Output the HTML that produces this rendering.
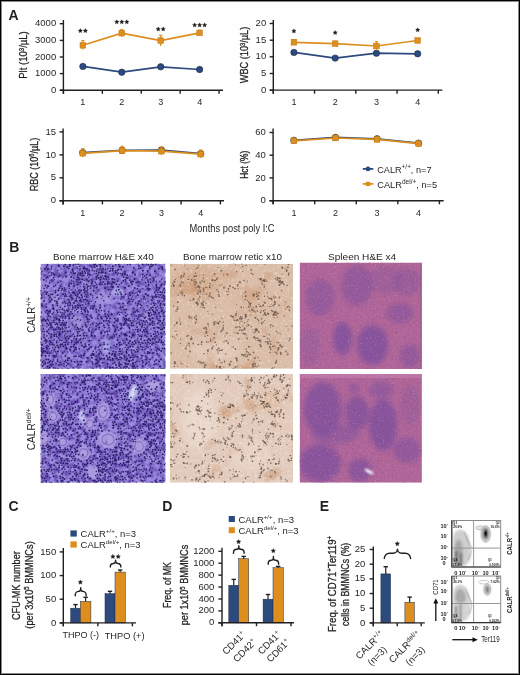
<!DOCTYPE html>
<html><head><meta charset="utf-8"><title>Figure</title>
<style>
html,body{margin:0;padding:0;background:#fff;}
body{width:520px;height:675px;overflow:hidden;position:relative;}
svg{position:absolute;left:0;top:0;display:block;will-change:transform;}
text{font-family:"Liberation Sans", sans-serif;fill:#231f20;}
.h{stroke:#231f20;stroke-width:0.3px;}
</style></head>
<body>
<svg width="520" height="675" viewBox="0 0 520 675">
<rect x="0" y="0" width="520" height="675" fill="#fff"/>
<text x="8.4" y="19.6" font-size="14" font-weight="bold" >A</text>
<line x1="63.4" y1="20.0" x2="63.4" y2="93.8" stroke="#231f20" stroke-width="1.4"/>
<line x1="59.8" y1="90.2" x2="223.0" y2="90.2" stroke="#231f20" stroke-width="1.4"/>
<line x1="59.8" y1="23.7" x2="63.4" y2="23.7" stroke="#231f20" stroke-width="1.4"/>
<line x1="59.8" y1="40.4" x2="63.4" y2="40.4" stroke="#231f20" stroke-width="1.4"/>
<line x1="59.8" y1="57.0" x2="63.4" y2="57.0" stroke="#231f20" stroke-width="1.4"/>
<line x1="59.8" y1="73.6" x2="63.4" y2="73.6" stroke="#231f20" stroke-width="1.4"/>
<line x1="59.8" y1="90.2" x2="63.4" y2="90.2" stroke="#231f20" stroke-width="1.4"/>
<line x1="63.4" y1="90.2" x2="63.4" y2="93.8" stroke="#231f20" stroke-width="1.4"/>
<line x1="102.32499999999999" y1="90.2" x2="102.32499999999999" y2="93.8" stroke="#231f20" stroke-width="1.4"/>
<line x1="141.25" y1="90.2" x2="141.25" y2="93.8" stroke="#231f20" stroke-width="1.4"/>
<line x1="180.17499999999998" y1="90.2" x2="180.17499999999998" y2="93.8" stroke="#231f20" stroke-width="1.4"/>
<line x1="219.1" y1="90.2" x2="219.1" y2="93.8" stroke="#231f20" stroke-width="1.4"/>
<text x="56.2" y="26.3" font-size="9.5" text-anchor="end" >4000</text>
<text x="56.2" y="43.0" font-size="9.5" text-anchor="end" >3000</text>
<text x="56.2" y="59.6" font-size="9.5" text-anchor="end" >2000</text>
<text x="56.2" y="76.2" font-size="9.5" text-anchor="end" >1000</text>
<text x="56.2" y="92.8" font-size="9.5" text-anchor="end" >0</text>
<text x="82.86" y="105.0" font-size="9" text-anchor="middle" >1</text>
<text x="121.79" y="105.0" font-size="9" text-anchor="middle" >2</text>
<text x="160.71" y="105.0" font-size="9" text-anchor="middle" >3</text>
<text x="199.64" y="105.0" font-size="9" text-anchor="middle" >4</text>
<text transform="translate(27.3,55.0) rotate(-90)" font-size="11.2" class="h" text-anchor="middle" textLength="47.5" lengthAdjust="spacingAndGlyphs" >Plt (10<tspan dy="-3.2" font-size="7">3</tspan><tspan dy="3.2">/µL)</tspan></text>
<line x1="273.3" y1="20.0" x2="273.3" y2="93.69999999999999" stroke="#231f20" stroke-width="1.4"/>
<line x1="269.7" y1="90.1" x2="442.3" y2="90.1" stroke="#231f20" stroke-width="1.4"/>
<line x1="269.7" y1="23.5" x2="273.3" y2="23.5" stroke="#231f20" stroke-width="1.4"/>
<line x1="269.7" y1="40.2" x2="273.3" y2="40.2" stroke="#231f20" stroke-width="1.4"/>
<line x1="269.7" y1="56.8" x2="273.3" y2="56.8" stroke="#231f20" stroke-width="1.4"/>
<line x1="269.7" y1="73.5" x2="273.3" y2="73.5" stroke="#231f20" stroke-width="1.4"/>
<line x1="269.7" y1="90.1" x2="273.3" y2="90.1" stroke="#231f20" stroke-width="1.4"/>
<line x1="273.3" y1="90.1" x2="273.3" y2="93.69999999999999" stroke="#231f20" stroke-width="1.4"/>
<line x1="314.55" y1="90.1" x2="314.55" y2="93.69999999999999" stroke="#231f20" stroke-width="1.4"/>
<line x1="355.8" y1="90.1" x2="355.8" y2="93.69999999999999" stroke="#231f20" stroke-width="1.4"/>
<line x1="397.05" y1="90.1" x2="397.05" y2="93.69999999999999" stroke="#231f20" stroke-width="1.4"/>
<line x1="438.3" y1="90.1" x2="438.3" y2="93.69999999999999" stroke="#231f20" stroke-width="1.4"/>
<text x="266.2" y="26.1" font-size="9.5" text-anchor="end" >20</text>
<text x="266.2" y="42.8" font-size="9.5" text-anchor="end" >15</text>
<text x="266.2" y="59.4" font-size="9.5" text-anchor="end" >10</text>
<text x="266.2" y="76.1" font-size="9.5" text-anchor="end" >5</text>
<text x="266.2" y="92.7" font-size="9.5" text-anchor="end" >0</text>
<text x="293.93" y="104.8" font-size="9" text-anchor="middle" >1</text>
<text x="335.18" y="104.8" font-size="9" text-anchor="middle" >2</text>
<text x="376.43" y="104.8" font-size="9" text-anchor="middle" >3</text>
<text x="417.68" y="104.8" font-size="9" text-anchor="middle" >4</text>
<text transform="translate(247.8,55.0) rotate(-90)" font-size="11.2" class="h" text-anchor="middle" textLength="56.6" lengthAdjust="spacingAndGlyphs" >WBC (10<tspan dy="-3.2" font-size="7">3</tspan><tspan dy="3.2">/µL)</tspan></text>
<line x1="63.1" y1="128.6" x2="63.1" y2="204.4" stroke="#231f20" stroke-width="1.4"/>
<line x1="59.5" y1="200.8" x2="224.0" y2="200.8" stroke="#231f20" stroke-width="1.4"/>
<line x1="59.5" y1="131.9" x2="63.1" y2="131.9" stroke="#231f20" stroke-width="1.4"/>
<line x1="59.5" y1="154.9" x2="63.1" y2="154.9" stroke="#231f20" stroke-width="1.4"/>
<line x1="59.5" y1="177.8" x2="63.1" y2="177.8" stroke="#231f20" stroke-width="1.4"/>
<line x1="59.5" y1="200.8" x2="63.1" y2="200.8" stroke="#231f20" stroke-width="1.4"/>
<line x1="63.1" y1="200.8" x2="63.1" y2="204.4" stroke="#231f20" stroke-width="1.4"/>
<line x1="102.42500000000001" y1="200.8" x2="102.42500000000001" y2="204.4" stroke="#231f20" stroke-width="1.4"/>
<line x1="141.75" y1="200.8" x2="141.75" y2="204.4" stroke="#231f20" stroke-width="1.4"/>
<line x1="181.07500000000002" y1="200.8" x2="181.07500000000002" y2="204.4" stroke="#231f20" stroke-width="1.4"/>
<line x1="220.4" y1="200.8" x2="220.4" y2="204.4" stroke="#231f20" stroke-width="1.4"/>
<text x="56.0" y="134.5" font-size="9.5" text-anchor="end" >15</text>
<text x="56.0" y="157.5" font-size="9.5" text-anchor="end" >10</text>
<text x="56.0" y="180.4" font-size="9.5" text-anchor="end" >5</text>
<text x="56.0" y="203.4" font-size="9.5" text-anchor="end" >0</text>
<text x="82.76" y="216.0" font-size="9" text-anchor="middle" >1</text>
<text x="122.09" y="216.0" font-size="9" text-anchor="middle" >2</text>
<text x="161.41" y="216.0" font-size="9" text-anchor="middle" >3</text>
<text x="200.74" y="216.0" font-size="9" text-anchor="middle" >4</text>
<text transform="translate(37.6,164.5) rotate(-90)" font-size="11.2" class="h" text-anchor="middle" textLength="53.5" lengthAdjust="spacingAndGlyphs" >RBC (10<tspan dy="-3.2" font-size="7">6</tspan><tspan dy="3.2">/µL)</tspan></text>
<line x1="273.1" y1="128.6" x2="273.1" y2="204.29999999999998" stroke="#231f20" stroke-width="1.4"/>
<line x1="269.5" y1="200.7" x2="443.7" y2="200.7" stroke="#231f20" stroke-width="1.4"/>
<line x1="269.5" y1="132.5" x2="273.1" y2="132.5" stroke="#231f20" stroke-width="1.4"/>
<line x1="269.5" y1="155.2" x2="273.1" y2="155.2" stroke="#231f20" stroke-width="1.4"/>
<line x1="269.5" y1="177.9" x2="273.1" y2="177.9" stroke="#231f20" stroke-width="1.4"/>
<line x1="269.5" y1="200.7" x2="273.1" y2="200.7" stroke="#231f20" stroke-width="1.4"/>
<line x1="273.1" y1="200.7" x2="273.1" y2="204.29999999999998" stroke="#231f20" stroke-width="1.4"/>
<line x1="314.675" y1="200.7" x2="314.675" y2="204.29999999999998" stroke="#231f20" stroke-width="1.4"/>
<line x1="356.25" y1="200.7" x2="356.25" y2="204.29999999999998" stroke="#231f20" stroke-width="1.4"/>
<line x1="397.825" y1="200.7" x2="397.825" y2="204.29999999999998" stroke="#231f20" stroke-width="1.4"/>
<line x1="439.4" y1="200.7" x2="439.4" y2="204.29999999999998" stroke="#231f20" stroke-width="1.4"/>
<text x="265.8" y="135.1" font-size="9.5" text-anchor="end" >60</text>
<text x="265.8" y="157.8" font-size="9.5" text-anchor="end" >40</text>
<text x="265.8" y="180.5" font-size="9.5" text-anchor="end" >20</text>
<text x="265.8" y="203.3" font-size="9.5" text-anchor="end" >0</text>
<text x="293.89" y="216.0" font-size="9" text-anchor="middle" >1</text>
<text x="335.46" y="216.0" font-size="9" text-anchor="middle" >2</text>
<text x="377.04" y="216.0" font-size="9" text-anchor="middle" >3</text>
<text x="418.61" y="216.0" font-size="9" text-anchor="middle" >4</text>
<text transform="translate(248.0,164.7) rotate(-90)" font-size="11.2" class="h" text-anchor="middle" textLength="28" lengthAdjust="spacingAndGlyphs" >Hct (%)</text>
<polyline points="82.86,66.4 121.79,72.2 160.71,66.8 199.64,69.5" fill="none" stroke="#2c4a7d" stroke-width="1.7"/>
<circle cx="82.86" cy="66.4" r="3.2" fill="#2c4a7d" stroke="#1c2c52" stroke-width="0.6"/>
<circle cx="121.79" cy="72.2" r="3.2" fill="#2c4a7d" stroke="#1c2c52" stroke-width="0.6"/>
<circle cx="160.71" cy="66.8" r="3.2" fill="#2c4a7d" stroke="#1c2c52" stroke-width="0.6"/>
<circle cx="199.64" cy="69.5" r="3.2" fill="#2c4a7d" stroke="#1c2c52" stroke-width="0.6"/>
<polyline points="82.86,45.3 121.79,33.2 160.71,40.6 199.64,32.9" fill="none" stroke="#dc8f1f" stroke-width="1.7"/>
<line x1="82.86" y1="40.6" x2="82.86" y2="49.5" stroke="#dc8f1f" stroke-width="1.2"/>
<line x1="81.26" y1="40.6" x2="84.46" y2="40.6" stroke="#dc8f1f" stroke-width="1.2"/>
<line x1="121.79" y1="29.6" x2="121.79" y2="36.8" stroke="#dc8f1f" stroke-width="1.2"/>
<line x1="120.19" y1="29.6" x2="123.39" y2="29.6" stroke="#dc8f1f" stroke-width="1.2"/>
<line x1="160.71" y1="35.2" x2="160.71" y2="46" stroke="#dc8f1f" stroke-width="1.2"/>
<line x1="159.11" y1="35.2" x2="162.31" y2="35.2" stroke="#dc8f1f" stroke-width="1.2"/>
<line x1="199.64" y1="30.2" x2="199.64" y2="35.6" stroke="#dc8f1f" stroke-width="1.2"/>
<line x1="198.04" y1="30.2" x2="201.24" y2="30.2" stroke="#dc8f1f" stroke-width="1.2"/>
<rect x="80.01" y="42.45" width="5.7" height="5.7" fill="#dc8f1f" stroke="#c27a14" stroke-width="0.5"/>
<rect x="118.94" y="30.35" width="5.7" height="5.7" fill="#dc8f1f" stroke="#c27a14" stroke-width="0.5"/>
<rect x="157.86" y="37.75" width="5.7" height="5.7" fill="#dc8f1f" stroke="#c27a14" stroke-width="0.5"/>
<rect x="196.79" y="30.05" width="5.7" height="5.7" fill="#dc8f1f" stroke="#c27a14" stroke-width="0.5"/>
<polygon points="80.36,28.55 81.02,29.89 82.50,30.10 81.43,31.15 81.69,32.62 80.36,31.93 79.04,32.62 79.29,31.15 78.22,30.10 79.70,29.89" fill="#231f20" stroke="#231f20" stroke-width="0.35" stroke-linejoin="round"/>
<polygon points="85.36,28.55 86.02,29.89 87.50,30.10 86.43,31.15 86.69,32.62 85.36,31.93 84.04,32.62 84.29,31.15 83.22,30.10 84.70,29.89" fill="#231f20" stroke="#231f20" stroke-width="0.35" stroke-linejoin="round"/>
<polygon points="116.79,19.75 117.45,21.09 118.93,21.30 117.86,22.35 118.11,23.82 116.79,23.12 115.46,23.82 115.72,22.35 114.65,21.30 116.13,21.09" fill="#231f20" stroke="#231f20" stroke-width="0.35" stroke-linejoin="round"/>
<polygon points="121.79,19.75 122.45,21.09 123.93,21.30 122.86,22.35 123.11,23.82 121.79,23.12 120.46,23.82 120.72,22.35 119.65,21.30 121.13,21.09" fill="#231f20" stroke="#231f20" stroke-width="0.35" stroke-linejoin="round"/>
<polygon points="126.79,19.75 127.45,21.09 128.93,21.30 127.86,22.35 128.11,23.82 126.79,23.12 125.46,23.82 125.72,22.35 124.65,21.30 126.13,21.09" fill="#231f20" stroke="#231f20" stroke-width="0.35" stroke-linejoin="round"/>
<polygon points="158.21,26.85 158.87,28.19 160.35,28.40 159.28,29.45 159.54,30.92 158.21,30.23 156.89,30.92 157.14,29.45 156.07,28.40 157.55,28.19" fill="#231f20" stroke="#231f20" stroke-width="0.35" stroke-linejoin="round"/>
<polygon points="163.21,26.85 163.87,28.19 165.35,28.40 164.28,29.45 164.54,30.92 163.21,30.23 161.89,30.92 162.14,29.45 161.07,28.40 162.55,28.19" fill="#231f20" stroke="#231f20" stroke-width="0.35" stroke-linejoin="round"/>
<polygon points="194.64,22.85 195.30,24.19 196.78,24.40 195.71,25.45 195.96,26.92 194.64,26.23 193.31,26.92 193.57,25.45 192.50,24.40 193.98,24.19" fill="#231f20" stroke="#231f20" stroke-width="0.35" stroke-linejoin="round"/>
<polygon points="199.64,22.85 200.30,24.19 201.78,24.40 200.71,25.45 200.96,26.92 199.64,26.23 198.31,26.92 198.57,25.45 197.50,24.40 198.98,24.19" fill="#231f20" stroke="#231f20" stroke-width="0.35" stroke-linejoin="round"/>
<polygon points="204.64,22.85 205.30,24.19 206.78,24.40 205.71,25.45 205.96,26.92 204.64,26.23 203.31,26.92 203.57,25.45 202.50,24.40 203.98,24.19" fill="#231f20" stroke="#231f20" stroke-width="0.35" stroke-linejoin="round"/>
<polyline points="293.93,52.4 335.18,58.1 376.43,53.2 417.68,53.8" fill="none" stroke="#2c4a7d" stroke-width="1.7"/>
<circle cx="293.93" cy="52.4" r="3.2" fill="#2c4a7d" stroke="#1c2c52" stroke-width="0.6"/>
<circle cx="335.18" cy="58.1" r="3.2" fill="#2c4a7d" stroke="#1c2c52" stroke-width="0.6"/>
<circle cx="376.43" cy="53.2" r="3.2" fill="#2c4a7d" stroke="#1c2c52" stroke-width="0.6"/>
<circle cx="417.68" cy="53.8" r="3.2" fill="#2c4a7d" stroke="#1c2c52" stroke-width="0.6"/>
<polyline points="293.93,42.3 335.18,43.7 376.43,46.0 417.68,40.5" fill="none" stroke="#dc8f1f" stroke-width="1.7"/>
<line x1="293.93" y1="39.6" x2="293.93" y2="45" stroke="#dc8f1f" stroke-width="1.2"/>
<line x1="292.32" y1="39.6" x2="295.53" y2="39.6" stroke="#dc8f1f" stroke-width="1.2"/>
<line x1="335.18" y1="41.2" x2="335.18" y2="46.2" stroke="#dc8f1f" stroke-width="1.2"/>
<line x1="333.57" y1="41.2" x2="336.78" y2="41.2" stroke="#dc8f1f" stroke-width="1.2"/>
<line x1="376.43" y1="41.6" x2="376.43" y2="50.3" stroke="#dc8f1f" stroke-width="1.2"/>
<line x1="374.82" y1="41.6" x2="378.03" y2="41.6" stroke="#dc8f1f" stroke-width="1.2"/>
<line x1="417.68" y1="38.6" x2="417.68" y2="42.4" stroke="#dc8f1f" stroke-width="1.2"/>
<line x1="416.07" y1="38.6" x2="419.28" y2="38.6" stroke="#dc8f1f" stroke-width="1.2"/>
<rect x="291.07" y="39.45" width="5.7" height="5.7" fill="#dc8f1f" stroke="#c27a14" stroke-width="0.5"/>
<rect x="332.32" y="40.85" width="5.7" height="5.7" fill="#dc8f1f" stroke="#c27a14" stroke-width="0.5"/>
<rect x="373.57" y="43.15" width="5.7" height="5.7" fill="#dc8f1f" stroke="#c27a14" stroke-width="0.5"/>
<rect x="414.82" y="37.65" width="5.7" height="5.7" fill="#dc8f1f" stroke="#c27a14" stroke-width="0.5"/>
<polygon points="293.93,28.85 294.59,30.19 296.06,30.40 294.99,31.45 295.25,32.92 293.93,32.23 292.60,32.92 292.86,31.45 291.79,30.40 293.26,30.19" fill="#231f20" stroke="#231f20" stroke-width="0.35" stroke-linejoin="round"/>
<polygon points="335.18,30.45 335.84,31.79 337.31,32.00 336.24,33.05 336.50,34.52 335.18,33.83 333.85,34.52 334.11,33.05 333.04,32.00 334.51,31.79" fill="#231f20" stroke="#231f20" stroke-width="0.35" stroke-linejoin="round"/>
<polygon points="417.68,27.75 418.34,29.09 419.81,29.30 418.74,30.35 419.00,31.82 417.68,31.12 416.35,31.82 416.61,30.35 415.54,29.30 417.01,29.09" fill="#231f20" stroke="#231f20" stroke-width="0.35" stroke-linejoin="round"/>
<polyline points="82.76,152.6 122.09,150.4 161.41,150.0 200.74,153.6" fill="none" stroke="#2c4a7d" stroke-width="1.7"/>
<circle cx="82.76" cy="152.6" r="3.2" fill="#2c4a7d" stroke="#1c2c52" stroke-width="0.6"/>
<circle cx="122.09" cy="150.4" r="3.2" fill="#2c4a7d" stroke="#1c2c52" stroke-width="0.6"/>
<circle cx="161.41" cy="150.0" r="3.2" fill="#2c4a7d" stroke="#1c2c52" stroke-width="0.6"/>
<circle cx="200.74" cy="153.6" r="3.2" fill="#2c4a7d" stroke="#1c2c52" stroke-width="0.6"/>
<polyline points="82.76,153.3 122.09,150.6 161.41,151.2 200.74,154.2" fill="none" stroke="#dc8f1f" stroke-width="1.7"/>
<line x1="82.76" y1="148.6" x2="82.76" y2="157" stroke="#dc8f1f" stroke-width="1.2"/>
<line x1="81.16" y1="148.6" x2="84.36" y2="148.6" stroke="#dc8f1f" stroke-width="1.2"/>
<line x1="122.09" y1="146.3" x2="122.09" y2="154" stroke="#dc8f1f" stroke-width="1.2"/>
<line x1="120.49" y1="146.3" x2="123.69" y2="146.3" stroke="#dc8f1f" stroke-width="1.2"/>
<line x1="161.41" y1="147" x2="161.41" y2="155" stroke="#dc8f1f" stroke-width="1.2"/>
<line x1="159.81" y1="147" x2="163.01" y2="147" stroke="#dc8f1f" stroke-width="1.2"/>
<line x1="200.74" y1="150" x2="200.74" y2="157.5" stroke="#dc8f1f" stroke-width="1.2"/>
<line x1="199.14" y1="150" x2="202.34" y2="150" stroke="#dc8f1f" stroke-width="1.2"/>
<rect x="79.91" y="150.45" width="5.7" height="5.7" fill="#dc8f1f" stroke="#c27a14" stroke-width="0.5"/>
<rect x="119.24" y="147.75" width="5.7" height="5.7" fill="#dc8f1f" stroke="#c27a14" stroke-width="0.5"/>
<rect x="158.56" y="148.35" width="5.7" height="5.7" fill="#dc8f1f" stroke="#c27a14" stroke-width="0.5"/>
<rect x="197.89" y="151.35" width="5.7" height="5.7" fill="#dc8f1f" stroke="#c27a14" stroke-width="0.5"/>
<polyline points="293.89,140.3 335.46,137.4 377.04,138.8 418.61,143.1" fill="none" stroke="#2c4a7d" stroke-width="1.7"/>
<circle cx="293.89" cy="140.3" r="3.2" fill="#2c4a7d" stroke="#1c2c52" stroke-width="0.6"/>
<circle cx="335.46" cy="137.4" r="3.2" fill="#2c4a7d" stroke="#1c2c52" stroke-width="0.6"/>
<circle cx="377.04" cy="138.8" r="3.2" fill="#2c4a7d" stroke="#1c2c52" stroke-width="0.6"/>
<circle cx="418.61" cy="143.1" r="3.2" fill="#2c4a7d" stroke="#1c2c52" stroke-width="0.6"/>
<polyline points="293.89,140.9 335.46,138.0 377.04,139.4 418.61,143.7" fill="none" stroke="#dc8f1f" stroke-width="1.7"/>
<line x1="293.89" y1="138" x2="293.89" y2="144" stroke="#dc8f1f" stroke-width="1.2"/>
<line x1="292.29" y1="138" x2="295.49" y2="138" stroke="#dc8f1f" stroke-width="1.2"/>
<line x1="335.46" y1="135.5" x2="335.46" y2="140.5" stroke="#dc8f1f" stroke-width="1.2"/>
<line x1="333.86" y1="135.5" x2="337.06" y2="135.5" stroke="#dc8f1f" stroke-width="1.2"/>
<line x1="377.04" y1="137" x2="377.04" y2="142" stroke="#dc8f1f" stroke-width="1.2"/>
<line x1="375.44" y1="137" x2="378.64" y2="137" stroke="#dc8f1f" stroke-width="1.2"/>
<line x1="418.61" y1="141" x2="418.61" y2="146.5" stroke="#dc8f1f" stroke-width="1.2"/>
<line x1="417.01" y1="141" x2="420.21" y2="141" stroke="#dc8f1f" stroke-width="1.2"/>
<rect x="291.04" y="138.05" width="5.7" height="5.7" fill="#dc8f1f" stroke="#c27a14" stroke-width="0.5"/>
<rect x="332.61" y="135.15" width="5.7" height="5.7" fill="#dc8f1f" stroke="#c27a14" stroke-width="0.5"/>
<rect x="374.19" y="136.55" width="5.7" height="5.7" fill="#dc8f1f" stroke="#c27a14" stroke-width="0.5"/>
<rect x="415.76" y="140.85" width="5.7" height="5.7" fill="#dc8f1f" stroke="#c27a14" stroke-width="0.5"/>
<line x1="362.8" y1="168.9" x2="373.3" y2="168.9" stroke="#2c4a7d" stroke-width="1.8"/>
<circle cx="368" cy="168.9" r="2.4" fill="#2c4a7d"/>
<line x1="362.8" y1="183.9" x2="373.3" y2="183.9" stroke="#dc8f1f" stroke-width="1.8"/>
<rect x="365.8" y="181.7" width="4.4" height="4.4" fill="#dc8f1f"/>
<text x="377.2" y="172.6" font-size="9" textLength="54.3" lengthAdjust="spacingAndGlyphs" >CALR<tspan dy="-3.3" font-size="6.3">+/+</tspan><tspan dy="3.3">, n=7</tspan></text>
<text x="377.2" y="187.6" font-size="9" textLength="60.0" lengthAdjust="spacingAndGlyphs" >CALR<tspan dy="-3.3" font-size="6.3">del/+</tspan><tspan dy="3.3">, n=5</tspan></text>
<text x="189.6" y="232.2" font-size="10.3" textLength="85.0" lengthAdjust="spacingAndGlyphs" >Months post poly I:C</text>
<text x="9.3" y="252.4" font-size="14" font-weight="bold" >B</text>
<text x="53.0" y="259.8" font-size="9.6" textLength="100.7" lengthAdjust="spacingAndGlyphs" >Bone marrow H&amp;E x40</text>
<text x="183.0" y="259.8" font-size="9.6" textLength="99.0" lengthAdjust="spacingAndGlyphs" >Bone marrow retic x10</text>
<text x="328.0" y="259.8" font-size="9.6" textLength="68.2" lengthAdjust="spacingAndGlyphs" >Spleen H&amp;E x4</text>
<text transform="translate(34.6,315.0) rotate(-90)" font-size="10" text-anchor="middle" textLength="35.5" lengthAdjust="spacingAndGlyphs" >CALR<tspan dy="-3.6" font-size="6.8">+/+</tspan><tspan dy="3.6"></tspan></text>
<text transform="translate(34.6,429.2) rotate(-90)" font-size="10" text-anchor="middle" textLength="42.0" lengthAdjust="spacingAndGlyphs" >CALR<tspan dy="-3.6" font-size="6.8">del/+</tspan><tspan dy="3.6"></tspan></text>
<defs>
<clipPath id="che1"><rect x="40.5" y="263.8" width="125" height="105"/></clipPath>
<clipPath id="che2"><rect x="40.5" y="374.0" width="125" height="108.7"/></clipPath>
<clipPath id="crt1"><rect x="170.0" y="263.8" width="123" height="105"/></clipPath>
<clipPath id="crt2"><rect x="170.0" y="374.0" width="123" height="108.7"/></clipPath>
<clipPath id="csp1"><rect x="299.6" y="262.5" width="122.3" height="106.6"/></clipPath>
<clipPath id="csp2"><rect x="299.6" y="374.0" width="122.3" height="108.7"/></clipPath>
<filter id="fmot1" x="0" y="0" width="100%" height="100%" color-interpolation-filters="sRGB"><feTurbulence type="fractalNoise" baseFrequency="0.22" numOctaves="1" seed="3"/><feColorMatrix type="matrix" values="0 0 0 0 0.4 0 0 0 0 0.3 0 0 0 0 0.7 -3 0 0 0 1.75"/></filter>
<filter id="fmot2" x="0" y="0" width="100%" height="100%" color-interpolation-filters="sRGB"><feTurbulence type="fractalNoise" baseFrequency="0.22" numOctaves="1" seed="5"/><feColorMatrix type="matrix" values="0 0 0 0 0.4 0 0 0 0 0.3 0 0 0 0 0.7 -3 0 0 0 1.75"/></filter>
<filter id="frm1" x="0" y="0" width="100%" height="100%" color-interpolation-filters="sRGB"><feTurbulence type="fractalNoise" baseFrequency="0.4" numOctaves="1" seed="19"/><feColorMatrix type="matrix" values="0 0 0 0 0.95 0 0 0 0 0.89 0 0 0 0 0.85 -2.5 0 0 0 1.12"/></filter>
<filter id="frm2" x="0" y="0" width="100%" height="100%" color-interpolation-filters="sRGB"><feTurbulence type="fractalNoise" baseFrequency="0.4" numOctaves="1" seed="23"/><feColorMatrix type="matrix" values="0 0 0 0 0.95 0 0 0 0 0.89 0 0 0 0 0.85 -2.5 0 0 0 1.16"/></filter>
<filter id="frd1" x="0" y="0" width="100%" height="100%" color-interpolation-filters="sRGB"><feTurbulence type="fractalNoise" baseFrequency="0.05" numOctaves="2" seed="31"/><feColorMatrix type="matrix" values="0 0 0 0 0.8 0 0 0 0 0.62 0 0 0 0 0.5 -3.5 0 0 0 1.5"/></filter>
<filter id="frd2" x="0" y="0" width="100%" height="100%" color-interpolation-filters="sRGB"><feTurbulence type="fractalNoise" baseFrequency="0.05" numOctaves="2" seed="37"/><feColorMatrix type="matrix" values="0 0 0 0 0.8 0 0 0 0 0.62 0 0 0 0 0.5 -3.5 0 0 0 1.35"/></filter>
<filter id="fsp" x="0" y="0" width="100%" height="100%" color-interpolation-filters="sRGB"><feTurbulence type="fractalNoise" baseFrequency="0.6" numOctaves="1" seed="29"/><feColorMatrix type="matrix" values="0 0 0 0 0.86 0 0 0 0 0.56 0 0 0 0 0.72 -3 0 0 0 1.25"/></filter>
<filter id="fspd" x="0" y="0" width="100%" height="100%" color-interpolation-filters="sRGB"><feTurbulence type="fractalNoise" baseFrequency="0.5" numOctaves="1" seed="41"/><feColorMatrix type="matrix" values="0 0 0 0 0.52 0 0 0 0 0.32 0 0 0 0 0.55 -3 0 0 0 1.25"/></filter>
<filter id="blur25" x="-30%" y="-30%" width="160%" height="160%"><feGaussianBlur stdDeviation="2.5"/></filter><filter id="blur1" x="-30%" y="-30%" width="160%" height="160%"><feGaussianBlur stdDeviation="0.8"/></filter>
<filter id="blur4" x="-30%" y="-30%" width="160%" height="160%"><feGaussianBlur stdDeviation="4"/></filter>
<filter id="blur2" x="-20%" y="-20%" width="140%" height="140%"><feGaussianBlur stdDeviation="1.5"/></filter>
<filter id="blur05" x="-20%" y="-20%" width="140%" height="140%"><feGaussianBlur stdDeviation="0.45"/></filter>
</defs>
<g clip-path="url(#che1)">
<rect x="40.5" y="263.8" width="125" height="105" fill="#9a8ade"/>
<rect x="40.5" y="263.8" width="125" height="105" filter="url(#fmot1)"/>
<g filter="url(#blur2)"><ellipse cx="105" cy="298" rx="9" ry="5" fill="#a99ae0" fill-opacity="0.8"/><ellipse cx="118" cy="292" rx="6" ry="4" fill="#b4b6ee" fill-opacity="0.8"/><ellipse cx="77" cy="321" rx="8" ry="6" fill="#a493da" fill-opacity="0.7"/><ellipse cx="57" cy="300" rx="4" ry="14" fill="#a8a4e6" fill-opacity="0.6" transform="rotate(-10 57 300)"/><ellipse cx="106" cy="345" rx="4" ry="9" fill="#b0b0ee" fill-opacity="0.7"/><ellipse cx="146" cy="318" rx="5" ry="5" fill="#a493da" fill-opacity="0.7"/><ellipse cx="134" cy="345" rx="4" ry="8" fill="#a69be2" fill-opacity="0.5"/></g>
<g fill="#56389c" fill-opacity="0.45" filter="url(#blur05)"><circle cx="120.4" cy="266.4" r="0.7"/><circle cx="132.6" cy="334.9" r="0.6"/><circle cx="93.2" cy="266.9" r="0.9"/><circle cx="108.6" cy="286.9" r="1.0"/><circle cx="41.3" cy="348.4" r="0.8"/><circle cx="59.9" cy="364.3" r="0.6"/><circle cx="52.6" cy="352.8" r="1.0"/><circle cx="117.8" cy="354.3" r="1.0"/><circle cx="46.2" cy="287.7" r="0.6"/><circle cx="69.6" cy="274.4" r="0.9"/><circle cx="86.1" cy="302.7" r="0.7"/><circle cx="157.6" cy="331.8" r="0.7"/><circle cx="131.6" cy="281.0" r="1.1"/><circle cx="145.9" cy="345.3" r="0.6"/><circle cx="79.9" cy="291.9" r="1.1"/><circle cx="150.0" cy="296.8" r="0.8"/><circle cx="154.8" cy="312.0" r="0.7"/><circle cx="110.7" cy="291.4" r="1.0"/><circle cx="104.2" cy="273.3" r="0.7"/><circle cx="118.9" cy="347.0" r="0.6"/><circle cx="88.2" cy="368.4" r="1.1"/><circle cx="125.7" cy="320.2" r="0.9"/><circle cx="54.4" cy="309.5" r="1.1"/><circle cx="150.0" cy="291.5" r="0.7"/><circle cx="154.6" cy="355.2" r="0.9"/><circle cx="107.9" cy="345.6" r="0.6"/><circle cx="150.3" cy="351.1" r="0.6"/><circle cx="150.3" cy="363.2" r="0.8"/><circle cx="49.2" cy="343.7" r="0.7"/><circle cx="99.9" cy="321.5" r="1.0"/><circle cx="93.4" cy="286.0" r="1.0"/><circle cx="121.7" cy="309.8" r="0.7"/><circle cx="68.6" cy="299.3" r="0.7"/><circle cx="141.4" cy="283.8" r="0.8"/><circle cx="124.7" cy="367.1" r="0.8"/><circle cx="82.9" cy="354.3" r="0.7"/><circle cx="96.6" cy="308.1" r="0.7"/><circle cx="155.9" cy="310.3" r="0.9"/><circle cx="61.3" cy="314.8" r="0.8"/><circle cx="73.7" cy="346.1" r="0.8"/><circle cx="130.3" cy="280.1" r="1.1"/><circle cx="47.6" cy="325.1" r="1.0"/><circle cx="60.2" cy="364.7" r="0.7"/><circle cx="114.9" cy="334.7" r="0.7"/><circle cx="151.8" cy="289.7" r="0.9"/><circle cx="92.9" cy="325.1" r="1.1"/><circle cx="66.0" cy="339.0" r="0.8"/><circle cx="124.5" cy="295.3" r="1.0"/><circle cx="165.0" cy="271.5" r="0.7"/><circle cx="86.7" cy="280.4" r="1.0"/><circle cx="117.0" cy="367.5" r="0.6"/><circle cx="157.9" cy="277.9" r="0.7"/><circle cx="109.7" cy="292.4" r="1.0"/><circle cx="65.9" cy="330.4" r="0.8"/><circle cx="153.7" cy="352.6" r="0.8"/><circle cx="109.5" cy="308.7" r="0.6"/><circle cx="150.9" cy="358.7" r="1.0"/><circle cx="113.3" cy="279.3" r="0.8"/><circle cx="152.9" cy="285.9" r="0.7"/><circle cx="138.0" cy="356.6" r="0.9"/><circle cx="43.6" cy="341.1" r="1.1"/><circle cx="140.8" cy="354.5" r="0.7"/><circle cx="68.9" cy="266.3" r="0.8"/><circle cx="148.5" cy="365.3" r="0.9"/><circle cx="90.5" cy="366.8" r="1.1"/><circle cx="54.9" cy="365.7" r="1.1"/><circle cx="73.7" cy="275.2" r="1.0"/><circle cx="88.6" cy="324.3" r="1.0"/><circle cx="40.7" cy="361.0" r="1.0"/><circle cx="133.2" cy="334.2" r="0.6"/><circle cx="123.5" cy="298.5" r="1.0"/><circle cx="130.5" cy="295.3" r="0.8"/><circle cx="90.8" cy="294.8" r="0.8"/><circle cx="40.6" cy="293.9" r="0.9"/><circle cx="122.3" cy="312.6" r="0.7"/><circle cx="61.7" cy="272.7" r="0.9"/><circle cx="124.6" cy="287.4" r="0.6"/><circle cx="71.1" cy="313.7" r="0.6"/><circle cx="92.3" cy="329.9" r="0.9"/><circle cx="102.3" cy="289.4" r="0.6"/><circle cx="134.4" cy="344.7" r="0.8"/><circle cx="62.5" cy="364.4" r="0.6"/><circle cx="71.6" cy="352.9" r="1.0"/><circle cx="123.9" cy="367.5" r="1.1"/><circle cx="151.9" cy="328.1" r="0.9"/><circle cx="144.3" cy="321.3" r="1.0"/><circle cx="99.8" cy="291.0" r="0.9"/><circle cx="136.2" cy="318.5" r="0.7"/><circle cx="50.2" cy="293.8" r="0.8"/><circle cx="108.0" cy="278.3" r="0.9"/><circle cx="128.8" cy="270.5" r="0.9"/><circle cx="92.5" cy="285.5" r="1.1"/><circle cx="136.2" cy="303.7" r="0.8"/><circle cx="134.7" cy="353.4" r="0.8"/><circle cx="133.9" cy="321.1" r="0.7"/><circle cx="67.9" cy="309.6" r="0.8"/><circle cx="125.4" cy="306.3" r="0.8"/><circle cx="56.5" cy="329.1" r="0.8"/><circle cx="111.0" cy="266.6" r="0.7"/><circle cx="98.2" cy="269.1" r="0.7"/><circle cx="81.4" cy="343.7" r="1.0"/><circle cx="144.5" cy="290.3" r="0.6"/><circle cx="107.9" cy="368.8" r="0.9"/><circle cx="138.2" cy="332.2" r="1.1"/><circle cx="65.4" cy="265.9" r="0.7"/><circle cx="124.2" cy="323.0" r="0.9"/><circle cx="161.1" cy="275.2" r="0.8"/><circle cx="125.2" cy="364.4" r="1.0"/><circle cx="50.0" cy="336.3" r="0.7"/><circle cx="137.1" cy="353.1" r="0.7"/><circle cx="163.5" cy="346.0" r="0.8"/><circle cx="86.8" cy="316.9" r="1.0"/><circle cx="119.9" cy="350.8" r="0.8"/><circle cx="132.2" cy="365.2" r="1.0"/><circle cx="107.8" cy="314.6" r="1.0"/><circle cx="51.3" cy="356.4" r="0.8"/><circle cx="116.8" cy="303.6" r="1.0"/><circle cx="51.2" cy="339.4" r="1.0"/><circle cx="126.8" cy="331.6" r="1.0"/><circle cx="81.8" cy="337.6" r="0.7"/><circle cx="55.6" cy="284.0" r="0.9"/><circle cx="135.8" cy="283.2" r="0.8"/><circle cx="131.1" cy="366.3" r="0.7"/><circle cx="53.1" cy="284.2" r="0.7"/><circle cx="42.3" cy="319.9" r="1.1"/><circle cx="109.7" cy="337.0" r="1.0"/><circle cx="101.9" cy="355.4" r="0.8"/><circle cx="95.6" cy="283.2" r="1.1"/><circle cx="100.2" cy="350.1" r="0.6"/><circle cx="119.2" cy="269.4" r="0.9"/><circle cx="78.5" cy="368.2" r="1.0"/><circle cx="116.3" cy="346.8" r="0.9"/><circle cx="164.3" cy="295.9" r="0.9"/><circle cx="133.0" cy="363.3" r="0.7"/><circle cx="123.1" cy="280.3" r="0.6"/><circle cx="40.8" cy="311.1" r="0.7"/><circle cx="69.4" cy="338.0" r="0.8"/><circle cx="126.4" cy="360.8" r="0.9"/><circle cx="123.1" cy="361.8" r="0.9"/><circle cx="121.5" cy="359.2" r="0.6"/><circle cx="61.2" cy="296.1" r="0.9"/><circle cx="76.6" cy="276.9" r="0.9"/><circle cx="158.3" cy="316.3" r="0.6"/><circle cx="45.5" cy="309.2" r="0.7"/><circle cx="124.5" cy="292.1" r="1.0"/><circle cx="63.2" cy="325.3" r="0.8"/><circle cx="51.9" cy="300.3" r="0.9"/><circle cx="147.7" cy="298.4" r="0.7"/><circle cx="158.6" cy="349.2" r="0.8"/><circle cx="79.8" cy="297.7" r="0.8"/><circle cx="104.8" cy="367.6" r="0.9"/><circle cx="92.2" cy="283.5" r="1.0"/><circle cx="118.7" cy="343.6" r="0.9"/><circle cx="156.5" cy="309.8" r="0.7"/><circle cx="162.1" cy="327.7" r="0.7"/><circle cx="109.4" cy="321.8" r="1.1"/><circle cx="154.6" cy="312.3" r="1.0"/><circle cx="102.8" cy="339.0" r="0.7"/><circle cx="144.8" cy="366.7" r="0.9"/><circle cx="88.4" cy="360.6" r="1.0"/><circle cx="92.4" cy="361.9" r="1.0"/><circle cx="75.9" cy="295.1" r="1.1"/><circle cx="101.7" cy="279.4" r="0.8"/><circle cx="109.5" cy="320.9" r="0.8"/><circle cx="64.1" cy="337.0" r="0.7"/><circle cx="128.7" cy="349.0" r="0.9"/><circle cx="143.1" cy="366.8" r="0.6"/><circle cx="149.8" cy="310.0" r="0.8"/><circle cx="88.0" cy="297.0" r="1.0"/><circle cx="149.5" cy="267.6" r="0.9"/><circle cx="94.7" cy="274.1" r="1.0"/><circle cx="46.2" cy="347.4" r="0.8"/><circle cx="58.7" cy="319.6" r="1.0"/><circle cx="58.4" cy="312.2" r="0.7"/><circle cx="41.7" cy="348.3" r="0.9"/><circle cx="60.2" cy="310.2" r="0.9"/><circle cx="120.4" cy="308.4" r="1.0"/><circle cx="65.4" cy="304.2" r="0.7"/><circle cx="102.6" cy="358.7" r="1.0"/><circle cx="122.9" cy="351.8" r="1.1"/><circle cx="121.3" cy="296.2" r="0.9"/><circle cx="132.0" cy="273.3" r="1.0"/><circle cx="62.5" cy="277.7" r="1.1"/><circle cx="106.9" cy="359.7" r="0.7"/><circle cx="143.6" cy="314.4" r="1.0"/><circle cx="42.2" cy="320.1" r="0.9"/><circle cx="158.0" cy="275.2" r="0.6"/><circle cx="151.0" cy="322.7" r="0.7"/><circle cx="48.4" cy="350.3" r="0.8"/><circle cx="91.5" cy="278.5" r="0.8"/><circle cx="102.1" cy="274.0" r="0.7"/><circle cx="158.7" cy="307.8" r="0.7"/><circle cx="92.4" cy="274.2" r="0.8"/><circle cx="159.4" cy="267.2" r="0.8"/><circle cx="159.3" cy="353.6" r="0.9"/><circle cx="108.6" cy="366.5" r="0.8"/><circle cx="115.1" cy="266.0" r="0.7"/><circle cx="56.2" cy="323.1" r="1.0"/><circle cx="81.6" cy="279.3" r="0.6"/><circle cx="147.8" cy="279.0" r="0.7"/><circle cx="62.3" cy="333.2" r="0.6"/><circle cx="139.2" cy="288.8" r="0.7"/><circle cx="47.0" cy="341.7" r="1.0"/><circle cx="100.0" cy="345.5" r="0.7"/><circle cx="103.5" cy="363.1" r="1.0"/><circle cx="148.9" cy="318.6" r="1.1"/><circle cx="48.1" cy="314.1" r="0.9"/><circle cx="101.8" cy="359.3" r="0.6"/><circle cx="116.5" cy="270.7" r="0.9"/><circle cx="52.9" cy="337.5" r="0.9"/><circle cx="136.6" cy="339.5" r="0.8"/><circle cx="69.1" cy="299.4" r="0.8"/><circle cx="52.4" cy="308.6" r="0.8"/><circle cx="59.6" cy="360.7" r="1.0"/><circle cx="142.0" cy="322.2" r="0.9"/><circle cx="81.7" cy="276.6" r="0.9"/><circle cx="134.3" cy="354.9" r="1.1"/><circle cx="67.1" cy="332.8" r="0.7"/><circle cx="146.2" cy="302.4" r="0.9"/><circle cx="142.8" cy="328.2" r="0.6"/><circle cx="156.6" cy="350.9" r="0.7"/><circle cx="128.3" cy="296.2" r="0.6"/><circle cx="149.2" cy="323.3" r="0.7"/><circle cx="119.6" cy="267.0" r="0.7"/><circle cx="93.0" cy="299.6" r="1.0"/><circle cx="137.6" cy="323.4" r="0.6"/><circle cx="60.2" cy="328.7" r="0.7"/><circle cx="123.2" cy="314.8" r="0.7"/><circle cx="134.9" cy="275.8" r="0.7"/><circle cx="46.2" cy="305.3" r="0.6"/><circle cx="78.2" cy="286.0" r="0.7"/><circle cx="81.5" cy="264.6" r="0.7"/><circle cx="88.0" cy="337.7" r="1.0"/><circle cx="148.3" cy="324.3" r="1.0"/><circle cx="92.7" cy="275.9" r="0.8"/><circle cx="140.7" cy="328.7" r="1.1"/><circle cx="51.5" cy="352.5" r="0.9"/><circle cx="106.0" cy="305.4" r="0.8"/><circle cx="82.1" cy="281.5" r="0.7"/><circle cx="104.2" cy="358.9" r="1.0"/><circle cx="142.9" cy="349.4" r="0.7"/><circle cx="65.2" cy="327.1" r="0.9"/><circle cx="62.6" cy="344.9" r="1.0"/><circle cx="148.5" cy="329.7" r="0.6"/><circle cx="47.5" cy="317.1" r="0.8"/><circle cx="47.6" cy="351.1" r="1.0"/><circle cx="147.4" cy="328.4" r="0.8"/><circle cx="80.7" cy="313.7" r="0.6"/><circle cx="53.4" cy="358.2" r="1.0"/><circle cx="103.6" cy="281.9" r="0.8"/><circle cx="95.4" cy="318.7" r="0.8"/><circle cx="75.9" cy="306.7" r="0.9"/><circle cx="139.2" cy="331.8" r="0.6"/><circle cx="122.6" cy="359.0" r="0.8"/><circle cx="113.3" cy="278.6" r="1.1"/><circle cx="157.8" cy="296.3" r="1.0"/><circle cx="142.1" cy="334.2" r="1.0"/><circle cx="126.2" cy="319.1" r="0.8"/><circle cx="85.7" cy="301.9" r="0.7"/><circle cx="159.0" cy="314.9" r="0.7"/><circle cx="50.1" cy="352.5" r="1.0"/><circle cx="144.9" cy="356.6" r="0.8"/><circle cx="136.3" cy="277.6" r="0.7"/><circle cx="144.4" cy="344.8" r="0.7"/><circle cx="95.2" cy="306.9" r="0.7"/><circle cx="96.0" cy="293.7" r="0.8"/><circle cx="99.1" cy="351.5" r="1.1"/><circle cx="163.6" cy="312.3" r="0.8"/><circle cx="106.4" cy="365.3" r="1.0"/><circle cx="57.8" cy="290.1" r="1.0"/><circle cx="109.8" cy="274.6" r="1.0"/><circle cx="76.1" cy="343.9" r="1.1"/><circle cx="68.3" cy="311.2" r="0.6"/><circle cx="47.2" cy="316.5" r="1.1"/><circle cx="145.4" cy="332.0" r="0.7"/><circle cx="57.8" cy="337.9" r="0.6"/><circle cx="109.1" cy="340.2" r="0.7"/><circle cx="76.5" cy="295.4" r="0.8"/><circle cx="139.7" cy="311.8" r="1.1"/><circle cx="115.1" cy="265.5" r="0.7"/><circle cx="58.4" cy="308.9" r="0.7"/><circle cx="92.6" cy="333.6" r="1.1"/><circle cx="49.0" cy="319.0" r="1.1"/><circle cx="109.8" cy="304.8" r="0.9"/><circle cx="163.1" cy="290.4" r="1.0"/><circle cx="136.9" cy="341.0" r="0.6"/><circle cx="108.8" cy="349.2" r="1.0"/><circle cx="97.7" cy="294.6" r="0.7"/><circle cx="45.7" cy="361.8" r="1.1"/><circle cx="64.4" cy="301.3" r="1.0"/><circle cx="82.0" cy="276.9" r="1.0"/><circle cx="133.4" cy="357.7" r="1.1"/><circle cx="50.4" cy="327.1" r="0.9"/><circle cx="80.7" cy="272.2" r="0.8"/><circle cx="84.6" cy="368.6" r="1.1"/><circle cx="159.0" cy="271.7" r="0.8"/><circle cx="140.6" cy="335.1" r="0.7"/><circle cx="116.4" cy="345.8" r="0.6"/><circle cx="137.8" cy="302.3" r="0.9"/><circle cx="71.7" cy="275.7" r="0.8"/><circle cx="88.9" cy="322.8" r="0.7"/><circle cx="96.3" cy="368.4" r="1.1"/><circle cx="101.9" cy="276.7" r="0.8"/><circle cx="152.8" cy="310.5" r="0.9"/><circle cx="146.2" cy="297.4" r="0.6"/><circle cx="129.5" cy="361.2" r="1.0"/><circle cx="104.1" cy="276.5" r="0.7"/><circle cx="117.0" cy="272.9" r="1.1"/><circle cx="94.6" cy="359.4" r="0.7"/><circle cx="59.6" cy="281.1" r="1.0"/><circle cx="146.2" cy="290.1" r="0.9"/><circle cx="56.1" cy="295.6" r="0.9"/><circle cx="61.6" cy="362.7" r="0.9"/><circle cx="111.0" cy="350.4" r="0.6"/><circle cx="136.4" cy="307.5" r="0.8"/><circle cx="77.7" cy="271.5" r="0.8"/><circle cx="101.0" cy="285.2" r="0.8"/><circle cx="130.3" cy="340.9" r="1.1"/><circle cx="56.8" cy="302.7" r="0.8"/><circle cx="98.8" cy="291.9" r="0.6"/><circle cx="76.8" cy="304.1" r="0.7"/><circle cx="148.7" cy="280.6" r="0.9"/><circle cx="79.6" cy="343.9" r="0.9"/><circle cx="102.8" cy="296.2" r="1.1"/><circle cx="103.7" cy="365.3" r="0.8"/><circle cx="122.3" cy="313.2" r="1.0"/><circle cx="136.0" cy="302.2" r="0.9"/><circle cx="64.8" cy="321.9" r="0.9"/><circle cx="89.7" cy="347.3" r="1.1"/><circle cx="103.0" cy="268.6" r="0.8"/><circle cx="99.7" cy="311.8" r="0.9"/><circle cx="81.5" cy="328.2" r="1.1"/><circle cx="132.9" cy="295.2" r="1.0"/><circle cx="107.0" cy="338.2" r="1.0"/><circle cx="113.5" cy="347.5" r="0.9"/><circle cx="138.4" cy="345.3" r="1.0"/><circle cx="113.4" cy="281.7" r="0.9"/><circle cx="44.4" cy="363.4" r="0.6"/><circle cx="79.7" cy="279.7" r="0.8"/><circle cx="137.4" cy="360.5" r="1.0"/><circle cx="48.3" cy="278.3" r="0.8"/><circle cx="123.3" cy="319.0" r="0.7"/><circle cx="154.5" cy="299.7" r="1.0"/><circle cx="130.6" cy="331.3" r="0.9"/><circle cx="64.5" cy="289.7" r="0.7"/><circle cx="162.1" cy="295.0" r="0.7"/><circle cx="128.6" cy="297.1" r="1.1"/><circle cx="139.9" cy="292.5" r="0.9"/><circle cx="159.8" cy="348.3" r="0.7"/><circle cx="129.8" cy="300.2" r="0.7"/><circle cx="100.4" cy="285.0" r="1.1"/><circle cx="106.9" cy="330.8" r="0.8"/><circle cx="51.7" cy="324.1" r="1.0"/><circle cx="157.6" cy="359.7" r="1.0"/><circle cx="41.7" cy="323.4" r="1.1"/><circle cx="99.0" cy="284.0" r="0.7"/><circle cx="97.9" cy="290.8" r="1.0"/><circle cx="139.3" cy="323.4" r="0.7"/><circle cx="104.9" cy="272.9" r="0.7"/><circle cx="58.1" cy="297.8" r="0.7"/><circle cx="78.2" cy="339.7" r="0.9"/><circle cx="127.1" cy="270.3" r="0.8"/><circle cx="128.4" cy="296.5" r="1.1"/><circle cx="77.4" cy="328.3" r="0.7"/><circle cx="59.6" cy="342.3" r="0.8"/><circle cx="123.5" cy="286.7" r="1.0"/><circle cx="149.6" cy="272.4" r="1.0"/><circle cx="50.3" cy="323.0" r="0.9"/><circle cx="103.7" cy="323.9" r="0.8"/><circle cx="105.5" cy="276.0" r="0.9"/><circle cx="51.9" cy="317.4" r="0.8"/><circle cx="104.7" cy="311.8" r="0.8"/><circle cx="141.4" cy="339.7" r="1.0"/><circle cx="133.7" cy="324.5" r="0.8"/><circle cx="49.1" cy="361.8" r="0.8"/><circle cx="136.6" cy="344.2" r="0.9"/><circle cx="93.0" cy="368.0" r="1.0"/><circle cx="153.8" cy="303.2" r="0.9"/><circle cx="107.9" cy="332.4" r="0.7"/><circle cx="68.3" cy="264.2" r="0.7"/><circle cx="124.7" cy="321.0" r="1.0"/><circle cx="71.4" cy="300.1" r="1.1"/><circle cx="42.5" cy="285.4" r="0.6"/><circle cx="115.2" cy="337.6" r="1.0"/><circle cx="90.8" cy="288.4" r="1.0"/><circle cx="47.6" cy="316.7" r="1.0"/><circle cx="124.6" cy="297.5" r="0.7"/><circle cx="123.0" cy="287.0" r="0.6"/><circle cx="118.7" cy="308.7" r="1.1"/><circle cx="158.2" cy="334.3" r="0.8"/><circle cx="92.5" cy="279.5" r="1.0"/><circle cx="99.7" cy="353.0" r="1.0"/><circle cx="141.2" cy="359.8" r="1.1"/><circle cx="110.2" cy="277.9" r="0.7"/><circle cx="121.3" cy="360.6" r="0.6"/><circle cx="131.1" cy="283.8" r="0.9"/><circle cx="115.9" cy="355.5" r="1.0"/><circle cx="131.0" cy="322.5" r="1.0"/><circle cx="82.1" cy="364.3" r="1.1"/><circle cx="100.4" cy="289.3" r="0.7"/><circle cx="154.9" cy="321.8" r="0.8"/><circle cx="104.6" cy="316.0" r="1.1"/><circle cx="86.8" cy="307.3" r="0.7"/><circle cx="112.9" cy="307.6" r="0.8"/><circle cx="88.0" cy="351.3" r="0.9"/><circle cx="161.3" cy="331.2" r="0.7"/><circle cx="101.5" cy="360.1" r="0.9"/><circle cx="158.6" cy="334.0" r="0.8"/><circle cx="41.6" cy="316.9" r="0.9"/><circle cx="123.8" cy="328.5" r="0.8"/><circle cx="41.3" cy="321.7" r="0.9"/><circle cx="74.8" cy="366.4" r="1.0"/><circle cx="124.8" cy="348.4" r="0.7"/><circle cx="52.5" cy="279.4" r="0.9"/><circle cx="142.4" cy="291.9" r="0.8"/><circle cx="122.2" cy="353.9" r="0.6"/><circle cx="87.9" cy="321.8" r="0.6"/><circle cx="61.9" cy="316.3" r="1.0"/><circle cx="111.2" cy="353.9" r="0.9"/><circle cx="151.4" cy="313.7" r="0.6"/><circle cx="156.2" cy="358.2" r="0.6"/><circle cx="113.9" cy="342.8" r="0.8"/><circle cx="50.1" cy="280.9" r="1.0"/><circle cx="89.1" cy="357.9" r="1.0"/><circle cx="103.1" cy="366.1" r="0.8"/><circle cx="159.9" cy="305.5" r="0.6"/><circle cx="74.7" cy="368.0" r="0.8"/><circle cx="158.1" cy="309.1" r="0.9"/><circle cx="51.2" cy="328.8" r="1.0"/><circle cx="119.7" cy="341.5" r="0.7"/><circle cx="41.1" cy="296.2" r="0.7"/><circle cx="57.1" cy="283.5" r="0.9"/><circle cx="91.5" cy="266.6" r="0.6"/><circle cx="115.3" cy="297.9" r="0.7"/><circle cx="89.0" cy="272.7" r="1.1"/><circle cx="162.8" cy="323.9" r="0.8"/><circle cx="57.9" cy="295.4" r="0.6"/><circle cx="94.8" cy="308.0" r="0.6"/><circle cx="72.0" cy="289.7" r="0.9"/><circle cx="64.9" cy="275.0" r="1.1"/><circle cx="81.7" cy="298.9" r="1.0"/><circle cx="162.3" cy="278.1" r="1.1"/><circle cx="161.6" cy="294.4" r="0.8"/><circle cx="112.5" cy="289.3" r="1.0"/><circle cx="89.6" cy="275.8" r="0.9"/><circle cx="108.7" cy="335.4" r="1.1"/><circle cx="98.2" cy="338.2" r="0.7"/><circle cx="127.1" cy="349.8" r="0.8"/><circle cx="102.9" cy="330.3" r="0.9"/><circle cx="129.9" cy="346.7" r="1.1"/><circle cx="100.4" cy="305.9" r="1.1"/><circle cx="46.0" cy="367.1" r="0.8"/><circle cx="134.6" cy="365.2" r="0.6"/><circle cx="113.1" cy="324.2" r="0.8"/><circle cx="137.0" cy="325.6" r="0.8"/><circle cx="43.6" cy="274.8" r="1.1"/><circle cx="55.0" cy="362.6" r="0.8"/><circle cx="97.4" cy="285.5" r="0.8"/><circle cx="95.3" cy="337.0" r="0.8"/><circle cx="121.5" cy="334.9" r="1.1"/><circle cx="71.0" cy="282.1" r="0.9"/><circle cx="160.3" cy="288.1" r="0.7"/><circle cx="120.6" cy="309.2" r="0.9"/><circle cx="65.2" cy="326.0" r="1.0"/><circle cx="63.9" cy="298.0" r="0.7"/><circle cx="148.3" cy="319.2" r="0.9"/><circle cx="116.9" cy="325.4" r="1.0"/><circle cx="117.7" cy="349.2" r="0.7"/><circle cx="117.3" cy="272.7" r="0.7"/><circle cx="78.7" cy="283.0" r="0.9"/><circle cx="92.8" cy="278.3" r="0.7"/><circle cx="119.9" cy="336.6" r="1.1"/><circle cx="109.9" cy="315.2" r="0.8"/><circle cx="96.9" cy="269.4" r="0.6"/><circle cx="92.5" cy="352.0" r="0.6"/><circle cx="44.4" cy="343.7" r="0.7"/><circle cx="107.7" cy="281.5" r="1.0"/><circle cx="136.2" cy="321.5" r="0.7"/><circle cx="137.4" cy="350.2" r="1.0"/><circle cx="45.7" cy="339.3" r="1.1"/><circle cx="53.3" cy="351.0" r="0.7"/><circle cx="165.4" cy="311.0" r="1.0"/><circle cx="70.1" cy="348.9" r="0.8"/><circle cx="129.3" cy="330.2" r="0.7"/><circle cx="66.3" cy="285.5" r="0.8"/><circle cx="75.6" cy="320.4" r="1.0"/><circle cx="76.7" cy="291.9" r="1.1"/><circle cx="135.7" cy="334.8" r="0.9"/><circle cx="74.1" cy="307.3" r="0.9"/><circle cx="150.5" cy="273.6" r="0.7"/><circle cx="157.5" cy="302.6" r="0.8"/><circle cx="40.8" cy="345.1" r="1.0"/><circle cx="97.8" cy="333.5" r="0.6"/><circle cx="107.3" cy="286.7" r="0.7"/><circle cx="74.1" cy="350.8" r="0.9"/><circle cx="111.3" cy="314.8" r="0.9"/><circle cx="97.9" cy="276.8" r="0.8"/><circle cx="40.6" cy="364.4" r="0.9"/><circle cx="57.0" cy="332.0" r="1.1"/><circle cx="74.8" cy="332.5" r="0.8"/><circle cx="153.5" cy="281.2" r="0.8"/><circle cx="128.5" cy="263.9" r="0.7"/><circle cx="68.8" cy="335.2" r="0.9"/><circle cx="142.6" cy="367.6" r="0.7"/><circle cx="57.6" cy="345.0" r="0.7"/><circle cx="164.6" cy="278.8" r="0.6"/><circle cx="119.0" cy="279.7" r="0.9"/><circle cx="148.0" cy="272.9" r="1.0"/><circle cx="79.8" cy="278.5" r="0.6"/><circle cx="137.9" cy="336.3" r="0.9"/><circle cx="134.0" cy="294.8" r="1.0"/><circle cx="159.8" cy="315.8" r="0.8"/><circle cx="163.9" cy="361.9" r="1.0"/><circle cx="135.8" cy="364.0" r="0.6"/><circle cx="48.9" cy="291.3" r="0.6"/><circle cx="139.2" cy="317.0" r="0.9"/><circle cx="92.4" cy="337.5" r="0.9"/><circle cx="117.5" cy="292.9" r="0.9"/><circle cx="65.9" cy="348.6" r="0.8"/><circle cx="119.8" cy="351.4" r="0.6"/><circle cx="127.8" cy="340.4" r="0.6"/><circle cx="51.3" cy="309.4" r="0.9"/><circle cx="55.4" cy="338.1" r="0.7"/><circle cx="159.6" cy="318.7" r="1.0"/><circle cx="44.2" cy="348.5" r="0.6"/><circle cx="129.5" cy="324.3" r="0.8"/><circle cx="85.5" cy="316.3" r="0.8"/><circle cx="72.4" cy="274.6" r="1.0"/><circle cx="69.1" cy="317.2" r="1.0"/><circle cx="71.1" cy="313.3" r="0.7"/><circle cx="156.9" cy="353.8" r="1.1"/><circle cx="133.1" cy="307.8" r="0.8"/><circle cx="130.5" cy="292.3" r="0.8"/><circle cx="103.3" cy="358.5" r="1.0"/><circle cx="163.2" cy="364.0" r="0.8"/><circle cx="75.8" cy="352.5" r="0.9"/><circle cx="78.5" cy="329.2" r="0.9"/><circle cx="102.2" cy="344.9" r="1.1"/><circle cx="135.6" cy="289.5" r="0.8"/><circle cx="69.6" cy="300.2" r="1.0"/><circle cx="146.6" cy="340.2" r="0.9"/><circle cx="70.3" cy="315.5" r="1.1"/><circle cx="152.7" cy="318.4" r="0.8"/><circle cx="162.3" cy="272.7" r="0.7"/><circle cx="94.9" cy="365.0" r="0.7"/><circle cx="132.4" cy="297.2" r="0.6"/><circle cx="65.8" cy="345.7" r="0.7"/><circle cx="61.0" cy="312.7" r="0.9"/><circle cx="161.1" cy="285.6" r="0.7"/><circle cx="143.8" cy="337.0" r="1.0"/><circle cx="81.5" cy="273.4" r="0.8"/><circle cx="104.7" cy="334.9" r="1.1"/><circle cx="44.4" cy="306.3" r="1.0"/><circle cx="71.7" cy="312.3" r="0.7"/><circle cx="42.0" cy="351.0" r="0.7"/><circle cx="143.5" cy="302.9" r="0.9"/><circle cx="95.9" cy="277.3" r="1.0"/><circle cx="81.9" cy="268.3" r="0.7"/><circle cx="112.2" cy="350.1" r="0.6"/><circle cx="125.9" cy="281.9" r="0.7"/><circle cx="75.5" cy="356.6" r="0.9"/><circle cx="71.2" cy="294.8" r="0.9"/><circle cx="48.1" cy="293.2" r="0.7"/><circle cx="151.1" cy="319.0" r="1.0"/><circle cx="154.6" cy="316.6" r="0.7"/><circle cx="80.4" cy="286.8" r="1.0"/><circle cx="47.8" cy="367.9" r="1.0"/><circle cx="165.5" cy="366.1" r="0.9"/><circle cx="47.5" cy="368.4" r="1.0"/><circle cx="141.3" cy="337.1" r="0.6"/><circle cx="128.1" cy="363.3" r="0.9"/><circle cx="51.8" cy="288.2" r="0.9"/><circle cx="40.6" cy="360.2" r="0.7"/><circle cx="130.1" cy="360.3" r="0.8"/><circle cx="137.3" cy="352.7" r="1.1"/><circle cx="87.2" cy="362.7" r="0.7"/><circle cx="78.2" cy="278.1" r="1.1"/><circle cx="139.5" cy="364.7" r="0.7"/><circle cx="62.4" cy="296.0" r="0.7"/><circle cx="161.4" cy="287.0" r="1.1"/><circle cx="58.1" cy="342.1" r="1.1"/><circle cx="61.5" cy="356.8" r="1.0"/><circle cx="120.4" cy="356.9" r="0.7"/><circle cx="71.7" cy="270.9" r="0.7"/><circle cx="161.6" cy="356.7" r="0.8"/><circle cx="108.8" cy="274.4" r="1.0"/><circle cx="121.9" cy="336.0" r="0.6"/><circle cx="146.2" cy="294.8" r="1.1"/><circle cx="49.8" cy="281.7" r="1.0"/><circle cx="108.9" cy="358.1" r="0.9"/><circle cx="117.2" cy="314.5" r="1.1"/><circle cx="61.1" cy="357.2" r="0.7"/><circle cx="66.2" cy="283.7" r="1.0"/><circle cx="131.7" cy="291.7" r="0.7"/><circle cx="46.7" cy="323.8" r="0.7"/><circle cx="85.6" cy="308.7" r="0.9"/><circle cx="115.5" cy="284.8" r="0.7"/><circle cx="79.0" cy="305.5" r="0.9"/><circle cx="51.9" cy="320.9" r="1.0"/><circle cx="86.7" cy="310.6" r="0.8"/><circle cx="68.8" cy="292.0" r="1.0"/><circle cx="123.9" cy="272.8" r="0.9"/><circle cx="161.8" cy="325.7" r="1.0"/><circle cx="142.8" cy="307.8" r="1.0"/><circle cx="99.9" cy="356.4" r="0.6"/><circle cx="153.3" cy="338.8" r="1.1"/><circle cx="140.6" cy="334.9" r="0.7"/><circle cx="162.0" cy="348.7" r="0.8"/><circle cx="118.9" cy="351.4" r="1.1"/><circle cx="154.8" cy="270.8" r="0.8"/><circle cx="81.3" cy="292.8" r="1.0"/><circle cx="138.8" cy="329.2" r="0.8"/><circle cx="92.3" cy="279.4" r="1.0"/><circle cx="158.0" cy="360.9" r="0.7"/><circle cx="76.3" cy="320.0" r="0.8"/><circle cx="88.4" cy="314.8" r="0.6"/><circle cx="74.9" cy="278.9" r="0.9"/><circle cx="45.3" cy="357.2" r="0.7"/><circle cx="133.7" cy="360.5" r="0.6"/><circle cx="142.7" cy="295.6" r="0.8"/><circle cx="57.3" cy="366.1" r="1.0"/><circle cx="74.2" cy="307.6" r="0.7"/><circle cx="135.4" cy="354.9" r="0.9"/><circle cx="60.4" cy="296.5" r="0.7"/><circle cx="146.9" cy="356.1" r="0.7"/><circle cx="144.6" cy="351.7" r="0.8"/><circle cx="155.3" cy="337.8" r="1.0"/><circle cx="103.6" cy="330.5" r="0.6"/><circle cx="87.1" cy="326.2" r="1.0"/><circle cx="152.3" cy="342.4" r="0.7"/><circle cx="88.8" cy="280.9" r="1.1"/><circle cx="147.6" cy="331.8" r="0.7"/><circle cx="91.7" cy="265.9" r="1.0"/><circle cx="41.6" cy="359.5" r="0.9"/><circle cx="93.5" cy="303.3" r="0.7"/><circle cx="90.1" cy="274.5" r="0.9"/><circle cx="145.9" cy="303.1" r="0.9"/><circle cx="77.8" cy="275.2" r="1.1"/><circle cx="120.6" cy="354.3" r="1.0"/><circle cx="152.0" cy="295.2" r="1.0"/><circle cx="72.9" cy="307.7" r="0.6"/><circle cx="129.0" cy="323.9" r="1.0"/><circle cx="153.8" cy="334.3" r="1.0"/><circle cx="145.6" cy="355.8" r="0.6"/><circle cx="82.5" cy="273.2" r="1.0"/><circle cx="78.9" cy="346.5" r="0.7"/><circle cx="77.3" cy="353.2" r="1.0"/><circle cx="113.4" cy="363.0" r="1.0"/><circle cx="103.1" cy="354.9" r="0.7"/><circle cx="47.3" cy="353.5" r="0.7"/><circle cx="137.9" cy="315.0" r="0.7"/><circle cx="119.8" cy="264.3" r="1.0"/><circle cx="61.6" cy="344.1" r="1.0"/><circle cx="51.5" cy="328.3" r="0.8"/><circle cx="161.2" cy="304.0" r="0.7"/><circle cx="87.1" cy="265.3" r="1.0"/><circle cx="64.3" cy="334.9" r="0.7"/><circle cx="127.2" cy="300.0" r="0.8"/><circle cx="77.8" cy="294.3" r="0.9"/><circle cx="83.3" cy="358.4" r="0.7"/><circle cx="159.0" cy="360.2" r="0.7"/><circle cx="114.2" cy="281.5" r="0.9"/><circle cx="45.2" cy="355.8" r="0.9"/><circle cx="46.6" cy="368.2" r="0.9"/><circle cx="43.0" cy="336.2" r="0.8"/><circle cx="108.9" cy="313.6" r="0.9"/><circle cx="57.6" cy="351.0" r="1.0"/><circle cx="55.2" cy="275.8" r="0.7"/><circle cx="65.5" cy="291.4" r="0.7"/><circle cx="128.4" cy="294.8" r="0.8"/><circle cx="66.5" cy="361.8" r="0.6"/><circle cx="124.5" cy="359.0" r="0.9"/><circle cx="59.1" cy="273.3" r="1.0"/><circle cx="53.2" cy="290.7" r="1.1"/><circle cx="77.5" cy="312.5" r="0.7"/><circle cx="79.6" cy="341.3" r="1.0"/><circle cx="46.2" cy="353.3" r="0.7"/><circle cx="85.2" cy="309.8" r="1.0"/><circle cx="52.1" cy="349.4" r="0.8"/><circle cx="160.8" cy="292.3" r="1.0"/><circle cx="140.5" cy="331.9" r="0.7"/><circle cx="60.4" cy="307.5" r="1.0"/><circle cx="125.3" cy="282.8" r="0.8"/><circle cx="44.1" cy="335.7" r="1.1"/><circle cx="56.8" cy="360.4" r="0.8"/><circle cx="46.2" cy="291.3" r="1.0"/><circle cx="125.2" cy="344.4" r="0.9"/><circle cx="162.7" cy="334.1" r="0.9"/><circle cx="71.6" cy="300.1" r="0.8"/><circle cx="47.3" cy="331.4" r="1.0"/><circle cx="147.0" cy="355.1" r="0.8"/><circle cx="70.6" cy="365.7" r="0.7"/><circle cx="120.9" cy="306.1" r="0.8"/><circle cx="96.4" cy="276.3" r="0.9"/><circle cx="53.3" cy="307.1" r="0.6"/><circle cx="51.9" cy="327.2" r="0.8"/><circle cx="104.0" cy="285.5" r="1.1"/><circle cx="85.9" cy="269.5" r="0.8"/><circle cx="110.5" cy="328.9" r="0.9"/><circle cx="68.2" cy="299.6" r="1.1"/><circle cx="46.2" cy="281.0" r="1.0"/><circle cx="63.9" cy="361.5" r="0.8"/><circle cx="138.2" cy="339.1" r="0.8"/><circle cx="156.3" cy="351.7" r="1.0"/><circle cx="57.3" cy="316.2" r="0.6"/><circle cx="157.4" cy="351.9" r="0.9"/><circle cx="155.6" cy="282.4" r="1.0"/><circle cx="56.5" cy="304.5" r="1.0"/><circle cx="155.0" cy="343.8" r="1.1"/><circle cx="161.8" cy="311.3" r="0.8"/><circle cx="128.0" cy="342.4" r="1.0"/><circle cx="148.1" cy="338.5" r="0.9"/><circle cx="65.6" cy="329.3" r="0.8"/><circle cx="124.5" cy="366.8" r="1.1"/><circle cx="103.5" cy="336.7" r="0.7"/><circle cx="84.5" cy="314.2" r="0.9"/><circle cx="105.8" cy="266.5" r="0.9"/><circle cx="65.5" cy="342.6" r="0.7"/><circle cx="77.4" cy="342.9" r="1.0"/><circle cx="53.3" cy="354.9" r="1.0"/><circle cx="133.3" cy="322.7" r="1.0"/><circle cx="156.3" cy="304.5" r="1.1"/><circle cx="79.6" cy="321.8" r="0.7"/><circle cx="144.2" cy="359.5" r="0.9"/><circle cx="134.9" cy="321.2" r="1.0"/><circle cx="161.0" cy="294.7" r="0.9"/><circle cx="63.9" cy="282.0" r="0.8"/><circle cx="94.1" cy="322.2" r="0.9"/><circle cx="72.4" cy="298.5" r="0.7"/><circle cx="59.7" cy="297.7" r="1.1"/><circle cx="117.5" cy="333.3" r="0.9"/><circle cx="85.3" cy="346.1" r="0.7"/><circle cx="63.5" cy="271.0" r="0.8"/><circle cx="107.6" cy="273.5" r="0.7"/><circle cx="82.0" cy="301.7" r="1.0"/><circle cx="106.8" cy="368.4" r="1.1"/><circle cx="41.6" cy="334.0" r="1.1"/><circle cx="158.6" cy="304.3" r="0.7"/><circle cx="154.4" cy="350.1" r="1.0"/><circle cx="96.2" cy="268.4" r="0.7"/><circle cx="104.7" cy="363.4" r="1.1"/><circle cx="107.7" cy="264.6" r="0.9"/><circle cx="137.2" cy="354.6" r="0.7"/><circle cx="137.4" cy="331.7" r="1.0"/><circle cx="59.7" cy="312.0" r="0.6"/><circle cx="47.3" cy="347.2" r="0.9"/><circle cx="69.0" cy="291.0" r="0.9"/><circle cx="94.6" cy="265.6" r="0.9"/><circle cx="113.7" cy="337.4" r="1.1"/><circle cx="53.8" cy="346.4" r="0.6"/><circle cx="136.2" cy="309.8" r="0.9"/><circle cx="99.7" cy="319.8" r="0.8"/><circle cx="58.5" cy="334.9" r="1.0"/><circle cx="109.7" cy="322.1" r="0.6"/><circle cx="83.5" cy="307.1" r="0.9"/><circle cx="164.8" cy="312.2" r="0.7"/><circle cx="101.4" cy="298.5" r="0.9"/><circle cx="53.0" cy="328.8" r="0.8"/><circle cx="96.8" cy="328.5" r="0.9"/><circle cx="94.0" cy="264.3" r="0.7"/><circle cx="57.3" cy="340.8" r="0.8"/><circle cx="85.3" cy="295.9" r="0.7"/><circle cx="116.3" cy="352.2" r="0.7"/><circle cx="50.1" cy="271.7" r="0.9"/><circle cx="44.4" cy="324.9" r="0.9"/><circle cx="153.8" cy="321.7" r="1.1"/><circle cx="99.5" cy="345.2" r="0.7"/><circle cx="137.0" cy="340.8" r="0.8"/><circle cx="104.3" cy="305.5" r="0.9"/><circle cx="146.5" cy="348.5" r="0.7"/><circle cx="104.8" cy="310.7" r="1.1"/><circle cx="122.9" cy="365.4" r="0.8"/><circle cx="85.3" cy="286.8" r="0.6"/><circle cx="86.7" cy="268.3" r="1.1"/><circle cx="85.7" cy="313.1" r="0.6"/><circle cx="163.1" cy="297.8" r="0.9"/><circle cx="144.2" cy="351.5" r="0.9"/><circle cx="62.2" cy="332.4" r="0.9"/><circle cx="144.9" cy="318.0" r="1.1"/><circle cx="103.2" cy="278.4" r="0.6"/><circle cx="120.9" cy="286.0" r="0.8"/><circle cx="130.2" cy="276.2" r="1.0"/><circle cx="130.5" cy="314.4" r="0.7"/><circle cx="60.7" cy="351.3" r="0.6"/><circle cx="112.2" cy="280.7" r="0.6"/><circle cx="112.0" cy="269.7" r="0.7"/><circle cx="160.3" cy="326.7" r="0.6"/><circle cx="130.4" cy="333.3" r="0.6"/><circle cx="61.8" cy="351.0" r="1.0"/><circle cx="73.6" cy="339.8" r="0.8"/><circle cx="114.3" cy="287.9" r="0.7"/><circle cx="65.8" cy="354.1" r="0.8"/><circle cx="59.2" cy="273.9" r="0.9"/><circle cx="45.4" cy="346.1" r="0.7"/><circle cx="100.8" cy="277.5" r="1.0"/><circle cx="152.6" cy="345.2" r="0.9"/><circle cx="86.8" cy="268.4" r="0.7"/><circle cx="140.8" cy="346.7" r="0.9"/><circle cx="133.2" cy="343.8" r="0.6"/><circle cx="57.2" cy="313.9" r="1.0"/><circle cx="75.9" cy="355.9" r="0.7"/><circle cx="129.1" cy="346.7" r="0.7"/><circle cx="41.4" cy="332.5" r="0.8"/><circle cx="85.8" cy="280.1" r="0.7"/><circle cx="147.4" cy="308.3" r="0.7"/><circle cx="125.6" cy="343.1" r="1.0"/><circle cx="72.2" cy="296.0" r="1.0"/><circle cx="132.5" cy="353.6" r="1.0"/><circle cx="96.3" cy="337.2" r="0.7"/><circle cx="90.6" cy="299.3" r="0.9"/><circle cx="41.2" cy="273.4" r="1.1"/><circle cx="94.9" cy="270.5" r="0.6"/><circle cx="115.2" cy="363.1" r="0.9"/><circle cx="95.4" cy="285.0" r="1.0"/><circle cx="76.3" cy="267.3" r="0.9"/><circle cx="69.5" cy="281.6" r="0.7"/><circle cx="138.0" cy="300.9" r="0.9"/><circle cx="105.2" cy="341.2" r="0.6"/><circle cx="84.0" cy="364.9" r="0.9"/><circle cx="64.8" cy="361.4" r="0.7"/><circle cx="91.4" cy="275.0" r="0.7"/><circle cx="150.0" cy="349.2" r="0.9"/><circle cx="161.3" cy="322.9" r="1.0"/><circle cx="160.7" cy="312.0" r="0.9"/><circle cx="43.9" cy="276.0" r="0.9"/><circle cx="164.8" cy="334.9" r="0.8"/><circle cx="159.9" cy="318.0" r="1.0"/><circle cx="71.5" cy="273.6" r="1.0"/><circle cx="50.0" cy="361.6" r="0.8"/><circle cx="125.9" cy="359.3" r="0.7"/><circle cx="132.4" cy="355.4" r="0.7"/><circle cx="71.7" cy="328.8" r="0.7"/><circle cx="155.5" cy="334.8" r="0.9"/><circle cx="136.0" cy="320.7" r="0.8"/><circle cx="152.6" cy="355.0" r="1.1"/><circle cx="155.0" cy="293.2" r="0.9"/><circle cx="47.3" cy="347.7" r="0.9"/><circle cx="98.0" cy="336.2" r="0.7"/><circle cx="73.0" cy="321.4" r="0.8"/><circle cx="117.1" cy="302.2" r="0.7"/><circle cx="75.5" cy="282.7" r="0.9"/><circle cx="69.1" cy="274.3" r="0.7"/><circle cx="94.5" cy="303.8" r="1.1"/><circle cx="59.2" cy="348.4" r="0.8"/><circle cx="164.9" cy="353.0" r="1.0"/><circle cx="138.7" cy="295.3" r="0.9"/><circle cx="90.3" cy="336.3" r="1.0"/><circle cx="100.1" cy="329.9" r="0.8"/><circle cx="72.7" cy="265.9" r="1.0"/><circle cx="160.9" cy="284.7" r="0.9"/><circle cx="62.3" cy="345.7" r="0.9"/><circle cx="88.1" cy="293.9" r="0.7"/><circle cx="61.4" cy="348.6" r="0.9"/><circle cx="112.0" cy="352.9" r="0.7"/><circle cx="69.0" cy="297.1" r="0.7"/><circle cx="121.1" cy="292.3" r="1.0"/><circle cx="92.2" cy="283.1" r="1.0"/><circle cx="123.3" cy="362.5" r="0.6"/><circle cx="61.4" cy="274.6" r="1.0"/><circle cx="109.1" cy="266.6" r="1.0"/><circle cx="50.9" cy="291.4" r="0.9"/><circle cx="151.2" cy="296.3" r="0.7"/><circle cx="44.1" cy="333.5" r="0.8"/><circle cx="100.0" cy="366.2" r="0.7"/><circle cx="96.1" cy="365.6" r="0.7"/><circle cx="79.2" cy="300.3" r="1.0"/><circle cx="95.7" cy="302.2" r="0.8"/><circle cx="40.5" cy="349.4" r="0.8"/><circle cx="99.1" cy="264.7" r="1.1"/><circle cx="100.1" cy="264.8" r="0.7"/><circle cx="69.4" cy="264.6" r="0.8"/><circle cx="110.6" cy="305.2" r="1.0"/><circle cx="89.2" cy="303.5" r="0.8"/><circle cx="141.4" cy="335.7" r="1.0"/><circle cx="63.3" cy="294.2" r="0.9"/><circle cx="74.5" cy="329.2" r="0.6"/><circle cx="46.7" cy="320.0" r="0.7"/><circle cx="69.6" cy="279.6" r="0.8"/><circle cx="98.5" cy="346.9" r="1.0"/><circle cx="49.4" cy="313.2" r="1.0"/><circle cx="142.7" cy="350.8" r="1.0"/><circle cx="71.6" cy="344.8" r="1.0"/><circle cx="105.6" cy="366.9" r="0.9"/><circle cx="79.5" cy="297.7" r="0.6"/><circle cx="157.7" cy="318.5" r="0.9"/><circle cx="67.7" cy="275.7" r="0.8"/><circle cx="61.4" cy="292.8" r="1.0"/><circle cx="99.9" cy="326.4" r="0.6"/><circle cx="48.0" cy="331.5" r="1.0"/><circle cx="139.1" cy="343.3" r="0.8"/><circle cx="64.6" cy="336.2" r="0.7"/><circle cx="152.8" cy="314.8" r="0.7"/><circle cx="127.6" cy="283.7" r="0.8"/><circle cx="154.8" cy="322.0" r="0.7"/><circle cx="77.5" cy="291.5" r="0.6"/><circle cx="120.3" cy="303.6" r="0.6"/><circle cx="147.6" cy="345.3" r="1.0"/><circle cx="122.8" cy="320.4" r="0.9"/><circle cx="80.8" cy="331.1" r="0.9"/><circle cx="48.8" cy="351.5" r="1.0"/></g>
<g fill="#23165e" fill-opacity="0.92" filter="url(#blur05)"><circle cx="47.6" cy="265.0" r="0.9"/><circle cx="58.7" cy="264.0" r="0.7"/><circle cx="65.3" cy="264.3" r="0.9"/><circle cx="70.2" cy="264.5" r="0.9"/><circle cx="73.5" cy="264.9" r="0.8"/><circle cx="75.6" cy="264.1" r="1.0"/><circle cx="78.2" cy="264.1" r="1.0"/><circle cx="94.0" cy="264.4" r="1.0"/><circle cx="95.4" cy="264.0" r="1.0"/><circle cx="100.4" cy="264.4" r="1.0"/><circle cx="102.7" cy="263.6" r="0.7"/><circle cx="105.5" cy="264.4" r="1.0"/><circle cx="115.9" cy="264.9" r="0.8"/><circle cx="118.6" cy="264.4" r="0.7"/><circle cx="127.5" cy="264.7" r="0.8"/><circle cx="130.1" cy="264.4" r="0.9"/><circle cx="138.2" cy="263.9" r="0.8"/><circle cx="142.6" cy="264.2" r="0.9"/><circle cx="146.2" cy="263.8" r="0.9"/><circle cx="148.2" cy="264.5" r="0.9"/><circle cx="151.1" cy="263.9" r="1.0"/><circle cx="153.0" cy="264.9" r="0.9"/><circle cx="155.6" cy="264.1" r="0.9"/><circle cx="46.4" cy="266.8" r="0.9"/><circle cx="51.7" cy="266.5" r="0.9"/><circle cx="59.0" cy="266.0" r="1.0"/><circle cx="63.9" cy="266.3" r="1.0"/><circle cx="67.4" cy="267.0" r="1.0"/><circle cx="69.9" cy="266.1" r="1.0"/><circle cx="77.1" cy="267.1" r="0.8"/><circle cx="79.7" cy="266.2" r="0.8"/><circle cx="84.3" cy="267.2" r="1.0"/><circle cx="90.1" cy="265.8" r="0.8"/><circle cx="91.7" cy="267.1" r="0.7"/><circle cx="94.5" cy="267.2" r="0.9"/><circle cx="96.8" cy="266.1" r="1.0"/><circle cx="100.3" cy="266.2" r="0.8"/><circle cx="112.8" cy="266.2" r="1.0"/><circle cx="119.5" cy="266.3" r="1.0"/><circle cx="122.8" cy="267.1" r="1.0"/><circle cx="139.1" cy="266.0" r="1.0"/><circle cx="150.2" cy="266.5" r="0.9"/><circle cx="151.8" cy="266.3" r="1.0"/><circle cx="162.1" cy="267.0" r="1.0"/><circle cx="40.2" cy="268.5" r="1.0"/><circle cx="44.9" cy="268.7" r="1.0"/><circle cx="48.0" cy="269.0" r="1.0"/><circle cx="51.2" cy="268.9" r="0.8"/><circle cx="61.0" cy="269.0" r="0.7"/><circle cx="68.7" cy="268.5" r="1.0"/><circle cx="72.5" cy="269.2" r="0.9"/><circle cx="77.9" cy="268.8" r="0.7"/><circle cx="80.1" cy="268.8" r="0.9"/><circle cx="83.6" cy="268.7" r="1.0"/><circle cx="85.1" cy="268.8" r="0.8"/><circle cx="87.4" cy="268.8" r="0.9"/><circle cx="92.3" cy="268.1" r="0.7"/><circle cx="97.7" cy="269.3" r="0.8"/><circle cx="100.0" cy="268.9" r="0.9"/><circle cx="103.2" cy="269.1" r="0.9"/><circle cx="105.6" cy="269.3" r="0.8"/><circle cx="107.8" cy="268.5" r="0.8"/><circle cx="110.6" cy="268.3" r="0.9"/><circle cx="112.7" cy="268.7" r="0.9"/><circle cx="118.2" cy="269.4" r="0.9"/><circle cx="121.2" cy="269.4" r="0.9"/><circle cx="133.7" cy="267.9" r="0.9"/><circle cx="138.8" cy="268.5" r="0.9"/><circle cx="140.7" cy="267.9" r="0.8"/><circle cx="149.8" cy="268.2" r="0.8"/><circle cx="158.6" cy="268.7" r="1.0"/><circle cx="162.7" cy="269.0" r="0.9"/><circle cx="42.0" cy="271.5" r="0.7"/><circle cx="57.9" cy="270.4" r="0.7"/><circle cx="72.9" cy="271.1" r="1.0"/><circle cx="79.8" cy="270.2" r="0.7"/><circle cx="82.2" cy="271.1" r="0.9"/><circle cx="84.4" cy="271.4" r="0.8"/><circle cx="86.9" cy="270.6" r="0.7"/><circle cx="89.2" cy="270.5" r="0.9"/><circle cx="92.2" cy="270.4" r="0.8"/><circle cx="94.2" cy="271.1" r="0.8"/><circle cx="96.6" cy="271.0" r="0.9"/><circle cx="99.1" cy="270.8" r="0.7"/><circle cx="101.5" cy="270.7" r="0.9"/><circle cx="110.0" cy="271.1" r="1.0"/><circle cx="112.6" cy="270.8" r="1.0"/><circle cx="115.3" cy="270.8" r="0.9"/><circle cx="117.5" cy="270.8" r="0.8"/><circle cx="125.1" cy="271.4" r="0.7"/><circle cx="142.9" cy="270.7" r="1.0"/><circle cx="147.6" cy="270.9" r="0.9"/><circle cx="154.8" cy="271.3" r="1.0"/><circle cx="166.4" cy="270.3" r="0.9"/><circle cx="48.9" cy="272.8" r="0.7"/><circle cx="51.4" cy="272.9" r="0.8"/><circle cx="53.0" cy="273.1" r="0.9"/><circle cx="65.7" cy="272.5" r="1.0"/><circle cx="71.0" cy="272.5" r="0.7"/><circle cx="73.5" cy="273.0" r="1.0"/><circle cx="75.1" cy="273.2" r="0.9"/><circle cx="78.6" cy="273.2" r="0.8"/><circle cx="80.7" cy="273.1" r="0.8"/><circle cx="82.7" cy="273.2" r="1.0"/><circle cx="85.3" cy="273.0" r="0.9"/><circle cx="88.0" cy="273.7" r="0.9"/><circle cx="96.4" cy="273.4" r="0.7"/><circle cx="98.8" cy="272.4" r="1.0"/><circle cx="101.4" cy="272.4" r="1.0"/><circle cx="102.9" cy="272.3" r="1.0"/><circle cx="105.6" cy="273.0" r="1.0"/><circle cx="113.6" cy="273.3" r="0.7"/><circle cx="115.7" cy="272.5" r="1.0"/><circle cx="118.7" cy="273.2" r="0.7"/><circle cx="120.7" cy="273.5" r="0.7"/><circle cx="122.9" cy="273.5" r="0.7"/><circle cx="125.2" cy="273.1" r="0.9"/><circle cx="133.0" cy="272.4" r="1.0"/><circle cx="166.2" cy="272.8" r="0.7"/><circle cx="44.9" cy="275.3" r="0.8"/><circle cx="49.8" cy="275.7" r="0.7"/><circle cx="51.5" cy="275.1" r="0.8"/><circle cx="54.1" cy="274.5" r="1.0"/><circle cx="59.8" cy="275.5" r="1.0"/><circle cx="75.0" cy="274.9" r="0.7"/><circle cx="77.5" cy="275.0" r="0.7"/><circle cx="80.3" cy="274.8" r="0.9"/><circle cx="82.7" cy="275.3" r="0.9"/><circle cx="84.0" cy="275.6" r="0.9"/><circle cx="87.7" cy="275.5" r="0.7"/><circle cx="89.7" cy="274.8" r="1.0"/><circle cx="97.7" cy="275.3" r="1.0"/><circle cx="102.5" cy="275.6" r="0.7"/><circle cx="105.3" cy="275.7" r="0.9"/><circle cx="117.3" cy="274.7" r="0.8"/><circle cx="122.3" cy="275.0" r="0.9"/><circle cx="124.9" cy="274.6" r="1.0"/><circle cx="127.2" cy="275.2" r="0.9"/><circle cx="132.0" cy="275.9" r="0.7"/><circle cx="135.0" cy="274.5" r="1.0"/><circle cx="142.7" cy="274.5" r="0.9"/><circle cx="144.5" cy="275.8" r="0.9"/><circle cx="146.5" cy="274.7" r="0.8"/><circle cx="150.0" cy="275.1" r="0.9"/><circle cx="166.8" cy="274.6" r="0.8"/><circle cx="46.0" cy="277.8" r="0.9"/><circle cx="47.6" cy="276.9" r="0.9"/><circle cx="53.8" cy="277.6" r="0.9"/><circle cx="58.5" cy="276.7" r="0.9"/><circle cx="63.1" cy="276.6" r="0.7"/><circle cx="65.9" cy="276.7" r="1.0"/><circle cx="71.1" cy="277.0" r="1.0"/><circle cx="73.6" cy="278.1" r="0.8"/><circle cx="78.0" cy="277.3" r="1.0"/><circle cx="88.7" cy="277.5" r="0.8"/><circle cx="96.4" cy="277.2" r="0.9"/><circle cx="98.3" cy="277.9" r="1.0"/><circle cx="100.8" cy="277.2" r="1.0"/><circle cx="103.5" cy="278.1" r="0.7"/><circle cx="106.1" cy="276.7" r="1.0"/><circle cx="108.3" cy="276.9" r="1.0"/><circle cx="123.7" cy="277.0" r="0.9"/><circle cx="126.4" cy="277.5" r="0.9"/><circle cx="127.6" cy="278.1" r="0.9"/><circle cx="142.7" cy="277.3" r="0.9"/><circle cx="146.4" cy="277.7" r="0.9"/><circle cx="153.5" cy="277.9" r="1.0"/><circle cx="155.6" cy="276.7" r="0.8"/><circle cx="166.1" cy="277.9" r="0.8"/><circle cx="43.9" cy="279.8" r="1.0"/><circle cx="51.6" cy="279.9" r="0.8"/><circle cx="54.2" cy="279.8" r="0.7"/><circle cx="71.7" cy="280.2" r="0.8"/><circle cx="77.1" cy="279.7" r="1.0"/><circle cx="79.6" cy="279.0" r="0.9"/><circle cx="82.3" cy="279.2" r="1.0"/><circle cx="84.2" cy="280.2" r="0.8"/><circle cx="86.8" cy="279.7" r="0.9"/><circle cx="89.9" cy="280.0" r="0.8"/><circle cx="91.5" cy="280.0" r="0.8"/><circle cx="96.4" cy="279.3" r="0.8"/><circle cx="100.2" cy="279.8" r="1.0"/><circle cx="104.0" cy="279.1" r="0.8"/><circle cx="106.5" cy="279.2" r="0.9"/><circle cx="108.9" cy="279.3" r="0.8"/><circle cx="112.1" cy="279.0" r="1.0"/><circle cx="114.4" cy="279.5" r="0.9"/><circle cx="125.3" cy="279.6" r="0.9"/><circle cx="129.9" cy="280.1" r="0.9"/><circle cx="134.5" cy="278.9" r="0.9"/><circle cx="142.0" cy="279.8" r="0.9"/><circle cx="147.7" cy="280.1" r="0.8"/><circle cx="150.1" cy="279.3" r="0.8"/><circle cx="153.9" cy="279.9" r="1.0"/><circle cx="161.5" cy="279.7" r="0.8"/><circle cx="53.0" cy="281.0" r="0.8"/><circle cx="58.3" cy="282.3" r="0.9"/><circle cx="60.8" cy="281.3" r="0.8"/><circle cx="73.6" cy="281.2" r="0.8"/><circle cx="76.1" cy="281.2" r="0.8"/><circle cx="77.9" cy="282.3" r="0.8"/><circle cx="80.6" cy="282.4" r="1.0"/><circle cx="88.3" cy="281.4" r="0.9"/><circle cx="92.3" cy="281.7" r="0.9"/><circle cx="95.3" cy="282.3" r="0.8"/><circle cx="100.7" cy="282.2" r="0.9"/><circle cx="103.1" cy="282.1" r="0.9"/><circle cx="108.0" cy="281.4" r="1.0"/><circle cx="112.8" cy="282.0" r="1.0"/><circle cx="115.1" cy="282.2" r="0.8"/><circle cx="117.5" cy="281.2" r="0.9"/><circle cx="123.4" cy="281.0" r="1.0"/><circle cx="125.6" cy="281.0" r="0.8"/><circle cx="131.0" cy="282.3" r="1.0"/><circle cx="132.6" cy="281.5" r="1.0"/><circle cx="136.2" cy="282.4" r="0.8"/><circle cx="138.0" cy="282.0" r="0.9"/><circle cx="139.9" cy="281.8" r="0.8"/><circle cx="145.6" cy="282.4" r="0.8"/><circle cx="148.1" cy="282.0" r="0.9"/><circle cx="150.5" cy="282.4" r="0.8"/><circle cx="152.9" cy="281.3" r="0.7"/><circle cx="156.3" cy="281.1" r="0.7"/><circle cx="159.9" cy="281.4" r="0.8"/><circle cx="165.5" cy="281.8" r="1.0"/><circle cx="49.6" cy="283.3" r="0.8"/><circle cx="69.2" cy="283.9" r="1.0"/><circle cx="71.3" cy="283.5" r="0.9"/><circle cx="73.8" cy="283.3" r="0.7"/><circle cx="77.1" cy="284.6" r="0.9"/><circle cx="78.8" cy="284.1" r="0.7"/><circle cx="83.9" cy="284.1" r="0.8"/><circle cx="86.6" cy="284.4" r="1.0"/><circle cx="91.7" cy="283.6" r="0.9"/><circle cx="96.5" cy="284.2" r="0.7"/><circle cx="99.7" cy="283.9" r="0.9"/><circle cx="102.1" cy="284.2" r="0.9"/><circle cx="104.9" cy="283.9" r="0.9"/><circle cx="107.6" cy="284.1" r="1.0"/><circle cx="109.1" cy="283.2" r="1.0"/><circle cx="111.6" cy="284.2" r="1.0"/><circle cx="114.1" cy="283.3" r="0.8"/><circle cx="116.6" cy="284.1" r="0.9"/><circle cx="119.5" cy="284.5" r="0.8"/><circle cx="121.6" cy="283.2" r="0.9"/><circle cx="132.0" cy="284.3" r="0.9"/><circle cx="148.7" cy="284.4" r="0.8"/><circle cx="156.5" cy="284.3" r="0.9"/><circle cx="161.8" cy="284.3" r="0.7"/><circle cx="164.6" cy="284.4" r="0.8"/><circle cx="167.5" cy="284.2" r="1.0"/><circle cx="45.6" cy="285.5" r="0.9"/><circle cx="48.0" cy="286.0" r="1.0"/><circle cx="53.8" cy="286.3" r="0.9"/><circle cx="55.6" cy="285.5" r="0.8"/><circle cx="60.7" cy="286.3" r="0.8"/><circle cx="69.0" cy="286.0" r="1.0"/><circle cx="73.9" cy="285.9" r="0.9"/><circle cx="83.9" cy="286.7" r="1.0"/><circle cx="88.0" cy="286.2" r="1.0"/><circle cx="90.4" cy="285.9" r="0.8"/><circle cx="94.0" cy="286.0" r="0.9"/><circle cx="111.1" cy="286.5" r="0.9"/><circle cx="113.0" cy="286.7" r="1.0"/><circle cx="118.1" cy="286.7" r="1.0"/><circle cx="128.7" cy="285.9" r="1.0"/><circle cx="138.6" cy="286.1" r="0.9"/><circle cx="146.0" cy="286.5" r="0.8"/><circle cx="148.5" cy="285.8" r="0.8"/><circle cx="156.2" cy="285.8" r="1.0"/><circle cx="161.2" cy="285.6" r="0.8"/><circle cx="44.1" cy="288.5" r="0.8"/><circle cx="47.0" cy="287.9" r="0.8"/><circle cx="59.3" cy="288.2" r="1.0"/><circle cx="62.2" cy="289.0" r="0.9"/><circle cx="64.5" cy="288.1" r="0.8"/><circle cx="69.4" cy="288.5" r="0.7"/><circle cx="77.4" cy="287.9" r="0.7"/><circle cx="84.7" cy="288.6" r="0.8"/><circle cx="87.3" cy="287.9" r="0.8"/><circle cx="90.3" cy="288.3" r="0.8"/><circle cx="94.0" cy="288.0" r="0.7"/><circle cx="96.5" cy="287.5" r="1.0"/><circle cx="105.0" cy="287.9" r="1.0"/><circle cx="112.5" cy="287.6" r="0.8"/><circle cx="125.1" cy="287.7" r="1.0"/><circle cx="134.7" cy="288.1" r="1.0"/><circle cx="137.3" cy="288.8" r="0.9"/><circle cx="142.8" cy="288.7" r="0.7"/><circle cx="147.8" cy="288.4" r="1.0"/><circle cx="149.8" cy="288.9" r="1.0"/><circle cx="156.8" cy="287.6" r="1.0"/><circle cx="159.4" cy="288.1" r="1.0"/><circle cx="164.1" cy="288.6" r="1.0"/><circle cx="167.3" cy="287.7" r="0.9"/><circle cx="40.6" cy="290.7" r="0.9"/><circle cx="55.5" cy="290.7" r="0.9"/><circle cx="58.6" cy="290.4" r="0.9"/><circle cx="61.5" cy="290.4" r="0.7"/><circle cx="64.0" cy="290.9" r="0.8"/><circle cx="65.2" cy="289.8" r="0.7"/><circle cx="71.0" cy="290.0" r="0.7"/><circle cx="75.4" cy="289.9" r="0.7"/><circle cx="79.0" cy="290.1" r="0.9"/><circle cx="81.2" cy="290.6" r="1.0"/><circle cx="84.0" cy="289.9" r="1.0"/><circle cx="86.1" cy="291.0" r="0.9"/><circle cx="87.7" cy="289.8" r="0.9"/><circle cx="93.6" cy="290.4" r="1.0"/><circle cx="98.2" cy="290.1" r="0.7"/><circle cx="108.8" cy="289.9" r="0.9"/><circle cx="110.9" cy="289.7" r="0.8"/><circle cx="116.4" cy="290.5" r="0.9"/><circle cx="118.9" cy="289.7" r="0.9"/><circle cx="133.4" cy="290.3" r="0.7"/><circle cx="138.4" cy="291.1" r="0.9"/><circle cx="140.2" cy="290.1" r="0.8"/><circle cx="148.6" cy="289.9" r="0.9"/><circle cx="156.4" cy="290.6" r="1.0"/><circle cx="158.7" cy="289.8" r="0.9"/><circle cx="163.1" cy="290.0" r="0.7"/><circle cx="166.5" cy="290.2" r="1.0"/><circle cx="44.9" cy="292.0" r="0.8"/><circle cx="47.0" cy="292.4" r="1.0"/><circle cx="55.3" cy="292.5" r="1.0"/><circle cx="65.3" cy="293.2" r="0.8"/><circle cx="69.1" cy="292.8" r="0.7"/><circle cx="72.7" cy="292.5" r="1.0"/><circle cx="74.3" cy="293.0" r="0.9"/><circle cx="79.5" cy="292.8" r="1.0"/><circle cx="84.6" cy="292.4" r="1.0"/><circle cx="87.6" cy="292.4" r="0.8"/><circle cx="120.1" cy="292.4" r="0.8"/><circle cx="129.7" cy="293.0" r="0.7"/><circle cx="132.6" cy="292.7" r="1.0"/><circle cx="135.0" cy="293.3" r="0.7"/><circle cx="137.0" cy="292.8" r="0.7"/><circle cx="139.9" cy="292.0" r="1.0"/><circle cx="154.7" cy="292.2" r="0.9"/><circle cx="157.7" cy="292.4" r="0.9"/><circle cx="160.2" cy="292.0" r="1.0"/><circle cx="162.2" cy="292.5" r="0.9"/><circle cx="164.8" cy="292.6" r="0.8"/><circle cx="167.2" cy="292.5" r="1.0"/><circle cx="41.5" cy="295.2" r="0.7"/><circle cx="46.3" cy="294.2" r="0.9"/><circle cx="48.6" cy="295.4" r="1.0"/><circle cx="50.9" cy="294.6" r="0.9"/><circle cx="52.6" cy="294.2" r="1.0"/><circle cx="57.7" cy="294.9" r="1.0"/><circle cx="63.2" cy="294.2" r="1.0"/><circle cx="65.6" cy="294.9" r="1.0"/><circle cx="70.9" cy="295.1" r="0.9"/><circle cx="75.5" cy="295.2" r="0.8"/><circle cx="77.8" cy="294.6" r="1.0"/><circle cx="81.3" cy="295.1" r="1.0"/><circle cx="86.1" cy="294.8" r="0.9"/><circle cx="87.8" cy="294.9" r="0.7"/><circle cx="90.9" cy="294.3" r="1.0"/><circle cx="92.7" cy="295.4" r="0.7"/><circle cx="100.9" cy="294.6" r="1.0"/><circle cx="110.2" cy="294.4" r="0.8"/><circle cx="115.5" cy="294.0" r="0.8"/><circle cx="118.0" cy="294.6" r="0.8"/><circle cx="121.2" cy="294.2" r="1.0"/><circle cx="125.6" cy="294.2" r="0.9"/><circle cx="130.3" cy="295.3" r="1.0"/><circle cx="137.6" cy="295.0" r="1.0"/><circle cx="145.7" cy="294.0" r="1.0"/><circle cx="147.9" cy="295.5" r="1.0"/><circle cx="155.9" cy="294.8" r="1.0"/><circle cx="158.3" cy="294.5" r="0.7"/><circle cx="160.2" cy="294.8" r="0.9"/><circle cx="163.4" cy="295.4" r="0.9"/><circle cx="41.6" cy="297.7" r="0.9"/><circle cx="50.1" cy="297.2" r="1.0"/><circle cx="54.9" cy="297.2" r="0.7"/><circle cx="64.8" cy="296.2" r="1.0"/><circle cx="66.9" cy="296.5" r="0.8"/><circle cx="70.1" cy="296.7" r="0.9"/><circle cx="71.7" cy="297.3" r="0.9"/><circle cx="77.3" cy="296.5" r="1.0"/><circle cx="79.3" cy="297.5" r="0.9"/><circle cx="82.1" cy="297.2" r="0.9"/><circle cx="84.6" cy="296.3" r="0.7"/><circle cx="86.6" cy="297.0" r="0.9"/><circle cx="92.7" cy="297.2" r="0.8"/><circle cx="97.2" cy="297.6" r="1.0"/><circle cx="108.7" cy="296.5" r="0.9"/><circle cx="122.1" cy="297.1" r="0.8"/><circle cx="123.9" cy="296.5" r="0.7"/><circle cx="132.2" cy="297.0" r="0.7"/><circle cx="144.2" cy="296.8" r="1.0"/><circle cx="152.5" cy="297.1" r="1.0"/><circle cx="154.9" cy="296.9" r="0.8"/><circle cx="156.4" cy="297.1" r="1.0"/><circle cx="159.0" cy="297.0" r="0.8"/><circle cx="161.9" cy="297.3" r="0.8"/><circle cx="164.9" cy="296.3" r="0.9"/><circle cx="167.7" cy="297.3" r="1.0"/><circle cx="40.4" cy="298.8" r="0.8"/><circle cx="48.9" cy="299.0" r="0.8"/><circle cx="51.5" cy="299.5" r="0.9"/><circle cx="58.6" cy="299.0" r="0.9"/><circle cx="61.3" cy="298.4" r="0.7"/><circle cx="68.1" cy="299.5" r="0.8"/><circle cx="71.6" cy="298.9" r="0.7"/><circle cx="72.8" cy="298.8" r="0.9"/><circle cx="76.3" cy="298.4" r="0.8"/><circle cx="80.6" cy="299.2" r="0.7"/><circle cx="83.9" cy="299.7" r="0.9"/><circle cx="85.7" cy="299.5" r="1.0"/><circle cx="114.0" cy="298.7" r="0.9"/><circle cx="120.9" cy="299.1" r="0.8"/><circle cx="128.5" cy="298.4" r="0.8"/><circle cx="131.4" cy="298.9" r="1.0"/><circle cx="133.5" cy="299.8" r="0.9"/><circle cx="141.1" cy="299.0" r="0.8"/><circle cx="143.8" cy="298.8" r="0.8"/><circle cx="145.5" cy="299.3" r="0.7"/><circle cx="151.3" cy="299.7" r="0.7"/><circle cx="152.7" cy="298.7" r="0.8"/><circle cx="164.0" cy="298.4" r="1.0"/><circle cx="166.3" cy="299.0" r="0.9"/><circle cx="44.1" cy="301.1" r="1.0"/><circle cx="50.0" cy="301.6" r="1.0"/><circle cx="54.9" cy="300.8" r="0.9"/><circle cx="56.9" cy="301.4" r="1.0"/><circle cx="64.4" cy="301.7" r="0.8"/><circle cx="69.1" cy="302.0" r="0.9"/><circle cx="75.3" cy="300.8" r="0.9"/><circle cx="76.6" cy="300.7" r="0.9"/><circle cx="80.2" cy="300.7" r="0.9"/><circle cx="81.4" cy="301.6" r="0.8"/><circle cx="83.9" cy="302.0" r="0.8"/><circle cx="87.3" cy="300.6" r="0.9"/><circle cx="89.1" cy="301.8" r="0.8"/><circle cx="91.5" cy="301.3" r="0.7"/><circle cx="95.3" cy="301.8" r="0.8"/><circle cx="103.8" cy="300.7" r="0.8"/><circle cx="129.2" cy="301.5" r="1.0"/><circle cx="132.4" cy="301.6" r="0.9"/><circle cx="139.3" cy="301.2" r="0.9"/><circle cx="147.6" cy="301.1" r="0.7"/><circle cx="152.1" cy="300.6" r="0.8"/><circle cx="157.6" cy="300.8" r="0.7"/><circle cx="159.3" cy="301.3" r="0.7"/><circle cx="162.5" cy="301.5" r="0.8"/><circle cx="164.2" cy="300.6" r="0.8"/><circle cx="41.1" cy="304.1" r="0.8"/><circle cx="46.2" cy="304.1" r="0.8"/><circle cx="56.3" cy="303.0" r="0.8"/><circle cx="57.7" cy="303.2" r="0.8"/><circle cx="62.8" cy="303.0" r="0.8"/><circle cx="65.7" cy="303.2" r="0.9"/><circle cx="67.7" cy="303.9" r="0.8"/><circle cx="70.2" cy="303.0" r="0.9"/><circle cx="74.0" cy="302.9" r="1.0"/><circle cx="85.5" cy="304.0" r="0.8"/><circle cx="88.5" cy="303.6" r="0.9"/><circle cx="118.9" cy="303.7" r="0.9"/><circle cx="123.1" cy="303.4" r="1.0"/><circle cx="127.8" cy="303.0" r="0.9"/><circle cx="131.3" cy="304.1" r="0.7"/><circle cx="135.4" cy="303.0" r="0.8"/><circle cx="138.2" cy="303.7" r="1.0"/><circle cx="140.2" cy="304.2" r="0.8"/><circle cx="151.2" cy="304.1" r="0.8"/><circle cx="153.7" cy="303.1" r="0.9"/><circle cx="155.6" cy="303.6" r="0.7"/><circle cx="158.3" cy="302.9" r="0.7"/><circle cx="160.8" cy="303.8" r="1.0"/><circle cx="164.0" cy="304.2" r="0.9"/><circle cx="166.0" cy="303.6" r="0.7"/><circle cx="42.0" cy="305.7" r="0.9"/><circle cx="52.6" cy="305.2" r="1.0"/><circle cx="57.4" cy="305.3" r="0.9"/><circle cx="64.9" cy="306.3" r="0.9"/><circle cx="67.8" cy="305.7" r="0.8"/><circle cx="70.2" cy="305.3" r="1.0"/><circle cx="72.4" cy="305.5" r="0.8"/><circle cx="75.3" cy="306.0" r="0.9"/><circle cx="77.6" cy="305.4" r="1.0"/><circle cx="80.4" cy="305.5" r="1.0"/><circle cx="82.7" cy="304.9" r="0.9"/><circle cx="92.1" cy="306.1" r="0.7"/><circle cx="94.2" cy="306.0" r="1.0"/><circle cx="100.3" cy="305.1" r="0.8"/><circle cx="104.7" cy="305.9" r="0.7"/><circle cx="124.0" cy="305.4" r="0.7"/><circle cx="137.4" cy="305.6" r="0.8"/><circle cx="141.5" cy="305.4" r="1.0"/><circle cx="147.1" cy="305.8" r="0.8"/><circle cx="154.4" cy="305.2" r="0.9"/><circle cx="157.3" cy="306.2" r="0.7"/><circle cx="160.2" cy="305.3" r="0.9"/><circle cx="162.8" cy="305.1" r="0.7"/><circle cx="165.0" cy="305.2" r="1.0"/><circle cx="167.5" cy="305.0" r="1.0"/><circle cx="46.2" cy="307.2" r="0.9"/><circle cx="53.2" cy="308.0" r="1.0"/><circle cx="60.2" cy="307.2" r="0.7"/><circle cx="68.8" cy="307.9" r="0.7"/><circle cx="72.8" cy="307.6" r="1.0"/><circle cx="75.6" cy="308.0" r="0.8"/><circle cx="78.1" cy="307.7" r="1.0"/><circle cx="81.1" cy="307.8" r="0.9"/><circle cx="85.9" cy="308.0" r="1.0"/><circle cx="90.5" cy="308.3" r="0.9"/><circle cx="92.9" cy="308.5" r="1.0"/><circle cx="100.1" cy="307.8" r="1.0"/><circle cx="120.5" cy="307.3" r="0.9"/><circle cx="122.8" cy="307.3" r="1.0"/><circle cx="133.6" cy="308.4" r="1.0"/><circle cx="140.8" cy="307.7" r="0.8"/><circle cx="151.1" cy="308.0" r="0.9"/><circle cx="152.9" cy="307.2" r="0.9"/><circle cx="155.8" cy="307.8" r="0.9"/><circle cx="161.0" cy="307.3" r="0.9"/><circle cx="163.0" cy="307.9" r="0.7"/><circle cx="166.2" cy="308.2" r="1.0"/><circle cx="47.1" cy="310.4" r="1.0"/><circle cx="50.0" cy="310.6" r="0.9"/><circle cx="53.7" cy="309.4" r="0.8"/><circle cx="56.9" cy="310.5" r="1.0"/><circle cx="59.3" cy="309.8" r="0.8"/><circle cx="62.4" cy="309.2" r="1.0"/><circle cx="64.3" cy="310.4" r="0.9"/><circle cx="66.9" cy="310.3" r="1.0"/><circle cx="69.0" cy="310.0" r="0.7"/><circle cx="72.2" cy="309.6" r="0.8"/><circle cx="74.8" cy="310.7" r="0.8"/><circle cx="76.5" cy="309.4" r="0.7"/><circle cx="81.6" cy="309.4" r="0.8"/><circle cx="84.6" cy="310.0" r="1.0"/><circle cx="87.5" cy="310.3" r="0.8"/><circle cx="96.1" cy="309.4" r="0.9"/><circle cx="98.6" cy="310.2" r="0.8"/><circle cx="101.4" cy="310.5" r="0.7"/><circle cx="104.1" cy="310.7" r="0.7"/><circle cx="124.2" cy="309.4" r="0.9"/><circle cx="126.2" cy="309.4" r="1.0"/><circle cx="137.2" cy="310.0" r="0.8"/><circle cx="144.1" cy="309.7" r="0.7"/><circle cx="147.1" cy="310.6" r="0.7"/><circle cx="149.6" cy="310.1" r="1.0"/><circle cx="152.5" cy="309.9" r="1.0"/><circle cx="157.3" cy="310.3" r="0.9"/><circle cx="162.1" cy="310.4" r="1.0"/><circle cx="166.8" cy="310.1" r="1.0"/><circle cx="41.4" cy="312.2" r="0.7"/><circle cx="45.7" cy="312.0" r="0.7"/><circle cx="49.0" cy="311.8" r="1.0"/><circle cx="50.3" cy="311.9" r="0.8"/><circle cx="53.7" cy="312.3" r="0.8"/><circle cx="57.6" cy="312.1" r="0.9"/><circle cx="60.6" cy="312.3" r="0.8"/><circle cx="62.6" cy="312.7" r="0.8"/><circle cx="65.2" cy="312.1" r="0.9"/><circle cx="67.8" cy="311.6" r="0.8"/><circle cx="71.1" cy="311.7" r="0.8"/><circle cx="77.8" cy="311.9" r="0.8"/><circle cx="81.4" cy="311.7" r="0.7"/><circle cx="85.3" cy="311.7" r="0.9"/><circle cx="88.0" cy="312.0" r="1.0"/><circle cx="96.4" cy="312.0" r="0.7"/><circle cx="108.7" cy="311.8" r="0.9"/><circle cx="118.6" cy="312.2" r="1.0"/><circle cx="121.0" cy="312.4" r="0.7"/><circle cx="125.7" cy="312.3" r="0.7"/><circle cx="133.4" cy="312.4" r="0.8"/><circle cx="135.5" cy="311.9" r="0.8"/><circle cx="137.7" cy="311.5" r="1.0"/><circle cx="145.6" cy="311.9" r="0.7"/><circle cx="148.4" cy="312.7" r="1.0"/><circle cx="150.6" cy="312.6" r="0.8"/><circle cx="153.6" cy="311.7" r="1.0"/><circle cx="155.3" cy="312.5" r="0.9"/><circle cx="159.0" cy="312.4" r="0.9"/><circle cx="161.5" cy="311.5" r="0.8"/><circle cx="163.7" cy="312.9" r="1.0"/><circle cx="165.2" cy="311.7" r="0.8"/><circle cx="47.8" cy="313.7" r="1.0"/><circle cx="52.5" cy="313.8" r="0.9"/><circle cx="62.0" cy="314.7" r="0.8"/><circle cx="64.2" cy="313.8" r="0.9"/><circle cx="67.8" cy="314.8" r="0.9"/><circle cx="69.7" cy="314.0" r="0.9"/><circle cx="72.3" cy="313.8" r="0.8"/><circle cx="82.2" cy="313.6" r="0.9"/><circle cx="87.3" cy="314.7" r="0.9"/><circle cx="99.1" cy="314.7" r="0.9"/><circle cx="105.2" cy="313.9" r="0.9"/><circle cx="107.7" cy="314.7" r="0.8"/><circle cx="111.6" cy="313.9" r="1.0"/><circle cx="117.4" cy="313.6" r="0.8"/><circle cx="119.5" cy="314.5" r="0.7"/><circle cx="127.7" cy="314.5" r="0.7"/><circle cx="131.5" cy="314.0" r="0.7"/><circle cx="139.4" cy="314.6" r="0.9"/><circle cx="142.3" cy="314.2" r="0.8"/><circle cx="149.1" cy="314.0" r="1.0"/><circle cx="151.7" cy="314.9" r="0.8"/><circle cx="154.2" cy="314.6" r="1.0"/><circle cx="159.1" cy="313.8" r="0.7"/><circle cx="162.9" cy="314.1" r="0.7"/><circle cx="167.3" cy="313.8" r="0.9"/><circle cx="40.3" cy="316.8" r="1.0"/><circle cx="48.7" cy="315.9" r="1.0"/><circle cx="50.3" cy="316.7" r="0.8"/><circle cx="53.7" cy="316.9" r="0.7"/><circle cx="56.0" cy="317.2" r="0.7"/><circle cx="59.1" cy="316.0" r="0.8"/><circle cx="60.7" cy="316.8" r="1.0"/><circle cx="63.1" cy="317.0" r="0.8"/><circle cx="65.7" cy="316.5" r="0.9"/><circle cx="68.8" cy="316.3" r="0.8"/><circle cx="73.6" cy="316.1" r="1.0"/><circle cx="86.5" cy="317.1" r="1.0"/><circle cx="91.1" cy="316.3" r="1.0"/><circle cx="97.6" cy="316.3" r="0.7"/><circle cx="100.9" cy="317.0" r="0.8"/><circle cx="105.5" cy="316.4" r="1.0"/><circle cx="108.6" cy="316.2" r="1.0"/><circle cx="123.4" cy="317.2" r="0.8"/><circle cx="126.0" cy="316.1" r="1.0"/><circle cx="136.1" cy="316.0" r="0.7"/><circle cx="138.5" cy="317.0" r="0.8"/><circle cx="140.9" cy="315.9" r="1.0"/><circle cx="143.1" cy="316.6" r="0.7"/><circle cx="145.5" cy="317.2" r="0.9"/><circle cx="148.8" cy="315.8" r="1.0"/><circle cx="150.1" cy="316.3" r="0.8"/><circle cx="156.6" cy="316.8" r="0.8"/><circle cx="160.3" cy="316.6" r="0.9"/><circle cx="163.9" cy="316.2" r="0.9"/><circle cx="44.2" cy="319.4" r="1.0"/><circle cx="47.4" cy="319.3" r="1.0"/><circle cx="54.5" cy="318.2" r="0.7"/><circle cx="56.7" cy="318.9" r="1.0"/><circle cx="59.2" cy="319.2" r="1.0"/><circle cx="62.6" cy="318.1" r="0.8"/><circle cx="65.3" cy="318.2" r="0.8"/><circle cx="69.3" cy="318.6" r="1.0"/><circle cx="72.4" cy="318.1" r="0.9"/><circle cx="77.7" cy="319.3" r="0.8"/><circle cx="87.4" cy="319.0" r="1.0"/><circle cx="89.0" cy="319.2" r="0.8"/><circle cx="92.0" cy="318.0" r="0.9"/><circle cx="97.8" cy="318.6" r="1.0"/><circle cx="101.7" cy="318.4" r="1.0"/><circle cx="106.9" cy="318.0" r="0.9"/><circle cx="109.9" cy="318.4" r="0.9"/><circle cx="114.6" cy="318.6" r="1.0"/><circle cx="117.9" cy="319.0" r="0.9"/><circle cx="124.7" cy="318.9" r="1.0"/><circle cx="126.6" cy="319.3" r="1.0"/><circle cx="129.2" cy="318.5" r="0.9"/><circle cx="134.5" cy="319.0" r="0.7"/><circle cx="137.6" cy="318.8" r="0.9"/><circle cx="144.4" cy="318.2" r="0.8"/><circle cx="149.6" cy="318.7" r="0.9"/><circle cx="152.7" cy="318.1" r="1.0"/><circle cx="157.1" cy="318.7" r="0.8"/><circle cx="164.0" cy="319.3" r="1.0"/><circle cx="167.5" cy="318.9" r="0.8"/><circle cx="42.6" cy="320.4" r="0.8"/><circle cx="45.8" cy="320.9" r="1.0"/><circle cx="48.5" cy="320.8" r="0.9"/><circle cx="53.6" cy="320.3" r="0.9"/><circle cx="58.8" cy="320.3" r="0.9"/><circle cx="60.0" cy="320.5" r="0.8"/><circle cx="63.1" cy="320.7" r="0.9"/><circle cx="80.5" cy="320.1" r="0.8"/><circle cx="87.8" cy="321.6" r="0.9"/><circle cx="103.7" cy="321.0" r="0.9"/><circle cx="106.3" cy="320.4" r="0.9"/><circle cx="108.4" cy="321.0" r="0.9"/><circle cx="115.9" cy="320.6" r="1.0"/><circle cx="117.9" cy="320.9" r="1.0"/><circle cx="125.9" cy="321.0" r="0.9"/><circle cx="128.3" cy="320.3" r="1.0"/><circle cx="130.1" cy="320.8" r="1.0"/><circle cx="133.0" cy="320.8" r="0.7"/><circle cx="141.1" cy="320.4" r="0.8"/><circle cx="143.3" cy="321.0" r="1.0"/><circle cx="146.4" cy="320.8" r="0.9"/><circle cx="150.2" cy="320.1" r="0.9"/><circle cx="152.7" cy="321.4" r="0.8"/><circle cx="158.8" cy="320.5" r="1.0"/><circle cx="160.4" cy="320.9" r="1.0"/><circle cx="163.2" cy="320.9" r="0.8"/><circle cx="46.9" cy="323.6" r="1.0"/><circle cx="49.9" cy="323.2" r="0.9"/><circle cx="52.0" cy="322.8" r="0.7"/><circle cx="53.9" cy="322.3" r="0.9"/><circle cx="56.6" cy="323.5" r="1.0"/><circle cx="59.2" cy="322.3" r="0.8"/><circle cx="62.3" cy="322.8" r="0.9"/><circle cx="64.2" cy="323.4" r="0.8"/><circle cx="66.2" cy="322.8" r="1.0"/><circle cx="72.0" cy="323.1" r="0.8"/><circle cx="85.1" cy="322.9" r="0.8"/><circle cx="92.6" cy="323.6" r="1.0"/><circle cx="96.2" cy="323.2" r="0.7"/><circle cx="99.8" cy="323.4" r="1.0"/><circle cx="101.7" cy="323.1" r="0.9"/><circle cx="107.4" cy="323.7" r="0.8"/><circle cx="109.6" cy="322.3" r="0.7"/><circle cx="114.3" cy="322.5" r="1.0"/><circle cx="120.0" cy="323.6" r="1.0"/><circle cx="121.3" cy="323.7" r="0.8"/><circle cx="124.6" cy="323.5" r="0.8"/><circle cx="126.3" cy="323.0" r="1.0"/><circle cx="131.8" cy="323.0" r="0.9"/><circle cx="136.6" cy="323.4" r="0.8"/><circle cx="139.1" cy="322.4" r="1.0"/><circle cx="142.1" cy="323.4" r="0.7"/><circle cx="145.1" cy="322.4" r="0.8"/><circle cx="147.4" cy="322.6" r="0.8"/><circle cx="152.3" cy="322.7" r="0.8"/><circle cx="154.4" cy="323.7" r="0.8"/><circle cx="157.6" cy="323.6" r="1.0"/><circle cx="158.9" cy="322.7" r="0.8"/><circle cx="162.4" cy="323.3" r="1.0"/><circle cx="40.4" cy="325.8" r="0.9"/><circle cx="42.7" cy="325.2" r="0.7"/><circle cx="48.6" cy="325.1" r="0.8"/><circle cx="50.9" cy="325.2" r="0.9"/><circle cx="55.3" cy="324.5" r="0.8"/><circle cx="57.6" cy="324.6" r="0.9"/><circle cx="61.1" cy="325.0" r="1.0"/><circle cx="63.8" cy="324.9" r="1.0"/><circle cx="65.5" cy="324.9" r="1.0"/><circle cx="72.8" cy="324.9" r="0.8"/><circle cx="76.3" cy="324.7" r="0.9"/><circle cx="85.7" cy="324.8" r="1.0"/><circle cx="90.8" cy="324.7" r="0.7"/><circle cx="96.1" cy="325.9" r="0.9"/><circle cx="98.0" cy="324.5" r="0.9"/><circle cx="103.8" cy="325.3" r="0.9"/><circle cx="108.8" cy="325.4" r="0.9"/><circle cx="113.0" cy="325.6" r="1.0"/><circle cx="121.4" cy="325.2" r="0.9"/><circle cx="123.8" cy="325.0" r="1.0"/><circle cx="128.0" cy="325.4" r="0.9"/><circle cx="131.4" cy="325.6" r="1.0"/><circle cx="133.2" cy="325.5" r="0.8"/><circle cx="140.0" cy="324.5" r="0.9"/><circle cx="142.6" cy="324.9" r="0.9"/><circle cx="145.0" cy="324.8" r="0.8"/><circle cx="150.2" cy="324.6" r="1.0"/><circle cx="152.8" cy="325.3" r="0.8"/><circle cx="160.1" cy="324.8" r="0.8"/><circle cx="163.3" cy="325.5" r="0.9"/><circle cx="166.0" cy="324.8" r="0.9"/><circle cx="46.8" cy="326.8" r="0.8"/><circle cx="50.1" cy="327.7" r="0.8"/><circle cx="51.8" cy="327.2" r="0.9"/><circle cx="57.1" cy="327.1" r="0.9"/><circle cx="58.8" cy="327.4" r="0.8"/><circle cx="62.3" cy="327.2" r="0.7"/><circle cx="64.9" cy="327.9" r="0.7"/><circle cx="66.2" cy="327.9" r="0.8"/><circle cx="68.8" cy="327.1" r="0.8"/><circle cx="74.8" cy="326.7" r="0.8"/><circle cx="77.3" cy="327.4" r="0.9"/><circle cx="82.6" cy="326.6" r="0.9"/><circle cx="86.3" cy="326.8" r="0.9"/><circle cx="89.9" cy="327.3" r="0.7"/><circle cx="99.3" cy="327.6" r="1.0"/><circle cx="104.5" cy="327.3" r="0.9"/><circle cx="109.2" cy="327.7" r="0.8"/><circle cx="114.5" cy="326.6" r="0.9"/><circle cx="117.5" cy="327.6" r="1.0"/><circle cx="121.6" cy="328.1" r="1.0"/><circle cx="129.2" cy="327.7" r="1.0"/><circle cx="137.1" cy="327.2" r="0.9"/><circle cx="141.9" cy="326.8" r="1.0"/><circle cx="144.2" cy="327.6" r="0.7"/><circle cx="147.4" cy="326.9" r="0.7"/><circle cx="154.0" cy="328.0" r="1.0"/><circle cx="157.3" cy="327.3" r="0.9"/><circle cx="158.8" cy="327.9" r="1.0"/><circle cx="164.1" cy="327.7" r="1.0"/><circle cx="167.0" cy="326.9" r="0.9"/><circle cx="43.6" cy="329.1" r="0.9"/><circle cx="48.7" cy="329.3" r="0.9"/><circle cx="53.8" cy="329.8" r="1.0"/><circle cx="55.7" cy="329.5" r="0.9"/><circle cx="58.2" cy="329.0" r="0.8"/><circle cx="60.5" cy="328.9" r="1.0"/><circle cx="62.8" cy="329.0" r="0.9"/><circle cx="76.3" cy="329.6" r="0.7"/><circle cx="78.4" cy="329.0" r="1.0"/><circle cx="80.3" cy="328.9" r="0.8"/><circle cx="82.9" cy="330.0" r="0.9"/><circle cx="88.7" cy="329.2" r="1.0"/><circle cx="95.8" cy="329.7" r="0.9"/><circle cx="98.8" cy="329.2" r="0.7"/><circle cx="115.5" cy="329.4" r="0.9"/><circle cx="118.7" cy="330.3" r="0.8"/><circle cx="120.5" cy="328.9" r="0.9"/><circle cx="130.0" cy="329.0" r="0.7"/><circle cx="132.9" cy="329.8" r="0.8"/><circle cx="135.8" cy="329.5" r="0.7"/><circle cx="137.8" cy="329.6" r="1.0"/><circle cx="140.4" cy="330.2" r="0.9"/><circle cx="143.8" cy="330.0" r="0.9"/><circle cx="145.7" cy="329.2" r="0.9"/><circle cx="150.8" cy="329.2" r="0.7"/><circle cx="160.9" cy="329.5" r="0.9"/><circle cx="162.4" cy="329.2" r="1.0"/><circle cx="42.5" cy="331.6" r="0.8"/><circle cx="44.0" cy="331.6" r="0.8"/><circle cx="47.1" cy="331.5" r="0.9"/><circle cx="54.3" cy="332.2" r="0.8"/><circle cx="57.3" cy="332.1" r="0.7"/><circle cx="59.3" cy="332.1" r="1.0"/><circle cx="62.7" cy="331.7" r="0.9"/><circle cx="64.5" cy="331.2" r="1.0"/><circle cx="67.6" cy="331.2" r="1.0"/><circle cx="70.2" cy="331.1" r="0.9"/><circle cx="77.5" cy="331.9" r="0.9"/><circle cx="79.2" cy="331.4" r="0.9"/><circle cx="84.5" cy="332.2" r="0.7"/><circle cx="89.2" cy="331.1" r="1.0"/><circle cx="91.7" cy="332.3" r="0.9"/><circle cx="94.0" cy="331.9" r="0.7"/><circle cx="101.3" cy="332.1" r="0.8"/><circle cx="104.8" cy="332.3" r="1.0"/><circle cx="107.1" cy="331.5" r="0.9"/><circle cx="109.5" cy="331.3" r="0.8"/><circle cx="115.1" cy="331.2" r="1.0"/><circle cx="129.5" cy="331.9" r="0.8"/><circle cx="134.3" cy="332.5" r="0.7"/><circle cx="137.7" cy="331.3" r="0.9"/><circle cx="142.5" cy="331.8" r="0.9"/><circle cx="144.5" cy="331.6" r="1.0"/><circle cx="146.7" cy="331.3" r="1.0"/><circle cx="155.1" cy="331.5" r="0.9"/><circle cx="157.6" cy="332.0" r="0.9"/><circle cx="164.4" cy="331.9" r="0.8"/><circle cx="166.7" cy="331.5" r="0.8"/><circle cx="44.1" cy="334.5" r="0.7"/><circle cx="48.9" cy="333.3" r="0.9"/><circle cx="51.3" cy="334.6" r="1.0"/><circle cx="54.1" cy="334.5" r="0.8"/><circle cx="56.1" cy="334.2" r="1.0"/><circle cx="59.1" cy="334.0" r="1.0"/><circle cx="60.3" cy="334.3" r="0.9"/><circle cx="65.7" cy="333.9" r="0.8"/><circle cx="73.3" cy="334.1" r="0.9"/><circle cx="77.9" cy="333.6" r="0.9"/><circle cx="83.4" cy="333.6" r="0.8"/><circle cx="91.1" cy="334.1" r="0.8"/><circle cx="101.2" cy="333.4" r="1.0"/><circle cx="107.8" cy="334.4" r="0.8"/><circle cx="113.5" cy="334.4" r="0.7"/><circle cx="116.3" cy="334.4" r="0.9"/><circle cx="121.3" cy="333.3" r="0.7"/><circle cx="123.9" cy="334.2" r="0.9"/><circle cx="125.7" cy="334.1" r="1.0"/><circle cx="133.2" cy="334.4" r="1.0"/><circle cx="135.3" cy="334.1" r="0.7"/><circle cx="138.3" cy="334.6" r="0.8"/><circle cx="147.7" cy="333.3" r="0.8"/><circle cx="150.5" cy="333.8" r="0.8"/><circle cx="153.6" cy="334.1" r="0.9"/><circle cx="155.5" cy="333.6" r="0.8"/><circle cx="158.5" cy="334.4" r="0.8"/><circle cx="161.0" cy="333.3" r="1.0"/><circle cx="165.7" cy="334.1" r="0.9"/><circle cx="46.9" cy="335.9" r="0.8"/><circle cx="51.3" cy="336.5" r="0.8"/><circle cx="54.2" cy="336.0" r="1.0"/><circle cx="56.6" cy="336.4" r="1.0"/><circle cx="59.1" cy="335.9" r="0.8"/><circle cx="64.6" cy="335.8" r="0.7"/><circle cx="67.2" cy="336.5" r="0.9"/><circle cx="70.0" cy="336.5" r="0.9"/><circle cx="71.9" cy="335.9" r="0.8"/><circle cx="74.5" cy="336.6" r="1.0"/><circle cx="77.5" cy="335.8" r="1.0"/><circle cx="80.1" cy="335.4" r="1.0"/><circle cx="83.9" cy="335.8" r="1.0"/><circle cx="86.5" cy="335.7" r="1.0"/><circle cx="91.6" cy="335.5" r="1.0"/><circle cx="94.8" cy="336.0" r="1.0"/><circle cx="103.7" cy="335.7" r="0.8"/><circle cx="107.1" cy="336.0" r="0.7"/><circle cx="112.5" cy="336.1" r="0.7"/><circle cx="114.4" cy="335.9" r="0.9"/><circle cx="119.3" cy="335.7" r="0.9"/><circle cx="125.1" cy="335.5" r="1.0"/><circle cx="126.9" cy="335.7" r="0.9"/><circle cx="129.4" cy="336.4" r="0.8"/><circle cx="132.3" cy="335.7" r="0.8"/><circle cx="133.9" cy="335.8" r="0.8"/><circle cx="139.9" cy="336.1" r="0.9"/><circle cx="141.6" cy="336.4" r="1.0"/><circle cx="145.1" cy="335.5" r="0.9"/><circle cx="146.7" cy="336.5" r="1.0"/><circle cx="151.2" cy="336.0" r="1.0"/><circle cx="154.4" cy="336.5" r="0.8"/><circle cx="156.6" cy="336.0" r="1.0"/><circle cx="161.7" cy="336.3" r="0.9"/><circle cx="166.9" cy="335.7" r="1.0"/><circle cx="41.3" cy="338.8" r="0.9"/><circle cx="44.0" cy="337.5" r="0.8"/><circle cx="45.3" cy="339.0" r="0.8"/><circle cx="48.8" cy="338.3" r="0.7"/><circle cx="50.9" cy="337.7" r="0.9"/><circle cx="58.6" cy="338.0" r="0.8"/><circle cx="65.6" cy="337.9" r="1.0"/><circle cx="68.6" cy="338.7" r="1.0"/><circle cx="74.0" cy="338.5" r="0.8"/><circle cx="76.4" cy="339.0" r="1.0"/><circle cx="80.7" cy="338.8" r="0.9"/><circle cx="83.4" cy="338.5" r="0.9"/><circle cx="85.4" cy="338.3" r="0.8"/><circle cx="101.1" cy="338.2" r="0.7"/><circle cx="109.2" cy="338.9" r="0.8"/><circle cx="111.3" cy="337.5" r="0.9"/><circle cx="112.7" cy="338.0" r="0.8"/><circle cx="117.8" cy="337.9" r="0.7"/><circle cx="126.6" cy="339.0" r="0.9"/><circle cx="131.4" cy="337.6" r="1.0"/><circle cx="137.8" cy="338.5" r="0.7"/><circle cx="141.0" cy="339.0" r="0.9"/><circle cx="148.6" cy="338.9" r="1.0"/><circle cx="152.8" cy="338.7" r="1.0"/><circle cx="155.3" cy="338.2" r="0.8"/><circle cx="161.5" cy="337.5" r="0.8"/><circle cx="166.1" cy="338.2" r="0.7"/><circle cx="45.0" cy="340.9" r="0.8"/><circle cx="46.5" cy="340.8" r="1.0"/><circle cx="49.8" cy="341.0" r="1.0"/><circle cx="54.1" cy="339.9" r="0.8"/><circle cx="56.6" cy="341.0" r="0.8"/><circle cx="59.9" cy="340.1" r="0.9"/><circle cx="61.9" cy="340.6" r="0.9"/><circle cx="66.9" cy="340.5" r="0.9"/><circle cx="71.7" cy="340.7" r="1.0"/><circle cx="76.8" cy="340.4" r="0.7"/><circle cx="79.9" cy="340.0" r="0.9"/><circle cx="89.4" cy="340.7" r="1.0"/><circle cx="91.8" cy="340.4" r="0.7"/><circle cx="99.2" cy="340.2" r="0.9"/><circle cx="117.5" cy="339.9" r="1.0"/><circle cx="122.6" cy="340.4" r="0.7"/><circle cx="124.1" cy="341.0" r="0.7"/><circle cx="126.7" cy="340.0" r="0.8"/><circle cx="129.9" cy="340.9" r="0.9"/><circle cx="134.9" cy="341.0" r="1.0"/><circle cx="137.4" cy="340.8" r="0.7"/><circle cx="144.5" cy="340.3" r="0.9"/><circle cx="147.5" cy="340.6" r="0.9"/><circle cx="150.0" cy="340.2" r="1.0"/><circle cx="154.8" cy="339.9" r="0.8"/><circle cx="159.5" cy="340.1" r="1.0"/><circle cx="161.4" cy="341.1" r="0.8"/><circle cx="164.9" cy="340.9" r="0.7"/><circle cx="40.2" cy="342.3" r="0.8"/><circle cx="45.8" cy="343.0" r="0.8"/><circle cx="50.8" cy="342.4" r="0.8"/><circle cx="56.6" cy="342.7" r="0.9"/><circle cx="63.7" cy="342.5" r="0.8"/><circle cx="65.3" cy="342.6" r="1.0"/><circle cx="68.7" cy="342.2" r="0.8"/><circle cx="71.4" cy="342.7" r="0.8"/><circle cx="76.0" cy="342.4" r="1.0"/><circle cx="78.0" cy="342.0" r="1.0"/><circle cx="81.1" cy="342.5" r="1.0"/><circle cx="103.9" cy="342.5" r="0.8"/><circle cx="119.0" cy="342.9" r="0.8"/><circle cx="120.2" cy="342.5" r="0.8"/><circle cx="123.6" cy="343.3" r="0.8"/><circle cx="125.2" cy="342.3" r="0.8"/><circle cx="128.7" cy="343.1" r="0.9"/><circle cx="132.7" cy="342.4" r="0.9"/><circle cx="135.8" cy="343.0" r="0.9"/><circle cx="138.7" cy="342.2" r="1.0"/><circle cx="141.6" cy="342.8" r="0.8"/><circle cx="143.0" cy="343.3" r="0.8"/><circle cx="145.6" cy="342.9" r="0.9"/><circle cx="147.9" cy="342.4" r="1.0"/><circle cx="150.2" cy="343.3" r="0.9"/><circle cx="153.0" cy="343.2" r="0.9"/><circle cx="156.4" cy="342.0" r="1.0"/><circle cx="158.5" cy="342.1" r="1.0"/><circle cx="161.3" cy="342.5" r="1.0"/><circle cx="163.3" cy="342.8" r="0.8"/><circle cx="41.9" cy="344.8" r="1.0"/><circle cx="47.1" cy="345.4" r="0.8"/><circle cx="49.7" cy="344.5" r="0.8"/><circle cx="52.7" cy="344.6" r="1.0"/><circle cx="54.5" cy="345.0" r="0.7"/><circle cx="57.3" cy="345.5" r="1.0"/><circle cx="60.3" cy="344.5" r="0.9"/><circle cx="62.1" cy="344.2" r="1.0"/><circle cx="65.2" cy="345.0" r="1.0"/><circle cx="67.7" cy="344.3" r="1.0"/><circle cx="74.2" cy="344.7" r="0.9"/><circle cx="81.9" cy="345.4" r="0.9"/><circle cx="85.3" cy="344.0" r="0.9"/><circle cx="89.0" cy="344.7" r="1.0"/><circle cx="100.1" cy="345.2" r="1.0"/><circle cx="104.1" cy="344.2" r="1.0"/><circle cx="107.5" cy="344.2" r="0.8"/><circle cx="114.0" cy="345.4" r="0.8"/><circle cx="116.8" cy="344.5" r="1.0"/><circle cx="119.9" cy="344.9" r="1.0"/><circle cx="121.6" cy="344.5" r="0.8"/><circle cx="126.6" cy="345.0" r="0.9"/><circle cx="131.6" cy="344.5" r="0.9"/><circle cx="133.9" cy="344.3" r="0.9"/><circle cx="140.4" cy="344.6" r="0.8"/><circle cx="147.1" cy="344.3" r="0.8"/><circle cx="151.9" cy="344.5" r="0.8"/><circle cx="162.6" cy="344.8" r="0.8"/><circle cx="164.9" cy="344.6" r="0.8"/><circle cx="41.4" cy="347.7" r="0.9"/><circle cx="46.2" cy="347.2" r="0.9"/><circle cx="48.3" cy="346.3" r="0.9"/><circle cx="52.7" cy="347.6" r="0.7"/><circle cx="55.5" cy="347.1" r="0.9"/><circle cx="58.4" cy="347.4" r="0.9"/><circle cx="60.4" cy="346.4" r="0.8"/><circle cx="63.4" cy="346.5" r="0.9"/><circle cx="66.0" cy="347.5" r="1.0"/><circle cx="71.0" cy="346.9" r="1.0"/><circle cx="73.5" cy="346.9" r="0.9"/><circle cx="75.9" cy="347.6" r="1.0"/><circle cx="84.0" cy="346.9" r="1.0"/><circle cx="85.8" cy="346.4" r="0.9"/><circle cx="91.1" cy="347.0" r="1.0"/><circle cx="95.6" cy="347.0" r="0.8"/><circle cx="98.5" cy="347.1" r="0.8"/><circle cx="110.8" cy="347.5" r="0.8"/><circle cx="115.8" cy="346.8" r="0.8"/><circle cx="125.4" cy="347.3" r="0.8"/><circle cx="128.1" cy="347.4" r="0.9"/><circle cx="130.4" cy="346.5" r="1.0"/><circle cx="132.8" cy="346.6" r="0.9"/><circle cx="137.7" cy="347.2" r="1.0"/><circle cx="140.9" cy="346.6" r="0.8"/><circle cx="142.8" cy="347.2" r="0.8"/><circle cx="146.5" cy="346.4" r="1.0"/><circle cx="148.1" cy="347.4" r="0.8"/><circle cx="150.3" cy="346.7" r="0.7"/><circle cx="155.5" cy="347.0" r="0.7"/><circle cx="42.2" cy="349.4" r="1.0"/><circle cx="43.7" cy="348.6" r="0.8"/><circle cx="46.9" cy="348.5" r="1.0"/><circle cx="49.4" cy="348.4" r="0.7"/><circle cx="54.4" cy="349.2" r="1.0"/><circle cx="66.8" cy="348.8" r="1.0"/><circle cx="69.8" cy="349.4" r="0.9"/><circle cx="74.9" cy="349.0" r="0.9"/><circle cx="76.2" cy="349.6" r="0.8"/><circle cx="79.3" cy="348.8" r="0.9"/><circle cx="87.5" cy="349.7" r="1.0"/><circle cx="89.0" cy="348.7" r="0.9"/><circle cx="95.1" cy="348.9" r="0.8"/><circle cx="99.1" cy="349.8" r="0.8"/><circle cx="104.9" cy="348.9" r="1.0"/><circle cx="107.3" cy="349.0" r="0.8"/><circle cx="119.8" cy="348.9" r="1.0"/><circle cx="122.4" cy="348.9" r="0.7"/><circle cx="126.8" cy="349.7" r="1.0"/><circle cx="131.6" cy="349.9" r="0.9"/><circle cx="136.6" cy="349.4" r="0.7"/><circle cx="139.0" cy="349.2" r="0.8"/><circle cx="142.2" cy="349.5" r="1.0"/><circle cx="145.0" cy="349.4" r="0.8"/><circle cx="151.4" cy="349.7" r="0.8"/><circle cx="157.5" cy="348.8" r="1.0"/><circle cx="159.2" cy="349.7" r="1.0"/><circle cx="162.5" cy="348.4" r="0.9"/><circle cx="164.5" cy="348.6" r="1.0"/><circle cx="166.3" cy="349.9" r="0.9"/><circle cx="41.5" cy="351.4" r="0.9"/><circle cx="43.7" cy="351.0" r="1.0"/><circle cx="45.4" cy="351.5" r="0.9"/><circle cx="51.5" cy="350.8" r="0.7"/><circle cx="54.2" cy="350.9" r="0.7"/><circle cx="55.8" cy="351.9" r="0.8"/><circle cx="58.0" cy="351.5" r="1.0"/><circle cx="64.1" cy="351.7" r="0.8"/><circle cx="67.8" cy="351.9" r="0.7"/><circle cx="70.5" cy="350.8" r="0.7"/><circle cx="73.9" cy="350.8" r="0.9"/><circle cx="93.3" cy="351.3" r="0.8"/><circle cx="96.2" cy="352.0" r="0.8"/><circle cx="100.7" cy="351.9" r="0.9"/><circle cx="113.3" cy="351.5" r="1.0"/><circle cx="116.0" cy="351.8" r="0.8"/><circle cx="119.2" cy="351.4" r="0.7"/><circle cx="120.5" cy="351.5" r="1.0"/><circle cx="126.2" cy="351.8" r="1.0"/><circle cx="131.7" cy="351.9" r="0.7"/><circle cx="134.1" cy="350.6" r="0.9"/><circle cx="135.7" cy="351.9" r="1.0"/><circle cx="137.8" cy="351.2" r="1.0"/><circle cx="147.8" cy="352.0" r="1.0"/><circle cx="156.4" cy="350.6" r="0.8"/><circle cx="161.2" cy="351.0" r="1.0"/><circle cx="166.6" cy="351.1" r="1.0"/><circle cx="42.5" cy="352.9" r="0.9"/><circle cx="47.3" cy="353.1" r="1.0"/><circle cx="49.6" cy="353.6" r="1.0"/><circle cx="56.6" cy="353.8" r="0.8"/><circle cx="62.7" cy="352.9" r="1.0"/><circle cx="84.3" cy="353.8" r="1.0"/><circle cx="92.4" cy="353.7" r="0.9"/><circle cx="93.7" cy="354.1" r="1.0"/><circle cx="99.1" cy="354.0" r="1.0"/><circle cx="101.6" cy="353.4" r="0.9"/><circle cx="109.2" cy="353.3" r="1.0"/><circle cx="112.5" cy="354.0" r="0.9"/><circle cx="114.8" cy="354.0" r="1.0"/><circle cx="119.2" cy="353.5" r="0.8"/><circle cx="121.6" cy="353.8" r="1.0"/><circle cx="126.7" cy="352.9" r="1.0"/><circle cx="132.0" cy="353.3" r="0.8"/><circle cx="145.0" cy="353.2" r="0.7"/><circle cx="147.7" cy="353.4" r="0.9"/><circle cx="149.7" cy="353.1" r="1.0"/><circle cx="152.7" cy="353.1" r="0.9"/><circle cx="154.0" cy="352.7" r="0.7"/><circle cx="157.1" cy="354.0" r="0.9"/><circle cx="167.7" cy="353.9" r="0.8"/><circle cx="41.6" cy="355.4" r="1.0"/><circle cx="45.6" cy="355.7" r="1.0"/><circle cx="48.9" cy="355.7" r="0.8"/><circle cx="53.8" cy="355.9" r="1.0"/><circle cx="55.9" cy="355.8" r="0.9"/><circle cx="65.4" cy="355.9" r="1.0"/><circle cx="74.1" cy="356.4" r="0.9"/><circle cx="76.0" cy="355.9" r="0.9"/><circle cx="79.0" cy="356.3" r="0.9"/><circle cx="81.2" cy="355.4" r="0.9"/><circle cx="83.8" cy="355.4" r="1.0"/><circle cx="91.3" cy="355.2" r="0.9"/><circle cx="93.4" cy="355.1" r="1.0"/><circle cx="96.1" cy="356.3" r="0.8"/><circle cx="98.7" cy="355.1" r="0.7"/><circle cx="103.4" cy="355.2" r="0.8"/><circle cx="106.7" cy="355.9" r="1.0"/><circle cx="111.7" cy="355.0" r="0.8"/><circle cx="114.1" cy="355.7" r="0.8"/><circle cx="115.2" cy="356.3" r="1.0"/><circle cx="119.1" cy="355.2" r="0.8"/><circle cx="124.1" cy="355.8" r="1.0"/><circle cx="126.3" cy="356.2" r="0.8"/><circle cx="128.9" cy="355.0" r="0.9"/><circle cx="133.2" cy="355.3" r="0.8"/><circle cx="136.0" cy="356.3" r="0.9"/><circle cx="141.6" cy="355.7" r="0.9"/><circle cx="142.9" cy="355.7" r="0.8"/><circle cx="145.6" cy="356.1" r="0.8"/><circle cx="158.6" cy="355.7" r="0.9"/><circle cx="165.9" cy="355.0" r="0.7"/><circle cx="54.6" cy="357.2" r="0.8"/><circle cx="67.6" cy="358.1" r="0.8"/><circle cx="69.1" cy="358.0" r="1.0"/><circle cx="81.3" cy="357.3" r="0.9"/><circle cx="87.6" cy="358.0" r="1.0"/><circle cx="91.9" cy="357.7" r="1.0"/><circle cx="99.5" cy="358.1" r="0.9"/><circle cx="101.5" cy="358.4" r="0.8"/><circle cx="104.3" cy="358.5" r="0.9"/><circle cx="107.7" cy="357.7" r="0.8"/><circle cx="109.6" cy="357.2" r="1.0"/><circle cx="112.6" cy="358.5" r="0.9"/><circle cx="114.0" cy="358.6" r="0.7"/><circle cx="116.6" cy="358.3" r="1.0"/><circle cx="120.0" cy="357.4" r="0.9"/><circle cx="121.5" cy="358.0" r="1.0"/><circle cx="124.9" cy="357.4" r="0.8"/><circle cx="127.1" cy="358.5" r="1.0"/><circle cx="130.2" cy="357.6" r="0.9"/><circle cx="131.9" cy="357.3" r="0.7"/><circle cx="134.1" cy="357.4" r="0.9"/><circle cx="137.6" cy="357.2" r="0.9"/><circle cx="141.4" cy="358.1" r="0.9"/><circle cx="146.8" cy="357.3" r="0.8"/><circle cx="152.4" cy="357.3" r="0.9"/><circle cx="40.1" cy="360.2" r="1.0"/><circle cx="43.9" cy="360.6" r="0.7"/><circle cx="46.1" cy="359.5" r="0.9"/><circle cx="48.2" cy="359.6" r="1.0"/><circle cx="50.5" cy="360.7" r="0.8"/><circle cx="53.5" cy="359.9" r="0.8"/><circle cx="57.7" cy="359.6" r="0.8"/><circle cx="65.5" cy="360.2" r="0.7"/><circle cx="67.6" cy="360.2" r="1.0"/><circle cx="71.1" cy="360.2" r="0.8"/><circle cx="96.1" cy="359.4" r="1.0"/><circle cx="97.5" cy="360.5" r="1.0"/><circle cx="100.2" cy="359.5" r="1.0"/><circle cx="107.9" cy="359.4" r="1.0"/><circle cx="110.2" cy="359.9" r="0.9"/><circle cx="112.7" cy="360.1" r="1.0"/><circle cx="118.4" cy="359.5" r="1.0"/><circle cx="120.1" cy="359.8" r="0.8"/><circle cx="126.3" cy="360.1" r="1.0"/><circle cx="128.9" cy="360.7" r="1.0"/><circle cx="131.4" cy="360.6" r="0.7"/><circle cx="132.9" cy="359.8" r="1.0"/><circle cx="142.5" cy="360.6" r="0.8"/><circle cx="146.2" cy="359.5" r="0.9"/><circle cx="150.0" cy="359.6" r="0.9"/><circle cx="156.1" cy="359.9" r="0.9"/><circle cx="161.0" cy="359.3" r="1.0"/><circle cx="42.6" cy="362.0" r="1.0"/><circle cx="45.0" cy="362.3" r="0.8"/><circle cx="47.8" cy="362.8" r="0.9"/><circle cx="49.4" cy="362.2" r="1.0"/><circle cx="52.6" cy="361.6" r="0.8"/><circle cx="57.7" cy="361.4" r="1.0"/><circle cx="60.2" cy="362.4" r="0.9"/><circle cx="65.1" cy="361.6" r="0.9"/><circle cx="66.7" cy="362.5" r="0.7"/><circle cx="71.8" cy="361.5" r="0.8"/><circle cx="74.7" cy="362.1" r="1.0"/><circle cx="77.3" cy="361.7" r="0.9"/><circle cx="80.2" cy="361.5" r="0.7"/><circle cx="81.7" cy="361.7" r="0.9"/><circle cx="86.5" cy="361.7" r="1.0"/><circle cx="92.3" cy="362.2" r="0.8"/><circle cx="97.4" cy="362.9" r="1.0"/><circle cx="99.0" cy="361.5" r="1.0"/><circle cx="102.4" cy="362.7" r="1.0"/><circle cx="114.6" cy="362.5" r="0.9"/><circle cx="119.2" cy="362.3" r="0.8"/><circle cx="125.2" cy="362.9" r="1.0"/><circle cx="129.6" cy="361.5" r="0.8"/><circle cx="132.9" cy="362.4" r="0.7"/><circle cx="135.1" cy="362.4" r="0.9"/><circle cx="136.7" cy="361.6" r="0.8"/><circle cx="139.4" cy="361.5" r="0.8"/><circle cx="142.9" cy="362.3" r="0.9"/><circle cx="146.7" cy="362.9" r="1.0"/><circle cx="149.0" cy="361.9" r="0.8"/><circle cx="154.6" cy="361.4" r="0.8"/><circle cx="159.1" cy="361.6" r="1.0"/><circle cx="167.1" cy="361.7" r="0.8"/><circle cx="43.9" cy="364.4" r="0.8"/><circle cx="45.5" cy="363.8" r="0.9"/><circle cx="50.5" cy="364.8" r="0.9"/><circle cx="52.7" cy="364.4" r="1.0"/><circle cx="56.1" cy="363.7" r="0.9"/><circle cx="59.0" cy="365.0" r="0.9"/><circle cx="61.4" cy="364.8" r="0.8"/><circle cx="64.0" cy="363.7" r="0.9"/><circle cx="67.9" cy="364.0" r="1.0"/><circle cx="78.0" cy="364.8" r="1.0"/><circle cx="80.8" cy="364.8" r="0.8"/><circle cx="92.8" cy="364.0" r="0.9"/><circle cx="95.9" cy="363.8" r="1.0"/><circle cx="107.7" cy="364.0" r="0.9"/><circle cx="112.9" cy="363.7" r="0.8"/><circle cx="116.0" cy="365.0" r="1.0"/><circle cx="119.1" cy="364.1" r="1.0"/><circle cx="120.9" cy="364.4" r="0.9"/><circle cx="126.4" cy="364.3" r="1.0"/><circle cx="128.1" cy="364.0" r="0.9"/><circle cx="130.3" cy="364.9" r="0.7"/><circle cx="133.0" cy="364.0" r="1.0"/><circle cx="145.5" cy="364.5" r="0.9"/><circle cx="154.1" cy="364.7" r="0.9"/><circle cx="156.0" cy="363.8" r="0.9"/><circle cx="158.2" cy="364.1" r="0.7"/><circle cx="42.7" cy="366.1" r="1.0"/><circle cx="47.6" cy="366.3" r="0.9"/><circle cx="49.7" cy="367.1" r="0.9"/><circle cx="51.8" cy="366.1" r="0.8"/><circle cx="64.0" cy="365.9" r="0.7"/><circle cx="66.4" cy="365.8" r="0.7"/><circle cx="76.8" cy="366.8" r="0.7"/><circle cx="96.5" cy="366.8" r="0.8"/><circle cx="99.4" cy="365.8" r="0.9"/><circle cx="107.4" cy="366.9" r="0.8"/><circle cx="109.9" cy="367.2" r="0.9"/><circle cx="112.6" cy="367.3" r="0.9"/><circle cx="119.3" cy="365.9" r="1.0"/><circle cx="125.0" cy="366.6" r="0.9"/><circle cx="127.0" cy="366.7" r="1.0"/><circle cx="132.7" cy="366.8" r="1.0"/><circle cx="134.0" cy="366.2" r="1.0"/><circle cx="137.3" cy="366.5" r="0.9"/><circle cx="142.8" cy="366.0" r="0.9"/><circle cx="160.1" cy="366.5" r="1.0"/><circle cx="167.0" cy="366.9" r="0.9"/><circle cx="41.2" cy="369.3" r="0.7"/><circle cx="43.7" cy="368.7" r="0.8"/><circle cx="45.1" cy="369.4" r="0.8"/><circle cx="48.7" cy="368.8" r="1.0"/><circle cx="50.0" cy="368.0" r="0.8"/><circle cx="53.6" cy="368.1" r="1.0"/><circle cx="55.6" cy="368.5" r="0.9"/><circle cx="57.9" cy="368.5" r="0.8"/><circle cx="62.5" cy="368.7" r="0.8"/><circle cx="68.1" cy="368.8" r="0.9"/><circle cx="73.2" cy="368.0" r="0.9"/><circle cx="82.8" cy="369.4" r="0.8"/><circle cx="86.1" cy="369.2" r="0.8"/><circle cx="91.1" cy="369.4" r="0.9"/><circle cx="93.2" cy="369.0" r="1.0"/><circle cx="100.4" cy="368.2" r="0.8"/><circle cx="105.3" cy="368.7" r="1.0"/><circle cx="110.0" cy="368.2" r="0.9"/><circle cx="113.7" cy="368.3" r="0.9"/><circle cx="116.3" cy="368.1" r="1.0"/><circle cx="118.9" cy="368.8" r="0.8"/><circle cx="121.0" cy="368.0" r="0.9"/><circle cx="123.4" cy="368.1" r="0.8"/><circle cx="125.8" cy="368.6" r="0.8"/><circle cx="128.9" cy="368.5" r="1.0"/><circle cx="131.3" cy="369.3" r="0.8"/><circle cx="133.3" cy="369.0" r="1.0"/><circle cx="135.5" cy="368.3" r="1.0"/><circle cx="137.8" cy="368.6" r="0.8"/><circle cx="147.5" cy="369.3" r="1.0"/><circle cx="151.3" cy="369.2" r="0.9"/><circle cx="153.2" cy="368.1" r="0.9"/><circle cx="155.8" cy="369.2" r="0.7"/><circle cx="158.2" cy="369.2" r="0.9"/><circle cx="161.5" cy="368.8" r="1.0"/><circle cx="163.7" cy="368.5" r="0.8"/></g>
</g>
<g clip-path="url(#che2)">
<rect x="40.5" y="374.0" width="125" height="108.7" fill="#9a8ade"/>
<rect x="40.5" y="374.0" width="125" height="108.7" filter="url(#fmot2)"/>
<g filter="url(#blur2)"><ellipse cx="49.7" cy="399.5" rx="6" ry="8" fill="#b2a2e2" fill-opacity="0.85"/><ellipse cx="53" cy="416.5" rx="6" ry="7" fill="#b2a2e2" fill-opacity="0.85"/><ellipse cx="103" cy="411.7" rx="7" ry="10" fill="#b2a2e2" fill-opacity="0.85"/><ellipse cx="89.6" cy="424" rx="6" ry="7" fill="#b2a2e2" fill-opacity="0.85"/><ellipse cx="108" cy="439.5" rx="10" ry="9" fill="#b2a2e2" fill-opacity="0.85"/><ellipse cx="139" cy="446.5" rx="7" ry="8" fill="#b2a2e2" fill-opacity="0.85"/><ellipse cx="83.6" cy="453" rx="7" ry="7" fill="#b2a2e2" fill-opacity="0.85"/><ellipse cx="63" cy="442" rx="6" ry="6" fill="#b2a2e2" fill-opacity="0.85"/><ellipse cx="44" cy="438" rx="5" ry="7" fill="#b2a2e2" fill-opacity="0.85"/><ellipse cx="93" cy="472" rx="5" ry="7" fill="#b2a2e2" fill-opacity="0.85"/><ellipse cx="153" cy="386" rx="7" ry="6" fill="#b2a2e2" fill-opacity="0.85"/><ellipse cx="133" cy="393" rx="3.5" ry="8.5" fill="#d8e2fa" fill-opacity="0.95" transform="rotate(25 133 393)"/><ellipse cx="81.7" cy="416" rx="2.5" ry="6.5" fill="#d4def8" fill-opacity="0.9" transform="rotate(-10 81.7 416)"/></g>
<g fill="none" stroke="#6a54b4" stroke-width="1.2" stroke-opacity="0.6" filter="url(#blur05)"><ellipse cx="49.7" cy="399.5" rx="3.6" ry="4.8"/><ellipse cx="53" cy="416.5" rx="3.6" ry="4.2"/><ellipse cx="103" cy="411.7" rx="4.2" ry="6.0"/><ellipse cx="89.6" cy="424" rx="3.6" ry="4.2"/><ellipse cx="108" cy="439.5" rx="6.0" ry="5.4"/><ellipse cx="139" cy="446.5" rx="4.2" ry="4.8"/><ellipse cx="83.6" cy="453" rx="4.2" ry="4.2"/><ellipse cx="63" cy="442" rx="3.6" ry="3.6"/></g>
<g fill="#56389c" fill-opacity="0.45" filter="url(#blur05)"><circle cx="138.1" cy="377.0" r="1.1"/><circle cx="139.3" cy="470.6" r="1.0"/><circle cx="137.1" cy="421.0" r="0.6"/><circle cx="51.1" cy="470.9" r="0.9"/><circle cx="86.7" cy="416.7" r="1.0"/><circle cx="155.1" cy="407.0" r="0.8"/><circle cx="79.0" cy="477.1" r="0.8"/><circle cx="155.9" cy="439.8" r="0.9"/><circle cx="99.2" cy="383.9" r="0.8"/><circle cx="74.0" cy="403.5" r="0.9"/><circle cx="79.6" cy="472.5" r="0.9"/><circle cx="93.5" cy="445.6" r="1.0"/><circle cx="57.9" cy="457.7" r="0.9"/><circle cx="85.7" cy="433.0" r="1.0"/><circle cx="113.2" cy="392.9" r="1.0"/><circle cx="120.3" cy="396.4" r="1.0"/><circle cx="71.2" cy="426.6" r="0.9"/><circle cx="107.7" cy="389.9" r="0.7"/><circle cx="156.5" cy="423.4" r="0.9"/><circle cx="75.1" cy="435.7" r="0.6"/><circle cx="94.0" cy="480.7" r="0.8"/><circle cx="88.9" cy="387.0" r="0.8"/><circle cx="75.2" cy="433.6" r="1.0"/><circle cx="156.2" cy="448.6" r="1.0"/><circle cx="111.3" cy="375.1" r="0.9"/><circle cx="75.1" cy="420.7" r="0.9"/><circle cx="111.8" cy="403.0" r="1.0"/><circle cx="59.5" cy="434.2" r="0.7"/><circle cx="141.2" cy="463.7" r="0.9"/><circle cx="162.8" cy="403.3" r="0.6"/><circle cx="146.2" cy="398.0" r="0.7"/><circle cx="62.2" cy="398.0" r="0.7"/><circle cx="79.1" cy="437.0" r="0.8"/><circle cx="67.2" cy="384.9" r="1.0"/><circle cx="95.8" cy="454.3" r="0.9"/><circle cx="88.0" cy="432.8" r="1.0"/><circle cx="101.9" cy="459.8" r="0.8"/><circle cx="116.3" cy="414.5" r="0.9"/><circle cx="127.9" cy="415.1" r="0.7"/><circle cx="76.8" cy="399.1" r="0.8"/><circle cx="43.5" cy="475.7" r="0.9"/><circle cx="97.0" cy="461.0" r="0.8"/><circle cx="100.3" cy="392.3" r="0.9"/><circle cx="162.9" cy="413.6" r="0.6"/><circle cx="75.3" cy="473.6" r="0.8"/><circle cx="105.6" cy="399.2" r="0.6"/><circle cx="158.2" cy="393.1" r="1.1"/><circle cx="152.4" cy="399.7" r="0.7"/><circle cx="129.6" cy="381.3" r="1.0"/><circle cx="62.8" cy="387.5" r="1.0"/><circle cx="136.3" cy="429.8" r="0.9"/><circle cx="47.6" cy="388.7" r="0.7"/><circle cx="112.2" cy="404.4" r="0.7"/><circle cx="134.8" cy="381.3" r="0.6"/><circle cx="98.1" cy="460.8" r="0.8"/><circle cx="160.8" cy="476.5" r="0.9"/><circle cx="103.0" cy="461.5" r="0.9"/><circle cx="86.4" cy="406.4" r="0.8"/><circle cx="87.5" cy="414.6" r="0.7"/><circle cx="42.5" cy="421.3" r="0.7"/><circle cx="121.6" cy="406.8" r="0.6"/><circle cx="68.9" cy="421.7" r="0.8"/><circle cx="98.7" cy="469.9" r="0.8"/><circle cx="155.8" cy="406.1" r="0.8"/><circle cx="88.8" cy="445.0" r="0.9"/><circle cx="84.8" cy="429.7" r="1.1"/><circle cx="149.1" cy="426.1" r="0.7"/><circle cx="58.7" cy="451.3" r="0.6"/><circle cx="67.8" cy="430.6" r="0.8"/><circle cx="140.3" cy="424.0" r="0.7"/><circle cx="46.9" cy="430.2" r="0.8"/><circle cx="101.4" cy="457.0" r="1.0"/><circle cx="131.6" cy="435.6" r="1.1"/><circle cx="157.1" cy="415.1" r="0.8"/><circle cx="130.8" cy="403.0" r="1.1"/><circle cx="64.8" cy="435.9" r="1.0"/><circle cx="59.5" cy="433.5" r="1.1"/><circle cx="73.7" cy="426.5" r="0.8"/><circle cx="163.1" cy="474.5" r="0.6"/><circle cx="142.3" cy="409.9" r="0.9"/><circle cx="124.0" cy="464.8" r="0.9"/><circle cx="141.3" cy="458.6" r="1.0"/><circle cx="72.7" cy="463.6" r="1.0"/><circle cx="67.9" cy="477.9" r="0.7"/><circle cx="52.8" cy="432.9" r="1.0"/><circle cx="92.9" cy="410.0" r="0.7"/><circle cx="100.6" cy="474.9" r="0.8"/><circle cx="151.7" cy="421.4" r="0.7"/><circle cx="99.6" cy="377.3" r="0.7"/><circle cx="70.0" cy="469.6" r="1.1"/><circle cx="76.3" cy="440.4" r="0.7"/><circle cx="81.4" cy="415.0" r="0.6"/><circle cx="140.0" cy="374.9" r="0.8"/><circle cx="121.5" cy="481.8" r="0.7"/><circle cx="57.2" cy="480.9" r="0.9"/><circle cx="143.8" cy="412.8" r="0.6"/><circle cx="152.1" cy="409.9" r="0.9"/><circle cx="164.0" cy="440.8" r="0.7"/><circle cx="53.9" cy="438.5" r="0.9"/><circle cx="144.5" cy="404.9" r="0.9"/><circle cx="73.0" cy="443.9" r="0.6"/><circle cx="116.3" cy="448.9" r="1.0"/><circle cx="85.3" cy="429.3" r="1.0"/><circle cx="90.6" cy="461.7" r="1.1"/><circle cx="79.2" cy="409.5" r="0.7"/><circle cx="59.9" cy="382.6" r="0.7"/><circle cx="54.0" cy="422.8" r="0.6"/><circle cx="130.3" cy="421.3" r="0.9"/><circle cx="158.3" cy="434.0" r="1.1"/><circle cx="66.7" cy="425.4" r="0.7"/><circle cx="64.4" cy="381.2" r="1.0"/><circle cx="72.0" cy="394.3" r="0.9"/><circle cx="111.3" cy="450.1" r="1.0"/><circle cx="159.8" cy="419.2" r="1.1"/><circle cx="59.0" cy="470.1" r="0.9"/><circle cx="92.7" cy="457.8" r="1.0"/><circle cx="140.5" cy="414.5" r="0.8"/><circle cx="143.5" cy="428.5" r="0.8"/><circle cx="122.8" cy="454.1" r="0.9"/><circle cx="151.7" cy="482.0" r="0.9"/><circle cx="97.4" cy="452.2" r="0.9"/><circle cx="135.0" cy="378.8" r="0.8"/><circle cx="118.9" cy="460.1" r="1.0"/><circle cx="69.4" cy="408.3" r="0.8"/><circle cx="78.0" cy="444.9" r="0.7"/><circle cx="153.5" cy="401.6" r="0.9"/><circle cx="45.6" cy="477.5" r="0.8"/><circle cx="74.7" cy="462.5" r="0.8"/><circle cx="103.2" cy="477.5" r="0.9"/><circle cx="78.8" cy="439.2" r="1.1"/><circle cx="110.6" cy="409.7" r="0.7"/><circle cx="126.1" cy="382.7" r="1.1"/><circle cx="72.8" cy="445.5" r="0.8"/><circle cx="153.7" cy="396.2" r="0.6"/><circle cx="157.0" cy="407.6" r="0.9"/><circle cx="147.1" cy="374.4" r="1.0"/><circle cx="54.7" cy="423.1" r="1.0"/><circle cx="137.9" cy="424.6" r="0.9"/><circle cx="118.0" cy="479.4" r="1.1"/><circle cx="60.8" cy="411.2" r="0.9"/><circle cx="84.4" cy="411.0" r="1.0"/><circle cx="53.4" cy="429.7" r="0.7"/><circle cx="68.8" cy="445.4" r="0.8"/><circle cx="136.9" cy="416.1" r="0.7"/><circle cx="45.7" cy="423.2" r="0.8"/><circle cx="92.4" cy="465.0" r="1.0"/><circle cx="51.2" cy="465.6" r="0.9"/><circle cx="55.1" cy="388.8" r="1.1"/><circle cx="131.2" cy="411.0" r="0.6"/><circle cx="144.9" cy="408.5" r="1.0"/><circle cx="77.2" cy="467.3" r="0.8"/><circle cx="161.0" cy="388.9" r="0.8"/><circle cx="59.6" cy="411.0" r="0.6"/><circle cx="106.9" cy="382.2" r="0.7"/><circle cx="43.3" cy="480.7" r="1.0"/><circle cx="149.2" cy="475.2" r="1.0"/><circle cx="85.8" cy="384.3" r="0.8"/><circle cx="151.6" cy="393.9" r="1.0"/><circle cx="141.9" cy="433.7" r="0.9"/><circle cx="77.7" cy="434.0" r="1.0"/><circle cx="93.0" cy="445.5" r="0.6"/><circle cx="49.1" cy="477.2" r="0.7"/><circle cx="100.1" cy="425.0" r="0.9"/><circle cx="73.5" cy="438.2" r="1.0"/><circle cx="111.6" cy="468.2" r="0.6"/><circle cx="67.8" cy="451.0" r="1.1"/><circle cx="41.2" cy="430.8" r="1.0"/><circle cx="137.5" cy="394.4" r="0.6"/><circle cx="66.9" cy="446.5" r="0.9"/><circle cx="154.3" cy="405.3" r="1.0"/><circle cx="102.7" cy="480.3" r="0.7"/><circle cx="72.1" cy="387.9" r="0.9"/><circle cx="55.5" cy="446.9" r="0.6"/><circle cx="165.3" cy="455.0" r="0.9"/><circle cx="144.2" cy="375.5" r="0.7"/><circle cx="58.5" cy="452.7" r="1.0"/><circle cx="125.5" cy="422.2" r="0.9"/><circle cx="147.8" cy="446.0" r="1.1"/><circle cx="95.2" cy="401.4" r="0.7"/><circle cx="106.0" cy="396.2" r="0.7"/><circle cx="99.7" cy="456.9" r="0.8"/><circle cx="78.4" cy="398.4" r="1.0"/><circle cx="145.4" cy="478.7" r="0.8"/><circle cx="95.3" cy="388.5" r="0.9"/><circle cx="88.6" cy="481.2" r="0.9"/><circle cx="58.6" cy="403.1" r="0.7"/><circle cx="52.9" cy="467.7" r="0.8"/><circle cx="53.9" cy="471.7" r="0.7"/><circle cx="112.3" cy="474.5" r="0.9"/><circle cx="111.5" cy="374.2" r="0.7"/><circle cx="141.1" cy="437.7" r="0.9"/><circle cx="160.6" cy="435.4" r="0.8"/><circle cx="118.6" cy="470.8" r="1.0"/><circle cx="126.7" cy="385.2" r="0.7"/><circle cx="148.8" cy="396.3" r="1.1"/><circle cx="95.7" cy="388.8" r="0.7"/><circle cx="91.6" cy="481.8" r="1.0"/><circle cx="117.0" cy="384.2" r="0.9"/><circle cx="133.8" cy="476.0" r="0.8"/><circle cx="131.6" cy="474.7" r="1.1"/><circle cx="140.0" cy="470.5" r="0.9"/><circle cx="69.2" cy="436.6" r="0.9"/><circle cx="157.3" cy="455.9" r="0.7"/><circle cx="132.9" cy="480.6" r="0.9"/><circle cx="64.6" cy="463.4" r="0.6"/><circle cx="62.9" cy="463.9" r="0.7"/><circle cx="48.2" cy="422.9" r="0.6"/><circle cx="131.2" cy="452.7" r="1.0"/><circle cx="135.6" cy="464.7" r="0.9"/><circle cx="144.7" cy="391.3" r="0.7"/><circle cx="93.0" cy="383.2" r="0.6"/><circle cx="61.3" cy="451.6" r="1.0"/><circle cx="106.9" cy="471.9" r="1.1"/><circle cx="113.7" cy="409.9" r="1.0"/><circle cx="96.1" cy="408.3" r="1.1"/><circle cx="140.3" cy="464.8" r="0.7"/><circle cx="137.1" cy="424.5" r="0.9"/><circle cx="140.1" cy="387.8" r="1.0"/><circle cx="107.2" cy="467.2" r="0.8"/><circle cx="140.4" cy="400.1" r="1.0"/><circle cx="108.5" cy="382.1" r="0.6"/><circle cx="106.1" cy="384.2" r="0.9"/><circle cx="144.0" cy="378.8" r="1.0"/><circle cx="58.0" cy="459.9" r="0.6"/><circle cx="59.0" cy="422.1" r="0.9"/><circle cx="50.5" cy="456.6" r="0.9"/><circle cx="164.6" cy="410.7" r="0.6"/><circle cx="43.9" cy="446.3" r="1.0"/><circle cx="44.3" cy="409.1" r="1.0"/><circle cx="113.7" cy="383.0" r="1.1"/><circle cx="52.8" cy="459.2" r="0.8"/><circle cx="130.4" cy="481.4" r="0.9"/><circle cx="139.8" cy="428.8" r="0.7"/><circle cx="60.4" cy="433.3" r="0.9"/><circle cx="76.6" cy="441.6" r="0.8"/><circle cx="45.5" cy="421.3" r="0.9"/><circle cx="40.8" cy="402.4" r="0.8"/><circle cx="70.0" cy="390.2" r="0.7"/><circle cx="80.7" cy="445.9" r="1.0"/><circle cx="138.6" cy="414.8" r="1.0"/><circle cx="118.6" cy="379.8" r="0.8"/><circle cx="147.5" cy="434.7" r="1.0"/><circle cx="157.8" cy="474.5" r="0.6"/><circle cx="74.0" cy="379.1" r="0.8"/><circle cx="144.9" cy="387.5" r="0.9"/><circle cx="102.8" cy="475.2" r="0.8"/><circle cx="136.0" cy="431.4" r="0.7"/><circle cx="117.9" cy="406.1" r="0.9"/><circle cx="124.2" cy="453.4" r="0.7"/><circle cx="70.8" cy="419.6" r="0.8"/><circle cx="131.2" cy="431.4" r="0.8"/><circle cx="137.8" cy="382.9" r="1.0"/><circle cx="77.0" cy="480.8" r="0.8"/><circle cx="45.8" cy="417.8" r="0.9"/><circle cx="160.4" cy="473.1" r="0.6"/><circle cx="76.8" cy="436.6" r="0.9"/><circle cx="86.5" cy="434.4" r="0.7"/><circle cx="98.7" cy="464.4" r="0.9"/><circle cx="45.2" cy="448.7" r="1.0"/><circle cx="70.4" cy="473.6" r="1.0"/><circle cx="84.9" cy="464.1" r="0.8"/><circle cx="129.1" cy="416.9" r="0.7"/><circle cx="53.3" cy="384.3" r="0.9"/><circle cx="130.7" cy="459.6" r="0.9"/><circle cx="65.2" cy="397.6" r="0.8"/><circle cx="68.7" cy="469.9" r="1.0"/><circle cx="103.6" cy="456.4" r="0.8"/><circle cx="98.2" cy="428.4" r="0.9"/><circle cx="148.5" cy="470.9" r="0.7"/><circle cx="143.0" cy="482.4" r="0.7"/><circle cx="137.8" cy="386.2" r="0.9"/><circle cx="156.0" cy="400.6" r="0.8"/><circle cx="128.4" cy="402.7" r="1.1"/><circle cx="55.5" cy="452.8" r="0.6"/><circle cx="118.1" cy="397.2" r="1.0"/><circle cx="57.2" cy="380.3" r="0.6"/><circle cx="55.9" cy="431.2" r="0.7"/><circle cx="107.9" cy="398.5" r="0.8"/><circle cx="145.3" cy="437.8" r="0.8"/><circle cx="61.8" cy="452.6" r="0.9"/><circle cx="103.7" cy="382.0" r="0.8"/><circle cx="127.4" cy="467.2" r="0.9"/><circle cx="91.4" cy="455.2" r="0.9"/><circle cx="137.8" cy="410.7" r="0.8"/><circle cx="94.9" cy="460.0" r="0.9"/><circle cx="42.7" cy="378.6" r="1.1"/><circle cx="105.5" cy="396.1" r="1.0"/><circle cx="51.5" cy="468.7" r="0.7"/><circle cx="152.7" cy="412.7" r="0.9"/><circle cx="146.4" cy="420.1" r="1.1"/><circle cx="118.1" cy="481.0" r="0.7"/><circle cx="160.9" cy="386.6" r="0.9"/><circle cx="154.6" cy="454.1" r="0.8"/><circle cx="56.0" cy="385.1" r="0.9"/><circle cx="42.8" cy="463.4" r="1.1"/><circle cx="113.1" cy="381.0" r="0.9"/><circle cx="157.4" cy="451.7" r="0.7"/><circle cx="141.4" cy="417.8" r="0.9"/><circle cx="158.3" cy="419.7" r="1.0"/><circle cx="51.7" cy="430.8" r="1.0"/><circle cx="58.9" cy="435.5" r="1.0"/><circle cx="151.4" cy="435.9" r="1.0"/><circle cx="159.7" cy="470.8" r="1.0"/><circle cx="141.4" cy="398.2" r="1.0"/><circle cx="47.3" cy="441.6" r="0.9"/><circle cx="62.2" cy="397.5" r="1.1"/><circle cx="69.0" cy="440.0" r="0.9"/><circle cx="42.7" cy="463.0" r="0.6"/><circle cx="163.2" cy="472.1" r="0.8"/><circle cx="91.3" cy="456.9" r="0.7"/><circle cx="123.1" cy="384.2" r="0.9"/><circle cx="67.6" cy="435.1" r="0.6"/><circle cx="141.4" cy="408.1" r="1.1"/><circle cx="55.5" cy="465.7" r="0.8"/><circle cx="146.7" cy="403.6" r="1.0"/><circle cx="144.6" cy="391.9" r="0.6"/><circle cx="124.0" cy="429.9" r="1.1"/><circle cx="89.2" cy="482.5" r="1.1"/><circle cx="88.9" cy="396.0" r="0.7"/><circle cx="43.7" cy="476.8" r="0.6"/><circle cx="121.5" cy="382.7" r="0.6"/><circle cx="132.7" cy="379.9" r="0.7"/><circle cx="119.2" cy="395.3" r="0.8"/><circle cx="91.9" cy="389.6" r="0.7"/><circle cx="75.5" cy="375.8" r="0.8"/><circle cx="96.6" cy="389.2" r="1.0"/><circle cx="124.4" cy="438.8" r="0.9"/><circle cx="163.2" cy="435.5" r="0.6"/><circle cx="65.3" cy="423.3" r="0.7"/><circle cx="156.9" cy="412.9" r="0.7"/><circle cx="155.0" cy="417.6" r="1.1"/><circle cx="154.0" cy="447.7" r="0.7"/><circle cx="88.0" cy="397.8" r="1.0"/><circle cx="162.9" cy="408.5" r="0.9"/><circle cx="162.6" cy="414.9" r="0.8"/><circle cx="151.9" cy="433.3" r="0.9"/><circle cx="46.5" cy="467.9" r="0.6"/><circle cx="142.7" cy="420.9" r="0.6"/><circle cx="153.6" cy="454.5" r="0.9"/><circle cx="114.1" cy="463.9" r="0.7"/><circle cx="105.4" cy="479.8" r="0.9"/><circle cx="132.3" cy="427.4" r="0.9"/><circle cx="146.5" cy="393.3" r="0.8"/><circle cx="114.1" cy="452.2" r="0.9"/><circle cx="164.8" cy="423.3" r="0.8"/><circle cx="157.8" cy="399.6" r="1.0"/><circle cx="58.8" cy="460.1" r="0.6"/><circle cx="108.1" cy="383.2" r="0.7"/><circle cx="119.1" cy="409.6" r="1.1"/><circle cx="125.3" cy="445.7" r="0.8"/><circle cx="91.1" cy="390.3" r="0.9"/><circle cx="114.8" cy="378.3" r="1.0"/><circle cx="74.1" cy="420.7" r="0.7"/><circle cx="108.8" cy="375.8" r="1.0"/><circle cx="45.2" cy="410.0" r="0.9"/><circle cx="131.7" cy="446.0" r="1.1"/><circle cx="115.3" cy="449.2" r="0.7"/><circle cx="56.7" cy="469.9" r="1.0"/><circle cx="75.9" cy="423.1" r="0.8"/><circle cx="95.7" cy="412.8" r="1.0"/><circle cx="90.7" cy="416.4" r="1.0"/><circle cx="122.6" cy="376.8" r="0.7"/><circle cx="138.0" cy="478.7" r="0.9"/><circle cx="162.2" cy="427.8" r="0.8"/><circle cx="103.7" cy="452.1" r="1.0"/><circle cx="80.5" cy="436.7" r="1.0"/><circle cx="139.3" cy="431.8" r="0.6"/><circle cx="123.4" cy="468.3" r="0.8"/><circle cx="131.5" cy="410.1" r="0.6"/><circle cx="124.6" cy="392.3" r="0.7"/><circle cx="133.8" cy="466.7" r="0.7"/><circle cx="105.9" cy="424.1" r="0.7"/><circle cx="143.8" cy="440.5" r="0.7"/><circle cx="159.5" cy="448.3" r="1.0"/><circle cx="139.2" cy="464.3" r="1.1"/><circle cx="108.8" cy="472.0" r="0.7"/><circle cx="155.0" cy="394.3" r="1.0"/><circle cx="89.1" cy="479.3" r="1.1"/><circle cx="68.2" cy="449.5" r="0.9"/><circle cx="126.3" cy="385.1" r="1.1"/><circle cx="53.8" cy="451.2" r="0.6"/><circle cx="159.2" cy="434.7" r="0.8"/><circle cx="55.5" cy="447.4" r="0.9"/><circle cx="101.0" cy="379.1" r="1.0"/><circle cx="113.2" cy="403.3" r="1.0"/><circle cx="66.8" cy="407.4" r="0.8"/><circle cx="81.3" cy="409.6" r="1.0"/><circle cx="86.3" cy="470.3" r="0.8"/><circle cx="146.2" cy="431.0" r="0.8"/><circle cx="73.7" cy="466.0" r="0.9"/><circle cx="44.9" cy="412.5" r="0.9"/><circle cx="99.6" cy="380.5" r="0.7"/><circle cx="100.3" cy="403.5" r="1.0"/><circle cx="106.3" cy="467.1" r="0.7"/><circle cx="141.7" cy="420.5" r="0.8"/><circle cx="137.1" cy="429.0" r="0.8"/><circle cx="95.8" cy="406.5" r="0.8"/><circle cx="124.2" cy="432.8" r="0.9"/><circle cx="161.1" cy="460.6" r="1.0"/><circle cx="117.2" cy="393.3" r="1.1"/><circle cx="94.0" cy="410.1" r="1.0"/><circle cx="87.1" cy="399.0" r="0.7"/><circle cx="149.1" cy="381.5" r="0.8"/><circle cx="109.9" cy="393.8" r="0.8"/><circle cx="146.9" cy="431.0" r="0.9"/><circle cx="164.9" cy="427.3" r="1.0"/><circle cx="164.3" cy="398.1" r="0.9"/><circle cx="59.2" cy="374.7" r="0.9"/><circle cx="66.6" cy="478.2" r="1.0"/><circle cx="62.1" cy="433.1" r="1.0"/><circle cx="64.3" cy="380.8" r="0.7"/><circle cx="145.6" cy="374.8" r="0.6"/><circle cx="87.6" cy="374.9" r="0.7"/><circle cx="98.4" cy="376.6" r="0.8"/><circle cx="105.3" cy="383.5" r="1.0"/><circle cx="153.0" cy="426.2" r="1.0"/><circle cx="85.9" cy="442.2" r="0.8"/><circle cx="148.3" cy="476.4" r="0.9"/><circle cx="104.4" cy="458.3" r="0.8"/><circle cx="153.0" cy="434.2" r="0.8"/><circle cx="109.2" cy="393.7" r="0.7"/><circle cx="99.1" cy="380.9" r="0.7"/><circle cx="156.3" cy="409.4" r="0.9"/><circle cx="120.5" cy="399.7" r="0.7"/><circle cx="71.1" cy="436.8" r="0.7"/><circle cx="110.0" cy="407.5" r="0.8"/><circle cx="67.9" cy="461.9" r="1.1"/><circle cx="111.9" cy="402.4" r="1.0"/><circle cx="63.1" cy="422.6" r="1.0"/><circle cx="95.3" cy="394.3" r="0.6"/><circle cx="99.1" cy="431.3" r="0.7"/><circle cx="101.8" cy="471.3" r="0.9"/><circle cx="110.3" cy="473.5" r="0.7"/><circle cx="142.0" cy="455.8" r="1.0"/><circle cx="90.1" cy="459.9" r="0.9"/><circle cx="62.2" cy="470.0" r="0.9"/><circle cx="116.3" cy="476.1" r="0.9"/><circle cx="66.8" cy="454.4" r="0.8"/><circle cx="104.8" cy="394.1" r="0.8"/><circle cx="165.2" cy="457.5" r="0.7"/><circle cx="78.3" cy="474.3" r="1.0"/><circle cx="147.4" cy="436.4" r="0.6"/><circle cx="144.9" cy="391.7" r="1.0"/><circle cx="152.8" cy="468.3" r="0.7"/><circle cx="112.6" cy="458.7" r="0.9"/><circle cx="84.0" cy="376.6" r="0.8"/><circle cx="122.2" cy="453.9" r="0.9"/><circle cx="65.0" cy="374.5" r="0.8"/><circle cx="66.8" cy="438.5" r="1.1"/><circle cx="58.6" cy="379.3" r="0.7"/><circle cx="128.1" cy="424.0" r="0.9"/><circle cx="51.7" cy="386.3" r="0.7"/><circle cx="96.3" cy="452.6" r="1.1"/><circle cx="135.5" cy="475.4" r="0.9"/><circle cx="131.7" cy="378.0" r="0.8"/><circle cx="82.7" cy="432.3" r="0.8"/><circle cx="53.5" cy="457.1" r="0.7"/><circle cx="76.1" cy="459.9" r="0.9"/><circle cx="58.1" cy="410.6" r="0.9"/><circle cx="163.2" cy="390.3" r="0.7"/><circle cx="145.5" cy="438.3" r="0.8"/><circle cx="48.8" cy="454.7" r="1.0"/><circle cx="67.3" cy="446.5" r="0.7"/><circle cx="127.3" cy="428.0" r="0.6"/><circle cx="161.6" cy="386.9" r="0.8"/><circle cx="85.4" cy="409.5" r="0.8"/><circle cx="156.0" cy="397.0" r="1.1"/><circle cx="151.5" cy="458.6" r="1.1"/><circle cx="156.8" cy="419.9" r="0.7"/><circle cx="69.4" cy="427.8" r="0.9"/><circle cx="94.4" cy="467.7" r="0.7"/><circle cx="56.3" cy="404.6" r="1.1"/><circle cx="68.2" cy="451.2" r="0.7"/><circle cx="56.1" cy="441.0" r="0.8"/><circle cx="102.5" cy="473.4" r="0.8"/><circle cx="152.1" cy="407.5" r="0.8"/><circle cx="125.1" cy="482.5" r="0.8"/><circle cx="62.1" cy="400.8" r="0.7"/><circle cx="145.1" cy="401.3" r="0.7"/><circle cx="104.8" cy="378.2" r="1.1"/><circle cx="139.6" cy="434.2" r="0.8"/><circle cx="135.9" cy="383.8" r="0.9"/><circle cx="124.3" cy="422.7" r="0.6"/><circle cx="130.5" cy="479.9" r="0.8"/><circle cx="64.9" cy="378.6" r="0.7"/><circle cx="98.2" cy="398.9" r="0.6"/><circle cx="149.3" cy="413.3" r="0.7"/><circle cx="78.0" cy="461.1" r="1.0"/><circle cx="43.6" cy="435.4" r="0.9"/><circle cx="94.2" cy="401.6" r="0.7"/><circle cx="41.2" cy="395.6" r="1.0"/><circle cx="155.4" cy="421.8" r="0.8"/><circle cx="89.7" cy="463.5" r="0.9"/><circle cx="106.1" cy="464.3" r="0.8"/><circle cx="44.5" cy="480.5" r="0.8"/><circle cx="79.3" cy="409.9" r="1.0"/><circle cx="139.9" cy="379.5" r="0.9"/><circle cx="56.0" cy="401.4" r="0.9"/><circle cx="49.0" cy="451.7" r="1.0"/><circle cx="119.4" cy="403.3" r="0.7"/><circle cx="141.5" cy="406.4" r="1.0"/><circle cx="156.7" cy="416.9" r="1.1"/><circle cx="120.4" cy="444.4" r="0.9"/><circle cx="126.1" cy="462.4" r="0.9"/><circle cx="77.1" cy="418.7" r="0.6"/><circle cx="67.5" cy="405.2" r="0.8"/><circle cx="73.8" cy="399.4" r="0.8"/><circle cx="63.4" cy="454.1" r="0.9"/><circle cx="165.0" cy="422.5" r="1.0"/><circle cx="154.4" cy="392.0" r="1.1"/><circle cx="123.0" cy="376.9" r="0.9"/><circle cx="143.0" cy="432.8" r="0.6"/><circle cx="43.9" cy="461.3" r="0.6"/><circle cx="140.4" cy="399.6" r="1.0"/><circle cx="138.0" cy="422.8" r="0.7"/><circle cx="156.5" cy="429.2" r="1.0"/><circle cx="104.6" cy="474.8" r="0.8"/><circle cx="103.9" cy="421.6" r="0.7"/><circle cx="142.0" cy="402.2" r="0.8"/><circle cx="99.7" cy="384.2" r="1.0"/><circle cx="88.0" cy="383.3" r="0.6"/><circle cx="121.5" cy="383.1" r="1.0"/><circle cx="59.3" cy="452.9" r="1.1"/><circle cx="124.3" cy="466.2" r="0.6"/><circle cx="45.9" cy="412.5" r="0.7"/><circle cx="139.3" cy="459.9" r="0.8"/><circle cx="46.0" cy="471.8" r="0.7"/><circle cx="76.0" cy="471.2" r="0.9"/><circle cx="82.2" cy="415.0" r="1.1"/><circle cx="113.1" cy="467.4" r="0.9"/><circle cx="156.3" cy="450.3" r="0.9"/><circle cx="88.5" cy="401.0" r="0.9"/><circle cx="43.7" cy="423.2" r="0.6"/><circle cx="42.0" cy="435.0" r="0.7"/><circle cx="163.2" cy="412.7" r="1.0"/><circle cx="91.3" cy="433.0" r="0.9"/><circle cx="112.2" cy="459.8" r="0.9"/><circle cx="100.4" cy="481.7" r="0.8"/><circle cx="112.5" cy="420.2" r="0.6"/><circle cx="113.8" cy="456.3" r="0.8"/><circle cx="152.3" cy="411.1" r="0.6"/><circle cx="72.3" cy="434.5" r="0.8"/><circle cx="144.3" cy="376.4" r="1.1"/><circle cx="75.3" cy="406.8" r="0.7"/><circle cx="52.7" cy="408.6" r="0.7"/><circle cx="76.6" cy="377.1" r="0.8"/><circle cx="48.4" cy="456.1" r="1.1"/><circle cx="133.9" cy="458.0" r="0.7"/><circle cx="107.8" cy="455.9" r="0.9"/><circle cx="98.2" cy="433.9" r="0.6"/><circle cx="138.9" cy="465.3" r="1.1"/><circle cx="118.8" cy="477.0" r="0.9"/><circle cx="107.8" cy="461.5" r="1.1"/><circle cx="90.0" cy="441.2" r="1.1"/><circle cx="79.7" cy="445.7" r="0.9"/><circle cx="130.8" cy="447.9" r="0.9"/><circle cx="48.2" cy="464.5" r="1.0"/><circle cx="141.4" cy="396.5" r="0.8"/><circle cx="129.2" cy="387.7" r="0.7"/><circle cx="87.0" cy="380.1" r="0.6"/><circle cx="57.5" cy="431.6" r="0.7"/><circle cx="77.2" cy="414.9" r="1.0"/><circle cx="138.7" cy="454.5" r="0.8"/><circle cx="102.7" cy="379.4" r="0.7"/><circle cx="42.3" cy="459.9" r="0.8"/><circle cx="152.1" cy="436.1" r="0.8"/><circle cx="141.2" cy="377.1" r="1.0"/><circle cx="86.7" cy="460.8" r="1.0"/><circle cx="147.3" cy="394.0" r="1.0"/><circle cx="116.5" cy="398.9" r="0.9"/><circle cx="124.9" cy="391.4" r="0.7"/><circle cx="77.3" cy="478.7" r="0.8"/><circle cx="150.7" cy="449.4" r="0.8"/><circle cx="103.4" cy="478.0" r="0.9"/><circle cx="89.0" cy="380.5" r="1.1"/><circle cx="42.4" cy="425.6" r="0.8"/><circle cx="129.4" cy="481.8" r="1.0"/><circle cx="96.0" cy="459.4" r="1.0"/><circle cx="96.3" cy="482.1" r="0.7"/><circle cx="61.0" cy="462.3" r="1.0"/><circle cx="155.4" cy="379.8" r="0.7"/><circle cx="135.5" cy="426.0" r="0.8"/><circle cx="119.9" cy="414.1" r="0.9"/><circle cx="79.2" cy="387.4" r="1.0"/><circle cx="103.4" cy="469.5" r="1.0"/><circle cx="94.2" cy="407.2" r="0.9"/><circle cx="82.8" cy="389.8" r="1.0"/><circle cx="54.4" cy="476.7" r="1.0"/><circle cx="96.4" cy="457.7" r="1.0"/><circle cx="162.6" cy="448.2" r="1.0"/><circle cx="136.0" cy="400.4" r="0.9"/><circle cx="133.3" cy="427.2" r="1.0"/><circle cx="109.9" cy="415.3" r="0.6"/><circle cx="99.8" cy="451.6" r="0.6"/><circle cx="146.3" cy="440.0" r="0.7"/><circle cx="45.7" cy="409.8" r="0.6"/><circle cx="116.6" cy="460.2" r="1.0"/><circle cx="103.4" cy="389.7" r="0.7"/><circle cx="146.5" cy="469.8" r="1.0"/><circle cx="104.8" cy="451.7" r="0.8"/><circle cx="76.3" cy="472.4" r="0.8"/><circle cx="159.9" cy="402.4" r="1.0"/><circle cx="66.8" cy="432.2" r="0.6"/><circle cx="115.8" cy="397.6" r="0.9"/><circle cx="42.4" cy="448.6" r="1.0"/><circle cx="124.2" cy="400.2" r="0.7"/><circle cx="111.5" cy="420.3" r="0.9"/><circle cx="59.9" cy="470.4" r="0.6"/><circle cx="164.7" cy="408.2" r="0.7"/><circle cx="57.7" cy="415.0" r="0.6"/><circle cx="88.2" cy="401.5" r="1.1"/><circle cx="60.8" cy="399.6" r="0.7"/><circle cx="105.1" cy="429.9" r="0.9"/><circle cx="156.0" cy="392.2" r="1.0"/><circle cx="42.5" cy="449.2" r="0.8"/><circle cx="54.8" cy="472.9" r="0.9"/><circle cx="100.6" cy="416.0" r="0.6"/><circle cx="76.6" cy="473.7" r="0.9"/><circle cx="156.6" cy="444.6" r="0.6"/><circle cx="104.3" cy="379.1" r="0.8"/><circle cx="134.4" cy="467.1" r="0.7"/><circle cx="79.2" cy="468.2" r="1.0"/><circle cx="139.3" cy="377.8" r="1.0"/><circle cx="42.6" cy="464.8" r="0.7"/><circle cx="86.8" cy="462.7" r="1.1"/><circle cx="114.0" cy="421.6" r="0.6"/><circle cx="124.1" cy="419.9" r="0.6"/><circle cx="121.4" cy="473.6" r="0.6"/><circle cx="108.2" cy="384.9" r="1.1"/><circle cx="114.4" cy="458.0" r="0.9"/><circle cx="94.2" cy="433.6" r="0.7"/><circle cx="105.5" cy="443.1" r="0.9"/><circle cx="111.7" cy="471.5" r="0.9"/><circle cx="56.3" cy="476.5" r="1.0"/><circle cx="136.0" cy="413.0" r="0.9"/><circle cx="112.7" cy="464.3" r="0.6"/><circle cx="162.7" cy="434.1" r="1.1"/><circle cx="152.7" cy="414.1" r="0.6"/><circle cx="160.2" cy="424.1" r="1.0"/><circle cx="124.4" cy="389.0" r="0.9"/><circle cx="138.5" cy="384.5" r="1.0"/><circle cx="109.4" cy="404.5" r="0.9"/><circle cx="158.0" cy="421.4" r="0.7"/><circle cx="158.4" cy="410.3" r="0.8"/><circle cx="73.5" cy="453.5" r="0.7"/><circle cx="143.4" cy="411.7" r="0.8"/><circle cx="144.9" cy="408.7" r="0.7"/><circle cx="146.1" cy="389.4" r="0.8"/><circle cx="144.3" cy="451.2" r="1.0"/><circle cx="152.8" cy="418.6" r="0.8"/><circle cx="99.3" cy="393.3" r="0.9"/><circle cx="41.1" cy="383.7" r="1.1"/><circle cx="142.6" cy="393.9" r="1.0"/><circle cx="70.5" cy="388.8" r="0.8"/><circle cx="87.1" cy="426.3" r="0.8"/><circle cx="51.9" cy="436.4" r="0.9"/><circle cx="146.0" cy="470.3" r="1.0"/><circle cx="51.3" cy="394.2" r="1.0"/><circle cx="139.7" cy="379.8" r="0.7"/><circle cx="44.6" cy="381.7" r="0.8"/><circle cx="42.3" cy="478.0" r="1.0"/><circle cx="164.0" cy="383.4" r="1.0"/><circle cx="110.7" cy="409.6" r="1.0"/><circle cx="58.1" cy="435.7" r="0.9"/><circle cx="112.1" cy="468.0" r="0.7"/><circle cx="72.6" cy="478.0" r="0.8"/><circle cx="132.1" cy="478.3" r="0.9"/><circle cx="58.2" cy="425.5" r="1.0"/><circle cx="49.3" cy="402.0" r="0.8"/><circle cx="63.4" cy="424.9" r="1.1"/><circle cx="106.0" cy="469.8" r="1.0"/><circle cx="59.4" cy="431.6" r="0.7"/><circle cx="108.7" cy="378.2" r="0.7"/><circle cx="109.0" cy="481.6" r="1.0"/><circle cx="156.9" cy="428.7" r="1.1"/><circle cx="91.2" cy="389.0" r="0.8"/><circle cx="96.2" cy="422.3" r="0.6"/><circle cx="85.5" cy="441.4" r="0.8"/><circle cx="90.1" cy="396.4" r="1.0"/><circle cx="114.8" cy="432.8" r="1.0"/><circle cx="53.9" cy="427.6" r="1.0"/><circle cx="53.0" cy="383.1" r="1.0"/><circle cx="42.9" cy="409.7" r="1.1"/><circle cx="125.7" cy="379.9" r="0.7"/><circle cx="43.5" cy="451.9" r="0.7"/><circle cx="50.9" cy="393.3" r="0.6"/><circle cx="57.4" cy="421.6" r="1.0"/><circle cx="111.2" cy="468.8" r="0.7"/><circle cx="92.7" cy="462.3" r="0.6"/><circle cx="122.3" cy="448.6" r="0.9"/><circle cx="117.7" cy="377.5" r="1.1"/><circle cx="102.0" cy="457.2" r="1.0"/><circle cx="129.0" cy="438.1" r="0.6"/><circle cx="69.3" cy="455.6" r="0.6"/><circle cx="89.6" cy="478.1" r="1.1"/><circle cx="137.1" cy="375.3" r="0.9"/><circle cx="150.3" cy="420.6" r="0.9"/><circle cx="135.5" cy="381.0" r="0.9"/><circle cx="160.5" cy="413.0" r="0.7"/><circle cx="87.2" cy="435.6" r="0.8"/><circle cx="143.5" cy="380.4" r="1.0"/><circle cx="100.2" cy="378.8" r="0.7"/><circle cx="130.1" cy="478.0" r="0.9"/><circle cx="87.4" cy="398.5" r="0.8"/><circle cx="87.6" cy="466.2" r="0.8"/><circle cx="72.4" cy="471.7" r="0.7"/><circle cx="107.7" cy="394.0" r="0.7"/><circle cx="158.9" cy="450.4" r="1.0"/><circle cx="79.0" cy="467.0" r="1.0"/><circle cx="93.2" cy="447.6" r="0.6"/><circle cx="104.3" cy="400.4" r="1.1"/><circle cx="51.5" cy="416.7" r="0.7"/><circle cx="156.4" cy="404.6" r="1.1"/><circle cx="155.9" cy="423.6" r="1.1"/><circle cx="110.1" cy="480.7" r="1.0"/><circle cx="114.7" cy="420.0" r="0.6"/><circle cx="159.7" cy="400.1" r="1.0"/><circle cx="140.2" cy="470.2" r="0.8"/><circle cx="105.6" cy="382.5" r="0.8"/><circle cx="43.6" cy="438.8" r="0.8"/><circle cx="51.9" cy="411.4" r="1.0"/><circle cx="109.3" cy="393.7" r="1.1"/><circle cx="52.9" cy="460.4" r="0.7"/><circle cx="84.6" cy="473.0" r="0.9"/><circle cx="154.2" cy="452.6" r="0.9"/><circle cx="94.7" cy="458.0" r="0.7"/><circle cx="86.9" cy="433.8" r="0.9"/><circle cx="99.3" cy="450.5" r="0.9"/><circle cx="83.0" cy="399.7" r="1.0"/><circle cx="116.0" cy="397.5" r="0.8"/><circle cx="158.3" cy="429.3" r="1.0"/><circle cx="141.0" cy="404.0" r="0.8"/><circle cx="47.2" cy="384.4" r="0.7"/><circle cx="134.7" cy="391.7" r="0.9"/><circle cx="145.3" cy="398.9" r="0.7"/><circle cx="72.0" cy="404.2" r="0.7"/><circle cx="106.1" cy="385.9" r="1.1"/><circle cx="85.5" cy="439.5" r="0.6"/><circle cx="56.3" cy="442.2" r="0.6"/><circle cx="127.5" cy="397.8" r="1.0"/><circle cx="102.8" cy="466.4" r="1.0"/><circle cx="71.0" cy="452.0" r="1.0"/><circle cx="56.8" cy="384.2" r="0.6"/><circle cx="143.6" cy="411.4" r="0.7"/><circle cx="144.0" cy="423.7" r="1.1"/><circle cx="52.5" cy="432.4" r="0.6"/><circle cx="43.4" cy="391.6" r="0.8"/><circle cx="148.1" cy="391.3" r="0.9"/><circle cx="55.4" cy="459.3" r="1.0"/><circle cx="133.2" cy="463.3" r="0.8"/><circle cx="60.8" cy="435.7" r="0.7"/><circle cx="55.3" cy="426.9" r="0.8"/><circle cx="145.7" cy="472.6" r="1.0"/><circle cx="151.9" cy="415.7" r="1.1"/><circle cx="51.0" cy="429.7" r="0.8"/><circle cx="72.3" cy="445.3" r="0.8"/><circle cx="163.0" cy="448.4" r="0.7"/><circle cx="68.6" cy="419.3" r="0.9"/><circle cx="87.6" cy="423.3" r="0.7"/><circle cx="57.3" cy="469.9" r="0.7"/><circle cx="58.9" cy="397.5" r="0.7"/><circle cx="144.1" cy="411.3" r="0.9"/><circle cx="159.3" cy="441.1" r="1.1"/><circle cx="58.9" cy="400.1" r="1.0"/><circle cx="51.1" cy="439.3" r="0.7"/><circle cx="65.6" cy="410.8" r="0.7"/><circle cx="162.3" cy="394.3" r="0.6"/><circle cx="107.0" cy="398.4" r="0.7"/><circle cx="142.4" cy="461.9" r="0.6"/><circle cx="144.8" cy="466.2" r="0.8"/><circle cx="111.0" cy="403.2" r="0.8"/><circle cx="113.9" cy="471.3" r="0.7"/><circle cx="137.0" cy="472.0" r="1.1"/><circle cx="85.6" cy="400.1" r="0.8"/><circle cx="147.7" cy="416.7" r="0.9"/><circle cx="103.3" cy="478.6" r="0.7"/><circle cx="75.5" cy="382.6" r="0.8"/><circle cx="107.4" cy="472.7" r="1.1"/><circle cx="157.6" cy="473.7" r="0.6"/><circle cx="80.9" cy="476.2" r="0.8"/><circle cx="146.0" cy="393.8" r="0.7"/><circle cx="97.2" cy="480.6" r="0.8"/><circle cx="130.2" cy="481.3" r="0.8"/><circle cx="159.7" cy="444.7" r="0.7"/><circle cx="78.1" cy="408.4" r="1.0"/><circle cx="47.5" cy="435.6" r="1.0"/><circle cx="68.8" cy="478.5" r="0.6"/><circle cx="107.3" cy="448.6" r="1.1"/><circle cx="143.2" cy="474.0" r="0.7"/><circle cx="86.5" cy="433.7" r="1.1"/><circle cx="75.6" cy="391.0" r="1.1"/><circle cx="75.4" cy="471.4" r="1.1"/><circle cx="140.2" cy="402.2" r="0.9"/><circle cx="125.3" cy="379.3" r="0.9"/><circle cx="149.9" cy="463.2" r="0.8"/><circle cx="97.1" cy="436.8" r="0.8"/><circle cx="64.0" cy="424.9" r="1.1"/><circle cx="121.2" cy="379.1" r="1.0"/><circle cx="48.4" cy="474.8" r="0.9"/><circle cx="122.8" cy="379.0" r="0.7"/><circle cx="147.5" cy="393.4" r="0.8"/><circle cx="55.5" cy="376.9" r="1.1"/><circle cx="127.0" cy="387.4" r="1.0"/><circle cx="106.6" cy="442.2" r="1.1"/><circle cx="154.1" cy="395.6" r="0.9"/><circle cx="62.5" cy="452.4" r="0.7"/><circle cx="84.5" cy="471.1" r="0.7"/><circle cx="136.9" cy="422.1" r="0.7"/><circle cx="105.8" cy="440.1" r="0.8"/><circle cx="144.4" cy="459.0" r="0.7"/><circle cx="99.2" cy="384.0" r="1.1"/><circle cx="139.0" cy="387.1" r="0.7"/><circle cx="147.2" cy="415.4" r="0.8"/><circle cx="159.5" cy="480.6" r="1.1"/><circle cx="125.2" cy="442.7" r="0.6"/><circle cx="94.8" cy="450.9" r="1.0"/><circle cx="137.9" cy="426.0" r="1.0"/><circle cx="67.6" cy="449.1" r="1.1"/><circle cx="155.5" cy="429.3" r="1.0"/><circle cx="77.0" cy="482.4" r="1.1"/><circle cx="147.8" cy="435.5" r="0.9"/><circle cx="126.2" cy="467.5" r="1.1"/><circle cx="117.7" cy="481.9" r="0.9"/><circle cx="153.0" cy="400.3" r="1.0"/><circle cx="100.3" cy="460.8" r="0.9"/><circle cx="102.0" cy="385.4" r="0.8"/><circle cx="79.9" cy="467.1" r="1.0"/><circle cx="122.2" cy="409.2" r="0.9"/><circle cx="68.0" cy="415.9" r="0.6"/><circle cx="144.0" cy="425.5" r="0.6"/><circle cx="131.8" cy="460.0" r="0.8"/><circle cx="123.0" cy="414.0" r="1.0"/><circle cx="49.5" cy="435.5" r="0.8"/><circle cx="94.0" cy="375.8" r="0.6"/><circle cx="130.6" cy="438.4" r="0.8"/><circle cx="100.1" cy="374.1" r="0.7"/><circle cx="94.8" cy="391.2" r="0.9"/><circle cx="122.0" cy="384.4" r="0.6"/><circle cx="78.9" cy="476.3" r="1.0"/><circle cx="111.3" cy="430.9" r="0.7"/><circle cx="101.8" cy="426.6" r="0.9"/><circle cx="136.8" cy="388.3" r="0.9"/><circle cx="161.0" cy="432.1" r="0.9"/><circle cx="84.6" cy="465.4" r="1.1"/><circle cx="126.1" cy="471.8" r="0.8"/><circle cx="124.5" cy="459.4" r="0.7"/><circle cx="56.1" cy="379.0" r="0.6"/><circle cx="145.8" cy="458.2" r="0.8"/><circle cx="164.6" cy="435.2" r="1.1"/><circle cx="100.5" cy="451.3" r="0.8"/><circle cx="110.7" cy="417.0" r="0.9"/><circle cx="94.9" cy="417.6" r="0.9"/><circle cx="155.9" cy="470.2" r="1.0"/><circle cx="44.7" cy="467.3" r="0.8"/><circle cx="95.7" cy="385.9" r="0.9"/><circle cx="57.7" cy="449.6" r="0.7"/><circle cx="62.9" cy="412.0" r="0.7"/><circle cx="92.2" cy="396.4" r="1.1"/><circle cx="118.1" cy="434.8" r="0.8"/><circle cx="94.8" cy="406.5" r="0.7"/><circle cx="78.9" cy="402.0" r="1.0"/><circle cx="114.1" cy="455.8" r="1.0"/><circle cx="147.7" cy="404.0" r="0.7"/><circle cx="150.6" cy="469.3" r="0.9"/><circle cx="125.0" cy="445.5" r="0.7"/><circle cx="46.5" cy="409.7" r="0.9"/><circle cx="100.1" cy="475.7" r="0.9"/><circle cx="107.1" cy="457.8" r="1.0"/><circle cx="74.2" cy="401.1" r="0.6"/><circle cx="152.3" cy="436.1" r="0.9"/><circle cx="54.9" cy="426.0" r="0.8"/><circle cx="152.9" cy="430.4" r="0.9"/><circle cx="138.5" cy="414.3" r="0.9"/><circle cx="78.5" cy="475.0" r="0.9"/><circle cx="111.3" cy="463.5" r="1.0"/><circle cx="85.0" cy="388.8" r="1.0"/><circle cx="98.2" cy="467.3" r="0.9"/><circle cx="114.9" cy="394.7" r="0.9"/><circle cx="145.4" cy="478.8" r="0.8"/><circle cx="141.3" cy="474.3" r="1.1"/><circle cx="73.1" cy="413.2" r="0.7"/><circle cx="81.4" cy="416.2" r="0.7"/><circle cx="60.2" cy="446.9" r="1.0"/><circle cx="64.9" cy="423.7" r="0.8"/><circle cx="122.5" cy="376.0" r="0.8"/><circle cx="140.6" cy="417.1" r="1.0"/><circle cx="111.6" cy="404.5" r="1.1"/><circle cx="59.6" cy="461.5" r="0.9"/><circle cx="101.4" cy="470.7" r="0.7"/><circle cx="164.7" cy="406.8" r="0.6"/><circle cx="69.0" cy="460.3" r="1.1"/><circle cx="60.9" cy="462.6" r="0.7"/><circle cx="118.5" cy="399.4" r="0.7"/><circle cx="90.7" cy="481.8" r="1.0"/><circle cx="69.2" cy="397.9" r="0.8"/><circle cx="49.0" cy="449.2" r="0.8"/><circle cx="97.5" cy="475.4" r="1.0"/><circle cx="58.2" cy="426.0" r="1.0"/><circle cx="79.9" cy="471.7" r="0.7"/><circle cx="62.1" cy="399.1" r="1.0"/></g>
<g fill="#23165e" fill-opacity="0.92" filter="url(#blur05)"><circle cx="49.9" cy="376.0" r="0.8"/><circle cx="60.5" cy="376.5" r="1.0"/><circle cx="63.3" cy="376.3" r="0.8"/><circle cx="68.6" cy="376.7" r="0.8"/><circle cx="75.3" cy="376.6" r="0.8"/><circle cx="82.8" cy="375.7" r="1.0"/><circle cx="86.3" cy="376.0" r="0.9"/><circle cx="88.5" cy="375.4" r="0.7"/><circle cx="90.0" cy="375.4" r="1.0"/><circle cx="106.2" cy="376.2" r="0.9"/><circle cx="108.3" cy="375.7" r="0.9"/><circle cx="110.9" cy="376.6" r="0.7"/><circle cx="116.0" cy="375.7" r="0.8"/><circle cx="117.4" cy="376.6" r="0.7"/><circle cx="122.7" cy="376.6" r="1.0"/><circle cx="126.2" cy="376.4" r="0.9"/><circle cx="127.6" cy="376.8" r="0.9"/><circle cx="131.2" cy="375.3" r="0.9"/><circle cx="133.1" cy="376.2" r="0.8"/><circle cx="138.3" cy="375.9" r="0.8"/><circle cx="140.8" cy="376.6" r="0.9"/><circle cx="145.4" cy="376.2" r="1.0"/><circle cx="148.2" cy="375.8" r="0.8"/><circle cx="152.6" cy="375.8" r="0.8"/><circle cx="156.2" cy="375.8" r="1.0"/><circle cx="161.2" cy="375.5" r="0.7"/><circle cx="165.2" cy="375.5" r="1.0"/><circle cx="44.9" cy="377.7" r="1.0"/><circle cx="48.9" cy="378.0" r="0.8"/><circle cx="54.0" cy="377.8" r="0.9"/><circle cx="57.5" cy="377.5" r="0.9"/><circle cx="60.1" cy="378.5" r="1.0"/><circle cx="61.5" cy="378.7" r="1.0"/><circle cx="65.0" cy="378.0" r="0.9"/><circle cx="72.8" cy="377.9" r="1.0"/><circle cx="76.4" cy="377.9" r="0.7"/><circle cx="84.6" cy="378.4" r="1.0"/><circle cx="92.5" cy="378.6" r="0.9"/><circle cx="94.0" cy="377.9" r="0.9"/><circle cx="97.4" cy="378.1" r="0.7"/><circle cx="99.1" cy="377.9" r="0.8"/><circle cx="112.0" cy="378.7" r="0.9"/><circle cx="119.0" cy="378.3" r="1.0"/><circle cx="124.1" cy="377.5" r="1.0"/><circle cx="127.5" cy="378.3" r="0.8"/><circle cx="131.8" cy="377.7" r="0.9"/><circle cx="137.2" cy="377.7" r="1.0"/><circle cx="141.4" cy="378.1" r="0.9"/><circle cx="154.2" cy="378.7" r="1.0"/><circle cx="166.5" cy="378.9" r="0.9"/><circle cx="46.6" cy="380.2" r="1.0"/><circle cx="55.7" cy="380.6" r="0.9"/><circle cx="58.2" cy="380.5" r="1.0"/><circle cx="65.8" cy="380.3" r="0.9"/><circle cx="78.9" cy="379.9" r="0.8"/><circle cx="81.6" cy="380.2" r="0.8"/><circle cx="84.0" cy="380.5" r="0.8"/><circle cx="85.5" cy="380.6" r="1.0"/><circle cx="87.9" cy="380.1" r="0.9"/><circle cx="91.1" cy="379.7" r="0.8"/><circle cx="92.9" cy="380.9" r="0.8"/><circle cx="95.9" cy="380.8" r="0.9"/><circle cx="99.1" cy="379.7" r="0.9"/><circle cx="100.9" cy="380.5" r="0.9"/><circle cx="103.1" cy="380.7" r="0.8"/><circle cx="106.1" cy="380.5" r="0.7"/><circle cx="111.4" cy="379.8" r="0.8"/><circle cx="113.3" cy="381.1" r="0.8"/><circle cx="116.0" cy="380.9" r="0.8"/><circle cx="118.8" cy="380.4" r="0.8"/><circle cx="121.3" cy="379.9" r="1.0"/><circle cx="124.0" cy="380.1" r="1.0"/><circle cx="126.6" cy="379.9" r="0.9"/><circle cx="128.2" cy="380.1" r="0.7"/><circle cx="131.4" cy="379.9" r="0.8"/><circle cx="133.4" cy="380.8" r="1.0"/><circle cx="151.3" cy="381.0" r="0.8"/><circle cx="158.5" cy="380.6" r="1.0"/><circle cx="44.8" cy="381.8" r="0.9"/><circle cx="46.8" cy="382.8" r="0.7"/><circle cx="54.2" cy="383.3" r="0.9"/><circle cx="62.4" cy="382.4" r="0.7"/><circle cx="63.9" cy="383.0" r="1.0"/><circle cx="69.2" cy="382.5" r="1.0"/><circle cx="71.5" cy="382.7" r="0.8"/><circle cx="74.7" cy="382.8" r="0.7"/><circle cx="77.0" cy="382.5" r="0.9"/><circle cx="82.1" cy="382.3" r="1.0"/><circle cx="84.1" cy="382.2" r="1.0"/><circle cx="99.4" cy="383.2" r="0.9"/><circle cx="104.5" cy="382.6" r="0.8"/><circle cx="106.7" cy="382.8" r="0.8"/><circle cx="109.6" cy="382.3" r="0.8"/><circle cx="112.3" cy="382.3" r="1.0"/><circle cx="114.2" cy="382.4" r="0.7"/><circle cx="118.8" cy="382.3" r="0.9"/><circle cx="124.7" cy="382.4" r="0.9"/><circle cx="128.9" cy="383.0" r="0.8"/><circle cx="131.7" cy="383.0" r="0.8"/><circle cx="134.2" cy="383.2" r="0.8"/><circle cx="136.9" cy="382.6" r="0.7"/><circle cx="145.1" cy="383.3" r="0.7"/><circle cx="146.9" cy="382.6" r="1.0"/><circle cx="154.4" cy="382.3" r="0.8"/><circle cx="163.9" cy="382.7" r="0.8"/><circle cx="41.1" cy="384.7" r="0.8"/><circle cx="43.7" cy="384.9" r="0.8"/><circle cx="50.6" cy="385.4" r="0.9"/><circle cx="67.8" cy="384.4" r="1.0"/><circle cx="80.5" cy="385.1" r="0.9"/><circle cx="85.1" cy="384.2" r="0.9"/><circle cx="96.4" cy="384.7" r="0.7"/><circle cx="98.0" cy="384.9" r="1.0"/><circle cx="103.7" cy="384.3" r="1.0"/><circle cx="105.8" cy="384.6" r="0.7"/><circle cx="108.6" cy="384.9" r="0.9"/><circle cx="111.1" cy="385.3" r="0.7"/><circle cx="112.9" cy="385.5" r="0.9"/><circle cx="115.4" cy="385.4" r="1.0"/><circle cx="117.5" cy="385.2" r="1.0"/><circle cx="123.7" cy="384.7" r="0.8"/><circle cx="130.1" cy="385.2" r="0.9"/><circle cx="137.8" cy="385.0" r="1.0"/><circle cx="140.2" cy="384.4" r="0.7"/><circle cx="160.3" cy="384.1" r="0.9"/><circle cx="163.7" cy="384.7" r="0.8"/><circle cx="42.2" cy="387.0" r="0.8"/><circle cx="50.0" cy="386.8" r="1.0"/><circle cx="55.0" cy="387.4" r="0.9"/><circle cx="58.9" cy="386.6" r="0.9"/><circle cx="67.5" cy="387.0" r="1.0"/><circle cx="71.7" cy="386.9" r="0.8"/><circle cx="73.9" cy="387.2" r="0.7"/><circle cx="76.4" cy="387.7" r="1.0"/><circle cx="82.5" cy="387.5" r="0.8"/><circle cx="85.2" cy="387.6" r="0.9"/><circle cx="88.8" cy="386.4" r="0.8"/><circle cx="92.7" cy="386.9" r="0.9"/><circle cx="94.8" cy="386.8" r="0.9"/><circle cx="99.6" cy="387.0" r="0.9"/><circle cx="106.3" cy="386.4" r="1.0"/><circle cx="109.2" cy="387.1" r="0.8"/><circle cx="111.7" cy="387.6" r="0.9"/><circle cx="115.0" cy="387.3" r="1.0"/><circle cx="116.5" cy="386.9" r="1.0"/><circle cx="127.4" cy="387.3" r="0.8"/><circle cx="129.1" cy="386.9" r="0.7"/><circle cx="139.4" cy="387.4" r="1.0"/><circle cx="142.2" cy="387.1" r="1.0"/><circle cx="147.7" cy="386.4" r="0.7"/><circle cx="149.2" cy="386.4" r="0.8"/><circle cx="156.8" cy="386.9" r="1.0"/><circle cx="162.3" cy="387.4" r="0.9"/><circle cx="167.5" cy="387.1" r="0.9"/><circle cx="40.2" cy="389.3" r="1.0"/><circle cx="50.4" cy="388.6" r="0.9"/><circle cx="53.0" cy="388.6" r="0.8"/><circle cx="56.4" cy="389.3" r="0.8"/><circle cx="57.7" cy="389.6" r="0.8"/><circle cx="62.9" cy="389.1" r="0.8"/><circle cx="80.1" cy="388.5" r="0.8"/><circle cx="83.8" cy="389.8" r="0.9"/><circle cx="87.6" cy="389.0" r="0.7"/><circle cx="90.9" cy="388.9" r="0.9"/><circle cx="93.9" cy="389.3" r="0.8"/><circle cx="95.1" cy="389.6" r="1.0"/><circle cx="101.6" cy="388.5" r="1.0"/><circle cx="104.0" cy="389.1" r="0.8"/><circle cx="108.8" cy="389.5" r="1.0"/><circle cx="111.4" cy="388.6" r="0.9"/><circle cx="112.6" cy="388.9" r="0.9"/><circle cx="119.0" cy="389.4" r="0.8"/><circle cx="121.3" cy="389.5" r="0.8"/><circle cx="123.5" cy="388.7" r="0.9"/><circle cx="128.3" cy="388.5" r="1.0"/><circle cx="135.6" cy="389.2" r="0.7"/><circle cx="137.7" cy="389.2" r="1.0"/><circle cx="140.9" cy="389.7" r="1.0"/><circle cx="145.5" cy="389.3" r="0.8"/><circle cx="151.5" cy="389.4" r="0.9"/><circle cx="155.5" cy="389.0" r="1.0"/><circle cx="161.5" cy="388.5" r="0.8"/><circle cx="163.8" cy="388.5" r="0.7"/><circle cx="42.6" cy="391.9" r="0.9"/><circle cx="45.1" cy="390.7" r="0.8"/><circle cx="49.4" cy="391.9" r="0.8"/><circle cx="51.8" cy="392.0" r="0.8"/><circle cx="54.2" cy="391.6" r="0.7"/><circle cx="60.4" cy="390.7" r="1.0"/><circle cx="61.5" cy="390.8" r="0.7"/><circle cx="64.0" cy="391.3" r="0.8"/><circle cx="67.5" cy="391.1" r="0.7"/><circle cx="72.6" cy="392.0" r="0.7"/><circle cx="79.9" cy="391.7" r="0.9"/><circle cx="87.6" cy="391.4" r="0.9"/><circle cx="94.8" cy="391.2" r="0.8"/><circle cx="101.8" cy="390.7" r="1.0"/><circle cx="105.4" cy="390.6" r="1.0"/><circle cx="106.9" cy="391.5" r="0.8"/><circle cx="116.5" cy="391.1" r="0.8"/><circle cx="119.6" cy="390.6" r="1.0"/><circle cx="122.4" cy="390.9" r="0.9"/><circle cx="125.3" cy="391.2" r="0.7"/><circle cx="139.2" cy="391.9" r="0.9"/><circle cx="142.2" cy="390.6" r="0.8"/><circle cx="147.4" cy="390.8" r="1.0"/><circle cx="149.3" cy="392.0" r="0.8"/><circle cx="165.3" cy="390.7" r="0.9"/><circle cx="166.7" cy="390.6" r="0.7"/><circle cx="40.6" cy="393.5" r="0.7"/><circle cx="43.4" cy="393.8" r="1.0"/><circle cx="62.8" cy="393.0" r="0.9"/><circle cx="66.3" cy="394.0" r="1.0"/><circle cx="67.3" cy="393.6" r="0.7"/><circle cx="77.9" cy="393.4" r="0.8"/><circle cx="88.6" cy="393.7" r="0.8"/><circle cx="90.8" cy="393.3" r="0.7"/><circle cx="98.0" cy="394.0" r="0.9"/><circle cx="103.2" cy="393.6" r="0.7"/><circle cx="106.3" cy="392.9" r="0.9"/><circle cx="108.0" cy="393.1" r="0.8"/><circle cx="111.1" cy="393.9" r="0.8"/><circle cx="112.9" cy="393.8" r="0.8"/><circle cx="120.3" cy="393.2" r="0.8"/><circle cx="123.7" cy="393.7" r="0.8"/><circle cx="126.0" cy="393.8" r="0.9"/><circle cx="128.0" cy="393.0" r="0.9"/><circle cx="138.5" cy="393.8" r="0.8"/><circle cx="142.9" cy="394.0" r="1.0"/><circle cx="146.0" cy="394.2" r="0.8"/><circle cx="150.2" cy="393.9" r="1.0"/><circle cx="152.5" cy="393.3" r="1.0"/><circle cx="42.7" cy="394.9" r="0.8"/><circle cx="47.0" cy="395.0" r="0.9"/><circle cx="61.4" cy="395.6" r="0.9"/><circle cx="66.8" cy="395.4" r="0.7"/><circle cx="69.1" cy="395.5" r="0.9"/><circle cx="77.1" cy="394.9" r="0.9"/><circle cx="82.7" cy="395.0" r="0.9"/><circle cx="91.7" cy="395.6" r="0.8"/><circle cx="94.3" cy="395.2" r="0.8"/><circle cx="97.6" cy="396.2" r="1.0"/><circle cx="111.6" cy="396.1" r="0.7"/><circle cx="117.1" cy="396.1" r="0.9"/><circle cx="121.8" cy="395.5" r="0.8"/><circle cx="125.1" cy="396.2" r="1.0"/><circle cx="127.6" cy="395.1" r="1.0"/><circle cx="142.4" cy="395.9" r="1.0"/><circle cx="147.1" cy="395.2" r="1.0"/><circle cx="152.5" cy="395.3" r="0.8"/><circle cx="154.4" cy="395.0" r="0.8"/><circle cx="157.5" cy="395.7" r="0.8"/><circle cx="162.7" cy="396.2" r="0.9"/><circle cx="167.6" cy="395.3" r="0.8"/><circle cx="43.4" cy="398.5" r="0.8"/><circle cx="47.9" cy="397.9" r="0.9"/><circle cx="61.5" cy="397.7" r="0.8"/><circle cx="68.4" cy="397.7" r="0.8"/><circle cx="70.9" cy="397.1" r="1.0"/><circle cx="80.6" cy="397.8" r="0.8"/><circle cx="82.8" cy="397.3" r="1.0"/><circle cx="86.5" cy="397.8" r="0.9"/><circle cx="90.7" cy="398.2" r="0.9"/><circle cx="94.2" cy="398.4" r="0.9"/><circle cx="95.7" cy="397.1" r="0.8"/><circle cx="97.8" cy="398.0" r="0.8"/><circle cx="106.7" cy="397.6" r="0.7"/><circle cx="108.7" cy="397.4" r="1.0"/><circle cx="111.5" cy="398.0" r="0.9"/><circle cx="121.4" cy="397.4" r="0.7"/><circle cx="130.9" cy="397.4" r="0.8"/><circle cx="138.5" cy="397.5" r="0.9"/><circle cx="140.4" cy="398.1" r="1.0"/><circle cx="143.5" cy="397.3" r="0.8"/><circle cx="145.9" cy="398.3" r="0.8"/><circle cx="160.5" cy="398.4" r="0.8"/><circle cx="165.3" cy="397.3" r="0.8"/><circle cx="41.6" cy="400.5" r="0.7"/><circle cx="47.1" cy="400.0" r="1.0"/><circle cx="58.9" cy="400.6" r="1.0"/><circle cx="64.2" cy="399.5" r="1.0"/><circle cx="66.6" cy="400.6" r="0.8"/><circle cx="69.0" cy="400.4" r="0.8"/><circle cx="77.4" cy="400.3" r="0.7"/><circle cx="84.1" cy="400.1" r="0.9"/><circle cx="88.9" cy="400.6" r="0.8"/><circle cx="94.6" cy="399.9" r="0.9"/><circle cx="96.9" cy="399.8" r="0.8"/><circle cx="100.1" cy="400.0" r="1.0"/><circle cx="107.0" cy="400.0" r="0.7"/><circle cx="112.6" cy="399.2" r="0.7"/><circle cx="117.6" cy="400.1" r="1.0"/><circle cx="122.6" cy="399.6" r="0.8"/><circle cx="124.6" cy="399.3" r="1.0"/><circle cx="126.8" cy="399.5" r="0.7"/><circle cx="129.0" cy="399.8" r="1.0"/><circle cx="136.6" cy="399.7" r="1.0"/><circle cx="140.1" cy="399.6" r="0.9"/><circle cx="149.4" cy="399.5" r="0.7"/><circle cx="154.6" cy="400.2" r="1.0"/><circle cx="157.5" cy="400.3" r="1.0"/><circle cx="164.7" cy="400.6" r="0.8"/><circle cx="167.0" cy="399.5" r="0.8"/><circle cx="40.2" cy="402.7" r="0.9"/><circle cx="56.2" cy="401.8" r="0.9"/><circle cx="58.2" cy="402.8" r="0.7"/><circle cx="65.0" cy="402.2" r="1.0"/><circle cx="75.5" cy="401.9" r="1.0"/><circle cx="77.6" cy="402.3" r="0.8"/><circle cx="83.8" cy="402.1" r="0.9"/><circle cx="88.7" cy="401.6" r="0.9"/><circle cx="97.9" cy="402.2" r="0.9"/><circle cx="105.8" cy="402.2" r="0.8"/><circle cx="108.4" cy="401.5" r="1.0"/><circle cx="110.9" cy="402.8" r="1.0"/><circle cx="118.2" cy="402.8" r="0.9"/><circle cx="122.5" cy="402.2" r="0.7"/><circle cx="125.8" cy="401.6" r="0.8"/><circle cx="130.1" cy="402.3" r="0.8"/><circle cx="141.4" cy="402.1" r="0.8"/><circle cx="143.6" cy="402.7" r="0.7"/><circle cx="146.4" cy="402.6" r="0.8"/><circle cx="147.9" cy="402.3" r="1.0"/><circle cx="150.8" cy="402.4" r="1.0"/><circle cx="153.1" cy="401.6" r="0.8"/><circle cx="158.9" cy="401.9" r="0.7"/><circle cx="161.2" cy="402.4" r="0.8"/><circle cx="162.5" cy="402.5" r="0.8"/><circle cx="41.5" cy="404.3" r="0.9"/><circle cx="44.1" cy="403.6" r="1.0"/><circle cx="61.4" cy="403.8" r="0.7"/><circle cx="68.9" cy="404.2" r="1.0"/><circle cx="72.0" cy="404.0" r="0.9"/><circle cx="73.8" cy="403.9" r="0.8"/><circle cx="84.2" cy="404.9" r="1.0"/><circle cx="86.4" cy="403.9" r="0.9"/><circle cx="88.6" cy="404.0" r="0.7"/><circle cx="96.8" cy="404.5" r="0.8"/><circle cx="109.3" cy="404.1" r="0.9"/><circle cx="114.7" cy="404.1" r="1.0"/><circle cx="116.3" cy="404.4" r="0.9"/><circle cx="123.6" cy="404.1" r="0.8"/><circle cx="128.8" cy="404.2" r="0.8"/><circle cx="134.4" cy="403.9" r="0.8"/><circle cx="139.5" cy="404.7" r="0.9"/><circle cx="142.5" cy="404.3" r="0.9"/><circle cx="144.2" cy="404.1" r="0.9"/><circle cx="149.0" cy="404.2" r="0.9"/><circle cx="151.6" cy="403.9" r="1.0"/><circle cx="157.4" cy="403.7" r="0.9"/><circle cx="159.5" cy="403.6" r="0.9"/><circle cx="163.6" cy="404.3" r="0.9"/><circle cx="167.0" cy="404.8" r="0.8"/><circle cx="40.5" cy="407.1" r="1.0"/><circle cx="42.7" cy="406.1" r="0.8"/><circle cx="45.6" cy="406.1" r="0.9"/><circle cx="50.9" cy="407.1" r="1.0"/><circle cx="60.5" cy="406.7" r="0.8"/><circle cx="64.9" cy="406.4" r="0.8"/><circle cx="75.3" cy="407.2" r="0.7"/><circle cx="78.4" cy="406.2" r="1.0"/><circle cx="87.4" cy="406.3" r="0.7"/><circle cx="93.8" cy="407.1" r="0.8"/><circle cx="112.8" cy="406.1" r="0.8"/><circle cx="122.8" cy="407.2" r="0.7"/><circle cx="125.3" cy="406.9" r="0.8"/><circle cx="127.4" cy="406.3" r="0.9"/><circle cx="131.1" cy="406.4" r="0.8"/><circle cx="140.9" cy="406.9" r="1.0"/><circle cx="142.5" cy="406.8" r="0.9"/><circle cx="146.2" cy="405.7" r="1.0"/><circle cx="147.8" cy="406.1" r="1.0"/><circle cx="153.7" cy="405.9" r="0.8"/><circle cx="156.0" cy="407.1" r="1.0"/><circle cx="158.3" cy="405.9" r="1.0"/><circle cx="161.0" cy="405.9" r="0.9"/><circle cx="162.6" cy="406.7" r="1.0"/><circle cx="165.2" cy="406.5" r="0.9"/><circle cx="42.9" cy="408.0" r="0.8"/><circle cx="44.2" cy="409.3" r="0.9"/><circle cx="51.5" cy="408.1" r="0.9"/><circle cx="57.1" cy="408.3" r="0.9"/><circle cx="59.6" cy="408.8" r="0.9"/><circle cx="62.8" cy="409.2" r="0.9"/><circle cx="64.5" cy="407.9" r="0.7"/><circle cx="66.5" cy="408.9" r="0.9"/><circle cx="70.2" cy="409.4" r="0.9"/><circle cx="72.8" cy="408.3" r="1.0"/><circle cx="79.7" cy="407.9" r="1.0"/><circle cx="84.4" cy="408.9" r="0.8"/><circle cx="90.4" cy="408.6" r="0.8"/><circle cx="92.8" cy="408.8" r="1.0"/><circle cx="95.0" cy="408.3" r="1.0"/><circle cx="114.4" cy="409.2" r="0.8"/><circle cx="117.0" cy="409.0" r="0.9"/><circle cx="124.3" cy="408.0" r="0.9"/><circle cx="127.6" cy="409.4" r="0.9"/><circle cx="129.1" cy="408.8" r="0.9"/><circle cx="134.2" cy="408.0" r="0.9"/><circle cx="137.0" cy="408.2" r="0.9"/><circle cx="139.0" cy="408.5" r="0.9"/><circle cx="142.8" cy="408.8" r="1.0"/><circle cx="147.9" cy="408.9" r="1.0"/><circle cx="149.9" cy="409.3" r="0.8"/><circle cx="159.6" cy="408.4" r="0.9"/><circle cx="165.3" cy="409.1" r="0.8"/><circle cx="41.3" cy="410.7" r="1.0"/><circle cx="45.8" cy="411.5" r="0.9"/><circle cx="58.5" cy="410.8" r="0.9"/><circle cx="72.4" cy="410.4" r="0.8"/><circle cx="75.6" cy="410.8" r="0.9"/><circle cx="78.5" cy="411.0" r="1.0"/><circle cx="89.9" cy="411.1" r="1.0"/><circle cx="93.0" cy="410.7" r="0.9"/><circle cx="95.7" cy="411.6" r="1.0"/><circle cx="105.0" cy="410.4" r="0.8"/><circle cx="115.3" cy="410.4" r="0.9"/><circle cx="118.3" cy="411.5" r="0.8"/><circle cx="122.4" cy="410.4" r="0.8"/><circle cx="124.9" cy="410.5" r="0.8"/><circle cx="128.8" cy="410.5" r="0.9"/><circle cx="129.8" cy="410.5" r="0.9"/><circle cx="133.7" cy="410.7" r="0.8"/><circle cx="138.3" cy="410.8" r="1.0"/><circle cx="140.7" cy="411.3" r="1.0"/><circle cx="147.5" cy="410.9" r="0.8"/><circle cx="150.4" cy="411.5" r="1.0"/><circle cx="153.1" cy="410.6" r="0.8"/><circle cx="157.8" cy="411.3" r="1.0"/><circle cx="160.7" cy="411.1" r="0.9"/><circle cx="163.7" cy="410.2" r="0.9"/><circle cx="164.9" cy="410.1" r="1.0"/><circle cx="41.5" cy="413.6" r="0.8"/><circle cx="43.5" cy="413.4" r="1.0"/><circle cx="59.4" cy="413.3" r="0.9"/><circle cx="61.8" cy="412.5" r="0.9"/><circle cx="64.0" cy="413.7" r="0.9"/><circle cx="67.1" cy="412.6" r="0.8"/><circle cx="69.6" cy="412.5" r="0.8"/><circle cx="74.3" cy="413.0" r="1.0"/><circle cx="83.7" cy="413.3" r="1.0"/><circle cx="89.8" cy="412.4" r="1.0"/><circle cx="91.2" cy="412.8" r="0.8"/><circle cx="93.9" cy="412.8" r="0.8"/><circle cx="112.1" cy="413.7" r="0.9"/><circle cx="121.9" cy="413.4" r="0.8"/><circle cx="126.2" cy="412.9" r="0.9"/><circle cx="129.4" cy="413.6" r="1.0"/><circle cx="134.0" cy="412.5" r="0.9"/><circle cx="136.7" cy="412.6" r="0.8"/><circle cx="139.0" cy="413.5" r="0.7"/><circle cx="141.6" cy="412.9" r="0.7"/><circle cx="144.6" cy="413.6" r="0.9"/><circle cx="146.4" cy="412.3" r="0.7"/><circle cx="149.8" cy="413.1" r="1.0"/><circle cx="151.1" cy="413.4" r="0.8"/><circle cx="153.7" cy="413.2" r="0.9"/><circle cx="157.2" cy="413.0" r="0.9"/><circle cx="159.4" cy="412.6" r="0.9"/><circle cx="161.3" cy="412.9" r="1.0"/><circle cx="166.5" cy="413.5" r="0.8"/><circle cx="41.1" cy="415.9" r="0.7"/><circle cx="45.3" cy="414.9" r="0.9"/><circle cx="60.9" cy="414.7" r="0.9"/><circle cx="62.9" cy="415.1" r="1.0"/><circle cx="67.9" cy="415.1" r="0.8"/><circle cx="71.2" cy="414.7" r="1.0"/><circle cx="75.0" cy="415.2" r="0.8"/><circle cx="77.7" cy="414.4" r="0.9"/><circle cx="85.6" cy="414.5" r="0.8"/><circle cx="87.5" cy="414.8" r="0.9"/><circle cx="93.5" cy="415.0" r="1.0"/><circle cx="111.2" cy="415.3" r="0.8"/><circle cx="115.6" cy="415.3" r="0.9"/><circle cx="117.5" cy="414.7" r="1.0"/><circle cx="123.2" cy="414.8" r="0.9"/><circle cx="128.1" cy="414.8" r="1.0"/><circle cx="130.9" cy="415.3" r="1.0"/><circle cx="143.1" cy="415.4" r="0.8"/><circle cx="145.2" cy="415.2" r="1.0"/><circle cx="150.9" cy="414.5" r="0.8"/><circle cx="155.0" cy="415.4" r="1.0"/><circle cx="158.2" cy="414.9" r="0.8"/><circle cx="160.9" cy="415.3" r="1.0"/><circle cx="162.4" cy="415.4" r="0.8"/><circle cx="41.6" cy="418.0" r="0.9"/><circle cx="44.6" cy="417.5" r="1.0"/><circle cx="62.1" cy="416.7" r="1.0"/><circle cx="66.1" cy="417.5" r="0.8"/><circle cx="68.6" cy="417.5" r="0.9"/><circle cx="71.5" cy="417.6" r="1.0"/><circle cx="74.5" cy="417.8" r="0.7"/><circle cx="96.5" cy="417.2" r="0.9"/><circle cx="109.8" cy="417.5" r="0.9"/><circle cx="114.5" cy="417.1" r="1.0"/><circle cx="117.0" cy="417.8" r="1.0"/><circle cx="119.7" cy="417.3" r="0.7"/><circle cx="126.9" cy="418.0" r="0.9"/><circle cx="129.6" cy="418.0" r="0.8"/><circle cx="132.5" cy="417.0" r="0.9"/><circle cx="137.5" cy="417.9" r="0.8"/><circle cx="145.0" cy="416.9" r="0.9"/><circle cx="151.3" cy="417.3" r="0.9"/><circle cx="156.5" cy="417.2" r="0.9"/><circle cx="161.9" cy="417.2" r="1.0"/><circle cx="41.0" cy="419.7" r="1.0"/><circle cx="42.8" cy="419.8" r="0.7"/><circle cx="45.9" cy="420.2" r="0.8"/><circle cx="47.7" cy="420.0" r="1.0"/><circle cx="50.6" cy="419.4" r="0.7"/><circle cx="60.5" cy="419.9" r="0.9"/><circle cx="62.7" cy="420.2" r="0.9"/><circle cx="65.0" cy="418.9" r="0.8"/><circle cx="70.2" cy="419.8" r="0.8"/><circle cx="73.0" cy="419.3" r="1.0"/><circle cx="78.4" cy="419.5" r="0.8"/><circle cx="83.9" cy="420.3" r="1.0"/><circle cx="95.8" cy="419.4" r="1.0"/><circle cx="115.5" cy="419.0" r="0.8"/><circle cx="118.1" cy="419.2" r="0.8"/><circle cx="123.1" cy="419.8" r="0.9"/><circle cx="126.5" cy="419.6" r="0.9"/><circle cx="127.8" cy="419.2" r="0.8"/><circle cx="131.3" cy="419.9" r="0.9"/><circle cx="137.6" cy="419.1" r="1.0"/><circle cx="140.9" cy="419.9" r="0.8"/><circle cx="143.8" cy="418.8" r="0.8"/><circle cx="148.5" cy="419.5" r="0.9"/><circle cx="150.9" cy="420.2" r="0.8"/><circle cx="153.3" cy="419.4" r="1.0"/><circle cx="155.8" cy="419.0" r="0.9"/><circle cx="158.6" cy="420.0" r="0.9"/><circle cx="162.9" cy="419.6" r="0.9"/><circle cx="165.3" cy="420.2" r="1.0"/><circle cx="43.9" cy="421.6" r="1.0"/><circle cx="46.5" cy="422.2" r="0.9"/><circle cx="57.5" cy="422.1" r="0.9"/><circle cx="59.1" cy="421.2" r="0.8"/><circle cx="64.6" cy="421.0" r="0.8"/><circle cx="66.4" cy="422.1" r="0.9"/><circle cx="72.7" cy="422.3" r="0.9"/><circle cx="94.5" cy="421.9" r="0.9"/><circle cx="96.5" cy="421.7" r="0.7"/><circle cx="112.6" cy="422.0" r="0.8"/><circle cx="114.6" cy="422.0" r="1.0"/><circle cx="124.9" cy="421.7" r="0.9"/><circle cx="127.3" cy="421.7" r="1.0"/><circle cx="133.7" cy="421.1" r="0.7"/><circle cx="136.9" cy="421.2" r="0.8"/><circle cx="139.6" cy="421.3" r="0.9"/><circle cx="144.6" cy="421.6" r="0.9"/><circle cx="146.2" cy="421.7" r="0.9"/><circle cx="152.7" cy="421.3" r="0.9"/><circle cx="157.3" cy="422.2" r="1.0"/><circle cx="158.8" cy="421.5" r="0.9"/><circle cx="164.2" cy="421.9" r="0.9"/><circle cx="167.2" cy="422.1" r="0.9"/><circle cx="40.0" cy="423.7" r="0.8"/><circle cx="43.8" cy="423.6" r="0.9"/><circle cx="45.0" cy="424.5" r="0.8"/><circle cx="47.7" cy="424.1" r="0.7"/><circle cx="50.5" cy="424.6" r="0.9"/><circle cx="53.0" cy="424.5" r="0.7"/><circle cx="58.1" cy="423.8" r="1.0"/><circle cx="63.3" cy="423.7" r="0.8"/><circle cx="66.4" cy="424.0" r="1.0"/><circle cx="68.9" cy="424.4" r="1.0"/><circle cx="71.3" cy="424.4" r="0.8"/><circle cx="72.6" cy="423.6" r="0.9"/><circle cx="75.9" cy="424.4" r="1.0"/><circle cx="77.9" cy="424.2" r="1.0"/><circle cx="80.9" cy="424.1" r="0.9"/><circle cx="84.9" cy="424.0" r="0.9"/><circle cx="99.9" cy="423.8" r="0.8"/><circle cx="103.0" cy="423.8" r="0.8"/><circle cx="113.3" cy="423.8" r="0.8"/><circle cx="116.3" cy="424.5" r="0.9"/><circle cx="121.3" cy="424.5" r="1.0"/><circle cx="122.8" cy="423.6" r="0.9"/><circle cx="127.7" cy="423.9" r="0.7"/><circle cx="143.3" cy="424.1" r="1.0"/><circle cx="145.1" cy="424.5" r="0.9"/><circle cx="150.5" cy="424.6" r="1.0"/><circle cx="153.5" cy="424.5" r="1.0"/><circle cx="160.3" cy="424.0" r="1.0"/><circle cx="162.7" cy="423.8" r="0.8"/><circle cx="42.3" cy="426.2" r="0.9"/><circle cx="44.0" cy="425.9" r="0.7"/><circle cx="48.6" cy="425.8" r="0.8"/><circle cx="54.8" cy="425.5" r="0.9"/><circle cx="56.2" cy="425.6" r="1.0"/><circle cx="59.1" cy="426.7" r="0.9"/><circle cx="61.5" cy="426.2" r="0.8"/><circle cx="67.3" cy="425.8" r="0.8"/><circle cx="79.7" cy="426.7" r="0.9"/><circle cx="94.8" cy="425.5" r="0.8"/><circle cx="99.4" cy="425.8" r="1.0"/><circle cx="101.1" cy="425.3" r="0.8"/><circle cx="104.3" cy="426.0" r="0.8"/><circle cx="112.5" cy="425.4" r="0.7"/><circle cx="113.7" cy="425.4" r="0.9"/><circle cx="118.6" cy="426.5" r="0.9"/><circle cx="124.0" cy="425.8" r="0.9"/><circle cx="133.7" cy="426.7" r="1.0"/><circle cx="136.1" cy="425.4" r="0.7"/><circle cx="140.0" cy="426.0" r="0.9"/><circle cx="142.5" cy="426.7" r="0.8"/><circle cx="146.2" cy="426.5" r="0.8"/><circle cx="148.6" cy="425.8" r="1.0"/><circle cx="154.1" cy="426.7" r="1.0"/><circle cx="156.3" cy="425.5" r="0.7"/><circle cx="161.2" cy="426.3" r="0.8"/><circle cx="164.5" cy="425.5" r="0.9"/><circle cx="40.3" cy="427.8" r="0.8"/><circle cx="42.6" cy="427.8" r="1.0"/><circle cx="47.8" cy="428.7" r="0.8"/><circle cx="50.1" cy="427.9" r="0.8"/><circle cx="53.6" cy="428.4" r="0.7"/><circle cx="55.3" cy="428.3" r="0.8"/><circle cx="58.5" cy="428.6" r="0.8"/><circle cx="63.3" cy="428.8" r="0.9"/><circle cx="65.7" cy="428.4" r="0.9"/><circle cx="70.4" cy="427.8" r="1.0"/><circle cx="75.3" cy="428.6" r="0.8"/><circle cx="78.6" cy="428.8" r="0.9"/><circle cx="80.5" cy="427.9" r="1.0"/><circle cx="101.0" cy="427.7" r="1.0"/><circle cx="113.2" cy="427.8" r="1.0"/><circle cx="118.0" cy="428.5" r="1.0"/><circle cx="120.5" cy="428.3" r="0.9"/><circle cx="126.0" cy="428.7" r="0.7"/><circle cx="128.7" cy="428.5" r="0.7"/><circle cx="131.2" cy="428.3" r="0.9"/><circle cx="135.6" cy="428.1" r="0.8"/><circle cx="138.6" cy="427.5" r="0.9"/><circle cx="140.5" cy="428.2" r="0.9"/><circle cx="148.8" cy="428.1" r="1.0"/><circle cx="151.1" cy="428.2" r="0.9"/><circle cx="160.2" cy="427.7" r="1.0"/><circle cx="164.9" cy="428.1" r="0.9"/><circle cx="42.8" cy="429.8" r="0.9"/><circle cx="44.4" cy="430.1" r="0.9"/><circle cx="47.0" cy="430.7" r="1.0"/><circle cx="49.2" cy="430.2" r="0.7"/><circle cx="52.8" cy="429.8" r="1.0"/><circle cx="57.2" cy="430.1" r="1.0"/><circle cx="59.0" cy="430.0" r="0.8"/><circle cx="67.1" cy="429.8" r="0.9"/><circle cx="72.8" cy="431.0" r="0.8"/><circle cx="73.9" cy="430.0" r="0.7"/><circle cx="84.1" cy="431.0" r="0.9"/><circle cx="89.4" cy="430.5" r="1.0"/><circle cx="92.6" cy="430.6" r="0.8"/><circle cx="95.3" cy="430.8" r="1.0"/><circle cx="97.7" cy="430.1" r="0.8"/><circle cx="98.9" cy="430.1" r="0.7"/><circle cx="102.0" cy="431.1" r="1.0"/><circle cx="109.0" cy="430.7" r="0.9"/><circle cx="122.1" cy="430.9" r="0.7"/><circle cx="132.8" cy="430.4" r="0.9"/><circle cx="136.7" cy="430.8" r="1.0"/><circle cx="139.6" cy="430.6" r="1.0"/><circle cx="141.5" cy="430.5" r="0.8"/><circle cx="149.2" cy="429.7" r="0.9"/><circle cx="152.3" cy="430.2" r="0.8"/><circle cx="154.3" cy="429.9" r="1.0"/><circle cx="157.1" cy="430.1" r="0.7"/><circle cx="162.7" cy="430.4" r="0.9"/><circle cx="167.0" cy="430.6" r="1.0"/><circle cx="41.5" cy="431.9" r="1.0"/><circle cx="51.3" cy="432.1" r="0.7"/><circle cx="55.6" cy="432.4" r="1.0"/><circle cx="58.3" cy="432.8" r="1.0"/><circle cx="62.6" cy="433.1" r="1.0"/><circle cx="65.7" cy="432.1" r="0.9"/><circle cx="76.5" cy="433.0" r="0.7"/><circle cx="77.8" cy="432.5" r="0.9"/><circle cx="85.3" cy="432.7" r="0.9"/><circle cx="92.6" cy="432.2" r="1.0"/><circle cx="95.5" cy="432.7" r="0.8"/><circle cx="118.2" cy="432.2" r="0.9"/><circle cx="121.3" cy="431.9" r="0.9"/><circle cx="123.9" cy="432.9" r="0.8"/><circle cx="126.0" cy="433.1" r="1.0"/><circle cx="133.0" cy="433.2" r="0.7"/><circle cx="138.5" cy="431.9" r="0.8"/><circle cx="142.6" cy="433.3" r="0.9"/><circle cx="145.2" cy="432.1" r="0.9"/><circle cx="148.6" cy="432.9" r="1.0"/><circle cx="150.4" cy="432.9" r="0.7"/><circle cx="156.4" cy="433.0" r="0.8"/><circle cx="158.7" cy="432.7" r="0.9"/><circle cx="161.2" cy="433.1" r="0.9"/><circle cx="163.5" cy="432.9" r="0.8"/><circle cx="166.0" cy="432.7" r="0.7"/><circle cx="48.7" cy="434.3" r="0.7"/><circle cx="51.9" cy="434.8" r="0.8"/><circle cx="53.6" cy="434.4" r="0.8"/><circle cx="61.8" cy="435.4" r="1.0"/><circle cx="63.5" cy="434.4" r="1.0"/><circle cx="67.4" cy="434.3" r="0.7"/><circle cx="71.5" cy="435.1" r="1.0"/><circle cx="74.1" cy="434.2" r="0.8"/><circle cx="79.1" cy="435.3" r="0.8"/><circle cx="81.3" cy="434.3" r="0.8"/><circle cx="84.7" cy="434.3" r="1.0"/><circle cx="87.0" cy="434.5" r="0.8"/><circle cx="91.2" cy="434.6" r="0.7"/><circle cx="94.8" cy="434.9" r="1.0"/><circle cx="97.1" cy="434.9" r="0.7"/><circle cx="99.0" cy="434.3" r="0.7"/><circle cx="121.0" cy="434.2" r="0.9"/><circle cx="129.3" cy="434.9" r="0.9"/><circle cx="131.3" cy="434.9" r="0.7"/><circle cx="133.7" cy="435.3" r="1.0"/><circle cx="139.1" cy="435.5" r="1.0"/><circle cx="147.1" cy="435.5" r="0.8"/><circle cx="150.0" cy="435.0" r="1.0"/><circle cx="151.8" cy="434.1" r="0.8"/><circle cx="154.6" cy="435.3" r="1.0"/><circle cx="164.2" cy="434.6" r="0.7"/><circle cx="40.1" cy="437.4" r="0.7"/><circle cx="47.5" cy="436.4" r="0.7"/><circle cx="52.5" cy="437.1" r="0.8"/><circle cx="55.5" cy="436.4" r="0.9"/><circle cx="58.3" cy="437.1" r="0.7"/><circle cx="65.1" cy="436.6" r="0.8"/><circle cx="77.8" cy="436.6" r="0.9"/><circle cx="87.8" cy="437.2" r="0.9"/><circle cx="91.3" cy="436.7" r="0.9"/><circle cx="92.5" cy="436.3" r="1.0"/><circle cx="96.2" cy="437.4" r="0.8"/><circle cx="121.0" cy="437.4" r="0.8"/><circle cx="122.7" cy="436.2" r="0.7"/><circle cx="130.0" cy="436.8" r="0.9"/><circle cx="135.3" cy="436.7" r="0.9"/><circle cx="147.9" cy="436.9" r="1.0"/><circle cx="158.0" cy="437.5" r="0.9"/><circle cx="163.3" cy="436.3" r="0.9"/><circle cx="166.4" cy="437.7" r="0.8"/><circle cx="42.3" cy="438.6" r="0.9"/><circle cx="54.9" cy="439.0" r="0.7"/><circle cx="56.4" cy="439.6" r="1.0"/><circle cx="69.4" cy="439.0" r="0.7"/><circle cx="77.2" cy="439.4" r="1.0"/><circle cx="86.6" cy="439.4" r="1.0"/><circle cx="91.4" cy="439.2" r="0.7"/><circle cx="94.7" cy="439.7" r="0.7"/><circle cx="96.7" cy="439.0" r="1.0"/><circle cx="116.5" cy="439.3" r="0.9"/><circle cx="119.0" cy="438.8" r="0.9"/><circle cx="121.5" cy="439.3" r="1.0"/><circle cx="124.5" cy="438.8" r="0.7"/><circle cx="127.5" cy="439.0" r="0.7"/><circle cx="132.4" cy="439.4" r="0.9"/><circle cx="134.8" cy="439.3" r="0.9"/><circle cx="145.0" cy="438.9" r="1.0"/><circle cx="147.0" cy="439.4" r="0.7"/><circle cx="151.7" cy="439.8" r="0.8"/><circle cx="154.3" cy="439.2" r="0.8"/><circle cx="156.9" cy="438.6" r="0.8"/><circle cx="162.4" cy="439.1" r="0.8"/><circle cx="167.3" cy="438.9" r="0.9"/><circle cx="50.3" cy="441.7" r="0.9"/><circle cx="53.5" cy="440.9" r="0.8"/><circle cx="56.1" cy="440.6" r="1.0"/><circle cx="58.1" cy="441.0" r="0.8"/><circle cx="78.3" cy="440.8" r="1.0"/><circle cx="81.0" cy="441.9" r="1.0"/><circle cx="82.6" cy="441.2" r="0.7"/><circle cx="86.3" cy="441.6" r="0.8"/><circle cx="93.8" cy="441.6" r="0.9"/><circle cx="125.9" cy="441.7" r="0.9"/><circle cx="130.7" cy="440.9" r="0.7"/><circle cx="133.3" cy="441.5" r="1.0"/><circle cx="135.5" cy="441.7" r="0.7"/><circle cx="148.8" cy="441.9" r="0.8"/><circle cx="150.8" cy="441.6" r="1.0"/><circle cx="153.4" cy="440.7" r="0.9"/><circle cx="155.2" cy="440.9" r="1.0"/><circle cx="161.3" cy="441.6" r="0.8"/><circle cx="47.6" cy="444.2" r="0.7"/><circle cx="52.3" cy="443.7" r="0.8"/><circle cx="76.3" cy="442.8" r="1.0"/><circle cx="79.6" cy="442.8" r="0.7"/><circle cx="84.5" cy="442.8" r="1.0"/><circle cx="86.6" cy="443.8" r="0.8"/><circle cx="90.0" cy="443.6" r="0.9"/><circle cx="94.8" cy="443.7" r="0.7"/><circle cx="119.0" cy="443.9" r="1.0"/><circle cx="124.6" cy="443.2" r="0.9"/><circle cx="127.7" cy="443.8" r="0.8"/><circle cx="150.0" cy="443.9" r="1.0"/><circle cx="151.5" cy="443.0" r="0.9"/><circle cx="154.5" cy="443.8" r="0.9"/><circle cx="156.5" cy="443.7" r="0.8"/><circle cx="159.9" cy="443.0" r="0.9"/><circle cx="163.7" cy="443.2" r="1.0"/><circle cx="167.1" cy="442.9" r="0.9"/><circle cx="40.2" cy="445.4" r="0.9"/><circle cx="42.9" cy="445.7" r="0.9"/><circle cx="46.4" cy="445.7" r="1.0"/><circle cx="48.9" cy="446.3" r="1.0"/><circle cx="50.2" cy="446.3" r="0.9"/><circle cx="58.8" cy="445.4" r="0.9"/><circle cx="70.3" cy="446.3" r="1.0"/><circle cx="73.0" cy="445.6" r="0.8"/><circle cx="75.0" cy="445.1" r="0.7"/><circle cx="78.6" cy="445.1" r="0.7"/><circle cx="80.8" cy="446.1" r="0.8"/><circle cx="87.7" cy="446.2" r="0.8"/><circle cx="90.2" cy="445.7" r="1.0"/><circle cx="95.0" cy="445.1" r="0.8"/><circle cx="98.1" cy="446.0" r="0.9"/><circle cx="118.8" cy="446.1" r="0.8"/><circle cx="121.4" cy="445.2" r="0.7"/><circle cx="125.8" cy="446.1" r="1.0"/><circle cx="127.8" cy="446.0" r="0.8"/><circle cx="130.4" cy="446.0" r="1.0"/><circle cx="151.1" cy="445.8" r="1.0"/><circle cx="155.6" cy="445.8" r="0.9"/><circle cx="162.5" cy="445.2" r="0.9"/><circle cx="166.1" cy="444.9" r="0.8"/><circle cx="42.6" cy="448.2" r="0.9"/><circle cx="44.6" cy="448.4" r="0.7"/><circle cx="47.9" cy="447.5" r="1.0"/><circle cx="50.0" cy="448.5" r="0.9"/><circle cx="51.5" cy="447.7" r="1.0"/><circle cx="54.1" cy="447.1" r="0.9"/><circle cx="56.5" cy="448.6" r="0.8"/><circle cx="59.8" cy="447.5" r="1.0"/><circle cx="65.0" cy="448.1" r="0.8"/><circle cx="71.6" cy="447.3" r="0.9"/><circle cx="74.4" cy="448.4" r="0.8"/><circle cx="77.1" cy="447.5" r="1.0"/><circle cx="94.8" cy="447.6" r="0.9"/><circle cx="97.8" cy="447.6" r="1.0"/><circle cx="99.3" cy="447.7" r="1.0"/><circle cx="107.0" cy="448.6" r="0.7"/><circle cx="115.1" cy="447.5" r="1.0"/><circle cx="116.5" cy="447.5" r="1.0"/><circle cx="119.9" cy="447.7" r="0.9"/><circle cx="121.5" cy="447.9" r="1.0"/><circle cx="124.3" cy="448.3" r="0.9"/><circle cx="130.4" cy="447.5" r="0.8"/><circle cx="149.9" cy="447.2" r="1.0"/><circle cx="156.6" cy="447.4" r="1.0"/><circle cx="161.6" cy="448.1" r="0.7"/><circle cx="45.1" cy="450.7" r="0.7"/><circle cx="48.3" cy="449.7" r="0.9"/><circle cx="50.0" cy="450.2" r="0.7"/><circle cx="56.2" cy="449.6" r="0.7"/><circle cx="58.0" cy="450.3" r="0.7"/><circle cx="60.6" cy="449.6" r="0.8"/><circle cx="63.3" cy="449.6" r="0.7"/><circle cx="65.4" cy="449.6" r="1.0"/><circle cx="67.5" cy="449.3" r="0.9"/><circle cx="70.6" cy="449.2" r="0.8"/><circle cx="75.4" cy="449.5" r="0.8"/><circle cx="77.4" cy="450.7" r="1.0"/><circle cx="90.6" cy="449.8" r="1.0"/><circle cx="98.4" cy="449.7" r="0.9"/><circle cx="100.1" cy="450.4" r="0.7"/><circle cx="105.1" cy="449.5" r="1.0"/><circle cx="107.5" cy="449.6" r="0.7"/><circle cx="110.3" cy="449.5" r="0.9"/><circle cx="113.2" cy="449.8" r="0.7"/><circle cx="121.0" cy="450.2" r="1.0"/><circle cx="127.7" cy="449.8" r="1.0"/><circle cx="133.1" cy="449.3" r="0.7"/><circle cx="146.1" cy="449.7" r="0.9"/><circle cx="148.2" cy="449.4" r="1.0"/><circle cx="152.8" cy="449.6" r="0.9"/><circle cx="155.1" cy="449.8" r="1.0"/><circle cx="158.3" cy="449.9" r="0.8"/><circle cx="160.5" cy="450.3" r="1.0"/><circle cx="163.1" cy="449.9" r="0.8"/><circle cx="165.8" cy="449.8" r="0.8"/><circle cx="42.8" cy="452.1" r="0.7"/><circle cx="44.5" cy="451.7" r="0.9"/><circle cx="47.7" cy="452.1" r="1.0"/><circle cx="52.8" cy="452.6" r="0.8"/><circle cx="54.0" cy="451.9" r="0.8"/><circle cx="57.2" cy="451.7" r="0.8"/><circle cx="59.9" cy="451.5" r="1.0"/><circle cx="62.4" cy="451.7" r="0.8"/><circle cx="64.4" cy="451.8" r="1.0"/><circle cx="69.3" cy="451.5" r="0.8"/><circle cx="72.2" cy="452.3" r="1.0"/><circle cx="75.3" cy="451.7" r="1.0"/><circle cx="76.8" cy="451.5" r="0.9"/><circle cx="91.5" cy="451.9" r="0.7"/><circle cx="97.4" cy="452.3" r="0.9"/><circle cx="99.1" cy="451.7" r="0.9"/><circle cx="101.4" cy="452.2" r="0.9"/><circle cx="105.4" cy="452.0" r="1.0"/><circle cx="112.7" cy="452.1" r="0.9"/><circle cx="114.9" cy="451.5" r="1.0"/><circle cx="116.6" cy="451.6" r="1.0"/><circle cx="120.1" cy="452.9" r="1.0"/><circle cx="122.2" cy="452.2" r="1.0"/><circle cx="130.0" cy="452.0" r="1.0"/><circle cx="144.0" cy="452.7" r="1.0"/><circle cx="152.5" cy="451.6" r="1.0"/><circle cx="156.7" cy="452.4" r="0.8"/><circle cx="160.1" cy="452.5" r="0.7"/><circle cx="164.7" cy="451.8" r="1.0"/><circle cx="166.9" cy="452.3" r="0.9"/><circle cx="40.4" cy="454.0" r="0.8"/><circle cx="48.2" cy="454.7" r="0.9"/><circle cx="50.2" cy="454.7" r="0.8"/><circle cx="55.0" cy="454.8" r="0.9"/><circle cx="63.8" cy="454.0" r="0.8"/><circle cx="68.8" cy="454.7" r="0.7"/><circle cx="70.9" cy="454.2" r="0.8"/><circle cx="75.7" cy="454.1" r="0.8"/><circle cx="78.5" cy="454.5" r="1.0"/><circle cx="82.8" cy="455.0" r="0.9"/><circle cx="100.5" cy="454.4" r="0.8"/><circle cx="105.5" cy="454.3" r="0.9"/><circle cx="107.7" cy="454.0" r="1.0"/><circle cx="113.4" cy="455.0" r="0.9"/><circle cx="116.2" cy="454.8" r="1.0"/><circle cx="117.9" cy="455.0" r="0.8"/><circle cx="120.3" cy="454.9" r="0.9"/><circle cx="123.3" cy="454.1" r="0.8"/><circle cx="126.3" cy="454.9" r="0.9"/><circle cx="128.3" cy="453.8" r="1.0"/><circle cx="138.3" cy="455.1" r="0.8"/><circle cx="140.8" cy="454.5" r="0.9"/><circle cx="146.2" cy="454.3" r="1.0"/><circle cx="153.6" cy="454.2" r="1.0"/><circle cx="156.0" cy="453.6" r="0.8"/><circle cx="162.7" cy="454.2" r="0.9"/><circle cx="166.2" cy="454.2" r="0.8"/><circle cx="53.9" cy="455.8" r="0.8"/><circle cx="57.3" cy="456.2" r="1.0"/><circle cx="59.7" cy="456.6" r="0.8"/><circle cx="66.6" cy="455.8" r="1.0"/><circle cx="69.9" cy="456.0" r="0.9"/><circle cx="71.7" cy="456.7" r="0.8"/><circle cx="73.7" cy="456.2" r="1.0"/><circle cx="90.0" cy="457.1" r="0.8"/><circle cx="94.3" cy="455.8" r="1.0"/><circle cx="99.9" cy="456.3" r="0.9"/><circle cx="104.8" cy="456.7" r="0.8"/><circle cx="109.6" cy="456.2" r="0.9"/><circle cx="115.0" cy="457.1" r="0.7"/><circle cx="118.8" cy="457.2" r="0.9"/><circle cx="126.7" cy="456.4" r="0.9"/><circle cx="128.8" cy="456.9" r="0.7"/><circle cx="131.3" cy="456.5" r="0.9"/><circle cx="134.8" cy="456.0" r="0.8"/><circle cx="139.3" cy="456.5" r="1.0"/><circle cx="144.6" cy="456.9" r="0.9"/><circle cx="147.4" cy="456.1" r="0.7"/><circle cx="149.9" cy="456.9" r="0.8"/><circle cx="154.5" cy="456.0" r="0.9"/><circle cx="156.6" cy="455.8" r="0.7"/><circle cx="162.5" cy="457.3" r="0.8"/><circle cx="43.0" cy="458.8" r="0.8"/><circle cx="45.4" cy="458.5" r="1.0"/><circle cx="60.9" cy="458.6" r="1.0"/><circle cx="62.4" cy="458.3" r="0.8"/><circle cx="66.3" cy="459.1" r="0.8"/><circle cx="67.8" cy="458.9" r="0.9"/><circle cx="72.7" cy="458.7" r="0.8"/><circle cx="75.2" cy="458.6" r="0.9"/><circle cx="78.6" cy="459.3" r="0.8"/><circle cx="88.8" cy="458.6" r="0.7"/><circle cx="93.3" cy="459.2" r="0.9"/><circle cx="96.0" cy="458.5" r="0.8"/><circle cx="97.7" cy="458.4" r="0.8"/><circle cx="100.8" cy="459.2" r="0.9"/><circle cx="102.8" cy="459.2" r="1.0"/><circle cx="105.2" cy="458.5" r="0.9"/><circle cx="107.4" cy="459.2" r="1.0"/><circle cx="110.5" cy="458.5" r="0.9"/><circle cx="112.7" cy="458.1" r="0.9"/><circle cx="115.2" cy="459.1" r="0.9"/><circle cx="118.6" cy="458.9" r="1.0"/><circle cx="121.0" cy="459.1" r="0.8"/><circle cx="123.1" cy="458.3" r="0.8"/><circle cx="128.4" cy="458.6" r="1.0"/><circle cx="131.2" cy="459.2" r="0.8"/><circle cx="145.4" cy="458.6" r="0.9"/><circle cx="151.1" cy="459.4" r="0.7"/><circle cx="155.5" cy="459.3" r="0.7"/><circle cx="158.5" cy="458.6" r="0.7"/><circle cx="163.4" cy="458.4" r="0.9"/><circle cx="42.5" cy="461.2" r="0.8"/><circle cx="52.2" cy="460.1" r="0.9"/><circle cx="61.3" cy="460.2" r="1.0"/><circle cx="64.5" cy="460.7" r="0.8"/><circle cx="67.5" cy="460.4" r="0.7"/><circle cx="69.4" cy="461.2" r="0.8"/><circle cx="71.6" cy="460.6" r="0.8"/><circle cx="74.6" cy="460.5" r="1.0"/><circle cx="79.9" cy="460.8" r="0.8"/><circle cx="81.3" cy="461.5" r="1.0"/><circle cx="86.9" cy="460.6" r="1.0"/><circle cx="90.1" cy="460.2" r="0.7"/><circle cx="91.7" cy="460.7" r="1.0"/><circle cx="99.9" cy="460.7" r="0.7"/><circle cx="104.9" cy="460.2" r="0.8"/><circle cx="107.5" cy="461.3" r="0.8"/><circle cx="110.2" cy="461.6" r="1.0"/><circle cx="112.5" cy="461.6" r="0.9"/><circle cx="114.8" cy="460.4" r="1.0"/><circle cx="116.3" cy="460.4" r="1.0"/><circle cx="123.8" cy="460.5" r="0.8"/><circle cx="127.2" cy="461.6" r="1.0"/><circle cx="128.8" cy="461.0" r="0.9"/><circle cx="135.0" cy="461.2" r="0.7"/><circle cx="136.7" cy="460.8" r="0.7"/><circle cx="138.8" cy="461.2" r="0.8"/><circle cx="141.7" cy="461.1" r="1.0"/><circle cx="145.1" cy="460.6" r="0.7"/><circle cx="152.1" cy="461.4" r="0.9"/><circle cx="154.1" cy="461.3" r="0.8"/><circle cx="159.1" cy="461.6" r="1.0"/><circle cx="167.1" cy="460.6" r="0.8"/><circle cx="40.7" cy="463.4" r="0.8"/><circle cx="42.4" cy="463.3" r="0.9"/><circle cx="45.8" cy="462.4" r="1.0"/><circle cx="48.6" cy="463.3" r="0.7"/><circle cx="56.2" cy="462.5" r="1.0"/><circle cx="57.8" cy="463.2" r="1.0"/><circle cx="61.0" cy="463.1" r="0.8"/><circle cx="63.1" cy="463.2" r="1.0"/><circle cx="65.9" cy="463.4" r="0.9"/><circle cx="67.5" cy="463.5" r="1.0"/><circle cx="78.3" cy="463.7" r="0.8"/><circle cx="83.1" cy="463.7" r="0.8"/><circle cx="87.4" cy="463.3" r="1.0"/><circle cx="90.8" cy="463.3" r="0.9"/><circle cx="93.1" cy="462.3" r="0.8"/><circle cx="97.7" cy="462.9" r="0.8"/><circle cx="103.3" cy="463.2" r="1.0"/><circle cx="104.8" cy="463.6" r="1.0"/><circle cx="108.2" cy="462.8" r="0.9"/><circle cx="110.1" cy="462.4" r="0.9"/><circle cx="112.8" cy="463.5" r="0.9"/><circle cx="115.6" cy="463.7" r="1.0"/><circle cx="120.7" cy="463.5" r="0.8"/><circle cx="123.7" cy="462.9" r="1.0"/><circle cx="126.1" cy="462.3" r="0.7"/><circle cx="128.4" cy="462.6" r="1.0"/><circle cx="135.7" cy="462.6" r="0.8"/><circle cx="150.9" cy="463.7" r="0.9"/><circle cx="156.2" cy="462.9" r="0.7"/><circle cx="158.1" cy="463.4" r="1.0"/><circle cx="160.5" cy="463.5" r="0.9"/><circle cx="165.9" cy="463.5" r="0.9"/><circle cx="49.9" cy="465.6" r="0.8"/><circle cx="51.4" cy="464.8" r="0.9"/><circle cx="54.1" cy="465.3" r="1.0"/><circle cx="59.3" cy="465.4" r="0.8"/><circle cx="61.9" cy="465.2" r="0.8"/><circle cx="64.1" cy="465.3" r="0.7"/><circle cx="74.6" cy="465.2" r="0.9"/><circle cx="76.5" cy="465.9" r="0.9"/><circle cx="82.5" cy="465.1" r="0.7"/><circle cx="84.7" cy="464.6" r="0.9"/><circle cx="86.5" cy="464.8" r="0.8"/><circle cx="97.2" cy="465.8" r="1.0"/><circle cx="99.1" cy="465.2" r="1.0"/><circle cx="101.7" cy="464.8" r="1.0"/><circle cx="104.1" cy="465.2" r="0.8"/><circle cx="106.5" cy="464.7" r="0.9"/><circle cx="111.3" cy="465.0" r="0.9"/><circle cx="119.3" cy="464.5" r="0.8"/><circle cx="122.4" cy="465.3" r="1.0"/><circle cx="124.9" cy="465.1" r="1.0"/><circle cx="128.7" cy="465.0" r="0.8"/><circle cx="131.1" cy="464.8" r="0.8"/><circle cx="137.5" cy="465.7" r="0.9"/><circle cx="139.3" cy="464.5" r="0.8"/><circle cx="142.5" cy="465.7" r="0.9"/><circle cx="164.4" cy="464.6" r="0.8"/><circle cx="166.5" cy="465.9" r="0.9"/><circle cx="40.4" cy="467.2" r="0.9"/><circle cx="50.7" cy="467.2" r="0.9"/><circle cx="55.9" cy="466.9" r="0.7"/><circle cx="58.9" cy="467.6" r="1.0"/><circle cx="63.5" cy="467.4" r="0.9"/><circle cx="68.2" cy="467.2" r="0.9"/><circle cx="71.0" cy="467.7" r="0.8"/><circle cx="74.0" cy="467.3" r="0.9"/><circle cx="75.5" cy="467.3" r="1.0"/><circle cx="78.6" cy="467.9" r="0.9"/><circle cx="83.5" cy="467.1" r="0.8"/><circle cx="98.5" cy="467.4" r="1.0"/><circle cx="100.7" cy="467.4" r="0.7"/><circle cx="105.7" cy="466.8" r="1.0"/><circle cx="110.2" cy="467.9" r="1.0"/><circle cx="127.7" cy="466.9" r="0.8"/><circle cx="133.2" cy="467.1" r="0.8"/><circle cx="136.2" cy="468.1" r="1.0"/><circle cx="150.6" cy="467.8" r="0.9"/><circle cx="152.8" cy="467.9" r="0.7"/><circle cx="41.3" cy="470.2" r="1.0"/><circle cx="44.2" cy="470.0" r="0.9"/><circle cx="47.3" cy="469.7" r="0.9"/><circle cx="49.2" cy="469.1" r="1.0"/><circle cx="51.7" cy="469.8" r="0.9"/><circle cx="54.3" cy="469.5" r="0.7"/><circle cx="57.0" cy="469.2" r="0.8"/><circle cx="62.1" cy="468.9" r="0.9"/><circle cx="65.0" cy="469.3" r="0.8"/><circle cx="75.0" cy="470.2" r="1.0"/><circle cx="82.2" cy="469.2" r="0.9"/><circle cx="84.9" cy="469.7" r="1.0"/><circle cx="86.9" cy="470.3" r="1.0"/><circle cx="98.8" cy="470.0" r="1.0"/><circle cx="102.4" cy="469.1" r="0.9"/><circle cx="104.1" cy="469.1" r="1.0"/><circle cx="107.0" cy="470.0" r="1.0"/><circle cx="108.9" cy="469.3" r="0.8"/><circle cx="112.6" cy="470.0" r="0.8"/><circle cx="114.6" cy="469.4" r="0.8"/><circle cx="116.7" cy="470.0" r="1.0"/><circle cx="134.3" cy="470.2" r="0.8"/><circle cx="136.3" cy="470.0" r="0.9"/><circle cx="138.8" cy="469.4" r="0.7"/><circle cx="141.3" cy="469.8" r="0.8"/><circle cx="144.1" cy="468.9" r="0.8"/><circle cx="146.4" cy="469.1" r="0.8"/><circle cx="149.4" cy="470.1" r="0.8"/><circle cx="159.2" cy="469.9" r="0.9"/><circle cx="162.1" cy="469.8" r="0.8"/><circle cx="165.1" cy="469.6" r="0.9"/><circle cx="167.4" cy="469.4" r="0.8"/><circle cx="41.2" cy="471.3" r="1.0"/><circle cx="46.2" cy="471.4" r="0.8"/><circle cx="48.4" cy="471.1" r="1.0"/><circle cx="58.6" cy="472.0" r="0.7"/><circle cx="63.4" cy="472.0" r="0.7"/><circle cx="66.3" cy="471.8" r="0.8"/><circle cx="68.3" cy="471.9" r="0.7"/><circle cx="70.4" cy="471.2" r="0.8"/><circle cx="73.4" cy="471.9" r="0.7"/><circle cx="76.3" cy="472.4" r="0.7"/><circle cx="81.1" cy="471.8" r="0.8"/><circle cx="96.3" cy="471.5" r="0.8"/><circle cx="98.9" cy="471.6" r="0.9"/><circle cx="100.5" cy="471.0" r="0.7"/><circle cx="102.6" cy="472.2" r="1.0"/><circle cx="105.4" cy="471.1" r="0.9"/><circle cx="108.5" cy="472.0" r="0.7"/><circle cx="113.2" cy="471.7" r="1.0"/><circle cx="116.0" cy="471.3" r="0.9"/><circle cx="118.9" cy="472.3" r="0.7"/><circle cx="121.4" cy="472.0" r="0.7"/><circle cx="123.1" cy="471.8" r="0.9"/><circle cx="125.8" cy="471.5" r="0.8"/><circle cx="127.9" cy="472.1" r="1.0"/><circle cx="130.7" cy="472.3" r="0.7"/><circle cx="133.1" cy="471.3" r="1.0"/><circle cx="142.9" cy="471.3" r="0.9"/><circle cx="151.5" cy="472.5" r="1.0"/><circle cx="160.8" cy="472.5" r="1.0"/><circle cx="163.8" cy="471.2" r="0.9"/><circle cx="166.3" cy="472.3" r="0.9"/><circle cx="42.6" cy="473.8" r="0.7"/><circle cx="46.9" cy="473.8" r="1.0"/><circle cx="52.6" cy="473.4" r="0.9"/><circle cx="62.2" cy="473.7" r="1.0"/><circle cx="69.6" cy="473.5" r="0.8"/><circle cx="74.6" cy="473.8" r="0.9"/><circle cx="77.1" cy="474.3" r="0.9"/><circle cx="80.2" cy="473.4" r="0.9"/><circle cx="84.6" cy="474.2" r="1.0"/><circle cx="87.6" cy="474.6" r="0.9"/><circle cx="97.5" cy="474.3" r="0.8"/><circle cx="99.9" cy="474.6" r="0.8"/><circle cx="105.2" cy="474.6" r="1.0"/><circle cx="109.5" cy="473.7" r="0.8"/><circle cx="114.8" cy="473.3" r="0.8"/><circle cx="120.2" cy="473.6" r="1.0"/><circle cx="127.4" cy="474.3" r="0.7"/><circle cx="129.2" cy="473.7" r="0.8"/><circle cx="137.0" cy="474.4" r="1.0"/><circle cx="146.7" cy="473.5" r="0.9"/><circle cx="167.3" cy="474.4" r="1.0"/><circle cx="41.0" cy="475.9" r="0.8"/><circle cx="45.7" cy="476.0" r="0.7"/><circle cx="47.5" cy="476.1" r="0.9"/><circle cx="53.6" cy="476.3" r="1.0"/><circle cx="60.2" cy="476.6" r="1.0"/><circle cx="72.8" cy="476.4" r="0.9"/><circle cx="76.1" cy="475.8" r="1.0"/><circle cx="83.5" cy="475.7" r="0.9"/><circle cx="88.0" cy="476.8" r="0.7"/><circle cx="95.7" cy="475.5" r="0.7"/><circle cx="100.7" cy="475.5" r="0.8"/><circle cx="105.2" cy="476.4" r="0.8"/><circle cx="108.5" cy="476.8" r="0.7"/><circle cx="110.4" cy="476.3" r="0.9"/><circle cx="115.5" cy="476.8" r="0.8"/><circle cx="118.0" cy="475.5" r="0.8"/><circle cx="120.9" cy="476.0" r="0.8"/><circle cx="122.5" cy="476.5" r="1.0"/><circle cx="128.9" cy="476.7" r="1.0"/><circle cx="131.2" cy="476.2" r="0.7"/><circle cx="133.4" cy="476.1" r="0.9"/><circle cx="140.3" cy="476.7" r="1.0"/><circle cx="143.2" cy="476.7" r="0.8"/><circle cx="145.4" cy="476.3" r="0.8"/><circle cx="148.8" cy="476.1" r="1.0"/><circle cx="150.6" cy="476.1" r="0.8"/><circle cx="42.2" cy="477.5" r="0.9"/><circle cx="44.6" cy="478.2" r="1.0"/><circle cx="50.1" cy="477.7" r="0.8"/><circle cx="60.2" cy="478.5" r="0.8"/><circle cx="62.8" cy="477.7" r="1.0"/><circle cx="64.5" cy="478.9" r="1.0"/><circle cx="70.2" cy="478.5" r="0.7"/><circle cx="74.8" cy="479.0" r="1.0"/><circle cx="81.8" cy="478.1" r="0.9"/><circle cx="85.0" cy="478.7" r="0.8"/><circle cx="87.7" cy="477.5" r="0.9"/><circle cx="90.2" cy="478.6" r="1.0"/><circle cx="97.4" cy="478.5" r="1.0"/><circle cx="99.5" cy="478.8" r="0.8"/><circle cx="104.9" cy="478.0" r="0.7"/><circle cx="107.7" cy="477.8" r="0.8"/><circle cx="115.1" cy="477.9" r="0.9"/><circle cx="116.8" cy="477.9" r="0.9"/><circle cx="124.9" cy="477.8" r="0.9"/><circle cx="130.1" cy="477.7" r="0.7"/><circle cx="132.1" cy="477.9" r="1.0"/><circle cx="137.0" cy="477.7" r="0.8"/><circle cx="144.1" cy="477.9" r="0.8"/><circle cx="146.5" cy="477.6" r="0.7"/><circle cx="156.8" cy="479.0" r="0.8"/><circle cx="162.8" cy="478.1" r="0.9"/><circle cx="46.1" cy="481.0" r="1.0"/><circle cx="57.4" cy="481.1" r="0.8"/><circle cx="61.2" cy="480.6" r="0.8"/><circle cx="62.6" cy="481.0" r="1.0"/><circle cx="70.8" cy="480.0" r="1.0"/><circle cx="72.3" cy="480.3" r="0.7"/><circle cx="75.0" cy="480.2" r="0.8"/><circle cx="78.5" cy="480.7" r="0.9"/><circle cx="85.5" cy="480.8" r="0.7"/><circle cx="93.2" cy="480.4" r="0.9"/><circle cx="94.9" cy="480.6" r="1.0"/><circle cx="98.6" cy="480.7" r="0.8"/><circle cx="100.6" cy="480.3" r="0.9"/><circle cx="105.3" cy="480.3" r="1.0"/><circle cx="108.2" cy="480.7" r="1.0"/><circle cx="110.9" cy="480.5" r="0.9"/><circle cx="115.8" cy="479.9" r="0.9"/><circle cx="120.2" cy="479.9" r="0.8"/><circle cx="122.9" cy="479.7" r="1.0"/><circle cx="125.8" cy="479.7" r="0.7"/><circle cx="132.8" cy="480.7" r="0.8"/><circle cx="141.2" cy="480.3" r="0.8"/><circle cx="142.8" cy="481.0" r="0.9"/><circle cx="144.9" cy="480.3" r="0.7"/><circle cx="155.4" cy="480.6" r="1.0"/><circle cx="160.4" cy="480.8" r="1.0"/><circle cx="163.3" cy="480.4" r="0.9"/><circle cx="42.2" cy="483.1" r="0.8"/><circle cx="46.3" cy="482.9" r="0.8"/><circle cx="49.8" cy="482.4" r="0.7"/><circle cx="51.6" cy="482.7" r="1.0"/><circle cx="61.8" cy="482.3" r="0.8"/><circle cx="63.9" cy="483.1" r="0.9"/><circle cx="67.2" cy="482.0" r="0.7"/><circle cx="68.9" cy="482.1" r="1.0"/><circle cx="79.2" cy="482.4" r="0.9"/><circle cx="84.1" cy="482.1" r="1.0"/><circle cx="87.0" cy="481.9" r="0.8"/><circle cx="88.7" cy="483.2" r="0.8"/><circle cx="95.0" cy="482.1" r="0.8"/><circle cx="96.9" cy="481.9" r="1.0"/><circle cx="102.4" cy="481.9" r="0.8"/><circle cx="103.6" cy="482.7" r="0.8"/><circle cx="106.9" cy="482.6" r="1.0"/><circle cx="109.3" cy="482.8" r="0.8"/><circle cx="111.3" cy="482.0" r="0.8"/><circle cx="117.3" cy="482.3" r="0.8"/><circle cx="119.8" cy="482.3" r="0.8"/><circle cx="123.9" cy="482.6" r="0.8"/><circle cx="129.9" cy="483.2" r="0.8"/><circle cx="136.4" cy="482.7" r="0.7"/><circle cx="152.4" cy="483.0" r="0.9"/><circle cx="156.4" cy="482.0" r="1.0"/><circle cx="162.3" cy="482.8" r="1.0"/></g>
</g>
<g clip-path="url(#crt1)">
<rect x="170.0" y="263.8" width="123" height="105" fill="#dabda8"/>
<rect x="170.0" y="263.8" width="123" height="105" filter="url(#frd1)"/>
<g filter="url(#blur4)"><ellipse cx="198" cy="282" rx="26" ry="16" fill="#cfa07e" fill-opacity="0.45"/><ellipse cx="250" cy="300" rx="20" ry="12" fill="#d4a888" fill-opacity="0.25"/><ellipse cx="215" cy="350" rx="25" ry="10" fill="#f0e0d4" fill-opacity="0.35"/></g>
<rect x="170.0" y="263.8" width="123" height="105" filter="url(#frm1)"/>
<g fill="#5a463a" fill-opacity="0.72" filter="url(#blur05)"><circle cx="240.9" cy="261.3" r="0.7"/><circle cx="241.9" cy="262.7" r="0.9"/><circle cx="241.8" cy="263.8" r="0.8"/><circle cx="241.2" cy="264.6" r="0.4"/><circle cx="242.7" cy="266.3" r="0.8"/><circle cx="264.1" cy="301.8" r="0.6"/><circle cx="264.9" cy="302.9" r="0.8"/><circle cx="263.1" cy="304.4" r="0.5"/><circle cx="265.2" cy="303.6" r="0.5"/><circle cx="263.1" cy="305.6" r="0.9"/><circle cx="233.5" cy="263.1" r="0.8"/><circle cx="234.6" cy="263.4" r="0.5"/><circle cx="233.0" cy="262.5" r="0.4"/><circle cx="235.5" cy="264.8" r="0.5"/><circle cx="265.2" cy="309.6" r="0.6"/><circle cx="265.3" cy="310.5" r="0.4"/><circle cx="263.6" cy="310.8" r="0.9"/><circle cx="261.3" cy="310.6" r="0.6"/><circle cx="265.5" cy="279.6" r="0.4"/><circle cx="264.4" cy="281.0" r="0.6"/><circle cx="265.3" cy="280.1" r="0.6"/><circle cx="266.3" cy="281.3" r="0.7"/><circle cx="203.8" cy="288.2" r="0.8"/><circle cx="203.6" cy="289.8" r="0.9"/><circle cx="203.5" cy="290.8" r="0.4"/><circle cx="230.1" cy="364.0" r="0.7"/><circle cx="230.9" cy="361.6" r="0.9"/><circle cx="229.4" cy="364.3" r="0.9"/><circle cx="229.7" cy="365.3" r="0.8"/><circle cx="223.0" cy="268.3" r="0.5"/><circle cx="221.1" cy="270.9" r="0.8"/><circle cx="221.8" cy="270.7" r="0.6"/><circle cx="194.9" cy="284.8" r="0.8"/><circle cx="195.2" cy="287.8" r="0.5"/><circle cx="198.0" cy="286.9" r="0.8"/><circle cx="198.3" cy="286.5" r="0.6"/><circle cx="199.8" cy="287.7" r="0.8"/><circle cx="198.4" cy="290.9" r="0.7"/><circle cx="200.1" cy="291.7" r="0.9"/><circle cx="197.0" cy="303.2" r="0.7"/><circle cx="197.7" cy="304.8" r="0.9"/><circle cx="196.9" cy="303.3" r="0.8"/><circle cx="191.7" cy="317.9" r="0.7"/><circle cx="189.5" cy="317.6" r="0.9"/><circle cx="189.7" cy="316.9" r="0.7"/><circle cx="188.8" cy="316.2" r="0.6"/><circle cx="228.1" cy="273.3" r="0.5"/><circle cx="227.4" cy="274.6" r="0.9"/><circle cx="223.6" cy="274.9" r="0.6"/><circle cx="214.9" cy="321.7" r="0.7"/><circle cx="215.9" cy="322.9" r="0.6"/><circle cx="214.5" cy="323.8" r="0.8"/><circle cx="239.8" cy="282.2" r="0.9"/><circle cx="238.5" cy="282.1" r="0.4"/><circle cx="240.2" cy="282.6" r="0.7"/><circle cx="237.7" cy="284.8" r="0.9"/><circle cx="237.6" cy="286.1" r="0.5"/><circle cx="188.2" cy="335.5" r="0.8"/><circle cx="187.5" cy="336.2" r="0.5"/><circle cx="186.6" cy="336.1" r="0.6"/><circle cx="244.0" cy="280.6" r="0.8"/><circle cx="247.0" cy="283.0" r="0.4"/><circle cx="247.3" cy="281.2" r="0.6"/><circle cx="271.4" cy="310.8" r="0.7"/><circle cx="271.7" cy="310.0" r="0.4"/><circle cx="273.0" cy="311.1" r="0.8"/><circle cx="272.4" cy="311.6" r="0.5"/><circle cx="275.3" cy="311.4" r="0.6"/><circle cx="274.9" cy="313.1" r="0.8"/><circle cx="277.9" cy="313.4" r="0.9"/><circle cx="276.1" cy="312.4" r="0.8"/><circle cx="274.4" cy="312.9" r="0.9"/><circle cx="277.1" cy="313.7" r="0.5"/><circle cx="276.1" cy="314.8" r="0.9"/><circle cx="290.0" cy="338.6" r="0.9"/><circle cx="287.6" cy="338.8" r="0.4"/><circle cx="289.1" cy="340.8" r="0.8"/><circle cx="216.9" cy="289.9" r="0.8"/><circle cx="218.4" cy="291.5" r="0.6"/><circle cx="218.6" cy="291.6" r="0.6"/><circle cx="219.0" cy="295.0" r="0.6"/><circle cx="218.5" cy="294.2" r="0.6"/><circle cx="219.0" cy="296.2" r="0.9"/><circle cx="189.0" cy="343.3" r="0.9"/><circle cx="189.7" cy="346.9" r="0.5"/><circle cx="189.0" cy="345.2" r="0.8"/><circle cx="278.2" cy="278.9" r="0.7"/><circle cx="279.3" cy="281.9" r="0.9"/><circle cx="280.2" cy="282.8" r="0.6"/><circle cx="281.7" cy="282.5" r="0.7"/><circle cx="282.6" cy="281.9" r="0.9"/><circle cx="282.3" cy="282.2" r="0.8"/><circle cx="283.7" cy="284.2" r="0.9"/><circle cx="182.4" cy="294.9" r="0.8"/><circle cx="184.6" cy="295.7" r="0.7"/><circle cx="184.7" cy="295.6" r="0.6"/><circle cx="184.4" cy="295.6" r="0.4"/><circle cx="248.4" cy="302.8" r="0.4"/><circle cx="250.6" cy="303.4" r="0.8"/><circle cx="250.2" cy="304.8" r="0.9"/><circle cx="248.9" cy="305.0" r="0.5"/><circle cx="191.4" cy="336.8" r="0.6"/><circle cx="190.9" cy="338.9" r="0.4"/><circle cx="191.0" cy="338.3" r="0.7"/><circle cx="191.0" cy="339.4" r="0.8"/><circle cx="191.9" cy="338.6" r="0.8"/><circle cx="193.2" cy="343.5" r="0.9"/><circle cx="273.8" cy="296.0" r="0.5"/><circle cx="272.0" cy="297.0" r="0.4"/><circle cx="273.7" cy="296.9" r="0.6"/><circle cx="275.5" cy="297.0" r="0.8"/><circle cx="274.4" cy="298.3" r="0.6"/><circle cx="248.0" cy="354.7" r="0.8"/><circle cx="250.1" cy="354.7" r="0.8"/><circle cx="250.0" cy="354.3" r="0.9"/><circle cx="174.8" cy="361.8" r="0.8"/><circle cx="174.9" cy="363.0" r="0.9"/><circle cx="174.2" cy="362.8" r="0.5"/><circle cx="174.7" cy="363.5" r="0.7"/><circle cx="191.7" cy="280.0" r="0.9"/><circle cx="192.8" cy="280.2" r="0.4"/><circle cx="194.3" cy="281.4" r="0.6"/><circle cx="195.7" cy="281.9" r="0.7"/><circle cx="195.7" cy="283.9" r="0.6"/><circle cx="196.4" cy="282.3" r="0.8"/><circle cx="262.8" cy="284.2" r="0.6"/><circle cx="261.9" cy="285.1" r="0.4"/><circle cx="265.0" cy="284.3" r="0.4"/><circle cx="264.3" cy="286.3" r="0.7"/><circle cx="264.3" cy="287.2" r="0.6"/><circle cx="265.5" cy="288.9" r="0.4"/><circle cx="219.2" cy="368.0" r="0.8"/><circle cx="220.6" cy="369.3" r="0.5"/><circle cx="221.4" cy="368.9" r="0.9"/><circle cx="222.0" cy="371.8" r="0.6"/><circle cx="199.1" cy="275.4" r="0.4"/><circle cx="195.4" cy="273.2" r="0.8"/><circle cx="196.2" cy="276.0" r="0.9"/><circle cx="194.4" cy="276.2" r="0.7"/><circle cx="194.2" cy="275.8" r="0.5"/><circle cx="194.0" cy="276.8" r="0.6"/><circle cx="197.0" cy="362.5" r="0.4"/><circle cx="198.7" cy="361.4" r="0.8"/><circle cx="199.9" cy="362.6" r="0.6"/><circle cx="200.5" cy="361.9" r="0.6"/><circle cx="201.3" cy="362.7" r="0.8"/><circle cx="202.0" cy="363.4" r="0.6"/><circle cx="186.3" cy="262.8" r="0.7"/><circle cx="184.8" cy="263.6" r="0.8"/><circle cx="184.7" cy="265.7" r="0.5"/><circle cx="213.1" cy="280.0" r="0.7"/><circle cx="212.4" cy="280.0" r="0.7"/><circle cx="212.1" cy="280.4" r="0.7"/><circle cx="210.3" cy="283.5" r="0.8"/><circle cx="285.6" cy="351.6" r="0.8"/><circle cx="286.9" cy="350.4" r="0.4"/><circle cx="287.8" cy="352.9" r="0.6"/><circle cx="287.9" cy="354.4" r="0.7"/><circle cx="286.9" cy="355.0" r="0.6"/><circle cx="234.4" cy="320.4" r="0.7"/><circle cx="235.3" cy="320.1" r="0.5"/><circle cx="237.3" cy="319.8" r="0.7"/><circle cx="236.9" cy="320.2" r="0.8"/><circle cx="236.2" cy="320.8" r="0.6"/><circle cx="239.5" cy="318.9" r="0.6"/><circle cx="279.3" cy="278.3" r="0.8"/><circle cx="279.9" cy="280.8" r="0.9"/><circle cx="282.2" cy="282.9" r="0.6"/><circle cx="280.6" cy="283.9" r="0.7"/><circle cx="246.2" cy="349.3" r="0.8"/><circle cx="245.2" cy="354.3" r="0.8"/><circle cx="242.0" cy="354.3" r="0.6"/><circle cx="198.3" cy="344.6" r="0.9"/><circle cx="201.6" cy="342.3" r="0.7"/><circle cx="201.5" cy="344.4" r="0.8"/><circle cx="276.3" cy="331.2" r="0.8"/><circle cx="276.4" cy="331.9" r="0.4"/><circle cx="277.3" cy="333.0" r="0.6"/><circle cx="278.9" cy="333.1" r="0.7"/><circle cx="246.2" cy="315.2" r="0.7"/><circle cx="242.5" cy="316.2" r="0.5"/><circle cx="242.2" cy="318.4" r="0.7"/><circle cx="240.7" cy="316.7" r="0.9"/><circle cx="239.9" cy="317.9" r="0.7"/><circle cx="241.3" cy="318.7" r="0.9"/><circle cx="240.8" cy="319.2" r="0.5"/><circle cx="236.8" cy="311.7" r="0.5"/><circle cx="235.8" cy="314.8" r="0.9"/><circle cx="236.3" cy="313.4" r="0.7"/><circle cx="235.8" cy="315.6" r="0.5"/><circle cx="233.7" cy="316.2" r="0.6"/><circle cx="232.6" cy="316.8" r="0.9"/><circle cx="231.6" cy="315.8" r="0.5"/><circle cx="246.9" cy="326.2" r="0.6"/><circle cx="244.5" cy="328.2" r="0.9"/><circle cx="242.7" cy="326.1" r="0.6"/><circle cx="244.5" cy="329.7" r="0.6"/><circle cx="240.3" cy="327.8" r="0.8"/><circle cx="241.6" cy="330.1" r="0.9"/><circle cx="239.7" cy="330.3" r="0.8"/><circle cx="274.6" cy="367.1" r="0.5"/><circle cx="271.7" cy="368.8" r="0.7"/><circle cx="272.8" cy="368.1" r="0.9"/><circle cx="246.9" cy="351.7" r="0.9"/><circle cx="247.1" cy="355.1" r="0.6"/><circle cx="248.5" cy="352.8" r="0.7"/><circle cx="216.7" cy="366.6" r="0.9"/><circle cx="219.9" cy="366.7" r="0.7"/><circle cx="220.2" cy="366.8" r="0.9"/><circle cx="220.5" cy="366.9" r="0.8"/><circle cx="219.6" cy="368.0" r="0.5"/><circle cx="224.0" cy="367.1" r="0.5"/><circle cx="223.2" cy="366.9" r="0.4"/><circle cx="229.6" cy="286.2" r="0.7"/><circle cx="229.9" cy="286.0" r="0.5"/><circle cx="229.9" cy="285.3" r="0.5"/><circle cx="230.7" cy="286.0" r="0.4"/><circle cx="233.1" cy="287.3" r="0.9"/><circle cx="235.0" cy="288.7" r="0.8"/><circle cx="234.7" cy="288.5" r="0.5"/><circle cx="253.7" cy="337.4" r="0.8"/><circle cx="256.0" cy="340.2" r="0.5"/><circle cx="255.4" cy="338.9" r="0.6"/><circle cx="242.0" cy="354.9" r="0.8"/><circle cx="243.6" cy="354.9" r="0.9"/><circle cx="245.0" cy="355.9" r="0.7"/><circle cx="245.8" cy="356.9" r="0.6"/><circle cx="247.2" cy="356.6" r="0.7"/><circle cx="247.0" cy="356.5" r="0.5"/><circle cx="247.9" cy="359.7" r="0.5"/><circle cx="251.2" cy="269.8" r="0.9"/><circle cx="251.0" cy="273.4" r="0.6"/><circle cx="252.0" cy="273.3" r="0.5"/><circle cx="252.9" cy="274.5" r="0.8"/><circle cx="245.3" cy="299.7" r="0.8"/><circle cx="247.5" cy="300.5" r="0.6"/><circle cx="248.5" cy="301.2" r="0.4"/><circle cx="248.7" cy="302.4" r="0.6"/><circle cx="249.9" cy="303.4" r="0.8"/><circle cx="243.5" cy="333.6" r="0.9"/><circle cx="242.6" cy="333.1" r="0.5"/><circle cx="244.6" cy="334.2" r="0.7"/><circle cx="244.7" cy="333.5" r="0.6"/><circle cx="216.7" cy="333.8" r="0.4"/><circle cx="218.0" cy="332.8" r="0.4"/><circle cx="214.3" cy="333.9" r="0.8"/><circle cx="214.5" cy="333.9" r="0.7"/><circle cx="219.4" cy="359.9" r="0.8"/><circle cx="221.0" cy="362.5" r="0.7"/><circle cx="222.2" cy="363.0" r="0.4"/><circle cx="222.2" cy="362.7" r="0.5"/><circle cx="224.6" cy="362.8" r="0.4"/><circle cx="224.5" cy="361.4" r="0.8"/><circle cx="272.8" cy="326.0" r="0.8"/><circle cx="270.6" cy="324.9" r="0.9"/><circle cx="270.4" cy="327.0" r="0.5"/><circle cx="285.0" cy="268.1" r="0.5"/><circle cx="282.2" cy="268.4" r="0.5"/><circle cx="282.7" cy="267.6" r="0.7"/><circle cx="214.0" cy="337.9" r="0.9"/><circle cx="213.0" cy="340.3" r="0.5"/><circle cx="210.5" cy="339.0" r="0.8"/><circle cx="210.7" cy="340.9" r="0.9"/><circle cx="208.3" cy="341.8" r="0.4"/><circle cx="208.1" cy="342.5" r="0.6"/><circle cx="206.5" cy="341.9" r="0.8"/><circle cx="202.2" cy="302.8" r="0.6"/><circle cx="202.9" cy="303.4" r="0.5"/><circle cx="201.5" cy="303.6" r="0.9"/><circle cx="203.6" cy="307.0" r="0.6"/><circle cx="202.8" cy="307.4" r="0.7"/><circle cx="204.3" cy="307.9" r="0.6"/><circle cx="204.5" cy="308.0" r="0.5"/><circle cx="212.4" cy="313.9" r="0.7"/><circle cx="207.9" cy="311.6" r="0.5"/><circle cx="208.3" cy="313.8" r="0.4"/><circle cx="245.6" cy="316.6" r="0.8"/><circle cx="244.4" cy="317.6" r="0.4"/><circle cx="242.7" cy="319.1" r="0.4"/><circle cx="241.7" cy="317.9" r="0.6"/><circle cx="256.2" cy="306.8" r="0.9"/><circle cx="256.2" cy="305.9" r="0.7"/><circle cx="259.1" cy="304.3" r="0.7"/><circle cx="259.8" cy="306.5" r="0.5"/><circle cx="260.6" cy="306.0" r="0.8"/><circle cx="261.2" cy="306.8" r="0.6"/><circle cx="263.7" cy="305.5" r="0.5"/><circle cx="274.6" cy="346.0" r="0.8"/><circle cx="272.2" cy="346.0" r="0.4"/><circle cx="272.7" cy="346.5" r="0.8"/><circle cx="269.3" cy="334.8" r="0.7"/><circle cx="267.0" cy="333.7" r="0.4"/><circle cx="267.0" cy="335.0" r="0.5"/><circle cx="264.9" cy="336.3" r="0.6"/><circle cx="264.0" cy="336.5" r="0.8"/><circle cx="263.4" cy="336.0" r="0.4"/><circle cx="175.9" cy="364.1" r="0.4"/><circle cx="174.4" cy="366.4" r="0.7"/><circle cx="177.1" cy="366.0" r="0.5"/><circle cx="217.1" cy="278.0" r="0.7"/><circle cx="215.8" cy="276.6" r="0.4"/><circle cx="217.2" cy="279.0" r="0.7"/><circle cx="216.3" cy="279.4" r="0.7"/><circle cx="214.9" cy="280.6" r="0.7"/><circle cx="257.0" cy="330.3" r="0.7"/><circle cx="255.9" cy="331.0" r="0.6"/><circle cx="255.7" cy="332.5" r="0.5"/><circle cx="254.3" cy="332.8" r="0.8"/><circle cx="254.5" cy="336.3" r="0.4"/><circle cx="182.5" cy="292.6" r="0.9"/><circle cx="181.9" cy="290.9" r="0.5"/><circle cx="181.1" cy="292.9" r="0.7"/><circle cx="180.1" cy="292.8" r="0.5"/><circle cx="178.1" cy="295.0" r="0.8"/><circle cx="259.1" cy="340.7" r="0.9"/><circle cx="260.8" cy="342.0" r="0.7"/><circle cx="260.1" cy="344.5" r="0.8"/><circle cx="259.9" cy="344.6" r="0.4"/><circle cx="260.8" cy="345.9" r="0.8"/><circle cx="261.1" cy="346.4" r="0.6"/><circle cx="260.8" cy="346.8" r="0.5"/><circle cx="267.8" cy="296.2" r="0.6"/><circle cx="268.9" cy="298.3" r="0.7"/><circle cx="269.3" cy="298.4" r="0.5"/><circle cx="270.9" cy="298.4" r="0.9"/><circle cx="271.7" cy="299.4" r="0.9"/><circle cx="274.6" cy="301.6" r="0.9"/><circle cx="235.4" cy="349.0" r="0.9"/><circle cx="233.2" cy="347.0" r="0.8"/><circle cx="231.8" cy="347.0" r="0.4"/><circle cx="214.3" cy="324.3" r="0.6"/><circle cx="213.5" cy="322.6" r="0.8"/><circle cx="214.0" cy="324.8" r="0.8"/><circle cx="275.3" cy="278.8" r="0.7"/><circle cx="277.4" cy="277.6" r="0.9"/><circle cx="277.6" cy="280.1" r="0.9"/><circle cx="277.0" cy="279.1" r="0.7"/><circle cx="280.0" cy="278.4" r="0.8"/><circle cx="280.5" cy="281.2" r="0.8"/><circle cx="204.6" cy="363.0" r="0.6"/><circle cx="204.9" cy="365.4" r="0.9"/><circle cx="205.9" cy="365.0" r="0.7"/><circle cx="204.5" cy="367.4" r="0.8"/><circle cx="204.4" cy="368.0" r="0.4"/><circle cx="193.6" cy="298.6" r="0.9"/><circle cx="193.4" cy="299.7" r="0.9"/><circle cx="190.3" cy="300.3" r="0.7"/><circle cx="247.1" cy="321.6" r="0.6"/><circle cx="244.4" cy="322.8" r="0.8"/><circle cx="246.9" cy="323.9" r="0.4"/><circle cx="247.9" cy="324.2" r="0.5"/><circle cx="248.6" cy="325.2" r="0.9"/><circle cx="244.3" cy="328.3" r="0.4"/><circle cx="245.3" cy="329.5" r="0.5"/><circle cx="226.9" cy="333.1" r="0.9"/><circle cx="226.1" cy="333.4" r="0.5"/><circle cx="224.8" cy="335.9" r="0.6"/><circle cx="207.9" cy="323.9" r="0.9"/><circle cx="208.4" cy="325.9" r="0.7"/><circle cx="205.8" cy="327.2" r="0.8"/><circle cx="206.4" cy="329.1" r="0.9"/><circle cx="205.6" cy="327.9" r="0.6"/><circle cx="204.0" cy="328.2" r="0.9"/><circle cx="288.4" cy="274.8" r="0.6"/><circle cx="288.5" cy="274.9" r="0.6"/><circle cx="288.8" cy="273.3" r="0.9"/><circle cx="257.8" cy="357.1" r="0.6"/><circle cx="258.6" cy="358.0" r="0.5"/><circle cx="259.4" cy="360.4" r="0.5"/><circle cx="180.0" cy="318.3" r="0.7"/><circle cx="179.4" cy="320.0" r="0.6"/><circle cx="180.7" cy="322.1" r="0.6"/><circle cx="245.5" cy="314.7" r="0.8"/><circle cx="245.4" cy="315.8" r="0.4"/><circle cx="245.3" cy="315.0" r="0.7"/><circle cx="246.2" cy="317.2" r="0.5"/><circle cx="246.0" cy="316.7" r="0.6"/><circle cx="245.4" cy="318.0" r="0.6"/><circle cx="248.1" cy="319.8" r="0.7"/><circle cx="255.0" cy="317.6" r="0.8"/><circle cx="255.8" cy="318.0" r="0.9"/><circle cx="257.3" cy="319.0" r="0.4"/><circle cx="258.6" cy="320.6" r="0.8"/><circle cx="257.6" cy="319.4" r="0.7"/><circle cx="265.8" cy="341.8" r="0.9"/><circle cx="267.7" cy="342.0" r="0.9"/><circle cx="268.2" cy="343.7" r="0.9"/><circle cx="267.5" cy="343.8" r="0.6"/><circle cx="234.9" cy="332.7" r="0.6"/><circle cx="235.9" cy="332.7" r="0.4"/><circle cx="237.2" cy="333.1" r="0.7"/><circle cx="237.5" cy="332.9" r="0.4"/><circle cx="238.0" cy="333.4" r="0.8"/><circle cx="200.3" cy="283.1" r="0.8"/><circle cx="198.9" cy="286.7" r="0.9"/><circle cx="199.5" cy="288.8" r="0.5"/><circle cx="198.1" cy="285.8" r="0.7"/><circle cx="196.6" cy="287.8" r="0.5"/><circle cx="196.3" cy="315.9" r="0.7"/><circle cx="195.9" cy="315.5" r="0.5"/><circle cx="194.5" cy="317.4" r="0.8"/><circle cx="196.3" cy="318.9" r="0.8"/><circle cx="196.3" cy="319.8" r="0.8"/><circle cx="196.8" cy="321.8" r="0.6"/><circle cx="195.4" cy="322.9" r="0.8"/><circle cx="258.5" cy="365.6" r="0.6"/><circle cx="257.0" cy="366.7" r="0.7"/><circle cx="255.4" cy="366.2" r="0.8"/><circle cx="252.7" cy="367.6" r="0.6"/><circle cx="253.8" cy="366.5" r="0.7"/><circle cx="253.5" cy="365.3" r="0.6"/><circle cx="245.6" cy="291.9" r="0.8"/><circle cx="244.3" cy="293.3" r="0.5"/><circle cx="245.7" cy="296.0" r="0.9"/><circle cx="245.4" cy="296.5" r="0.6"/><circle cx="242.8" cy="296.2" r="0.6"/><circle cx="168.1" cy="350.0" r="0.7"/><circle cx="169.1" cy="351.2" r="0.9"/><circle cx="171.1" cy="353.1" r="0.6"/><circle cx="171.3" cy="352.8" r="0.5"/><circle cx="180.4" cy="361.5" r="0.4"/><circle cx="181.1" cy="363.5" r="0.7"/><circle cx="182.2" cy="364.1" r="0.5"/><circle cx="198.2" cy="299.3" r="0.8"/><circle cx="199.6" cy="299.1" r="0.4"/><circle cx="199.4" cy="300.8" r="0.5"/><circle cx="197.4" cy="302.3" r="0.6"/><circle cx="196.9" cy="301.8" r="0.8"/><circle cx="195.8" cy="302.8" r="0.7"/><circle cx="198.5" cy="303.7" r="0.6"/><circle cx="223.3" cy="325.4" r="0.6"/><circle cx="223.2" cy="327.2" r="0.7"/><circle cx="223.1" cy="328.7" r="0.9"/><circle cx="222.5" cy="330.2" r="0.8"/><circle cx="221.6" cy="330.7" r="0.7"/><circle cx="221.1" cy="331.1" r="0.6"/><circle cx="278.3" cy="348.8" r="0.8"/><circle cx="280.8" cy="352.7" r="0.9"/><circle cx="280.7" cy="354.2" r="0.9"/><circle cx="276.7" cy="342.2" r="0.6"/><circle cx="278.5" cy="342.8" r="0.8"/><circle cx="280.0" cy="345.2" r="0.6"/><circle cx="279.3" cy="345.5" r="0.5"/><circle cx="280.6" cy="345.1" r="0.8"/><circle cx="282.3" cy="346.8" r="0.8"/><circle cx="283.1" cy="345.7" r="0.4"/><circle cx="263.1" cy="322.1" r="0.8"/><circle cx="261.6" cy="322.4" r="0.5"/><circle cx="261.8" cy="323.6" r="0.9"/><circle cx="259.0" cy="322.7" r="0.5"/><circle cx="258.7" cy="323.0" r="0.5"/><circle cx="251.0" cy="346.5" r="0.4"/><circle cx="249.1" cy="346.6" r="0.8"/><circle cx="248.6" cy="347.0" r="0.7"/><circle cx="241.2" cy="267.8" r="0.5"/><circle cx="242.7" cy="271.3" r="0.5"/><circle cx="242.5" cy="271.3" r="0.4"/><circle cx="236.0" cy="327.4" r="0.9"/><circle cx="237.6" cy="326.9" r="0.6"/><circle cx="239.1" cy="326.8" r="0.8"/><circle cx="245.4" cy="333.5" r="0.5"/><circle cx="246.4" cy="333.9" r="0.5"/><circle cx="247.0" cy="335.5" r="0.4"/><circle cx="246.5" cy="335.9" r="0.4"/><circle cx="247.0" cy="337.9" r="0.7"/><circle cx="247.1" cy="338.8" r="0.7"/><circle cx="288.4" cy="264.5" r="0.8"/><circle cx="287.9" cy="267.5" r="0.5"/><circle cx="287.9" cy="267.3" r="0.7"/><circle cx="286.3" cy="268.1" r="0.4"/><circle cx="286.9" cy="270.4" r="0.9"/><circle cx="286.0" cy="269.2" r="0.5"/><circle cx="286.4" cy="271.4" r="0.6"/><circle cx="279.1" cy="305.4" r="0.8"/><circle cx="277.6" cy="306.1" r="0.4"/><circle cx="274.8" cy="304.5" r="0.9"/><circle cx="184.2" cy="273.6" r="0.8"/><circle cx="184.2" cy="274.3" r="0.5"/><circle cx="183.5" cy="276.2" r="0.9"/><circle cx="181.6" cy="277.2" r="0.7"/><circle cx="178.9" cy="277.2" r="0.4"/><circle cx="180.8" cy="276.3" r="0.6"/><circle cx="180.5" cy="278.1" r="0.6"/><circle cx="260.2" cy="278.8" r="0.8"/><circle cx="260.6" cy="279.0" r="0.5"/><circle cx="260.1" cy="279.4" r="0.8"/><circle cx="264.4" cy="281.2" r="0.8"/><circle cx="263.7" cy="280.4" r="0.8"/><circle cx="264.0" cy="280.0" r="0.9"/><circle cx="175.5" cy="279.4" r="0.6"/><circle cx="174.9" cy="280.8" r="0.6"/><circle cx="173.7" cy="281.4" r="0.7"/><circle cx="174.5" cy="282.2" r="0.8"/><circle cx="173.7" cy="285.5" r="0.9"/><circle cx="173.3" cy="286.5" r="0.4"/><circle cx="171.4" cy="286.2" r="0.6"/><circle cx="271.3" cy="341.6" r="0.4"/><circle cx="270.1" cy="343.4" r="0.5"/><circle cx="270.7" cy="344.4" r="0.8"/><circle cx="270.1" cy="346.2" r="0.7"/><circle cx="270.4" cy="347.7" r="0.8"/><circle cx="269.5" cy="347.1" r="0.8"/><circle cx="270.8" cy="349.4" r="0.8"/><circle cx="275.1" cy="312.1" r="0.9"/><circle cx="274.0" cy="315.1" r="0.9"/><circle cx="273.4" cy="314.7" r="0.9"/><circle cx="274.3" cy="317.5" r="0.5"/><circle cx="243.5" cy="307.3" r="0.5"/><circle cx="241.4" cy="307.0" r="0.7"/><circle cx="241.3" cy="307.4" r="0.7"/><circle cx="216.8" cy="322.1" r="0.5"/><circle cx="217.8" cy="323.1" r="0.6"/><circle cx="218.4" cy="323.7" r="0.8"/><circle cx="218.3" cy="323.2" r="0.9"/><circle cx="205.8" cy="303.5" r="0.5"/><circle cx="203.4" cy="305.2" r="0.7"/><circle cx="203.3" cy="304.3" r="0.5"/><circle cx="202.6" cy="305.0" r="0.5"/><circle cx="201.9" cy="305.1" r="0.8"/><circle cx="200.7" cy="306.9" r="0.5"/><circle cx="212.4" cy="285.7" r="0.5"/><circle cx="209.7" cy="287.4" r="0.9"/><circle cx="209.6" cy="285.7" r="0.7"/><circle cx="209.1" cy="287.6" r="0.4"/><circle cx="206.9" cy="287.4" r="0.7"/><circle cx="205.6" cy="287.6" r="0.5"/><circle cx="260.4" cy="312.3" r="0.9"/><circle cx="263.5" cy="314.9" r="0.7"/><circle cx="261.8" cy="316.8" r="0.4"/><circle cx="261.2" cy="319.0" r="0.5"/><circle cx="256.3" cy="292.7" r="0.6"/><circle cx="258.6" cy="292.7" r="0.9"/><circle cx="256.7" cy="294.3" r="0.8"/><circle cx="254.6" cy="294.3" r="0.5"/><circle cx="253.1" cy="295.1" r="0.8"/><circle cx="228.4" cy="288.8" r="0.8"/><circle cx="228.6" cy="289.3" r="0.6"/><circle cx="226.9" cy="291.6" r="0.8"/><circle cx="228.9" cy="291.2" r="0.6"/><circle cx="251.8" cy="309.2" r="0.7"/><circle cx="249.6" cy="310.7" r="0.6"/><circle cx="251.9" cy="310.1" r="0.6"/><circle cx="252.8" cy="310.2" r="0.9"/><circle cx="254.0" cy="311.3" r="0.6"/><circle cx="254.2" cy="312.0" r="0.5"/><circle cx="257.4" cy="311.1" r="0.8"/><circle cx="176.7" cy="334.8" r="0.8"/><circle cx="174.4" cy="337.0" r="0.6"/><circle cx="175.1" cy="338.4" r="0.5"/><circle cx="172.6" cy="336.4" r="0.7"/><circle cx="208.8" cy="349.1" r="0.6"/><circle cx="207.5" cy="350.5" r="0.4"/><circle cx="208.0" cy="351.1" r="0.9"/><circle cx="207.6" cy="350.3" r="0.8"/><circle cx="207.7" cy="353.2" r="0.5"/><circle cx="203.8" cy="353.7" r="0.8"/><circle cx="253.4" cy="294.3" r="0.8"/><circle cx="253.3" cy="296.0" r="0.6"/><circle cx="256.7" cy="296.7" r="0.7"/><circle cx="258.4" cy="299.2" r="0.9"/><circle cx="177.5" cy="307.1" r="0.8"/><circle cx="176.6" cy="309.6" r="0.6"/><circle cx="178.1" cy="309.0" r="0.5"/><circle cx="177.7" cy="309.1" r="0.8"/><circle cx="177.0" cy="311.3" r="0.6"/><circle cx="175.6" cy="311.0" r="0.5"/><circle cx="255.3" cy="329.3" r="0.9"/><circle cx="256.6" cy="328.7" r="0.8"/><circle cx="255.4" cy="330.8" r="0.8"/><circle cx="257.0" cy="329.9" r="0.8"/><circle cx="239.6" cy="323.2" r="0.6"/><circle cx="238.1" cy="320.2" r="0.7"/><circle cx="241.0" cy="321.3" r="0.7"/><circle cx="242.7" cy="321.2" r="0.4"/><circle cx="237.3" cy="366.1" r="0.7"/><circle cx="238.0" cy="367.9" r="0.4"/><circle cx="235.6" cy="366.9" r="0.9"/><circle cx="235.1" cy="368.0" r="0.6"/><circle cx="233.4" cy="369.1" r="0.4"/><circle cx="233.3" cy="368.5" r="0.7"/><circle cx="180.4" cy="324.1" r="0.9"/><circle cx="176.5" cy="323.5" r="0.8"/><circle cx="176.9" cy="322.3" r="0.9"/><circle cx="177.2" cy="322.3" r="0.5"/><circle cx="174.6" cy="325.3" r="0.7"/><circle cx="206.6" cy="331.8" r="0.9"/><circle cx="205.1" cy="331.9" r="0.5"/><circle cx="206.3" cy="333.3" r="0.8"/><circle cx="205.8" cy="333.5" r="0.4"/><circle cx="207.6" cy="335.4" r="0.6"/><circle cx="205.2" cy="336.3" r="0.7"/><circle cx="248.6" cy="307.1" r="0.9"/><circle cx="250.8" cy="306.6" r="0.7"/><circle cx="253.4" cy="307.3" r="0.6"/><circle cx="217.1" cy="349.8" r="0.9"/><circle cx="218.1" cy="352.0" r="0.7"/><circle cx="218.7" cy="348.5" r="0.9"/><circle cx="219.3" cy="350.3" r="0.5"/><circle cx="219.7" cy="350.6" r="0.7"/><circle cx="221.0" cy="350.2" r="0.8"/><circle cx="222.1" cy="350.1" r="0.9"/><circle cx="198.8" cy="265.3" r="0.6"/><circle cx="197.7" cy="267.6" r="0.8"/><circle cx="196.2" cy="268.7" r="0.7"/><circle cx="276.2" cy="361.2" r="0.8"/><circle cx="276.5" cy="360.2" r="0.6"/><circle cx="276.2" cy="362.3" r="0.7"/><circle cx="275.6" cy="363.4" r="0.8"/><circle cx="235.9" cy="317.5" r="0.6"/><circle cx="235.9" cy="315.2" r="0.5"/><circle cx="233.6" cy="316.9" r="0.5"/><circle cx="233.7" cy="318.8" r="0.6"/><circle cx="232.3" cy="316.5" r="0.5"/><circle cx="231.0" cy="315.8" r="0.9"/><circle cx="204.2" cy="281.6" r="0.9"/><circle cx="203.3" cy="278.2" r="0.7"/><circle cx="202.1" cy="281.1" r="0.8"/><circle cx="200.8" cy="281.3" r="0.4"/><circle cx="199.3" cy="282.0" r="0.5"/><circle cx="224.0" cy="341.9" r="0.7"/><circle cx="224.9" cy="340.5" r="0.4"/><circle cx="226.5" cy="340.9" r="0.9"/><circle cx="228.1" cy="343.6" r="0.8"/><circle cx="228.2" cy="342.2" r="0.5"/><circle cx="220.1" cy="285.3" r="0.6"/><circle cx="222.2" cy="284.4" r="0.5"/><circle cx="223.9" cy="287.6" r="0.9"/><circle cx="224.2" cy="288.1" r="0.5"/><circle cx="225.0" cy="286.6" r="0.4"/><circle cx="267.7" cy="338.4" r="0.8"/><circle cx="269.1" cy="341.0" r="0.5"/><circle cx="269.5" cy="339.4" r="0.5"/><circle cx="278.2" cy="282.6" r="0.5"/><circle cx="279.1" cy="284.8" r="0.8"/><circle cx="279.6" cy="285.4" r="0.7"/><circle cx="235.9" cy="358.3" r="0.8"/><circle cx="236.6" cy="358.3" r="0.9"/><circle cx="236.8" cy="359.1" r="0.6"/><circle cx="236.8" cy="360.2" r="0.9"/><circle cx="237.0" cy="361.5" r="0.6"/><circle cx="253.4" cy="295.5" r="0.8"/><circle cx="254.5" cy="296.0" r="0.6"/><circle cx="257.4" cy="296.2" r="0.5"/><circle cx="258.2" cy="295.8" r="0.9"/><circle cx="287.9" cy="306.7" r="0.5"/><circle cx="288.6" cy="306.3" r="0.8"/><circle cx="289.6" cy="307.6" r="0.7"/><circle cx="287.3" cy="307.1" r="0.8"/><circle cx="288.7" cy="309.2" r="0.5"/><circle cx="289.7" cy="310.1" r="0.5"/><circle cx="289.5" cy="310.8" r="0.7"/><circle cx="254.4" cy="361.9" r="0.5"/><circle cx="255.2" cy="364.0" r="0.9"/><circle cx="253.3" cy="363.6" r="0.8"/><circle cx="252.6" cy="364.5" r="0.7"/><circle cx="252.7" cy="366.0" r="0.7"/><circle cx="278.7" cy="347.8" r="0.7"/><circle cx="278.5" cy="348.1" r="0.8"/><circle cx="278.1" cy="350.2" r="0.6"/><circle cx="278.0" cy="349.7" r="0.5"/><circle cx="276.3" cy="352.3" r="0.6"/><circle cx="277.0" cy="351.7" r="0.5"/><circle cx="275.2" cy="352.3" r="0.7"/><circle cx="199.6" cy="297.2" r="0.6"/><circle cx="199.9" cy="296.1" r="0.6"/><circle cx="200.2" cy="297.1" r="0.4"/><circle cx="202.3" cy="299.1" r="0.4"/><circle cx="203.0" cy="301.0" r="0.4"/><circle cx="203.6" cy="301.8" r="0.7"/><circle cx="203.7" cy="302.6" r="0.5"/><circle cx="261.5" cy="278.9" r="0.9"/><circle cx="263.1" cy="280.7" r="0.6"/><circle cx="261.2" cy="280.4" r="0.5"/><circle cx="262.3" cy="281.3" r="0.6"/><circle cx="261.2" cy="281.2" r="0.4"/><circle cx="261.5" cy="283.4" r="0.6"/><circle cx="256.3" cy="337.8" r="0.6"/><circle cx="257.7" cy="338.4" r="0.8"/><circle cx="258.6" cy="338.7" r="0.5"/><circle cx="257.7" cy="340.3" r="0.6"/><circle cx="259.8" cy="340.7" r="0.9"/><circle cx="260.7" cy="340.0" r="0.7"/><circle cx="173.9" cy="286.2" r="0.8"/><circle cx="172.7" cy="283.3" r="0.7"/><circle cx="173.2" cy="284.8" r="0.7"/><circle cx="204.0" cy="291.4" r="0.7"/><circle cx="203.1" cy="294.3" r="0.5"/><circle cx="200.4" cy="292.6" r="0.4"/><circle cx="200.6" cy="290.5" r="0.8"/><circle cx="200.7" cy="294.1" r="0.4"/><circle cx="197.7" cy="293.5" r="0.9"/><circle cx="183.6" cy="282.5" r="0.4"/><circle cx="181.5" cy="282.0" r="0.7"/><circle cx="182.9" cy="282.8" r="0.8"/><circle cx="180.5" cy="284.5" r="0.6"/><circle cx="180.1" cy="284.8" r="0.4"/><circle cx="179.9" cy="285.5" r="0.5"/><circle cx="180.3" cy="286.0" r="0.8"/><circle cx="275.1" cy="302.7" r="0.9"/><circle cx="273.2" cy="305.2" r="0.6"/><circle cx="271.6" cy="303.9" r="0.5"/><circle cx="273.2" cy="305.8" r="0.8"/><circle cx="269.8" cy="306.5" r="0.7"/><circle cx="271.1" cy="306.5" r="0.4"/><circle cx="206.5" cy="294.2" r="0.7"/><circle cx="209.9" cy="294.6" r="0.5"/><circle cx="209.4" cy="296.0" r="0.9"/><circle cx="211.3" cy="297.0" r="0.4"/><circle cx="211.4" cy="297.1" r="0.8"/><circle cx="213.1" cy="298.1" r="0.8"/><circle cx="212.7" cy="297.7" r="0.6"/><circle cx="215.2" cy="342.3" r="0.9"/><circle cx="216.4" cy="344.9" r="0.6"/><circle cx="213.7" cy="346.4" r="0.5"/><circle cx="212.3" cy="347.4" r="0.6"/><circle cx="212.7" cy="346.2" r="0.5"/><circle cx="212.3" cy="348.7" r="0.8"/><circle cx="211.5" cy="348.6" r="0.7"/><circle cx="264.6" cy="314.2" r="0.4"/><circle cx="264.9" cy="313.0" r="0.9"/><circle cx="265.9" cy="315.0" r="0.9"/><circle cx="265.2" cy="314.1" r="0.9"/><circle cx="267.6" cy="313.3" r="0.7"/><circle cx="268.3" cy="314.0" r="0.9"/><circle cx="268.3" cy="313.5" r="0.4"/><circle cx="214.6" cy="273.9" r="0.9"/><circle cx="213.1" cy="275.5" r="0.4"/><circle cx="212.3" cy="277.5" r="0.4"/><circle cx="171.0" cy="265.0" r="0.6"/><circle cx="286.6" cy="326.5" r="0.5"/><circle cx="190.0" cy="351.5" r="0.9"/><circle cx="238.7" cy="338.9" r="0.8"/><circle cx="285.1" cy="302.2" r="0.6"/><circle cx="282.1" cy="274.4" r="0.6"/><circle cx="188.9" cy="325.9" r="0.5"/><circle cx="187.3" cy="343.9" r="0.5"/><circle cx="213.4" cy="364.8" r="0.4"/><circle cx="277.2" cy="354.1" r="0.8"/><circle cx="175.1" cy="269.3" r="0.9"/><circle cx="196.2" cy="355.4" r="0.4"/><circle cx="284.3" cy="315.9" r="0.7"/><circle cx="212.9" cy="280.0" r="0.6"/><circle cx="236.5" cy="304.6" r="0.5"/><circle cx="254.9" cy="357.9" r="0.9"/><circle cx="281.3" cy="346.6" r="0.8"/><circle cx="258.7" cy="332.0" r="0.9"/><circle cx="292.3" cy="326.0" r="0.8"/><circle cx="286.0" cy="308.9" r="0.6"/><circle cx="181.5" cy="275.4" r="0.7"/><circle cx="175.9" cy="331.3" r="0.7"/><circle cx="280.6" cy="333.9" r="0.5"/><circle cx="252.2" cy="331.5" r="0.5"/><circle cx="253.6" cy="352.4" r="0.9"/><circle cx="194.1" cy="282.9" r="0.6"/><circle cx="277.6" cy="317.1" r="0.6"/><circle cx="258.6" cy="278.0" r="0.6"/><circle cx="188.5" cy="275.9" r="0.5"/><circle cx="251.5" cy="326.8" r="0.7"/><circle cx="254.6" cy="337.4" r="0.9"/><circle cx="270.3" cy="352.6" r="0.8"/><circle cx="256.6" cy="330.3" r="0.7"/><circle cx="219.8" cy="321.3" r="0.9"/><circle cx="214.2" cy="299.9" r="0.4"/><circle cx="187.3" cy="268.9" r="0.5"/><circle cx="221.9" cy="318.3" r="0.6"/><circle cx="203.7" cy="274.6" r="0.7"/><circle cx="238.5" cy="265.2" r="0.5"/><circle cx="267.9" cy="306.5" r="0.4"/><circle cx="236.6" cy="271.7" r="0.7"/><circle cx="281.6" cy="290.7" r="0.8"/><circle cx="237.9" cy="288.6" r="0.6"/><circle cx="210.1" cy="293.3" r="0.8"/><circle cx="173.7" cy="306.2" r="0.7"/><circle cx="269.8" cy="341.5" r="0.8"/><circle cx="282.1" cy="267.4" r="0.8"/><circle cx="255.2" cy="311.8" r="0.6"/><circle cx="223.2" cy="322.3" r="0.7"/><circle cx="248.4" cy="359.8" r="0.6"/><circle cx="250.4" cy="314.9" r="0.5"/><circle cx="290.9" cy="272.0" r="0.5"/><circle cx="246.1" cy="265.5" r="0.7"/><circle cx="225.9" cy="354.0" r="0.7"/><circle cx="281.6" cy="282.6" r="0.8"/><circle cx="253.0" cy="329.6" r="0.5"/><circle cx="220.0" cy="304.8" r="0.4"/><circle cx="243.9" cy="300.1" r="0.4"/><circle cx="218.1" cy="353.8" r="0.5"/><circle cx="187.1" cy="366.7" r="0.6"/><circle cx="227.7" cy="294.6" r="0.8"/><circle cx="279.5" cy="297.4" r="0.9"/><circle cx="186.6" cy="345.9" r="0.7"/><circle cx="185.9" cy="348.5" r="0.9"/><circle cx="180.4" cy="343.4" r="0.6"/><circle cx="264.6" cy="320.5" r="0.6"/><circle cx="264.5" cy="296.2" r="0.7"/><circle cx="203.2" cy="362.6" r="0.8"/><circle cx="243.1" cy="330.1" r="0.8"/><circle cx="220.8" cy="332.1" r="0.5"/><circle cx="215.5" cy="280.3" r="0.6"/><circle cx="230.4" cy="335.6" r="0.4"/><circle cx="177.7" cy="302.0" r="0.9"/><circle cx="287.1" cy="285.5" r="0.8"/><circle cx="188.1" cy="279.3" r="0.5"/><circle cx="195.0" cy="279.7" r="0.8"/><circle cx="218.0" cy="267.4" r="0.7"/><circle cx="261.7" cy="318.7" r="0.7"/><circle cx="243.8" cy="356.0" r="0.6"/><circle cx="183.3" cy="364.2" r="0.4"/><circle cx="265.0" cy="264.7" r="0.6"/><circle cx="260.1" cy="287.7" r="0.5"/><circle cx="180.8" cy="339.3" r="0.7"/><circle cx="215.7" cy="307.2" r="0.6"/><circle cx="288.2" cy="329.3" r="0.5"/><circle cx="188.4" cy="279.5" r="0.8"/><circle cx="257.5" cy="264.5" r="0.4"/><circle cx="188.1" cy="356.0" r="0.5"/><circle cx="201.8" cy="341.9" r="0.8"/><circle cx="267.5" cy="292.9" r="0.7"/></g>
</g>
<g clip-path="url(#crt2)">
<rect x="170.0" y="374.0" width="123" height="108.7" fill="#e2cbbc"/>
<rect x="170.0" y="374.0" width="123" height="108.7" filter="url(#frd2)"/>
<g filter="url(#blur4)"><ellipse cx="200" cy="420" rx="18" ry="30" fill="#f2e6dc" fill-opacity="0.5"/><ellipse cx="250" cy="455" rx="20" ry="15" fill="#f0e2d6" fill-opacity="0.4"/><ellipse cx="270" cy="400" rx="14" ry="12" fill="#d0a888" fill-opacity="0.35"/></g>
<rect x="170.0" y="374.0" width="123" height="108.7" filter="url(#frm2)"/>
<g fill="#5a463a" fill-opacity="0.72" filter="url(#blur05)"><circle cx="268.1" cy="403.2" r="0.7"/><circle cx="268.5" cy="406.2" r="0.9"/><circle cx="267.3" cy="403.7" r="0.9"/><circle cx="230.0" cy="456.4" r="0.5"/><circle cx="231.4" cy="457.3" r="0.5"/><circle cx="230.1" cy="457.4" r="0.9"/><circle cx="229.9" cy="456.3" r="0.7"/><circle cx="232.7" cy="443.8" r="0.6"/><circle cx="233.0" cy="444.5" r="0.7"/><circle cx="231.5" cy="443.8" r="0.6"/><circle cx="197.9" cy="406.0" r="0.9"/><circle cx="197.1" cy="406.7" r="0.8"/><circle cx="196.2" cy="409.5" r="0.7"/><circle cx="197.2" cy="411.0" r="0.7"/><circle cx="196.2" cy="410.1" r="0.6"/><circle cx="197.3" cy="413.0" r="0.5"/><circle cx="198.4" cy="414.2" r="0.9"/><circle cx="250.4" cy="456.2" r="0.6"/><circle cx="251.0" cy="457.6" r="0.5"/><circle cx="252.5" cy="456.1" r="0.9"/><circle cx="252.1" cy="456.6" r="0.6"/><circle cx="253.9" cy="456.5" r="0.5"/><circle cx="254.2" cy="456.1" r="0.6"/><circle cx="256.0" cy="455.5" r="0.4"/><circle cx="251.5" cy="378.1" r="0.5"/><circle cx="251.6" cy="377.6" r="0.7"/><circle cx="252.4" cy="380.1" r="0.8"/><circle cx="251.5" cy="380.3" r="0.8"/><circle cx="251.7" cy="381.1" r="0.9"/><circle cx="254.4" cy="382.7" r="0.5"/><circle cx="173.6" cy="463.1" r="0.6"/><circle cx="169.4" cy="461.7" r="0.6"/><circle cx="169.5" cy="464.7" r="0.6"/><circle cx="287.9" cy="394.6" r="0.5"/><circle cx="287.2" cy="395.0" r="0.9"/><circle cx="287.1" cy="395.2" r="0.9"/><circle cx="285.5" cy="397.7" r="0.7"/><circle cx="284.3" cy="397.6" r="0.4"/><circle cx="283.6" cy="399.4" r="0.5"/><circle cx="282.0" cy="400.0" r="0.6"/><circle cx="258.9" cy="446.2" r="0.7"/><circle cx="261.0" cy="449.2" r="0.7"/><circle cx="259.9" cy="449.4" r="0.9"/><circle cx="258.2" cy="449.5" r="0.7"/><circle cx="257.9" cy="451.6" r="0.5"/><circle cx="254.6" cy="452.3" r="0.7"/><circle cx="255.0" cy="452.4" r="0.9"/><circle cx="286.4" cy="397.8" r="0.6"/><circle cx="284.7" cy="395.9" r="0.6"/><circle cx="287.5" cy="397.8" r="0.5"/><circle cx="204.6" cy="474.5" r="0.7"/><circle cx="206.1" cy="473.6" r="0.4"/><circle cx="208.0" cy="475.4" r="0.6"/><circle cx="209.5" cy="476.0" r="0.6"/><circle cx="211.2" cy="476.8" r="0.6"/><circle cx="209.6" cy="476.9" r="0.9"/><circle cx="210.8" cy="477.8" r="0.9"/><circle cx="265.1" cy="442.8" r="0.9"/><circle cx="263.9" cy="444.9" r="0.5"/><circle cx="266.2" cy="443.9" r="0.6"/><circle cx="266.6" cy="445.1" r="0.5"/><circle cx="196.3" cy="465.3" r="0.9"/><circle cx="195.2" cy="464.6" r="0.4"/><circle cx="194.6" cy="466.8" r="0.6"/><circle cx="195.8" cy="466.1" r="0.9"/><circle cx="194.8" cy="468.1" r="0.8"/><circle cx="205.4" cy="482.2" r="0.7"/><circle cx="205.7" cy="481.7" r="0.6"/><circle cx="204.5" cy="480.9" r="0.5"/><circle cx="203.6" cy="482.1" r="0.4"/><circle cx="201.6" cy="483.3" r="0.7"/><circle cx="202.5" cy="484.3" r="0.4"/><circle cx="198.9" cy="483.5" r="0.5"/><circle cx="212.1" cy="439.6" r="0.7"/><circle cx="215.0" cy="440.6" r="0.9"/><circle cx="215.2" cy="440.2" r="0.7"/><circle cx="215.7" cy="442.2" r="0.5"/><circle cx="216.3" cy="441.9" r="0.5"/><circle cx="217.9" cy="441.6" r="0.9"/><circle cx="218.0" cy="443.6" r="0.5"/><circle cx="218.5" cy="417.7" r="0.8"/><circle cx="218.5" cy="418.6" r="0.8"/><circle cx="219.7" cy="419.8" r="0.7"/><circle cx="218.6" cy="420.2" r="0.8"/><circle cx="217.1" cy="420.8" r="0.8"/><circle cx="219.5" cy="422.1" r="0.8"/><circle cx="276.0" cy="390.3" r="0.6"/><circle cx="275.9" cy="392.4" r="0.5"/><circle cx="276.8" cy="393.9" r="0.6"/><circle cx="275.3" cy="394.3" r="0.6"/><circle cx="275.0" cy="394.5" r="0.5"/><circle cx="273.5" cy="395.4" r="0.5"/><circle cx="274.1" cy="397.4" r="0.4"/><circle cx="259.4" cy="477.5" r="0.9"/><circle cx="260.4" cy="475.8" r="0.4"/><circle cx="260.2" cy="475.5" r="0.8"/><circle cx="237.6" cy="381.4" r="0.6"/><circle cx="239.3" cy="382.0" r="0.8"/><circle cx="238.9" cy="383.4" r="0.4"/><circle cx="240.0" cy="383.3" r="0.8"/><circle cx="241.1" cy="383.5" r="0.6"/><circle cx="242.0" cy="385.7" r="0.6"/><circle cx="273.1" cy="434.3" r="0.7"/><circle cx="269.1" cy="435.8" r="0.8"/><circle cx="268.0" cy="437.1" r="0.6"/><circle cx="268.7" cy="437.1" r="0.7"/><circle cx="267.6" cy="435.8" r="0.6"/><circle cx="265.8" cy="435.5" r="0.9"/><circle cx="254.6" cy="394.6" r="0.9"/><circle cx="253.1" cy="395.9" r="0.7"/><circle cx="252.5" cy="394.7" r="0.8"/><circle cx="252.1" cy="397.3" r="0.9"/><circle cx="231.3" cy="446.0" r="0.9"/><circle cx="233.7" cy="444.7" r="0.9"/><circle cx="233.4" cy="447.2" r="0.8"/><circle cx="235.0" cy="448.9" r="0.6"/><circle cx="235.5" cy="447.7" r="0.6"/><circle cx="236.7" cy="449.2" r="0.7"/><circle cx="223.6" cy="457.0" r="0.8"/><circle cx="221.4" cy="459.4" r="0.6"/><circle cx="221.1" cy="459.5" r="0.7"/><circle cx="223.5" cy="461.4" r="0.6"/><circle cx="222.6" cy="461.4" r="0.5"/><circle cx="276.1" cy="469.7" r="0.4"/><circle cx="275.1" cy="471.9" r="0.5"/><circle cx="274.6" cy="471.2" r="0.6"/><circle cx="275.3" cy="472.1" r="0.6"/><circle cx="275.2" cy="473.2" r="0.5"/><circle cx="276.3" cy="397.5" r="0.9"/><circle cx="276.0" cy="398.4" r="0.7"/><circle cx="277.9" cy="400.4" r="0.9"/><circle cx="277.8" cy="399.9" r="0.7"/><circle cx="279.0" cy="402.3" r="0.6"/><circle cx="264.0" cy="377.2" r="0.5"/><circle cx="264.2" cy="377.4" r="0.4"/><circle cx="263.4" cy="378.4" r="0.5"/><circle cx="261.1" cy="377.7" r="0.9"/><circle cx="259.6" cy="379.8" r="0.8"/><circle cx="188.2" cy="412.7" r="0.5"/><circle cx="190.0" cy="411.5" r="0.7"/><circle cx="186.9" cy="412.7" r="0.9"/><circle cx="186.8" cy="411.8" r="0.9"/><circle cx="264.3" cy="401.7" r="0.7"/><circle cx="262.7" cy="401.4" r="0.5"/><circle cx="263.8" cy="401.7" r="0.7"/><circle cx="260.8" cy="400.9" r="0.9"/><circle cx="169.5" cy="441.4" r="0.9"/><circle cx="170.0" cy="442.8" r="0.9"/><circle cx="171.4" cy="444.0" r="0.7"/><circle cx="172.2" cy="441.8" r="0.5"/><circle cx="173.8" cy="444.1" r="0.6"/><circle cx="174.7" cy="443.2" r="0.6"/><circle cx="276.5" cy="411.9" r="0.9"/><circle cx="277.4" cy="411.5" r="0.8"/><circle cx="275.8" cy="412.4" r="0.5"/><circle cx="274.6" cy="414.6" r="0.9"/><circle cx="275.0" cy="415.6" r="0.7"/><circle cx="274.6" cy="416.7" r="0.9"/><circle cx="237.4" cy="475.8" r="0.9"/><circle cx="237.7" cy="474.5" r="0.5"/><circle cx="235.9" cy="476.5" r="0.7"/><circle cx="234.3" cy="476.2" r="0.9"/><circle cx="184.7" cy="454.4" r="0.7"/><circle cx="185.7" cy="453.9" r="0.7"/><circle cx="183.6" cy="453.9" r="0.4"/><circle cx="183.1" cy="454.8" r="0.6"/><circle cx="250.1" cy="387.1" r="0.9"/><circle cx="247.8" cy="386.4" r="0.8"/><circle cx="248.1" cy="388.3" r="0.5"/><circle cx="288.1" cy="459.3" r="0.5"/><circle cx="289.1" cy="460.4" r="0.6"/><circle cx="288.4" cy="459.9" r="0.9"/><circle cx="289.2" cy="461.6" r="0.7"/><circle cx="246.4" cy="390.7" r="0.8"/><circle cx="243.9" cy="394.1" r="0.5"/><circle cx="246.7" cy="393.2" r="0.8"/><circle cx="245.0" cy="395.7" r="0.9"/><circle cx="248.1" cy="394.7" r="0.9"/><circle cx="243.9" cy="396.3" r="0.9"/><circle cx="291.7" cy="438.1" r="0.7"/><circle cx="292.9" cy="436.9" r="0.9"/><circle cx="293.3" cy="437.7" r="0.7"/><circle cx="264.3" cy="385.1" r="0.9"/><circle cx="263.7" cy="386.0" r="0.7"/><circle cx="265.1" cy="387.7" r="0.9"/><circle cx="266.8" cy="387.3" r="0.5"/><circle cx="268.1" cy="387.6" r="0.5"/><circle cx="170.0" cy="396.6" r="0.6"/><circle cx="171.1" cy="398.2" r="0.5"/><circle cx="168.7" cy="400.0" r="0.4"/><circle cx="171.9" cy="402.5" r="0.7"/><circle cx="170.3" cy="402.8" r="0.9"/><circle cx="170.5" cy="402.7" r="0.5"/><circle cx="252.6" cy="429.8" r="0.7"/><circle cx="252.2" cy="431.1" r="0.7"/><circle cx="252.3" cy="433.1" r="0.7"/><circle cx="280.1" cy="378.8" r="0.9"/><circle cx="280.0" cy="379.9" r="0.7"/><circle cx="281.0" cy="379.8" r="0.8"/><circle cx="282.7" cy="380.3" r="0.9"/><circle cx="282.3" cy="382.6" r="0.5"/><circle cx="270.5" cy="413.3" r="0.5"/><circle cx="271.6" cy="414.1" r="0.9"/><circle cx="272.7" cy="414.3" r="0.9"/><circle cx="180.1" cy="409.0" r="0.7"/><circle cx="180.0" cy="409.6" r="0.6"/><circle cx="181.7" cy="411.0" r="0.4"/><circle cx="181.2" cy="411.7" r="0.8"/><circle cx="183.5" cy="411.8" r="0.9"/><circle cx="199.1" cy="427.3" r="0.8"/><circle cx="199.8" cy="428.9" r="0.7"/><circle cx="202.2" cy="429.1" r="0.6"/><circle cx="203.4" cy="428.8" r="0.8"/><circle cx="202.9" cy="430.3" r="0.4"/><circle cx="204.5" cy="429.1" r="0.9"/><circle cx="221.6" cy="472.4" r="0.9"/><circle cx="221.5" cy="474.7" r="0.7"/><circle cx="221.9" cy="473.9" r="0.8"/><circle cx="219.9" cy="474.6" r="0.8"/><circle cx="219.0" cy="477.6" r="0.6"/><circle cx="232.0" cy="425.6" r="0.8"/><circle cx="232.2" cy="426.8" r="0.5"/><circle cx="230.9" cy="428.2" r="0.8"/><circle cx="230.0" cy="428.3" r="0.4"/><circle cx="229.3" cy="429.3" r="0.9"/><circle cx="279.7" cy="437.8" r="0.6"/><circle cx="281.7" cy="436.3" r="0.9"/><circle cx="280.6" cy="439.2" r="0.5"/><circle cx="278.3" cy="439.1" r="0.8"/><circle cx="279.0" cy="440.9" r="0.6"/><circle cx="198.2" cy="470.9" r="0.8"/><circle cx="198.8" cy="471.4" r="0.8"/><circle cx="199.4" cy="470.6" r="0.7"/><circle cx="196.0" cy="471.9" r="0.5"/><circle cx="180.2" cy="403.8" r="0.5"/><circle cx="180.4" cy="403.8" r="0.4"/><circle cx="177.0" cy="406.6" r="0.6"/><circle cx="177.2" cy="405.6" r="0.6"/><circle cx="177.9" cy="404.6" r="0.6"/><circle cx="220.9" cy="391.9" r="0.5"/><circle cx="221.7" cy="395.5" r="0.8"/><circle cx="223.1" cy="393.2" r="0.6"/><circle cx="233.6" cy="431.6" r="0.8"/><circle cx="232.3" cy="433.0" r="0.8"/><circle cx="232.5" cy="433.6" r="0.7"/><circle cx="231.8" cy="435.0" r="0.7"/><circle cx="232.6" cy="435.9" r="0.7"/><circle cx="232.3" cy="435.8" r="0.5"/><circle cx="232.0" cy="436.8" r="0.8"/><circle cx="245.6" cy="478.1" r="0.9"/><circle cx="248.0" cy="476.8" r="0.7"/><circle cx="245.4" cy="479.3" r="0.4"/><circle cx="212.6" cy="457.9" r="0.9"/><circle cx="213.3" cy="458.8" r="0.6"/><circle cx="215.4" cy="459.2" r="0.8"/><circle cx="214.7" cy="458.2" r="0.9"/><circle cx="214.8" cy="460.6" r="0.4"/><circle cx="217.8" cy="460.1" r="0.9"/><circle cx="216.3" cy="461.1" r="0.7"/><circle cx="285.5" cy="479.7" r="0.6"/><circle cx="287.2" cy="481.1" r="0.8"/><circle cx="285.1" cy="483.1" r="0.6"/><circle cx="262.7" cy="401.9" r="0.8"/><circle cx="262.9" cy="403.4" r="0.8"/><circle cx="261.0" cy="404.1" r="0.5"/><circle cx="261.5" cy="403.8" r="0.9"/><circle cx="203.5" cy="441.5" r="0.7"/><circle cx="201.9" cy="444.0" r="0.7"/><circle cx="201.1" cy="443.6" r="0.8"/><circle cx="199.9" cy="444.9" r="0.9"/><circle cx="202.2" cy="433.1" r="0.9"/><circle cx="202.9" cy="435.7" r="0.5"/><circle cx="203.7" cy="433.9" r="0.6"/><circle cx="204.4" cy="436.5" r="0.8"/><circle cx="203.0" cy="437.9" r="0.5"/><circle cx="206.8" cy="474.3" r="0.7"/><circle cx="205.3" cy="474.7" r="0.8"/><circle cx="204.4" cy="475.2" r="0.8"/><circle cx="204.5" cy="476.0" r="0.9"/><circle cx="202.9" cy="476.1" r="0.9"/><circle cx="201.2" cy="476.9" r="0.5"/><circle cx="263.0" cy="440.7" r="0.9"/><circle cx="264.3" cy="442.3" r="0.7"/><circle cx="264.3" cy="442.2" r="0.9"/><circle cx="265.6" cy="443.0" r="0.7"/><circle cx="233.7" cy="406.3" r="0.9"/><circle cx="233.4" cy="405.6" r="0.6"/><circle cx="232.7" cy="404.7" r="0.8"/><circle cx="230.2" cy="406.9" r="0.9"/><circle cx="232.2" cy="405.5" r="0.9"/><circle cx="228.0" cy="407.1" r="0.8"/><circle cx="228.6" cy="407.3" r="0.4"/><circle cx="261.8" cy="471.4" r="0.7"/><circle cx="261.6" cy="472.6" r="0.5"/><circle cx="260.0" cy="472.8" r="0.5"/><circle cx="261.2" cy="473.4" r="0.9"/><circle cx="260.0" cy="474.1" r="0.4"/><circle cx="260.8" cy="477.6" r="0.7"/><circle cx="226.4" cy="423.4" r="0.4"/><circle cx="224.0" cy="422.8" r="0.7"/><circle cx="223.4" cy="422.6" r="0.8"/><circle cx="219.4" cy="440.0" r="0.4"/><circle cx="220.0" cy="441.8" r="0.5"/><circle cx="220.5" cy="442.7" r="0.7"/><circle cx="221.8" cy="442.1" r="0.6"/><circle cx="258.9" cy="393.2" r="0.6"/><circle cx="258.8" cy="395.5" r="0.4"/><circle cx="260.4" cy="396.0" r="0.8"/><circle cx="257.1" cy="396.0" r="0.9"/><circle cx="257.6" cy="397.4" r="0.5"/><circle cx="256.8" cy="398.5" r="0.7"/><circle cx="273.9" cy="455.1" r="0.7"/><circle cx="273.3" cy="457.4" r="0.4"/><circle cx="273.8" cy="459.2" r="0.6"/><circle cx="274.6" cy="458.7" r="0.5"/><circle cx="273.6" cy="459.6" r="0.5"/><circle cx="209.3" cy="464.1" r="0.5"/><circle cx="208.6" cy="466.2" r="0.7"/><circle cx="209.4" cy="468.7" r="0.5"/><circle cx="207.4" cy="469.0" r="0.6"/><circle cx="208.7" cy="468.8" r="0.7"/><circle cx="208.3" cy="471.4" r="0.9"/><circle cx="189.0" cy="403.5" r="0.4"/><circle cx="188.5" cy="404.8" r="0.6"/><circle cx="189.5" cy="405.5" r="0.6"/><circle cx="280.9" cy="476.7" r="0.6"/><circle cx="281.0" cy="478.0" r="0.7"/><circle cx="281.4" cy="478.9" r="0.5"/><circle cx="280.5" cy="479.0" r="0.4"/><circle cx="280.4" cy="481.1" r="0.4"/><circle cx="281.0" cy="409.8" r="0.6"/><circle cx="281.2" cy="410.1" r="0.9"/><circle cx="280.5" cy="412.2" r="0.9"/><circle cx="278.1" cy="413.1" r="0.5"/><circle cx="279.5" cy="414.4" r="0.8"/><circle cx="279.7" cy="416.4" r="0.8"/><circle cx="281.0" cy="374.9" r="0.6"/><circle cx="283.5" cy="375.5" r="0.6"/><circle cx="283.5" cy="373.7" r="0.7"/><circle cx="284.1" cy="377.9" r="0.8"/><circle cx="284.2" cy="377.6" r="0.5"/><circle cx="256.1" cy="415.4" r="0.8"/><circle cx="255.8" cy="416.9" r="0.4"/><circle cx="256.8" cy="418.4" r="0.9"/><circle cx="254.1" cy="419.2" r="0.7"/><circle cx="253.7" cy="418.8" r="0.7"/><circle cx="253.1" cy="420.7" r="0.6"/><circle cx="252.0" cy="423.1" r="0.5"/><circle cx="201.4" cy="407.4" r="0.4"/><circle cx="199.3" cy="406.5" r="0.6"/><circle cx="197.3" cy="409.4" r="0.5"/><circle cx="199.2" cy="408.7" r="0.8"/><circle cx="199.1" cy="410.2" r="0.9"/><circle cx="262.5" cy="422.2" r="0.7"/><circle cx="261.0" cy="421.2" r="0.8"/><circle cx="262.7" cy="420.7" r="0.7"/><circle cx="241.5" cy="421.5" r="0.7"/><circle cx="239.3" cy="423.5" r="0.6"/><circle cx="239.8" cy="424.5" r="0.9"/><circle cx="239.7" cy="426.5" r="0.7"/><circle cx="240.4" cy="426.4" r="0.9"/><circle cx="238.0" cy="425.8" r="0.9"/><circle cx="245.9" cy="457.0" r="0.4"/><circle cx="242.1" cy="454.8" r="0.6"/><circle cx="243.6" cy="456.9" r="0.7"/><circle cx="243.5" cy="456.5" r="0.4"/><circle cx="241.3" cy="459.7" r="0.7"/><circle cx="242.9" cy="458.5" r="0.9"/><circle cx="241.3" cy="459.9" r="0.5"/><circle cx="278.2" cy="423.2" r="0.4"/><circle cx="275.4" cy="424.4" r="0.4"/><circle cx="273.2" cy="424.0" r="0.6"/><circle cx="272.6" cy="423.6" r="0.6"/><circle cx="271.0" cy="424.5" r="0.6"/><circle cx="271.6" cy="423.3" r="0.9"/><circle cx="247.7" cy="459.7" r="0.4"/><circle cx="252.4" cy="461.2" r="0.9"/><circle cx="251.6" cy="458.9" r="0.4"/><circle cx="244.8" cy="437.6" r="0.4"/><circle cx="249.1" cy="436.0" r="0.7"/><circle cx="247.8" cy="438.4" r="0.4"/><circle cx="250.8" cy="437.4" r="0.8"/><circle cx="249.4" cy="437.9" r="0.7"/><circle cx="251.2" cy="438.1" r="0.6"/><circle cx="252.2" cy="437.9" r="0.6"/><circle cx="185.1" cy="477.2" r="0.8"/><circle cx="186.7" cy="477.3" r="0.4"/><circle cx="185.2" cy="478.8" r="0.6"/><circle cx="246.9" cy="413.1" r="0.5"/><circle cx="243.6" cy="415.4" r="0.9"/><circle cx="244.9" cy="414.9" r="0.5"/><circle cx="245.0" cy="415.2" r="0.9"/><circle cx="242.0" cy="415.5" r="0.8"/><circle cx="242.5" cy="416.6" r="0.6"/><circle cx="242.4" cy="419.0" r="0.6"/><circle cx="260.0" cy="466.0" r="0.5"/><circle cx="261.5" cy="467.2" r="0.8"/><circle cx="261.4" cy="469.0" r="0.9"/><circle cx="260.5" cy="469.1" r="0.6"/><circle cx="264.1" cy="469.9" r="0.8"/><circle cx="263.5" cy="470.7" r="0.6"/><circle cx="261.8" cy="472.0" r="0.7"/><circle cx="241.9" cy="452.0" r="0.7"/><circle cx="242.9" cy="455.1" r="0.5"/><circle cx="242.3" cy="455.4" r="0.6"/><circle cx="241.9" cy="456.8" r="0.7"/><circle cx="287.2" cy="433.9" r="0.4"/><circle cx="288.0" cy="434.5" r="0.5"/><circle cx="288.0" cy="437.3" r="0.5"/><circle cx="289.2" cy="436.2" r="0.7"/><circle cx="196.1" cy="408.1" r="0.7"/><circle cx="197.0" cy="410.1" r="0.7"/><circle cx="197.6" cy="409.6" r="0.5"/><circle cx="199.7" cy="411.1" r="0.8"/><circle cx="200.4" cy="412.1" r="0.5"/><circle cx="196.6" cy="479.9" r="0.7"/><circle cx="195.6" cy="480.2" r="0.4"/><circle cx="198.4" cy="481.1" r="0.8"/><circle cx="199.7" cy="479.4" r="0.9"/><circle cx="251.6" cy="378.7" r="0.7"/><circle cx="251.1" cy="379.5" r="0.6"/><circle cx="250.2" cy="380.2" r="0.6"/><circle cx="248.4" cy="380.8" r="0.6"/><circle cx="246.2" cy="380.2" r="0.4"/><circle cx="207.7" cy="410.5" r="0.7"/><circle cx="206.7" cy="410.9" r="0.5"/><circle cx="207.7" cy="410.6" r="0.6"/><circle cx="209.6" cy="412.7" r="0.9"/><circle cx="211.1" cy="413.1" r="0.5"/><circle cx="210.3" cy="412.5" r="0.8"/><circle cx="214.7" cy="413.2" r="0.7"/><circle cx="209.0" cy="415.0" r="0.5"/><circle cx="208.8" cy="416.1" r="0.8"/><circle cx="210.0" cy="417.1" r="0.7"/><circle cx="210.3" cy="416.8" r="0.7"/><circle cx="210.2" cy="419.9" r="0.5"/><circle cx="284.5" cy="371.8" r="0.7"/><circle cx="283.9" cy="371.2" r="0.8"/><circle cx="284.7" cy="373.7" r="0.9"/><circle cx="283.2" cy="373.3" r="0.6"/><circle cx="283.4" cy="374.3" r="0.6"/><circle cx="280.7" cy="375.1" r="0.5"/><circle cx="280.6" cy="376.7" r="0.9"/><circle cx="208.7" cy="411.4" r="0.6"/><circle cx="208.3" cy="413.1" r="0.6"/><circle cx="205.9" cy="416.7" r="0.9"/><circle cx="208.1" cy="480.7" r="0.6"/><circle cx="205.4" cy="482.3" r="0.8"/><circle cx="205.0" cy="482.8" r="0.7"/><circle cx="171.7" cy="464.5" r="0.6"/><circle cx="170.6" cy="464.8" r="0.9"/><circle cx="169.5" cy="464.7" r="0.9"/><circle cx="227.9" cy="377.1" r="0.7"/><circle cx="228.2" cy="378.6" r="0.6"/><circle cx="229.1" cy="379.9" r="0.6"/><circle cx="213.2" cy="380.9" r="0.6"/><circle cx="212.5" cy="382.2" r="0.4"/><circle cx="209.2" cy="382.3" r="0.6"/><circle cx="204.3" cy="461.0" r="0.5"/><circle cx="202.5" cy="461.3" r="0.6"/><circle cx="202.4" cy="462.5" r="0.6"/><circle cx="203.0" cy="463.2" r="0.4"/><circle cx="201.9" cy="463.8" r="0.9"/><circle cx="199.1" cy="465.1" r="0.7"/><circle cx="198.6" cy="465.0" r="0.7"/><circle cx="240.9" cy="449.4" r="0.4"/><circle cx="240.0" cy="449.5" r="0.8"/><circle cx="239.3" cy="450.1" r="0.7"/><circle cx="238.0" cy="450.7" r="0.6"/><circle cx="208.1" cy="454.1" r="0.6"/><circle cx="205.4" cy="454.8" r="0.5"/><circle cx="205.5" cy="454.9" r="0.5"/><circle cx="205.4" cy="455.3" r="0.9"/><circle cx="171.5" cy="421.5" r="0.6"/><circle cx="172.8" cy="423.9" r="0.7"/><circle cx="175.1" cy="423.0" r="0.6"/><circle cx="203.7" cy="381.8" r="0.5"/><circle cx="203.6" cy="380.0" r="0.8"/><circle cx="207.2" cy="380.6" r="0.9"/><circle cx="205.8" cy="382.5" r="0.8"/><circle cx="208.5" cy="383.7" r="0.6"/><circle cx="208.5" cy="381.4" r="0.7"/><circle cx="209.4" cy="383.3" r="0.5"/><circle cx="230.0" cy="470.3" r="0.8"/><circle cx="233.1" cy="469.2" r="0.5"/><circle cx="233.6" cy="471.4" r="0.4"/><circle cx="236.0" cy="471.6" r="0.9"/><circle cx="283.6" cy="413.9" r="0.8"/><circle cx="283.6" cy="414.7" r="0.5"/><circle cx="284.0" cy="414.5" r="0.5"/><circle cx="283.3" cy="417.8" r="0.8"/><circle cx="283.8" cy="417.0" r="0.4"/><circle cx="283.6" cy="417.8" r="0.8"/><circle cx="251.5" cy="440.3" r="0.9"/><circle cx="251.6" cy="439.1" r="0.6"/><circle cx="252.7" cy="441.6" r="0.9"/><circle cx="248.8" cy="442.6" r="0.4"/><circle cx="249.0" cy="443.6" r="0.8"/><circle cx="249.2" cy="443.9" r="0.5"/><circle cx="248.3" cy="445.1" r="0.8"/><circle cx="275.5" cy="373.1" r="0.6"/><circle cx="274.4" cy="374.5" r="0.6"/><circle cx="276.5" cy="375.5" r="0.9"/><circle cx="273.9" cy="376.2" r="0.9"/><circle cx="274.2" cy="376.1" r="0.5"/><circle cx="275.0" cy="377.3" r="0.8"/><circle cx="273.4" cy="376.8" r="0.7"/><circle cx="211.3" cy="390.2" r="0.9"/><circle cx="208.8" cy="390.8" r="0.8"/><circle cx="211.3" cy="392.5" r="0.8"/><circle cx="208.2" cy="394.0" r="0.7"/><circle cx="206.4" cy="395.0" r="0.9"/><circle cx="208.3" cy="396.9" r="0.5"/><circle cx="208.8" cy="396.0" r="0.8"/><circle cx="180.7" cy="438.3" r="0.6"/><circle cx="179.6" cy="438.9" r="0.4"/><circle cx="180.1" cy="440.9" r="0.8"/><circle cx="179.4" cy="440.5" r="0.8"/><circle cx="182.3" cy="442.0" r="0.4"/><circle cx="229.7" cy="370.1" r="0.6"/><circle cx="228.3" cy="371.4" r="0.9"/><circle cx="229.5" cy="373.8" r="0.6"/><circle cx="227.1" cy="375.3" r="0.5"/><circle cx="229.9" cy="375.7" r="0.4"/><circle cx="228.2" cy="377.3" r="0.4"/><circle cx="228.7" cy="376.7" r="0.6"/><circle cx="215.5" cy="454.2" r="0.5"/><circle cx="215.5" cy="454.5" r="0.4"/><circle cx="214.0" cy="455.6" r="0.6"/><circle cx="212.6" cy="455.4" r="0.8"/><circle cx="181.2" cy="455.5" r="0.5"/><circle cx="183.2" cy="457.0" r="0.9"/><circle cx="184.2" cy="456.8" r="0.8"/><circle cx="169.0" cy="465.7" r="0.9"/><circle cx="171.2" cy="466.9" r="0.5"/><circle cx="172.3" cy="466.4" r="0.7"/><circle cx="272.0" cy="470.5" r="0.8"/><circle cx="270.5" cy="470.0" r="0.5"/><circle cx="268.1" cy="468.3" r="0.9"/><circle cx="279.0" cy="461.4" r="0.8"/><circle cx="279.3" cy="459.0" r="0.6"/><circle cx="279.6" cy="462.8" r="0.4"/><circle cx="278.6" cy="463.6" r="0.9"/><circle cx="275.7" cy="463.8" r="0.7"/><circle cx="276.4" cy="463.6" r="0.6"/><circle cx="275.8" cy="464.1" r="0.9"/><circle cx="183.3" cy="372.5" r="0.8"/><circle cx="182.9" cy="372.2" r="0.9"/><circle cx="184.0" cy="373.2" r="0.4"/><circle cx="183.1" cy="377.3" r="0.5"/><circle cx="183.1" cy="375.7" r="0.6"/><circle cx="182.1" cy="377.2" r="0.5"/><circle cx="183.2" cy="378.6" r="0.4"/><circle cx="186.3" cy="382.2" r="0.7"/><circle cx="187.5" cy="382.1" r="0.7"/><circle cx="187.3" cy="382.4" r="0.8"/><circle cx="189.9" cy="383.7" r="0.6"/><circle cx="189.7" cy="381.7" r="0.9"/><circle cx="169.4" cy="443.9" r="0.5"/><circle cx="170.8" cy="445.1" r="0.5"/><circle cx="172.5" cy="446.9" r="0.9"/><circle cx="266.4" cy="406.0" r="0.5"/><circle cx="266.9" cy="406.8" r="0.9"/><circle cx="267.2" cy="406.2" r="0.4"/><circle cx="266.6" cy="406.4" r="0.5"/><circle cx="269.5" cy="404.8" r="0.7"/><circle cx="270.2" cy="407.2" r="0.9"/><circle cx="226.1" cy="441.0" r="0.8"/><circle cx="225.0" cy="442.5" r="0.9"/><circle cx="225.3" cy="443.9" r="0.9"/><circle cx="227.6" cy="444.5" r="0.7"/><circle cx="226.7" cy="446.8" r="0.4"/><circle cx="226.9" cy="447.4" r="0.4"/><circle cx="266.2" cy="437.7" r="0.8"/><circle cx="267.3" cy="439.1" r="0.7"/><circle cx="267.2" cy="441.2" r="0.5"/><circle cx="198.3" cy="407.3" r="0.8"/><circle cx="200.8" cy="406.9" r="0.5"/><circle cx="201.5" cy="410.3" r="0.8"/><circle cx="198.5" cy="410.6" r="0.8"/><circle cx="201.5" cy="410.2" r="0.4"/><circle cx="200.4" cy="411.6" r="0.6"/><circle cx="201.1" cy="413.8" r="0.6"/><circle cx="195.4" cy="433.2" r="0.5"/><circle cx="194.4" cy="433.9" r="0.6"/><circle cx="194.6" cy="434.9" r="0.5"/><circle cx="194.9" cy="435.9" r="0.5"/><circle cx="194.1" cy="436.1" r="0.6"/><circle cx="192.1" cy="437.8" r="0.5"/><circle cx="193.5" cy="438.7" r="0.7"/><circle cx="266.8" cy="393.3" r="0.6"/><circle cx="265.4" cy="392.3" r="0.6"/><circle cx="265.4" cy="394.8" r="0.6"/><circle cx="264.7" cy="394.7" r="0.8"/><circle cx="265.4" cy="395.2" r="0.8"/><circle cx="262.3" cy="397.3" r="0.7"/><circle cx="260.8" cy="397.5" r="0.7"/><circle cx="280.5" cy="442.4" r="0.4"/><circle cx="280.5" cy="444.3" r="0.8"/><circle cx="278.6" cy="444.1" r="0.8"/><circle cx="276.0" cy="443.4" r="0.9"/><circle cx="290.3" cy="455.6" r="0.7"/><circle cx="290.3" cy="455.7" r="0.6"/><circle cx="291.4" cy="458.4" r="0.8"/><circle cx="291.2" cy="460.4" r="0.7"/><circle cx="291.2" cy="460.5" r="0.6"/><circle cx="287.5" cy="385.1" r="0.8"/><circle cx="286.2" cy="386.0" r="0.4"/><circle cx="288.6" cy="384.9" r="0.7"/><circle cx="288.2" cy="388.2" r="0.5"/><circle cx="288.3" cy="390.4" r="0.8"/><circle cx="252.1" cy="398.0" r="0.8"/><circle cx="251.2" cy="396.7" r="0.7"/><circle cx="249.3" cy="399.1" r="0.7"/><circle cx="272.2" cy="379.1" r="0.5"/><circle cx="271.8" cy="379.3" r="0.6"/><circle cx="268.5" cy="379.7" r="0.9"/><circle cx="268.6" cy="381.2" r="0.9"/><circle cx="193.8" cy="425.0" r="0.8"/><circle cx="192.3" cy="424.4" r="0.8"/><circle cx="190.2" cy="425.0" r="0.4"/><circle cx="189.2" cy="425.9" r="0.6"/><circle cx="187.6" cy="426.3" r="0.5"/><circle cx="223.8" cy="438.7" r="0.8"/><circle cx="224.7" cy="439.7" r="0.5"/><circle cx="227.2" cy="437.4" r="0.7"/><circle cx="228.7" cy="438.9" r="0.9"/><circle cx="227.9" cy="438.3" r="0.5"/><circle cx="230.3" cy="439.7" r="0.5"/><circle cx="183.7" cy="462.9" r="0.9"/><circle cx="184.1" cy="462.8" r="0.6"/><circle cx="184.0" cy="463.2" r="0.6"/><circle cx="185.4" cy="463.3" r="0.4"/><circle cx="187.1" cy="463.5" r="0.9"/><circle cx="208.2" cy="390.8" r="0.5"/><circle cx="209.8" cy="388.8" r="0.7"/><circle cx="208.5" cy="390.4" r="0.6"/><circle cx="208.7" cy="392.5" r="0.9"/><circle cx="206.6" cy="393.9" r="0.7"/><circle cx="205.8" cy="392.7" r="0.5"/><circle cx="269.6" cy="382.6" r="0.8"/><circle cx="269.7" cy="382.5" r="0.9"/><circle cx="267.5" cy="383.3" r="0.8"/><circle cx="266.2" cy="384.3" r="0.5"/><circle cx="264.7" cy="382.9" r="0.8"/><circle cx="286.5" cy="393.7" r="0.5"/><circle cx="287.8" cy="393.7" r="0.5"/><circle cx="288.0" cy="392.1" r="0.6"/><circle cx="289.3" cy="393.5" r="0.4"/><circle cx="169.4" cy="461.2" r="0.4"/><circle cx="171.1" cy="459.6" r="0.9"/><circle cx="173.2" cy="460.7" r="0.8"/><circle cx="174.9" cy="459.9" r="0.6"/><circle cx="174.8" cy="463.2" r="0.7"/><circle cx="229.8" cy="403.5" r="0.4"/><circle cx="228.2" cy="404.1" r="0.4"/><circle cx="230.6" cy="404.5" r="0.9"/><circle cx="230.0" cy="405.1" r="0.7"/><circle cx="230.0" cy="407.7" r="0.7"/><circle cx="269.0" cy="459.8" r="0.9"/><circle cx="268.1" cy="460.1" r="0.6"/><circle cx="269.1" cy="459.9" r="0.5"/><circle cx="270.5" cy="462.5" r="0.5"/><circle cx="267.5" cy="462.7" r="0.5"/><circle cx="270.9" cy="463.2" r="0.7"/><circle cx="177.5" cy="454.4" r="0.8"/><circle cx="176.3" cy="456.6" r="0.5"/><circle cx="176.4" cy="456.9" r="0.6"/><circle cx="187.6" cy="445.8" r="0.6"/><circle cx="187.5" cy="446.4" r="0.4"/><circle cx="187.1" cy="445.8" r="0.9"/><circle cx="263.5" cy="402.0" r="0.9"/><circle cx="264.5" cy="403.8" r="0.5"/><circle cx="266.5" cy="404.2" r="0.8"/><circle cx="263.6" cy="405.8" r="0.7"/><circle cx="265.4" cy="406.0" r="0.8"/><circle cx="264.3" cy="407.0" r="0.6"/><circle cx="264.3" cy="407.8" r="0.8"/><circle cx="277.3" cy="391.2" r="0.8"/><circle cx="279.5" cy="390.8" r="0.6"/><circle cx="278.2" cy="393.2" r="0.9"/><circle cx="277.7" cy="393.4" r="0.4"/><circle cx="200.1" cy="477.0" r="0.5"/><circle cx="196.8" cy="478.9" r="0.8"/><circle cx="197.3" cy="477.7" r="0.4"/><circle cx="196.1" cy="478.0" r="0.8"/><circle cx="195.7" cy="479.7" r="0.6"/><circle cx="192.0" cy="479.8" r="0.9"/><circle cx="213.1" cy="473.6" r="0.8"/><circle cx="212.9" cy="476.1" r="0.7"/><circle cx="214.1" cy="477.8" r="0.7"/><circle cx="212.9" cy="476.6" r="0.8"/><circle cx="277.8" cy="425.3" r="0.5"/><circle cx="279.9" cy="426.1" r="0.8"/><circle cx="280.7" cy="426.6" r="0.8"/><circle cx="280.9" cy="426.5" r="0.5"/><circle cx="280.8" cy="428.9" r="0.5"/><circle cx="269.1" cy="412.1" r="0.8"/><circle cx="271.4" cy="411.7" r="0.7"/><circle cx="272.0" cy="414.5" r="0.7"/><circle cx="291.7" cy="435.2" r="0.9"/><circle cx="291.6" cy="436.5" r="0.7"/><circle cx="288.9" cy="435.9" r="0.5"/><circle cx="286.6" cy="435.5" r="0.4"/><circle cx="286.3" cy="436.0" r="0.8"/><circle cx="285.7" cy="436.1" r="0.7"/><circle cx="272.1" cy="424.8" r="0.5"/><circle cx="274.5" cy="423.7" r="0.8"/><circle cx="273.2" cy="424.7" r="0.9"/><circle cx="275.3" cy="426.3" r="0.8"/><circle cx="291.6" cy="439.0" r="0.4"/><circle cx="293.2" cy="439.6" r="0.4"/><circle cx="292.1" cy="439.6" r="0.9"/><circle cx="290.3" cy="385.2" r="0.5"/><circle cx="289.9" cy="385.9" r="0.7"/><circle cx="287.6" cy="385.9" r="0.5"/><circle cx="287.2" cy="385.4" r="0.9"/><circle cx="286.4" cy="386.8" r="0.7"/><circle cx="284.0" cy="388.8" r="0.6"/><circle cx="283.2" cy="388.1" r="0.5"/><circle cx="266.9" cy="433.2" r="0.7"/><circle cx="269.0" cy="433.0" r="0.4"/><circle cx="270.5" cy="433.2" r="0.5"/><circle cx="270.2" cy="434.0" r="0.6"/><circle cx="270.6" cy="433.3" r="0.8"/><circle cx="270.8" cy="434.0" r="0.6"/><circle cx="273.1" cy="433.6" r="0.9"/><circle cx="242.5" cy="435.5" r="0.9"/><circle cx="242.3" cy="436.7" r="0.6"/><circle cx="242.4" cy="437.8" r="0.6"/><circle cx="233.0" cy="477.3" r="0.5"/><circle cx="230.9" cy="479.5" r="0.5"/><circle cx="230.2" cy="477.9" r="0.6"/><circle cx="178.9" cy="477.8" r="0.6"/><circle cx="176.2" cy="475.5" r="0.7"/><circle cx="176.5" cy="478.7" r="0.6"/><circle cx="173.5" cy="478.7" r="0.9"/><circle cx="174.1" cy="477.3" r="0.5"/><circle cx="175.7" cy="430.0" r="0.8"/><circle cx="176.5" cy="431.0" r="0.9"/><circle cx="174.5" cy="433.6" r="0.5"/><circle cx="175.7" cy="434.6" r="0.4"/><circle cx="172.5" cy="433.2" r="0.7"/><circle cx="173.8" cy="436.6" r="0.9"/><circle cx="171.4" cy="436.8" r="0.8"/><circle cx="225.4" cy="440.4" r="0.6"/><circle cx="225.9" cy="379.7" r="0.9"/><circle cx="204.3" cy="397.1" r="0.8"/><circle cx="223.0" cy="402.9" r="0.7"/><circle cx="243.5" cy="482.5" r="0.9"/><circle cx="201.8" cy="400.8" r="0.9"/><circle cx="237.2" cy="403.4" r="0.4"/><circle cx="174.8" cy="442.3" r="0.5"/><circle cx="212.4" cy="461.2" r="0.8"/><circle cx="215.9" cy="459.5" r="0.5"/><circle cx="223.1" cy="449.8" r="0.7"/><circle cx="263.1" cy="464.6" r="0.8"/><circle cx="285.7" cy="398.0" r="0.9"/><circle cx="259.2" cy="425.0" r="0.5"/><circle cx="212.1" cy="427.9" r="0.5"/><circle cx="217.9" cy="426.6" r="0.5"/><circle cx="178.9" cy="466.7" r="0.4"/><circle cx="238.0" cy="411.1" r="0.7"/><circle cx="276.1" cy="411.9" r="0.7"/><circle cx="215.2" cy="389.4" r="0.6"/><circle cx="211.9" cy="416.2" r="0.4"/><circle cx="241.4" cy="459.3" r="0.8"/><circle cx="277.7" cy="410.3" r="0.6"/><circle cx="236.1" cy="418.3" r="0.7"/><circle cx="255.8" cy="396.3" r="0.5"/><circle cx="281.9" cy="382.0" r="0.9"/><circle cx="200.2" cy="443.2" r="0.6"/><circle cx="193.3" cy="437.9" r="0.6"/><circle cx="260.1" cy="432.3" r="0.7"/><circle cx="253.6" cy="482.5" r="0.6"/><circle cx="258.6" cy="422.0" r="0.9"/><circle cx="260.6" cy="461.1" r="0.6"/><circle cx="173.1" cy="403.6" r="0.6"/><circle cx="272.3" cy="459.6" r="0.5"/><circle cx="224.8" cy="481.9" r="0.8"/><circle cx="260.2" cy="382.6" r="0.8"/><circle cx="230.0" cy="407.6" r="0.9"/><circle cx="194.2" cy="434.9" r="0.4"/><circle cx="259.6" cy="463.8" r="0.9"/><circle cx="199.3" cy="473.0" r="0.6"/><circle cx="192.9" cy="382.6" r="0.6"/><circle cx="228.8" cy="427.2" r="0.6"/><circle cx="170.8" cy="409.3" r="0.9"/><circle cx="272.5" cy="421.5" r="0.5"/><circle cx="188.4" cy="456.6" r="0.8"/><circle cx="207.8" cy="403.8" r="0.6"/><circle cx="214.5" cy="399.4" r="0.4"/><circle cx="183.4" cy="453.8" r="0.7"/><circle cx="227.8" cy="419.5" r="0.8"/><circle cx="254.4" cy="392.7" r="0.7"/><circle cx="186.8" cy="451.6" r="0.7"/><circle cx="242.0" cy="461.1" r="0.8"/><circle cx="270.5" cy="391.3" r="0.6"/><circle cx="266.6" cy="375.6" r="0.7"/><circle cx="185.1" cy="467.6" r="0.5"/><circle cx="255.6" cy="405.5" r="0.5"/><circle cx="232.9" cy="474.3" r="0.6"/><circle cx="225.8" cy="460.4" r="0.4"/><circle cx="272.1" cy="446.5" r="0.5"/><circle cx="286.9" cy="444.6" r="0.6"/><circle cx="170.9" cy="408.3" r="0.7"/><circle cx="273.1" cy="436.7" r="0.8"/><circle cx="219.4" cy="463.0" r="0.6"/><circle cx="224.1" cy="417.6" r="0.9"/><circle cx="270.8" cy="476.8" r="0.8"/><circle cx="219.1" cy="414.5" r="0.6"/><circle cx="223.3" cy="417.6" r="0.5"/><circle cx="289.6" cy="379.1" r="0.6"/><circle cx="171.0" cy="447.0" r="0.9"/><circle cx="274.5" cy="389.2" r="0.6"/><circle cx="210.5" cy="408.9" r="0.5"/><circle cx="230.4" cy="380.7" r="0.7"/><circle cx="236.1" cy="427.8" r="0.5"/><circle cx="238.7" cy="427.0" r="0.5"/><circle cx="214.4" cy="454.5" r="0.5"/><circle cx="170.6" cy="382.4" r="0.7"/><circle cx="214.5" cy="378.4" r="0.8"/><circle cx="190.9" cy="463.9" r="0.6"/><circle cx="253.6" cy="444.2" r="0.6"/><circle cx="254.3" cy="377.8" r="0.6"/><circle cx="228.9" cy="407.2" r="0.8"/><circle cx="223.1" cy="437.5" r="0.5"/><circle cx="268.4" cy="383.5" r="0.5"/><circle cx="193.9" cy="433.1" r="0.5"/><circle cx="239.7" cy="471.6" r="0.5"/><circle cx="172.4" cy="382.6" r="0.9"/><circle cx="268.5" cy="429.3" r="0.7"/><circle cx="219.3" cy="401.3" r="0.7"/><circle cx="212.2" cy="428.1" r="0.6"/><circle cx="255.7" cy="412.6" r="0.7"/></g>
</g>
<g clip-path="url(#csp1)">
<rect x="299.6" y="262.5" width="122.3" height="106.6" fill="#b06698"/>
<g filter="url(#blur25)"><ellipse cx="320" cy="297.5" rx="14.6" ry="19" fill="#82529c" fill-opacity="0.55"/><ellipse cx="357" cy="285.5" rx="15.5" ry="20.6" fill="#82529c" fill-opacity="0.6"/><ellipse cx="400" cy="313" rx="13.7" ry="10.3" fill="#82529c" fill-opacity="0.6"/><ellipse cx="385" cy="280" rx="18" ry="14" fill="#82529c" fill-opacity="0.35"/><ellipse cx="407" cy="282" rx="14" ry="14" fill="#82529c" fill-opacity="0.45"/><ellipse cx="342.5" cy="338.6" rx="9.5" ry="16.6" fill="#82529c" fill-opacity="0.9"/><ellipse cx="372.6" cy="345" rx="15.5" ry="20" fill="#82529c" fill-opacity="0.9"/><ellipse cx="410" cy="356" rx="10" ry="12" fill="#82529c" fill-opacity="0.6"/><ellipse cx="310" cy="346" rx="10" ry="19" fill="#82529c" fill-opacity="0.35"/></g>
<rect x="299.6" y="262.5" width="122.3" height="106.6" filter="url(#fsp)" opacity="0.7"/>
<rect x="299.6" y="262.5" width="122.3" height="106.6" filter="url(#fspd)" opacity="0.7"/>
<rect x="420.40000000000003" y="262.5" width="1.5" height="106.6" fill="#7a4a7a" opacity="0.4"/>
</g>
<g clip-path="url(#csp2)">
<rect x="299.6" y="374.0" width="122.3" height="108.7" fill="#b06698"/>
<g filter="url(#blur25)"><ellipse cx="322.7" cy="409" rx="19" ry="27" fill="#82529c" fill-opacity="0.85"/><ellipse cx="353.6" cy="388" rx="5" ry="5" fill="#82529c" fill-opacity="0.7"/><ellipse cx="357" cy="413" rx="12" ry="17" fill="#82529c" fill-opacity="0.85"/><ellipse cx="383" cy="425" rx="14" ry="26" fill="#82529c" fill-opacity="0.9"/><ellipse cx="381" cy="390" rx="12" ry="9" fill="#82529c" fill-opacity="0.6"/><ellipse cx="320" cy="463" rx="21" ry="19" fill="#82529c" fill-opacity="0.85"/><ellipse cx="360" cy="470" rx="12" ry="12" fill="#82529c" fill-opacity="0.8"/><ellipse cx="407" cy="450" rx="14" ry="13" fill="#82529c" fill-opacity="0.65"/><ellipse cx="335" cy="434" rx="24" ry="10" fill="#82529c" fill-opacity="0.6"/><ellipse cx="410" cy="405" rx="10" ry="20" fill="#82529c" fill-opacity="0.35"/></g>
<rect x="299.6" y="374.0" width="122.3" height="108.7" filter="url(#fsp)" opacity="0.7"/>
<rect x="299.6" y="374.0" width="122.3" height="108.7" filter="url(#fspd)" opacity="0.7"/>
<rect x="299.6" y="374.0" width="122.3" height="4" fill="#c880b0" opacity="0.6"/>
<g filter="url(#blur1)"><ellipse cx="369" cy="471.5" rx="5" ry="1.6" fill="#f4f4f8" fill-opacity="0.95" transform="rotate(30 369 471.5)"/></g>
</g>
<text x="8.6" y="511.4" font-size="14" font-weight="bold" >C</text>
<rect x="70.4" y="530.4" width="6.4" height="6.2" fill="#2c4a7d"/>
<rect x="70.4" y="541.4" width="6.4" height="6.2" fill="#dc8f1f"/>
<text x="80.6" y="537.0" font-size="9.6" textLength="55.5" lengthAdjust="spacingAndGlyphs" >CALR<tspan dy="-3.6" font-size="6.2">+/+</tspan><tspan dy="3.6">, n=3</tspan></text>
<text x="80.6" y="547.8" font-size="9.6" textLength="60.0" lengthAdjust="spacingAndGlyphs" >CALR<tspan dy="-3.6" font-size="6.2">del/+</tspan><tspan dy="3.6">, n=3</tspan></text>
<rect x="70.7" y="608.2" width="9.60" height="14.70" fill="#2c4a7d" stroke="#1f2a44" stroke-width="0.5"/>
<line x1="75.5" y1="604.6" x2="75.5" y2="608.2" stroke="#231f20" stroke-width="1.2"/>
<line x1="73.3" y1="604.6" x2="77.7" y2="604.6" stroke="#231f20" stroke-width="1.4"/>
<rect x="80.3" y="601.4" width="10.60" height="21.50" fill="#dc8f1f" stroke="#1f2a44" stroke-width="0.5"/>
<line x1="85.6" y1="597.3" x2="85.6" y2="601.4" stroke="#231f20" stroke-width="1.2"/>
<line x1="83.4" y1="597.3" x2="87.8" y2="597.3" stroke="#231f20" stroke-width="1.4"/>
<rect x="105.0" y="593.7" width="10.00" height="29.20" fill="#2c4a7d" stroke="#1f2a44" stroke-width="0.5"/>
<line x1="110.0" y1="591.3" x2="110.0" y2="593.7" stroke="#231f20" stroke-width="1.2"/>
<line x1="107.8" y1="591.3" x2="112.2" y2="591.3" stroke="#231f20" stroke-width="1.4"/>
<rect x="115.0" y="572.1" width="10.30" height="50.80" fill="#dc8f1f" stroke="#1f2a44" stroke-width="0.5"/>
<line x1="120.15" y1="570.0" x2="120.15" y2="572.1" stroke="#231f20" stroke-width="1.2"/>
<line x1="117.95" y1="570.0" x2="122.35" y2="570.0" stroke="#231f20" stroke-width="1.4"/>
<line x1="63.3" y1="548.1" x2="63.3" y2="626.3" stroke="#231f20" stroke-width="1.4"/>
<line x1="59.699999999999996" y1="622.9" x2="136.0" y2="622.9" stroke="#231f20" stroke-width="1.4"/>
<line x1="59.699999999999996" y1="551.9" x2="63.3" y2="551.9" stroke="#231f20" stroke-width="1.4"/>
<line x1="59.699999999999996" y1="575.6" x2="63.3" y2="575.6" stroke="#231f20" stroke-width="1.4"/>
<line x1="59.699999999999996" y1="599.2" x2="63.3" y2="599.2" stroke="#231f20" stroke-width="1.4"/>
<line x1="59.699999999999996" y1="622.9" x2="63.3" y2="622.9" stroke="#231f20" stroke-width="1.4"/>
<line x1="63.3" y1="622.9" x2="63.3" y2="626.3" stroke="#231f20" stroke-width="1.4"/>
<line x1="97.85" y1="622.9" x2="97.85" y2="626.3" stroke="#231f20" stroke-width="1.4"/>
<line x1="132.4" y1="622.9" x2="132.4" y2="626.3" stroke="#231f20" stroke-width="1.4"/>
<text x="56.2" y="554.5" font-size="9.5" text-anchor="end" >150</text>
<text x="56.2" y="578.2" font-size="9.5" text-anchor="end" >100</text>
<text x="56.2" y="601.8" font-size="9.5" text-anchor="end" >50</text>
<text x="56.2" y="625.5" font-size="9.5" text-anchor="end" >0</text>
<text x="62.5" y="638.3" font-size="9.6" textLength="36.6" lengthAdjust="spacingAndGlyphs" >THPO (-)</text>
<text x="104.7" y="638.6" font-size="9.6" textLength="39.8" lengthAdjust="spacingAndGlyphs" >THPO (+)</text>
<text transform="translate(19.8,585.6) rotate(-90)" font-size="11.2" class="h" text-anchor="middle" textLength="68.7" lengthAdjust="spacingAndGlyphs" >CFU-MK number</text>
<text transform="translate(32.6,585.0) rotate(-90)" font-size="11.2" class="h" text-anchor="middle" textLength="87.4" lengthAdjust="spacingAndGlyphs" >(per 3x10<tspan dy="-3.4" font-size="7.2">5</tspan><tspan dy="3.4"> BMMNCs)</tspan></text>
<path d="M75.30,595.70 L75.30,594.75 C75.30,592.91 76.81,591.40 78.65,591.40 L78.27,591.40 C79.61,591.40 80.70,590.31 80.70,588.97 L80.70,587.70 M80.70,587.70 L80.70,588.97 C80.70,590.31 81.79,591.40 83.13,591.40 L82.75,591.40 C84.59,591.40 86.10,592.91 86.10,594.75 L86.10,595.70" fill="none" stroke="#231f20" stroke-width="1.4" stroke-linecap="round" stroke-linejoin="round"/>
<polygon points="80.40,580.00 81.08,581.37 82.59,581.59 81.49,582.66 81.75,584.16 80.40,583.45 79.05,584.16 79.31,582.66 78.21,581.59 79.72,581.37" fill="#231f20" stroke="#231f20" stroke-width="0.35" stroke-linejoin="round"/>
<path d="M110.30,567.10 L110.30,566.79 C110.30,564.98 111.78,563.50 113.59,563.50 L113.21,563.50 C114.53,563.50 115.60,562.43 115.60,561.12 L115.60,560.10 M115.60,560.10 L115.60,561.12 C115.60,562.43 116.67,563.50 117.98,563.50 L117.61,563.50 C119.42,563.50 120.90,564.98 120.90,566.79 L120.90,567.10" fill="none" stroke="#231f20" stroke-width="1.4" stroke-linecap="round" stroke-linejoin="round"/>
<polygon points="112.90,554.30 113.58,555.67 115.09,555.89 113.99,556.96 114.25,558.46 112.90,557.75 111.55,558.46 111.81,556.96 110.71,555.89 112.22,555.67" fill="#231f20" stroke="#231f20" stroke-width="0.35" stroke-linejoin="round"/>
<polygon points="118.20,554.30 118.88,555.67 120.39,555.89 119.29,556.96 119.55,558.46 118.20,557.75 116.85,558.46 117.11,556.96 116.01,555.89 117.52,555.67" fill="#231f20" stroke="#231f20" stroke-width="0.35" stroke-linejoin="round"/>
<text x="162.2" y="511.4" font-size="14" font-weight="bold" >D</text>
<rect x="228.7" y="516.0" width="6.2" height="6.0" fill="#2c4a7d"/>
<rect x="228.7" y="527.2" width="6.2" height="6.0" fill="#dc8f1f"/>
<text x="238.5" y="522.6" font-size="9.6" textLength="55.5" lengthAdjust="spacingAndGlyphs" >CALR<tspan dy="-3.6" font-size="6.2">+/+</tspan><tspan dy="3.6">, n=3</tspan></text>
<text x="238.5" y="533.6" font-size="9.6" textLength="60.0" lengthAdjust="spacingAndGlyphs" >CALR<tspan dy="-3.6" font-size="6.2">del/+</tspan><tspan dy="3.6">, n=3</tspan></text>
<rect x="228.8" y="585.3" width="9.90" height="37.50" fill="#2c4a7d" stroke="#1f2a44" stroke-width="0.5"/>
<line x1="233.75" y1="579.4" x2="233.75" y2="585.3" stroke="#231f20" stroke-width="1.2"/>
<line x1="231.55" y1="579.4" x2="235.95" y2="579.4" stroke="#231f20" stroke-width="1.4"/>
<rect x="238.7" y="558.7" width="10.00" height="64.10" fill="#dc8f1f" stroke="#1f2a44" stroke-width="0.5"/>
<line x1="243.7" y1="556.4" x2="243.7" y2="558.7" stroke="#231f20" stroke-width="1.2"/>
<line x1="241.5" y1="556.4" x2="245.9" y2="556.4" stroke="#231f20" stroke-width="1.4"/>
<rect x="263.1" y="599.2" width="9.90" height="23.60" fill="#2c4a7d" stroke="#1f2a44" stroke-width="0.5"/>
<line x1="268.05" y1="594.5" x2="268.05" y2="599.2" stroke="#231f20" stroke-width="1.2"/>
<line x1="265.85" y1="594.5" x2="270.25" y2="594.5" stroke="#231f20" stroke-width="1.4"/>
<rect x="273.0" y="567.7" width="10.30" height="55.10" fill="#dc8f1f" stroke="#1f2a44" stroke-width="0.5"/>
<line x1="278.15" y1="566.4" x2="278.15" y2="567.7" stroke="#231f20" stroke-width="1.2"/>
<line x1="275.95" y1="566.4" x2="280.35" y2="566.4" stroke="#231f20" stroke-width="1.4"/>
<line x1="222.0" y1="547.7" x2="222.0" y2="626.1999999999999" stroke="#231f20" stroke-width="1.4"/>
<line x1="218.4" y1="622.8" x2="294.0" y2="622.8" stroke="#231f20" stroke-width="1.4"/>
<line x1="218.4" y1="551.3" x2="222.0" y2="551.3" stroke="#231f20" stroke-width="1.4"/>
<line x1="218.4" y1="563.2166666666666" x2="222.0" y2="563.2166666666666" stroke="#231f20" stroke-width="1.4"/>
<line x1="218.4" y1="575.1333333333333" x2="222.0" y2="575.1333333333333" stroke="#231f20" stroke-width="1.4"/>
<line x1="218.4" y1="587.05" x2="222.0" y2="587.05" stroke="#231f20" stroke-width="1.4"/>
<line x1="218.4" y1="598.9666666666666" x2="222.0" y2="598.9666666666666" stroke="#231f20" stroke-width="1.4"/>
<line x1="218.4" y1="610.8833333333333" x2="222.0" y2="610.8833333333333" stroke="#231f20" stroke-width="1.4"/>
<line x1="218.4" y1="622.8" x2="222.0" y2="622.8" stroke="#231f20" stroke-width="1.4"/>
<line x1="222.0" y1="622.8" x2="222.0" y2="626.1999999999999" stroke="#231f20" stroke-width="1.4"/>
<line x1="256.5" y1="622.8" x2="256.5" y2="626.1999999999999" stroke="#231f20" stroke-width="1.4"/>
<line x1="291.0" y1="622.8" x2="291.0" y2="626.1999999999999" stroke="#231f20" stroke-width="1.4"/>
<text x="214.3" y="553.9" font-size="9.5" text-anchor="end" >1200</text>
<text x="214.3" y="565.82" font-size="9.5" text-anchor="end" >1000</text>
<text x="214.3" y="577.73" font-size="9.5" text-anchor="end" >800</text>
<text x="214.3" y="589.65" font-size="9.5" text-anchor="end" >600</text>
<text x="214.3" y="601.57" font-size="9.5" text-anchor="end" >400</text>
<text x="214.3" y="613.48" font-size="9.5" text-anchor="end" >200</text>
<text x="214.3" y="625.4" font-size="9.5" text-anchor="end" >0</text>
<text transform="translate(171.2,585.0) rotate(-90)" font-size="11.2" class="h" text-anchor="middle" textLength="46.0" lengthAdjust="spacingAndGlyphs" >Freq. of MK</text>
<text transform="translate(188.0,585.0) rotate(-90)" font-size="11.2" class="h" text-anchor="middle" textLength="80.6" lengthAdjust="spacingAndGlyphs" >per 1x10<tspan dy="-3.4" font-size="7.2">5</tspan><tspan dy="3.4"> BMMNCs</tspan></text>
<path d="M233.50,553.30 L233.50,552.59 C233.50,550.78 234.98,549.30 236.79,549.30 L236.42,549.30 C237.73,549.30 238.80,548.23 238.80,546.91 L238.80,545.80 M238.80,545.80 L238.80,546.91 C238.80,548.23 239.87,549.30 241.19,549.30 L240.81,549.30 C242.62,549.30 244.10,550.78 244.10,552.59 L244.10,553.30" fill="none" stroke="#231f20" stroke-width="1.4" stroke-linecap="round" stroke-linejoin="round"/>
<polygon points="238.60,539.50 239.28,540.87 240.79,541.09 239.69,542.16 239.95,543.66 238.60,542.95 237.25,543.66 237.51,542.16 236.41,541.09 237.92,540.87" fill="#231f20" stroke="#231f20" stroke-width="0.35" stroke-linejoin="round"/>
<path d="M268.20,564.20 L268.20,563.52 C268.20,561.75 269.65,560.30 271.42,560.30 L271.06,560.30 C272.35,560.30 273.40,559.25 273.40,557.96 L273.40,556.50 M273.40,556.50 L273.40,557.96 C273.40,559.25 274.45,560.30 275.74,560.30 L275.38,560.30 C277.15,560.30 278.60,561.75 278.60,563.52 L278.60,564.20" fill="none" stroke="#231f20" stroke-width="1.4" stroke-linecap="round" stroke-linejoin="round"/>
<polygon points="273.30,548.60 273.98,549.97 275.49,550.19 274.39,551.26 274.65,552.76 273.30,552.05 271.95,552.76 272.21,551.26 271.11,550.19 272.62,549.97" fill="#231f20" stroke="#231f20" stroke-width="0.35" stroke-linejoin="round"/>
<text transform="translate(246.3,635.2) rotate(-45)" font-size="9.6" text-anchor="end" >CD41<tspan dy="-3.5" font-size="6.8">+</tspan><tspan dy="3.5"></tspan></text>
<text transform="translate(257.1,642.7) rotate(-45)" font-size="9.6" text-anchor="end" >CD42<tspan dy="-3.5" font-size="6.8">+</tspan><tspan dy="3.5"></tspan></text>
<text transform="translate(281.8,634.8) rotate(-45)" font-size="9.6" text-anchor="end" >CD41<tspan dy="-3.5" font-size="6.8">+</tspan><tspan dy="3.5"></tspan></text>
<text transform="translate(290.7,642.7) rotate(-45)" font-size="9.6" text-anchor="end" >CD61<tspan dy="-3.5" font-size="6.8">+</tspan><tspan dy="3.5"></tspan></text>
<text x="319.8" y="511.4" font-size="14" font-weight="bold" >E</text>
<rect x="380.9" y="573.9" width="9.70" height="49.00" fill="#2c4a7d" stroke="#1f2a44" stroke-width="0.5"/>
<line x1="385.75" y1="566.7" x2="385.75" y2="573.9" stroke="#231f20" stroke-width="1.2"/>
<line x1="383.55" y1="566.7" x2="387.95" y2="566.7" stroke="#231f20" stroke-width="1.4"/>
<rect x="404.9" y="602.3" width="9.50" height="20.60" fill="#dc8f1f" stroke="#1f2a44" stroke-width="0.5"/>
<line x1="409.65" y1="597.1" x2="409.65" y2="602.3" stroke="#231f20" stroke-width="1.2"/>
<line x1="407.45" y1="597.1" x2="411.85" y2="597.1" stroke="#231f20" stroke-width="1.4"/>
<line x1="373.3" y1="546.4" x2="373.3" y2="626.3" stroke="#231f20" stroke-width="1.4"/>
<line x1="369.7" y1="622.9" x2="424.8" y2="622.9" stroke="#231f20" stroke-width="1.4"/>
<line x1="369.7" y1="549.5" x2="373.3" y2="549.5" stroke="#231f20" stroke-width="1.4"/>
<line x1="369.7" y1="564.18" x2="373.3" y2="564.18" stroke="#231f20" stroke-width="1.4"/>
<line x1="369.7" y1="578.86" x2="373.3" y2="578.86" stroke="#231f20" stroke-width="1.4"/>
<line x1="369.7" y1="593.54" x2="373.3" y2="593.54" stroke="#231f20" stroke-width="1.4"/>
<line x1="369.7" y1="608.22" x2="373.3" y2="608.22" stroke="#231f20" stroke-width="1.4"/>
<line x1="369.7" y1="622.9" x2="373.3" y2="622.9" stroke="#231f20" stroke-width="1.4"/>
<line x1="373.3" y1="622.9" x2="373.3" y2="626.3" stroke="#231f20" stroke-width="1.4"/>
<line x1="397.2" y1="622.9" x2="397.2" y2="626.3" stroke="#231f20" stroke-width="1.4"/>
<line x1="421.2" y1="622.9" x2="421.2" y2="626.3" stroke="#231f20" stroke-width="1.4"/>
<text x="365.4" y="552.1" font-size="9.5" text-anchor="end" >25</text>
<text x="365.4" y="566.78" font-size="9.5" text-anchor="end" >20</text>
<text x="365.4" y="581.46" font-size="9.5" text-anchor="end" >15</text>
<text x="365.4" y="596.14" font-size="9.5" text-anchor="end" >10</text>
<text x="365.4" y="610.82" font-size="9.5" text-anchor="end" >5</text>
<text x="365.4" y="625.5" font-size="9.5" text-anchor="end" >0</text>
<text transform="translate(335.8,584.0) rotate(-90)" font-size="11.2" class="h" text-anchor="middle" textLength="96.0" lengthAdjust="spacingAndGlyphs" >Freq. of CD71<tspan dy="-3.4" font-size="7">+</tspan><tspan dy="3.4">Ter119<tspan dy="-3.4" font-size="7">+</tspan><tspan dy="3.4"></tspan></tspan></text>
<text transform="translate(349.0,584.4) rotate(-90)" font-size="11.2" class="h" text-anchor="middle" textLength="83.2" lengthAdjust="spacingAndGlyphs" >cells in BMMNCs (%)</text>
<path d="M384.30,558.60 L384.30,558.60 C384.30,555.68 386.69,553.30 389.60,553.30 L393.25,553.30 C395.56,553.30 397.45,551.41 397.45,549.10 L397.45,549.10 M397.45,549.10 L397.45,549.10 C397.45,551.41 399.34,553.30 401.65,553.30 L405.30,553.30 C408.21,553.30 410.60,555.68 410.60,558.60 L410.60,558.60" fill="none" stroke="#231f20" stroke-width="1.4" stroke-linecap="round" stroke-linejoin="round"/>
<polygon points="397.30,541.50 397.98,542.87 399.49,543.09 398.39,544.16 398.65,545.66 397.30,544.95 395.95,545.66 396.21,544.16 395.11,543.09 396.62,542.87" fill="#231f20" stroke="#231f20" stroke-width="0.35" stroke-linejoin="round"/>
<text transform="translate(384.5,634.7) rotate(-45)" font-size="9.6" text-anchor="end" >CALR<tspan dy="-3.5" font-size="6.8">+/+</tspan><tspan dy="3.5"></tspan></text>
<text transform="translate(387.5,650.2) rotate(-45)" font-size="9.6" text-anchor="end" >(n=3)</text>
<text transform="translate(421.5,634.8) rotate(-45)" font-size="9.6" text-anchor="end" >CALR<tspan dy="-3.5" font-size="6.8">del/+</tspan><tspan dy="3.5"></tspan></text>
<text transform="translate(425.6,650.2) rotate(-45)" font-size="9.6" text-anchor="end" >(n=3)</text>
<defs><filter id="fb1" x="-30%" y="-30%" width="160%" height="160%"><feGaussianBlur stdDeviation="1.2"/></filter><filter id="fb06" x="-30%" y="-30%" width="160%" height="160%"><feGaussianBlur stdDeviation="0.6"/></filter></defs>
<g filter="url(#fb1)"><path d="M453,567 L453,540 C453,531 458,529 462,530 C467,531 469,536 470,545 L471,556 C470,562 466,567 460,567 Z" fill="#cfcfcf"/><path d="M454.5,565 L454.5,548 C455,541 458,539 460,540 C462,542 463,548 463,556 L463,565 Z" fill="#a8a8a8"/><rect x="455" y="551" width="2.2" height="13" fill="#555"/><rect x="460" y="553" width="2" height="11" fill="#666"/><ellipse cx="485.7" cy="534" rx="4.5" ry="8" fill="#bbb"/><ellipse cx="485.7" cy="533.5" rx="2.4" ry="5" fill="#444"/><ellipse cx="480" cy="527.8" rx="4" ry="1.8" fill="#ddd"/></g>
<ellipse cx="485.7" cy="533.6" rx="1.1" ry="2.2" fill="#111"/>
<g fill="none" stroke="#999" stroke-width="0.5"><path d="M464,532 L471.5,552 L468,560"/><path d="M466,536 L472.5,549"/><ellipse cx="480" cy="527.8" rx="4.2" ry="1.8"/><ellipse cx="485.7" cy="534" rx="4.6" ry="8.2"/></g>
<line x1="473.6" y1="520.5" x2="473.6" y2="567.0" stroke="#8c8c8c" stroke-width="0.9"/>
<line x1="451.8" y1="548.1" x2="500.7" y2="548.1" stroke="#8c8c8c" stroke-width="0.9"/>
<rect x="451.8" y="520.5" width="48.9" height="46.5" fill="none" stroke="#8a8a8a" stroke-width="1"/>
<path d="M451.8,520.5 L451.8,567.0 L500.7,567.0" fill="none" stroke="#333" stroke-width="1.1"/>
<text x="452.6" y="523.8" font-size="3.6" font-weight="bold" fill="#222">Q1</text>
<text x="453.2" y="527.8" font-size="3.6" font-weight="bold" fill="#222" textLength="9.0" lengthAdjust="spacingAndGlyphs">29.9%</text>
<text x="452.6" y="561.4" font-size="3.6" font-weight="bold" fill="#222">Q4</text>
<text x="452.6" y="566.2" font-size="3.6" font-weight="bold" fill="#222" textLength="9.4" lengthAdjust="spacingAndGlyphs">53.4%</text>
<text x="499.6" y="523.8" font-size="3.6" font-weight="bold" fill="#222" text-anchor="end" textLength="3.8" lengthAdjust="spacingAndGlyphs">Q2</text>
<text x="499.6" y="527.8" font-size="3.6" font-weight="bold" fill="#222" text-anchor="end" textLength="9.0" lengthAdjust="spacingAndGlyphs">16.6%</text>
<text x="491.6" y="561.4" font-size="3.6" font-weight="bold" fill="#222" text-anchor="end" textLength="3.6" lengthAdjust="spacingAndGlyphs">Q3</text>
<text x="499.6" y="566.2" font-size="3.6" font-weight="bold" fill="#222" text-anchor="end" textLength="10.4" lengthAdjust="spacingAndGlyphs">0.100%</text>
<text x="440.4" y="528.0" font-size="5.6" font-weight="bold" fill="#333">10<tspan dy="-2.6" font-size="2.4" fill="#777">5</tspan></text>
<text x="440.4" y="537.7" font-size="5.6" font-weight="bold" fill="#333">10<tspan dy="-2.6" font-size="2.4" fill="#777">4</tspan></text>
<text x="440.4" y="549.3" font-size="5.6" font-weight="bold" fill="#333">10<tspan dy="-2.6" font-size="2.4" fill="#777">3</tspan></text>
<text x="440.4" y="560.1" font-size="5.6" font-weight="bold" fill="#333">10<tspan dy="-2.6" font-size="2.4" fill="#777">2</tspan></text>
<text x="442.4" y="565.1" font-size="5.6" font-weight="bold" fill="#333">0</text>
<text x="454.3" y="574.8" font-size="5.6" font-weight="bold" fill="#333">0</text>
<text x="458.8" y="574.8" font-size="5.6" font-weight="bold" fill="#333">10<tspan dy="-2.6" font-size="2.4" fill="#777">2</tspan></text>
<text x="471.7" y="574.8" font-size="5.6" font-weight="bold" fill="#333">10<tspan dy="-2.6" font-size="2.4" fill="#777">3</tspan></text>
<text x="482.4" y="574.8" font-size="5.6" font-weight="bold" fill="#333">10<tspan dy="-2.6" font-size="2.4" fill="#777">4</tspan></text>
<text x="492.1" y="574.8" font-size="5.6" font-weight="bold" fill="#333">10<tspan dy="-2.6" font-size="2.4" fill="#777">5</tspan></text>
<g filter="url(#fb1)"><path d="M453,622 L453,594 C453,586 458,584 462,585 C467,586 469,592 470,600 L471,610 C470,617 466,622 460,622 Z" fill="#d4d4d4"/><path d="M455,600 C455,591 458,588 461,589 C464,590 466,594 466,600 C464,604 457,604 455,600 Z" fill="#aaa"/><rect x="455" y="606" width="2" height="14" fill="#777"/><rect x="459.5" y="604" width="2" height="16" fill="#888"/><ellipse cx="487.3" cy="589.5" rx="3.3" ry="5.5" fill="#bbb"/><ellipse cx="487.3" cy="589.5" rx="1.6" ry="3.4" fill="#777"/></g>
<g fill="none" stroke="#999" stroke-width="0.5"><path d="M465,588 L472,606 L469,614"/><path d="M467,592 L472.5,604"/><ellipse cx="483.8" cy="582.2" rx="5.2" ry="1.8"/><ellipse cx="487.3" cy="589.5" rx="3.4" ry="5.6"/></g>
<line x1="473.6" y1="576.0" x2="473.6" y2="622.6" stroke="#8c8c8c" stroke-width="0.9"/>
<line x1="451.8" y1="603.5" x2="500.7" y2="603.5" stroke="#8c8c8c" stroke-width="0.9"/>
<rect x="451.8" y="576.0" width="48.9" height="46.6" fill="none" stroke="#8a8a8a" stroke-width="1"/>
<path d="M451.8,576.0 L451.8,622.6 L500.7,622.6" fill="none" stroke="#333" stroke-width="1.1"/>
<text x="452.6" y="579.3" font-size="3.6" font-weight="bold" fill="#222">Q1</text>
<text x="453.2" y="583.3" font-size="3.6" font-weight="bold" fill="#222" textLength="9.0" lengthAdjust="spacingAndGlyphs">26.1%</text>
<text x="452.6" y="617.0" font-size="3.6" font-weight="bold" fill="#222">Q4</text>
<text x="452.6" y="621.8000000000001" font-size="3.6" font-weight="bold" fill="#222" textLength="9.4" lengthAdjust="spacingAndGlyphs">63.8%</text>
<text x="499.6" y="579.3" font-size="3.6" font-weight="bold" fill="#222" text-anchor="end" textLength="3.8" lengthAdjust="spacingAndGlyphs">Q2</text>
<text x="499.6" y="583.3" font-size="3.6" font-weight="bold" fill="#222" text-anchor="end" textLength="9.0" lengthAdjust="spacingAndGlyphs">7.62%</text>
<text x="491.6" y="617.0" font-size="3.6" font-weight="bold" fill="#222" text-anchor="end" textLength="3.6" lengthAdjust="spacingAndGlyphs">Q3</text>
<text x="499.6" y="621.8000000000001" font-size="3.6" font-weight="bold" fill="#222" text-anchor="end" textLength="10.4" lengthAdjust="spacingAndGlyphs">0.262%</text>
<text x="440.4" y="583.5" font-size="5.6" font-weight="bold" fill="#333">10<tspan dy="-2.6" font-size="2.4" fill="#777">5</tspan></text>
<text x="440.4" y="593.2" font-size="5.6" font-weight="bold" fill="#333">10<tspan dy="-2.6" font-size="2.4" fill="#777">4</tspan></text>
<text x="440.4" y="604.8" font-size="5.6" font-weight="bold" fill="#333">10<tspan dy="-2.6" font-size="2.4" fill="#777">3</tspan></text>
<text x="440.4" y="615.6" font-size="5.6" font-weight="bold" fill="#333">10<tspan dy="-2.6" font-size="2.4" fill="#777">2</tspan></text>
<text x="442.4" y="620.6" font-size="5.6" font-weight="bold" fill="#333">0</text>
<text x="454.3" y="630.4" font-size="5.6" font-weight="bold" fill="#333">0</text>
<text x="458.8" y="630.4" font-size="5.6" font-weight="bold" fill="#333">10<tspan dy="-2.6" font-size="2.4" fill="#777">2</tspan></text>
<text x="471.7" y="630.4" font-size="5.6" font-weight="bold" fill="#333">10<tspan dy="-2.6" font-size="2.4" fill="#777">3</tspan></text>
<text x="482.4" y="630.4" font-size="5.6" font-weight="bold" fill="#333">10<tspan dy="-2.6" font-size="2.4" fill="#777">4</tspan></text>
<text x="492.1" y="630.4" font-size="5.6" font-weight="bold" fill="#333">10<tspan dy="-2.6" font-size="2.4" fill="#777">5</tspan></text>
<text transform="translate(511.6,543.6) rotate(-90)" font-size="7.2" font-weight="bold" fill="#222" text-anchor="middle" textLength="22.3" lengthAdjust="spacingAndGlyphs">CALR<tspan dy="-2.6" font-size="4.6">+/+</tspan></text>
<text transform="translate(511.6,600.2) rotate(-90)" font-size="7.2" font-weight="bold" fill="#222" text-anchor="middle" textLength="25.8" lengthAdjust="spacingAndGlyphs">CALR<tspan dy="-2.6" font-size="4.6">del/+</tspan></text>
<line x1="435.8" y1="621" x2="435.8" y2="602" stroke="#111" stroke-width="1.3"/>
<polygon points="435.8,598.2 433.3,603.5 438.3,603.5" fill="#111"/>
<line x1="452.3" y1="639.7" x2="473.5" y2="639.7" stroke="#111" stroke-width="1.3"/>
<polygon points="477.8,639.7 472.5,637.2 472.5,642.2" fill="#111"/>
<text transform="translate(438.4,587.0) rotate(-90)" font-size="7.6" font-weight="normal" fill="#222" text-anchor="middle" textLength="15.4" lengthAdjust="spacingAndGlyphs">CD71</text>
<text x="481.2" y="642.1" font-size="8.4" font-weight="normal" fill="#222" textLength="18.6" lengthAdjust="spacingAndGlyphs">Ter119</text>
<rect x="0.5" y="0.5" width="519" height="674" fill="none" stroke="#000" stroke-width="1"/>
<rect x="1.5" y="1.5" width="517" height="672" fill="none" stroke="#8a8a8a" stroke-width="1"/>
</svg>
</body></html>
